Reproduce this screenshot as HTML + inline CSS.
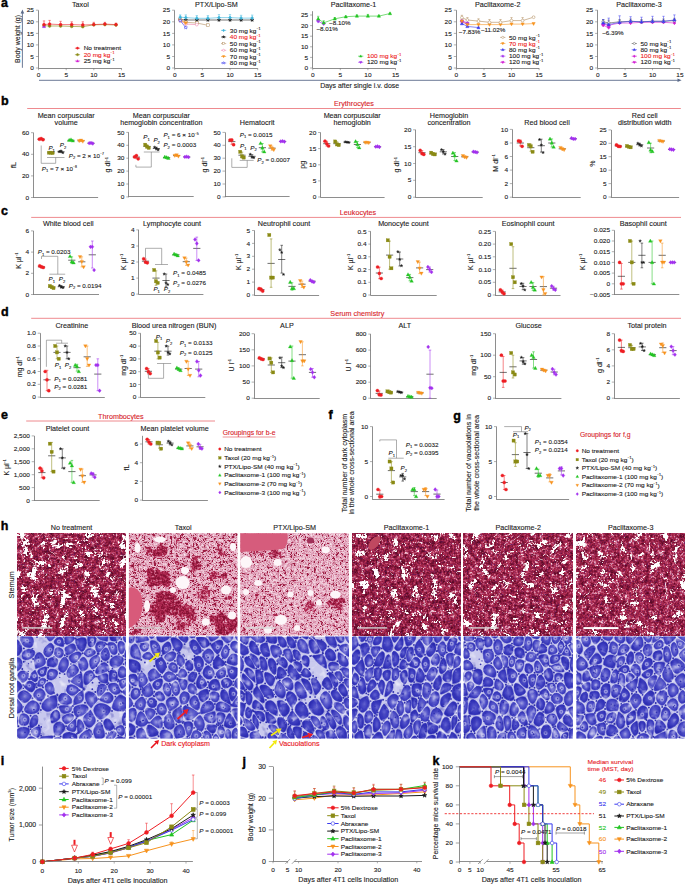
<!DOCTYPE html>
<html><head><meta charset="utf-8"><title>figure</title>
<style>
html,body{margin:0;padding:0;background:#fff;}
svg{display:block;}
text{font-family:"Liberation Sans",sans-serif;stroke:#222222;stroke-width:0.11px;}
</style></head><body>
<svg width="685" height="884" viewBox="0 0 685 884">
<rect width="685" height="884" fill="#fff"/>
<g fill="#222222">
<text x="1" y="7" font-size="12.50" fill="#000" style="stroke:#000;stroke-width:0.4px" font-weight="bold">a</text>
<path d="M20.6 13.6L22.4 9.6L24.2 13.6Z" fill="#5b6b8a"/>
<text x="20" y="39" font-size="6.90" text-anchor="middle" transform="rotate(-90 20 39)">Body weight (g)</text>
<path d="M677.5 78.5L681.6 80.3L677.5 82.1Z" fill="#5b6b8a"/>
<text x="359.7" y="88.4" font-size="6.50" text-anchor="middle" transform="translate(359.7 88.4) scale(1.07 1) translate(-359.7 -88.4)">Days after single i.v. dose</text>
<text x="33.9" y="70.2" font-size="6.07" text-anchor="end" transform="translate(33.9 70.2) scale(1.07 1) translate(-33.9 -70.2)">0</text>
<text x="33.9" y="58.7" font-size="6.07" text-anchor="end" transform="translate(33.9 58.7) scale(1.07 1) translate(-33.9 -58.7)">5</text>
<text x="33.9" y="47.1" font-size="6.07" text-anchor="end" transform="translate(33.9 47.1) scale(1.07 1) translate(-33.9 -47.1)">10</text>
<text x="33.9" y="35.6" font-size="6.07" text-anchor="end" transform="translate(33.9 35.6) scale(1.07 1) translate(-33.9 -35.6)">15</text>
<text x="33.9" y="24" font-size="6.07" text-anchor="end" transform="translate(33.9 24) scale(1.07 1) translate(-33.9 -24)">20</text>
<text x="33.9" y="12.4" font-size="6.07" text-anchor="end" transform="translate(33.9 12.4) scale(1.07 1) translate(-33.9 -12.4)">25</text>
<text x="38.5" y="77" font-size="6.07" text-anchor="middle" transform="translate(38.5 77) scale(1.07 1) translate(-38.5 -77)">0</text>
<text x="66.2" y="77" font-size="6.07" text-anchor="middle" transform="translate(66.2 77) scale(1.07 1) translate(-66.2 -77)">5</text>
<text x="93.8" y="77" font-size="6.07" text-anchor="middle" transform="translate(93.8 77) scale(1.07 1) translate(-93.8 -77)">10</text>
<text x="121.5" y="77" font-size="6.07" text-anchor="middle" transform="translate(121.5 77) scale(1.07 1) translate(-121.5 -77)">15</text>
<text x="80.4" y="7" font-size="6.86" text-anchor="middle" transform="translate(80.4 7) scale(1.05 1) translate(-80.4 -7)">Taxol</text>
<polyline points="44,25.7 49.6,26 60.6,26 71.7,26.4 82.8,26.7 93.8,24.8 104.9,24.6 116,25" fill="none" stroke="#8a8a14" stroke-width="0.6"/>
<polyline points="44,26.4" fill="none" stroke="#a230ee" stroke-width="0.6"/>
<polyline points="44,24.6 49.6,24.1 60.6,24.6 71.7,24.6 82.8,25 93.8,24.6 104.9,24.1 116,24.6" fill="none" stroke="#ee1d23" stroke-width="0.6"/>
<text x="83.7" y="50.4" font-size="6.07" transform="translate(83.7 50.4) scale(1.07 1) translate(-83.7 -50.4)">No treatment</text>
<text x="83.7" y="56.9" font-size="6.07" fill="#ee1d23" style="stroke:#ee1d23" transform="translate(83.7 56.9) scale(1.07 1) translate(-83.7 -56.9)">20 mg kg<tspan font-size="3.4" dy="-2.5">−1</tspan></text>
<text x="83.7" y="63.2" font-size="6.07" transform="translate(83.7 63.2) scale(1.07 1) translate(-83.7 -63.2)">25 mg kg<tspan font-size="3.4" dy="-2.5">−1</tspan></text>
<path d="M22.4 67.8L22.4 12.5M39 80.3L678.5 80.3" stroke="#5b6b8a" stroke-width="0.9" fill="none"/>
<path d="M38.5 10.3L38.5 68.3M38.5 68.5L121.5 68.5" stroke="#7a7a7a" stroke-width="0.85" fill="none"/>
<path d="M35.9 68L38.5 68M35.9 56.5L38.5 56.5M35.9 44.9L38.5 44.9M35.9 33.4L38.5 33.4M35.9 21.8L38.5 21.8M35.9 10.2L38.5 10.2M38.5 68L38.5 70.2M66.2 68L66.2 70.2M93.8 68L93.8 70.2M121.5 68L121.5 70.2" stroke="#7a7a7a" stroke-width="0.6" fill="none"/>
<path d="M44 24.6L44 20.9M42.8 20.9L45.2 20.9M49.6 24.1L49.6 20.4M48.4 20.4L50.8 20.4M60.6 24.6L60.6 21.3M59.4 21.3L61.8 21.3M71.7 24.6L71.7 21.8M70.5 21.8L72.9 21.8M82.8 25L82.8 21.8M81.6 21.8L84 21.8M93.8 24.6L93.8 22.3M92.6 22.3L95 22.3M104.9 24.1L104.9 22.3M103.7 22.3L106.1 22.3M116 24.6L116 23.2M114.8 23.2L117.2 23.2" stroke="#ee1d23" stroke-width="0.5" fill="none"/>
<path d="M74.9 48.2L80.1 48.2" stroke="#ee1d23" stroke-width="0.6" fill="none"/>
<path d="M74.9 54.7L80.1 54.7" stroke="#8a8a14" stroke-width="0.6" fill="none"/>
<path d="M74.9 61L80.1 61" stroke="#d21ed2" stroke-width="0.6" fill="none"/>
<circle cx="44" cy="25.7" r="1.4" fill="#8a8a14" stroke="#8a8a14" stroke-width="0.5"/>
<circle cx="49.6" cy="26" r="1.4" fill="#8a8a14" stroke="#8a8a14" stroke-width="0.5"/>
<circle cx="60.6" cy="26" r="1.4" fill="#8a8a14" stroke="#8a8a14" stroke-width="0.5"/>
<circle cx="71.7" cy="26.4" r="1.4" fill="#8a8a14" stroke="#8a8a14" stroke-width="0.5"/>
<circle cx="82.8" cy="26.7" r="1.4" fill="#8a8a14" stroke="#8a8a14" stroke-width="0.5"/>
<circle cx="93.8" cy="24.8" r="1.4" fill="#8a8a14" stroke="#8a8a14" stroke-width="0.5"/>
<circle cx="104.9" cy="24.6" r="1.4" fill="#8a8a14" stroke="#8a8a14" stroke-width="0.5"/>
<circle cx="116" cy="25" r="1.4" fill="#8a8a14" stroke="#8a8a14" stroke-width="0.5"/>
<path d="M44 24.7L45.6 27.6L42.4 27.6Z" fill="#a230ee" stroke="#a230ee" stroke-width="0.5"/>
<circle cx="44" cy="24.6" r="1.4" fill="#ee1d23" stroke="#ee1d23" stroke-width="0.5"/>
<circle cx="49.6" cy="24.1" r="1.4" fill="#ee1d23" stroke="#ee1d23" stroke-width="0.5"/>
<circle cx="60.6" cy="24.6" r="1.4" fill="#ee1d23" stroke="#ee1d23" stroke-width="0.5"/>
<circle cx="71.7" cy="24.6" r="1.4" fill="#ee1d23" stroke="#ee1d23" stroke-width="0.5"/>
<circle cx="82.8" cy="25" r="1.4" fill="#ee1d23" stroke="#ee1d23" stroke-width="0.5"/>
<circle cx="93.8" cy="24.6" r="1.4" fill="#ee1d23" stroke="#ee1d23" stroke-width="0.5"/>
<circle cx="104.9" cy="24.1" r="1.4" fill="#ee1d23" stroke="#ee1d23" stroke-width="0.5"/>
<circle cx="116" cy="24.6" r="1.4" fill="#ee1d23" stroke="#ee1d23" stroke-width="0.5"/>
<circle cx="77.5" cy="48.2" r="1.1" fill="#ee1d23" stroke="#ee1d23" stroke-width="0.45"/>
<circle cx="77.5" cy="54.7" r="1.1" fill="#8a8a14" stroke="#8a8a14" stroke-width="0.45"/>
<path d="M77.5 59.7L78.7 61.9L76.3 61.9Z" fill="#d21ed2" stroke="#d21ed2" stroke-width="0.45"/>
<text x="170.1" y="70.2" font-size="6.07" text-anchor="end" transform="translate(170.1 70.2) scale(1.07 1) translate(-170.1 -70.2)">0</text>
<text x="170.1" y="58.7" font-size="6.07" text-anchor="end" transform="translate(170.1 58.7) scale(1.07 1) translate(-170.1 -58.7)">5</text>
<text x="170.1" y="47.1" font-size="6.07" text-anchor="end" transform="translate(170.1 47.1) scale(1.07 1) translate(-170.1 -47.1)">10</text>
<text x="170.1" y="35.6" font-size="6.07" text-anchor="end" transform="translate(170.1 35.6) scale(1.07 1) translate(-170.1 -35.6)">15</text>
<text x="170.1" y="24" font-size="6.07" text-anchor="end" transform="translate(170.1 24) scale(1.07 1) translate(-170.1 -24)">20</text>
<text x="170.1" y="12.4" font-size="6.07" text-anchor="end" transform="translate(170.1 12.4) scale(1.07 1) translate(-170.1 -12.4)">25</text>
<text x="174.7" y="77" font-size="6.07" text-anchor="middle" transform="translate(174.7 77) scale(1.07 1) translate(-174.7 -77)">0</text>
<text x="202.4" y="77" font-size="6.07" text-anchor="middle" transform="translate(202.4 77) scale(1.07 1) translate(-202.4 -77)">5</text>
<text x="230" y="77" font-size="6.07" text-anchor="middle" transform="translate(230 77) scale(1.07 1) translate(-230 -77)">10</text>
<text x="257.7" y="77" font-size="6.07" text-anchor="middle" transform="translate(257.7 77) scale(1.07 1) translate(-257.7 -77)">15</text>
<text x="216.4" y="7" font-size="6.86" text-anchor="middle" transform="translate(216.4 7) scale(1.05 1) translate(-216.4 -7)">PTX/Lipo-SM</text>
<polyline points="180.2,19.5 185.8,20 196.8,20 207.9,20 219,20 230,20 241.1,20 252.2,20" fill="none" stroke="#1a1a1a" stroke-width="0.6"/>
<polyline points="180.2,19.5 185.8,22.3 196.8,23 207.9,25.3" fill="none" stroke="#b08a5a" stroke-width="0.6"/>
<polyline points="180.2,20.6 185.8,24.1 196.8,24.6" fill="none" stroke="#f07aa8" stroke-width="0.6"/>
<polyline points="180.2,20.6 185.8,23" fill="none" stroke="#f7931e" stroke-width="0.6"/>
<polyline points="180.2,20.6 185.8,27.6" fill="none" stroke="#3a3aee" stroke-width="0.6"/>
<polyline points="180.2,17.2 185.8,17.6 196.8,18.3 207.9,18.3 219,17.6 230,17.6 241.1,18.1 252.2,18.1" fill="none" stroke="#3fb6dc" stroke-width="0.6"/>
<text x="229.8" y="32.6" font-size="6.07" transform="translate(229.8 32.6) scale(1.07 1) translate(-229.8 -32.6)">30 mg kg<tspan font-size="3.4" dy="-2.5">−1</tspan></text>
<text x="229.8" y="39.2" font-size="6.07" fill="#ee1d23" style="stroke:#ee1d23" transform="translate(229.8 39.2) scale(1.07 1) translate(-229.8 -39.2)">40 mg kg<tspan font-size="3.4" dy="-2.5">−1</tspan></text>
<text x="229.8" y="45.8" font-size="6.07" transform="translate(229.8 45.8) scale(1.07 1) translate(-229.8 -45.8)">50 mg kg<tspan font-size="3.4" dy="-2.5">−1</tspan></text>
<text x="229.8" y="52.5" font-size="6.07" transform="translate(229.8 52.5) scale(1.07 1) translate(-229.8 -52.5)">60 mg kg<tspan font-size="3.4" dy="-2.5">−1</tspan></text>
<text x="229.8" y="58.7" font-size="6.07" transform="translate(229.8 58.7) scale(1.07 1) translate(-229.8 -58.7)">70 mg kg<tspan font-size="3.4" dy="-2.5">−1</tspan></text>
<text x="229.8" y="65.2" font-size="6.07" transform="translate(229.8 65.2) scale(1.07 1) translate(-229.8 -65.2)">80 mg kg<tspan font-size="3.4" dy="-2.5">−1</tspan></text>
<path d="M174.5 10.3L174.5 68.3M174.7 68.5L257.7 68.5" stroke="#7a7a7a" stroke-width="0.85" fill="none"/>
<path d="M172.1 68L174.7 68M172.1 56.5L174.7 56.5M172.1 44.9L174.7 44.9M172.1 33.4L174.7 33.4M172.1 21.8L174.7 21.8M172.1 10.2L174.7 10.2M174.7 68L174.7 70.2M202.4 68L202.4 70.2M230 68L230 70.2M257.7 68L257.7 70.2" stroke="#7a7a7a" stroke-width="0.6" fill="none"/>
<path d="M180.2 19.5L180.2 18.1M179 18.1L181.4 18.1M185.8 22.3L185.8 21.1M184.6 21.1L187 21.1M196.8 23L196.8 21.8M195.6 21.8L198 21.8M207.9 25.3L207.9 24.1M206.7 24.1L209.1 24.1" stroke="#b08a5a" stroke-width="0.5" fill="none"/>
<path d="M180.2 17.2L180.2 14.9M179 14.9L181.4 14.9M185.8 17.6L185.8 14.9M184.6 14.9L187 14.9M196.8 18.3L196.8 15.6M195.6 15.6L198 15.6M207.9 18.3L207.9 15.6M206.7 15.6L209.1 15.6M219 17.6L219 14.6M217.8 14.6L220.2 14.6M230 17.6L230 14.6M228.8 14.6L231.2 14.6M241.1 18.1L241.1 15.3M239.9 15.3L242.3 15.3M252.2 18.1L252.2 15.1M251 15.1L253.4 15.1" stroke="#3fb6dc" stroke-width="0.5" fill="none"/>
<path d="M221 30.4L226.2 30.4" stroke="#3fb6dc" stroke-width="0.6" fill="none"/>
<path d="M221 37L226.2 37" stroke="#1a1a1a" stroke-width="0.6" fill="none"/>
<path d="M221 43.6L226.2 43.6" stroke="#b08a5a" stroke-width="0.6" fill="none"/>
<path d="M221 50.3L226.2 50.3" stroke="#f07aa8" stroke-width="0.6" fill="none"/>
<path d="M221 56.5L226.2 56.5" stroke="#f7931e" stroke-width="0.6" fill="none"/>
<path d="M221 63L226.2 63" stroke="#3a3aee" stroke-width="0.6" fill="none"/>
<path d="M180.2 17.7L180.7 18.9L182 18.9L180.9 19.7L181.3 21L180.2 20.2L179.2 21L179.5 19.7L178.5 18.9L179.8 18.9Z" fill="#1a1a1a" stroke="#1a1a1a" stroke-width="0.5"/>
<path d="M185.8 18.1L186.2 19.4L187.5 19.4L186.5 20.2L186.8 21.4L185.8 20.7L184.7 21.4L185.1 20.2L184 19.4L185.3 19.4Z" fill="#1a1a1a" stroke="#1a1a1a" stroke-width="0.5"/>
<path d="M196.8 18.1L197.3 19.4L198.6 19.4L197.5 20.2L197.9 21.4L196.8 20.7L195.8 21.4L196.1 20.2L195.1 19.4L196.4 19.4Z" fill="#1a1a1a" stroke="#1a1a1a" stroke-width="0.5"/>
<path d="M207.9 18.1L208.3 19.4L209.6 19.4L208.6 20.2L209 21.4L207.9 20.7L206.8 21.4L207.2 20.2L206.2 19.4L207.5 19.4Z" fill="#1a1a1a" stroke="#1a1a1a" stroke-width="0.5"/>
<path d="M219 18.1L219.4 19.4L220.7 19.4L219.7 20.2L220 21.4L219 20.7L217.9 21.4L218.3 20.2L217.2 19.4L218.5 19.4Z" fill="#1a1a1a" stroke="#1a1a1a" stroke-width="0.5"/>
<path d="M230 18.1L230.5 19.4L231.8 19.4L230.7 20.2L231.1 21.4L230 20.7L229 21.4L229.3 20.2L228.3 19.4L229.6 19.4Z" fill="#1a1a1a" stroke="#1a1a1a" stroke-width="0.5"/>
<path d="M241.1 18.1L241.5 19.4L242.8 19.4L241.8 20.2L242.2 21.4L241.1 20.7L240 21.4L240.4 20.2L239.4 19.4L240.7 19.4Z" fill="#1a1a1a" stroke="#1a1a1a" stroke-width="0.5"/>
<path d="M252.2 18.1L252.6 19.4L253.9 19.4L252.9 20.2L253.2 21.4L252.2 20.7L251.1 21.4L251.5 20.2L250.4 19.4L251.7 19.4Z" fill="#1a1a1a" stroke="#1a1a1a" stroke-width="0.5"/>
<rect x="178.8" y="18" width="2.9" height="2.9" fill="#fff" stroke="#b08a5a" stroke-width="0.5"/>
<rect x="184.3" y="20.8" width="2.9" height="2.9" fill="#fff" stroke="#b08a5a" stroke-width="0.5"/>
<rect x="195.4" y="21.5" width="2.9" height="2.9" fill="#fff" stroke="#b08a5a" stroke-width="0.5"/>
<rect x="206.4" y="23.8" width="2.9" height="2.9" fill="#fff" stroke="#b08a5a" stroke-width="0.5"/>
<circle cx="180.2" cy="20.6" r="1.4" fill="#fff" stroke="#f07aa8" stroke-width="0.5"/>
<circle cx="185.8" cy="24.1" r="1.4" fill="#fff" stroke="#f07aa8" stroke-width="0.5"/>
<circle cx="196.8" cy="24.6" r="1.4" fill="#fff" stroke="#f07aa8" stroke-width="0.5"/>
<path d="M180.2 22.4L181.8 19.5L178.6 19.5Z" fill="#f7931e" stroke="#f7931e" stroke-width="0.5"/>
<path d="M185.8 24.7L187.4 21.8L184.2 21.8Z" fill="#f7931e" stroke="#f7931e" stroke-width="0.5"/>
<path d="M180.2 18.8L180.7 20.1L182 20.1L180.9 20.9L181.3 22.1L180.2 21.4L179.2 22.1L179.5 20.9L178.5 20.1L179.8 20.1Z" fill="#fff" stroke="#3a3aee" stroke-width="0.5"/>
<path d="M185.8 25.8L186.2 27L187.5 27L186.5 27.8L186.8 29L185.8 28.3L184.7 29L185.1 27.8L184 27L185.3 27Z" fill="#fff" stroke="#3a3aee" stroke-width="0.5"/>
<path d="M180.2 15.4L181.7 17.2L180.2 18.9L178.8 17.2Z" fill="#3fb6dc" stroke="#3fb6dc" stroke-width="0.5"/>
<path d="M185.8 15.9L187.2 17.6L185.8 19.4L184.3 17.6Z" fill="#3fb6dc" stroke="#3fb6dc" stroke-width="0.5"/>
<path d="M196.8 16.6L198.3 18.3L196.8 20.1L195.4 18.3Z" fill="#3fb6dc" stroke="#3fb6dc" stroke-width="0.5"/>
<path d="M207.9 16.6L209.3 18.3L207.9 20.1L206.4 18.3Z" fill="#3fb6dc" stroke="#3fb6dc" stroke-width="0.5"/>
<path d="M219 15.9L220.4 17.6L219 19.4L217.5 17.6Z" fill="#3fb6dc" stroke="#3fb6dc" stroke-width="0.5"/>
<path d="M230 15.9L231.5 17.6L230 19.4L228.6 17.6Z" fill="#3fb6dc" stroke="#3fb6dc" stroke-width="0.5"/>
<path d="M241.1 16.4L242.5 18.1L241.1 19.8L239.7 18.1Z" fill="#3fb6dc" stroke="#3fb6dc" stroke-width="0.5"/>
<path d="M252.2 16.4L253.6 18.1L252.2 19.8L250.7 18.1Z" fill="#3fb6dc" stroke="#3fb6dc" stroke-width="0.5"/>
<path d="M223.6 29.1L224.7 30.4L223.6 31.7L222.5 30.4Z" fill="#3fb6dc" stroke="#3fb6dc" stroke-width="0.45"/>
<path d="M223.6 35.6L223.9 36.6L224.9 36.6L224.1 37.2L224.4 38.1L223.6 37.5L222.8 38.1L223.1 37.2L222.3 36.6L223.3 36.6Z" fill="#1a1a1a" stroke="#1a1a1a" stroke-width="0.45"/>
<rect x="222.5" y="42.5" width="2.2" height="2.2" fill="#fff" stroke="#b08a5a" stroke-width="0.45"/>
<circle cx="223.6" cy="50.3" r="1.1" fill="#fff" stroke="#f07aa8" stroke-width="0.45"/>
<path d="M223.6 57.8L224.8 55.6L222.4 55.6Z" fill="#f7931e" stroke="#f7931e" stroke-width="0.45"/>
<path d="M223.6 61.6L223.9 62.6L224.9 62.6L224.1 63.2L224.4 64.1L223.6 63.5L222.8 64.1L223.1 63.2L222.3 62.6L223.3 62.6Z" fill="#fff" stroke="#3a3aee" stroke-width="0.45"/>
<text x="308.1" y="70.2" font-size="6.07" text-anchor="end" transform="translate(308.1 70.2) scale(1.07 1) translate(-308.1 -70.2)">0</text>
<text x="308.1" y="59.6" font-size="6.07" text-anchor="end" transform="translate(308.1 59.6) scale(1.07 1) translate(-308.1 -59.6)">5</text>
<text x="308.1" y="49" font-size="6.07" text-anchor="end" transform="translate(308.1 49) scale(1.07 1) translate(-308.1 -49)">10</text>
<text x="308.1" y="38.4" font-size="6.07" text-anchor="end" transform="translate(308.1 38.4) scale(1.07 1) translate(-308.1 -38.4)">15</text>
<text x="308.1" y="27.8" font-size="6.07" text-anchor="end" transform="translate(308.1 27.8) scale(1.07 1) translate(-308.1 -27.8)">20</text>
<text x="308.1" y="17.2" font-size="6.07" text-anchor="end" transform="translate(308.1 17.2) scale(1.07 1) translate(-308.1 -17.2)">25</text>
<text x="312.7" y="77" font-size="6.07" text-anchor="middle" transform="translate(312.7 77) scale(1.07 1) translate(-312.7 -77)">0</text>
<text x="340.3" y="77" font-size="6.07" text-anchor="middle" transform="translate(340.3 77) scale(1.07 1) translate(-340.3 -77)">5</text>
<text x="367.9" y="77" font-size="6.07" text-anchor="middle" transform="translate(367.9 77) scale(1.07 1) translate(-367.9 -77)">10</text>
<text x="395.5" y="77" font-size="6.07" text-anchor="middle" transform="translate(395.5 77) scale(1.07 1) translate(-395.5 -77)">15</text>
<text x="353.6" y="7" font-size="6.86" text-anchor="middle" transform="translate(353.6 7) scale(1.05 1) translate(-353.6 -7)">Paclitaxome-1</text>
<polyline points="318.2,21.4 323.7,23.9" fill="none" stroke="#a230ee" stroke-width="0.6"/>
<polyline points="318.2,18.8 323.7,22.8 334.8,18.8 345.8,16.7 356.9,16.1 367.9,16.1 378.9,16.1 390,13.5" fill="none" stroke="#22c422" stroke-width="0.6"/>
<text x="366.9" y="58.4" font-size="6.07" fill="#ee1d23" style="stroke:#ee1d23" transform="translate(366.9 58.4) scale(1.07 1) translate(-366.9 -58.4)">100 mg kg<tspan font-size="3.4" dy="-2.5">−1</tspan></text>
<text x="366.9" y="64.5" font-size="6.07" transform="translate(366.9 64.5) scale(1.07 1) translate(-366.9 -64.5)">120 mg kg<tspan font-size="3.4" dy="-2.5">−1</tspan></text>
<text x="329" y="25.1" font-size="5.89" transform="translate(329 25.1) scale(1.07 1) translate(-329 -25.1)">−8.10%</text>
<text x="316.4" y="31" font-size="5.89" transform="translate(316.4 31) scale(1.07 1) translate(-316.4 -31)">−8.01%</text>
<path d="M312.5 11.2L312.5 68.3M312.7 68.5L395.5 68.5" stroke="#7a7a7a" stroke-width="0.85" fill="none"/>
<path d="M310.1 68L312.7 68M310.1 57.4L312.7 57.4M310.1 46.8L312.7 46.8M310.1 36.2L312.7 36.2M310.1 25.6L312.7 25.6M310.1 15L312.7 15M312.7 68L312.7 70.2M340.3 68L340.3 70.2M367.9 68L367.9 70.2M395.5 68L395.5 70.2" stroke="#7a7a7a" stroke-width="0.6" fill="none"/>
<path d="M318.2 18.8L318.2 16.3M317 16.3L319.4 16.3M323.7 22.8L323.7 20.7M322.5 20.7L324.9 20.7M334.8 18.8L334.8 17.5M333.6 17.5L336 17.5M345.8 16.7L345.8 16.1M344.6 16.1L347 16.1M356.9 16.1L356.9 15M355.7 15L358.1 15M367.9 16.1L367.9 14.4M366.7 14.4L369.1 14.4M378.9 16.1L378.9 15.4M377.7 15.4L380.1 15.4M390 13.5L390 13.1M388.8 13.1L391.2 13.1" stroke="#22c422" stroke-width="0.5" fill="none"/>
<path d="M358.1 56.2L363.3 56.2" stroke="#22c422" stroke-width="0.6" fill="none"/>
<path d="M358.1 62.3L363.3 62.3" stroke="#a230ee" stroke-width="0.6" fill="none"/>
<path d="M318.2 23.1L319.8 21.1A0.8 0.8 0 0 0 318.2 20.6A0.8 0.8 0 0 0 316.6 21.1Z" fill="#a230ee" stroke="#a230ee" stroke-width="0.5"/>
<path d="M323.7 25.6L325.3 23.6A0.8 0.8 0 0 0 323.7 23.2A0.8 0.8 0 0 0 322.1 23.6Z" fill="#a230ee" stroke="#a230ee" stroke-width="0.5"/>
<path d="M318.2 17.1L319.8 20L316.6 20Z" fill="#22c422" stroke="#22c422" stroke-width="0.5"/>
<path d="M323.7 21.1L325.3 24L322.1 24Z" fill="#22c422" stroke="#22c422" stroke-width="0.5"/>
<path d="M334.8 17.1L336.4 20L333.2 20Z" fill="#22c422" stroke="#22c422" stroke-width="0.5"/>
<path d="M345.8 15L347.4 17.9L344.2 17.9Z" fill="#22c422" stroke="#22c422" stroke-width="0.5"/>
<path d="M356.9 14.3L358.5 17.2L355.3 17.2Z" fill="#22c422" stroke="#22c422" stroke-width="0.5"/>
<path d="M367.9 14.3L369.5 17.2L366.3 17.2Z" fill="#22c422" stroke="#22c422" stroke-width="0.5"/>
<path d="M378.9 14.3L380.5 17.2L377.3 17.2Z" fill="#22c422" stroke="#22c422" stroke-width="0.5"/>
<path d="M390 11.8L391.6 14.7L388.4 14.7Z" fill="#22c422" stroke="#22c422" stroke-width="0.5"/>
<path d="M360.7 54.9L361.9 57.1L359.5 57.1Z" fill="#22c422" stroke="#22c422" stroke-width="0.45"/>
<path d="M360.7 63.6L361.9 62.1A0.6 0.6 0 0 0 360.7 61.8A0.6 0.6 0 0 0 359.5 62.1Z" fill="#a230ee" stroke="#a230ee" stroke-width="0.45"/>
<text x="451.8" y="70.2" font-size="6.07" text-anchor="end" transform="translate(451.8 70.2) scale(1.07 1) translate(-451.8 -70.2)">0</text>
<text x="451.8" y="58.7" font-size="6.07" text-anchor="end" transform="translate(451.8 58.7) scale(1.07 1) translate(-451.8 -58.7)">5</text>
<text x="451.8" y="47.1" font-size="6.07" text-anchor="end" transform="translate(451.8 47.1) scale(1.07 1) translate(-451.8 -47.1)">10</text>
<text x="451.8" y="35.6" font-size="6.07" text-anchor="end" transform="translate(451.8 35.6) scale(1.07 1) translate(-451.8 -35.6)">15</text>
<text x="451.8" y="24" font-size="6.07" text-anchor="end" transform="translate(451.8 24) scale(1.07 1) translate(-451.8 -24)">20</text>
<text x="451.8" y="12.4" font-size="6.07" text-anchor="end" transform="translate(451.8 12.4) scale(1.07 1) translate(-451.8 -12.4)">25</text>
<text x="456.4" y="77" font-size="6.07" text-anchor="middle" transform="translate(456.4 77) scale(1.07 1) translate(-456.4 -77)">0</text>
<text x="484" y="77" font-size="6.07" text-anchor="middle" transform="translate(484 77) scale(1.07 1) translate(-484 -77)">5</text>
<text x="511.5" y="77" font-size="6.07" text-anchor="middle" transform="translate(511.5 77) scale(1.07 1) translate(-511.5 -77)">10</text>
<text x="539.1" y="77" font-size="6.07" text-anchor="middle" transform="translate(539.1 77) scale(1.07 1) translate(-539.1 -77)">15</text>
<text x="497.7" y="7" font-size="6.86" text-anchor="middle" transform="translate(497.7 7) scale(1.05 1) translate(-497.7 -7)">Paclitaxome-2</text>
<polyline points="461.9,21.8 467.4,24.1" fill="none" stroke="#d21ed2" stroke-width="0.6"/>
<polyline points="461.9,20.6 467.4,23" fill="none" stroke="#a230ee" stroke-width="0.6"/>
<polyline points="461.9,23.6 467.4,26.4 478.5,27.6" fill="none" stroke="#3a3aee" stroke-width="0.6"/>
<polyline points="461.9,21.1 467.4,24.6 478.5,24.6 489.5,24.6 500.5,24.6 511.5,24.1 522.6,24.1 533.6,23.6" fill="none" stroke="#f7931e" stroke-width="0.6"/>
<polyline points="461.9,17.6 467.4,20 478.5,21.1 489.5,22.3 500.5,22.3 511.5,20.6 522.6,20.6 533.6,17.2" fill="none" stroke="#b08a5a" stroke-width="0.6"/>
<text x="509" y="39.6" font-size="6.07" transform="translate(509 39.6) scale(1.07 1) translate(-509 -39.6)">50 mg kg<tspan font-size="3.4" dy="-2.5">−1</tspan></text>
<text x="509" y="45.7" font-size="6.07" fill="#ee1d23" style="stroke:#ee1d23" transform="translate(509 45.7) scale(1.07 1) translate(-509 -45.7)">70 mg kg<tspan font-size="3.4" dy="-2.5">−1</tspan></text>
<text x="509" y="51.9" font-size="6.07" transform="translate(509 51.9) scale(1.07 1) translate(-509 -51.9)">80 mg kg<tspan font-size="3.4" dy="-2.5">−1</tspan></text>
<text x="509" y="58.4" font-size="6.07" transform="translate(509 58.4) scale(1.07 1) translate(-509 -58.4)">100 mg kg<tspan font-size="3.4" dy="-2.5">−1</tspan></text>
<text x="509" y="64.5" font-size="6.07" transform="translate(509 64.5) scale(1.07 1) translate(-509 -64.5)">120 mg kg<tspan font-size="3.4" dy="-2.5">−1</tspan></text>
<text x="458.8" y="34.3" font-size="5.89" transform="translate(458.8 34.3) scale(1.07 1) translate(-458.8 -34.3)">−7.83%</text>
<text x="480.9" y="32" font-size="5.89" transform="translate(480.9 32) scale(1.07 1) translate(-480.9 -32)">−11.02%</text>
<path d="M456.5 10.2L456.5 68.3M456.4 68.5L539.1 68.5" stroke="#7a7a7a" stroke-width="0.85" fill="none"/>
<path d="M453.8 68L456.4 68M453.8 56.5L456.4 56.5M453.8 44.9L456.4 44.9M453.8 33.4L456.4 33.4M453.8 21.8L456.4 21.8M453.8 10.2L456.4 10.2M456.4 68L456.4 70.2M484 68L484 70.2M511.5 68L511.5 70.2M539.1 68L539.1 70.2" stroke="#7a7a7a" stroke-width="0.6" fill="none"/>
<path d="M461.9 17.6L461.9 15.3M460.7 15.3L463.1 15.3M467.4 20L467.4 17.6M466.2 17.6L468.6 17.6M478.5 21.1L478.5 18.8M477.3 18.8L479.7 18.8M489.5 22.3L489.5 19.5M488.3 19.5L490.7 19.5M500.5 22.3L500.5 19.5M499.3 19.5L501.7 19.5M511.5 20.6L511.5 17.6M510.3 17.6L512.7 17.6M522.6 20.6L522.6 17.6M521.4 17.6L523.8 17.6M533.6 17.2L533.6 16.5M532.4 16.5L534.8 16.5" stroke="#b08a5a" stroke-width="0.5" fill="none"/>
<path d="M500.2 37.4L505.4 37.4" stroke="#b08a5a" stroke-width="0.6" fill="none"/>
<path d="M500.2 43.5L505.4 43.5" stroke="#f7931e" stroke-width="0.6" fill="none"/>
<path d="M500.2 49.7L505.4 49.7" stroke="#3a3aee" stroke-width="0.6" fill="none"/>
<path d="M500.2 56.2L505.4 56.2" stroke="#a230ee" stroke-width="0.6" fill="none"/>
<path d="M500.2 62.3L505.4 62.3" stroke="#d21ed2" stroke-width="0.6" fill="none"/>
<path d="M461.9 23.5L463.5 21.5A0.8 0.8 0 0 0 461.9 21.1A0.8 0.8 0 0 0 460.3 21.5Z" fill="#d21ed2" stroke="#d21ed2" stroke-width="0.5"/>
<path d="M467.4 25.8L469 23.8A0.8 0.8 0 0 0 467.4 23.4A0.8 0.8 0 0 0 465.8 23.8Z" fill="#d21ed2" stroke="#d21ed2" stroke-width="0.5"/>
<path d="M461.9 18.8L462.3 20.1L463.6 20.1L462.6 20.9L463 22.1L461.9 21.4L460.8 22.1L461.2 20.9L460.2 20.1L461.5 20.1Z" fill="#a230ee" stroke="#a230ee" stroke-width="0.5"/>
<path d="M467.4 21.1L467.9 22.4L469.2 22.4L468.1 23.2L468.5 24.4L467.4 23.7L466.4 24.4L466.7 23.2L465.7 22.4L467 22.4Z" fill="#a230ee" stroke="#a230ee" stroke-width="0.5"/>
<path d="M461.9 21.9L463.5 24.8L460.3 24.8Z" fill="#3a3aee" stroke="#3a3aee" stroke-width="0.5"/>
<path d="M467.4 24.7L469 27.6L465.8 27.6Z" fill="#3a3aee" stroke="#3a3aee" stroke-width="0.5"/>
<path d="M478.5 25.8L480 28.7L476.9 28.7Z" fill="#3a3aee" stroke="#3a3aee" stroke-width="0.5"/>
<path d="M461.9 22.8L463.5 19.9L460.3 19.9Z" fill="#f7931e" stroke="#f7931e" stroke-width="0.5"/>
<path d="M467.4 26.3L469 23.4L465.8 23.4Z" fill="#f7931e" stroke="#f7931e" stroke-width="0.5"/>
<path d="M478.5 26.3L480 23.4L476.9 23.4Z" fill="#f7931e" stroke="#f7931e" stroke-width="0.5"/>
<path d="M489.5 26.3L491.1 23.4L487.9 23.4Z" fill="#f7931e" stroke="#f7931e" stroke-width="0.5"/>
<path d="M500.5 26.3L502.1 23.4L498.9 23.4Z" fill="#f7931e" stroke="#f7931e" stroke-width="0.5"/>
<path d="M511.5 25.8L513.1 22.9L509.9 22.9Z" fill="#f7931e" stroke="#f7931e" stroke-width="0.5"/>
<path d="M522.6 25.8L524.2 22.9L521 22.9Z" fill="#f7931e" stroke="#f7931e" stroke-width="0.5"/>
<path d="M533.6 25.4L535.2 22.5L532 22.5Z" fill="#f7931e" stroke="#f7931e" stroke-width="0.5"/>
<circle cx="461.9" cy="17.6" r="1.4" fill="#fff" stroke="#b08a5a" stroke-width="0.5"/>
<circle cx="467.4" cy="20" r="1.4" fill="#fff" stroke="#b08a5a" stroke-width="0.5"/>
<circle cx="478.5" cy="21.1" r="1.4" fill="#fff" stroke="#b08a5a" stroke-width="0.5"/>
<circle cx="489.5" cy="22.3" r="1.4" fill="#fff" stroke="#b08a5a" stroke-width="0.5"/>
<circle cx="500.5" cy="22.3" r="1.4" fill="#fff" stroke="#b08a5a" stroke-width="0.5"/>
<circle cx="511.5" cy="20.6" r="1.4" fill="#fff" stroke="#b08a5a" stroke-width="0.5"/>
<circle cx="522.6" cy="20.6" r="1.4" fill="#fff" stroke="#b08a5a" stroke-width="0.5"/>
<circle cx="533.6" cy="17.2" r="1.4" fill="#fff" stroke="#b08a5a" stroke-width="0.5"/>
<circle cx="502.8" cy="37.4" r="1.1" fill="#fff" stroke="#b08a5a" stroke-width="0.45"/>
<path d="M502.8 44.8L504 42.6L501.6 42.6Z" fill="#f7931e" stroke="#f7931e" stroke-width="0.45"/>
<path d="M502.8 48.4L504 50.6L501.6 50.6Z" fill="#3a3aee" stroke="#3a3aee" stroke-width="0.45"/>
<path d="M502.8 54.8L503.1 55.8L504.1 55.8L503.3 56.4L503.6 57.3L502.8 56.8L502 57.3L502.3 56.4L501.5 55.8L502.5 55.8Z" fill="#a230ee" stroke="#a230ee" stroke-width="0.45"/>
<path d="M502.8 63.6L504 62.1A0.6 0.6 0 0 0 502.8 61.8A0.6 0.6 0 0 0 501.6 62.1Z" fill="#d21ed2" stroke="#d21ed2" stroke-width="0.45"/>
<text x="593.1" y="70.2" font-size="6.07" text-anchor="end" transform="translate(593.1 70.2) scale(1.07 1) translate(-593.1 -70.2)">0</text>
<text x="593.1" y="58.7" font-size="6.07" text-anchor="end" transform="translate(593.1 58.7) scale(1.07 1) translate(-593.1 -58.7)">5</text>
<text x="593.1" y="47.1" font-size="6.07" text-anchor="end" transform="translate(593.1 47.1) scale(1.07 1) translate(-593.1 -47.1)">10</text>
<text x="593.1" y="35.6" font-size="6.07" text-anchor="end" transform="translate(593.1 35.6) scale(1.07 1) translate(-593.1 -35.6)">15</text>
<text x="593.1" y="24" font-size="6.07" text-anchor="end" transform="translate(593.1 24) scale(1.07 1) translate(-593.1 -24)">20</text>
<text x="593.1" y="12.4" font-size="6.07" text-anchor="end" transform="translate(593.1 12.4) scale(1.07 1) translate(-593.1 -12.4)">25</text>
<text x="597.7" y="77" font-size="6.07" text-anchor="middle" transform="translate(597.7 77) scale(1.07 1) translate(-597.7 -77)">0</text>
<text x="625.1" y="77" font-size="6.07" text-anchor="middle" transform="translate(625.1 77) scale(1.07 1) translate(-625.1 -77)">5</text>
<text x="652.5" y="77" font-size="6.07" text-anchor="middle" transform="translate(652.5 77) scale(1.07 1) translate(-652.5 -77)">10</text>
<text x="679.9" y="77" font-size="6.07" text-anchor="middle" transform="translate(679.9 77) scale(1.07 1) translate(-679.9 -77)">15</text>
<text x="639" y="7" font-size="6.86" text-anchor="middle" transform="translate(639 7) scale(1.05 1) translate(-639 -7)">Paclitaxome-3</text>
<polyline points="603.2,25.3 608.7,27.6" fill="none" stroke="#d21ed2" stroke-width="0.6"/>
<polyline points="603.2,24.1 608.7,25.3 619.6,23 630.6,23 641.5,22.3 652.5,22.3 663.5,22.3 674.4,23" fill="none" stroke="#d21ed2" stroke-width="0.6"/>
<polyline points="603.2,21.8 608.7,23 619.6,21.8 630.6,21.3 641.5,21.8 652.5,21.3 663.5,21.3 674.4,20.6" fill="none" stroke="#555555" stroke-width="0.6"/>
<polyline points="603.2,23 608.7,24.6 619.6,22.3 630.6,21.3 641.5,21.8 652.5,21.3 663.5,21.3 674.4,20" fill="none" stroke="#3a3aee" stroke-width="0.6"/>
<text x="640.5" y="45.7" font-size="6.07" transform="translate(640.5 45.7) scale(1.07 1) translate(-640.5 -45.7)">50 mg kg<tspan font-size="3.4" dy="-2.5">−1</tspan></text>
<text x="640.5" y="51.9" font-size="6.07" transform="translate(640.5 51.9) scale(1.07 1) translate(-640.5 -51.9)">80 mg kg<tspan font-size="3.4" dy="-2.5">−1</tspan></text>
<text x="640.5" y="58.4" font-size="6.07" fill="#ee1d23" style="stroke:#ee1d23" transform="translate(640.5 58.4) scale(1.07 1) translate(-640.5 -58.4)">100 mg kg<tspan font-size="3.4" dy="-2.5">−1</tspan></text>
<text x="640.5" y="64.5" font-size="6.07" transform="translate(640.5 64.5) scale(1.07 1) translate(-640.5 -64.5)">120 mg kg<tspan font-size="3.4" dy="-2.5">−1</tspan></text>
<text x="602.2" y="35.3" font-size="5.89" transform="translate(602.2 35.3) scale(1.07 1) translate(-602.2 -35.3)">−6.39%</text>
<path d="M597.5 10.2L597.5 68.3M597.7 68.5L679.9 68.5" stroke="#7a7a7a" stroke-width="0.85" fill="none"/>
<path d="M595.1 68L597.7 68M595.1 56.5L597.7 56.5M595.1 44.9L597.7 44.9M595.1 33.4L597.7 33.4M595.1 21.8L597.7 21.8M595.1 10.2L597.7 10.2M597.7 68L597.7 70.2M625.1 68L625.1 70.2M652.5 68L652.5 70.2M679.9 68L679.9 70.2" stroke="#7a7a7a" stroke-width="0.6" fill="none"/>
<path d="M603.2 21.8L603.2 19.5M602 19.5L604.4 19.5M608.7 23L608.7 20.2M607.5 20.2L609.9 20.2M619.6 21.8L619.6 19.5M618.4 19.5L620.8 19.5M630.6 21.3L630.6 19M629.4 19L631.8 19M641.5 21.8L641.5 19.5M640.3 19.5L642.7 19.5M652.5 21.3L652.5 19M651.3 19L653.7 19M663.5 21.3L663.5 19M662.3 19L664.7 19M674.4 20.6L674.4 18.3M673.2 18.3L675.6 18.3" stroke="#555555" stroke-width="0.5" fill="none"/>
<path d="M603.2 23L603.2 19.5M602 19.5L604.4 19.5M608.7 24.6L608.7 18.1M607.5 18.1L609.9 18.1M619.6 22.3L619.6 15.8M618.4 15.8L620.8 15.8M630.6 21.3L630.6 16.7M629.4 16.7L631.8 16.7M641.5 21.8L641.5 17.2M640.3 17.2L642.7 17.2M652.5 21.3L652.5 16.3M651.3 16.3L653.7 16.3M663.5 21.3L663.5 16.3M662.3 16.3L664.7 16.3M674.4 20L674.4 14.9M673.2 14.9L675.6 14.9" stroke="#3a3aee" stroke-width="0.5" fill="none"/>
<path d="M631.7 43.5L636.9 43.5" stroke="#555555" stroke-width="0.6" fill="none"/>
<path d="M631.7 49.7L636.9 49.7" stroke="#3a3aee" stroke-width="0.6" fill="none"/>
<path d="M631.7 56.2L636.9 56.2M631.7 62.3L636.9 62.3" stroke="#d21ed2" stroke-width="0.6" fill="none"/>
<path d="M603.2 27L604.8 25A0.8 0.8 0 0 0 603.2 24.5A0.8 0.8 0 0 0 601.6 25Z" fill="#d21ed2" stroke="#d21ed2" stroke-width="0.5"/>
<path d="M608.7 29.3L610.3 27.3A0.8 0.8 0 0 0 608.7 26.8A0.8 0.8 0 0 0 607.1 27.3Z" fill="#d21ed2" stroke="#d21ed2" stroke-width="0.5"/>
<path d="M603.2 22.4L604.6 24.1L603.2 25.8L601.7 24.1Z" fill="#d21ed2" stroke="#d21ed2" stroke-width="0.5"/>
<path d="M608.7 23.5L610.1 25.3L608.7 27L607.2 25.3Z" fill="#d21ed2" stroke="#d21ed2" stroke-width="0.5"/>
<path d="M619.6 21.2L621.1 23L619.6 24.7L618.2 23Z" fill="#d21ed2" stroke="#d21ed2" stroke-width="0.5"/>
<path d="M630.6 21.2L632 23L630.6 24.7L629.1 23Z" fill="#d21ed2" stroke="#d21ed2" stroke-width="0.5"/>
<path d="M641.5 20.5L643 22.3L641.5 24L640.1 22.3Z" fill="#d21ed2" stroke="#d21ed2" stroke-width="0.5"/>
<path d="M652.5 20.5L654 22.3L652.5 24L651 22.3Z" fill="#d21ed2" stroke="#d21ed2" stroke-width="0.5"/>
<path d="M663.5 20.5L664.9 22.3L663.5 24L662 22.3Z" fill="#d21ed2" stroke="#d21ed2" stroke-width="0.5"/>
<path d="M674.4 21.2L675.9 23L674.4 24.7L673 23Z" fill="#d21ed2" stroke="#d21ed2" stroke-width="0.5"/>
<circle cx="603.2" cy="21.8" r="1.4" fill="#fff" stroke="#555555" stroke-width="0.5"/>
<circle cx="608.7" cy="23" r="1.4" fill="#fff" stroke="#555555" stroke-width="0.5"/>
<circle cx="619.6" cy="21.8" r="1.4" fill="#fff" stroke="#555555" stroke-width="0.5"/>
<circle cx="630.6" cy="21.3" r="1.4" fill="#fff" stroke="#555555" stroke-width="0.5"/>
<circle cx="641.5" cy="21.8" r="1.4" fill="#fff" stroke="#555555" stroke-width="0.5"/>
<circle cx="652.5" cy="21.3" r="1.4" fill="#fff" stroke="#555555" stroke-width="0.5"/>
<circle cx="663.5" cy="21.3" r="1.4" fill="#fff" stroke="#555555" stroke-width="0.5"/>
<circle cx="674.4" cy="20.6" r="1.4" fill="#fff" stroke="#555555" stroke-width="0.5"/>
<path d="M603.2 21.2L604.8 24.1L601.6 24.1Z" fill="#3a3aee" stroke="#3a3aee" stroke-width="0.5"/>
<path d="M608.7 22.8L610.3 25.7L607.1 25.7Z" fill="#3a3aee" stroke="#3a3aee" stroke-width="0.5"/>
<path d="M619.6 20.5L621.2 23.4L618 23.4Z" fill="#3a3aee" stroke="#3a3aee" stroke-width="0.5"/>
<path d="M630.6 19.6L632.2 22.5L629 22.5Z" fill="#3a3aee" stroke="#3a3aee" stroke-width="0.5"/>
<path d="M641.5 20.1L643.1 23L639.9 23Z" fill="#3a3aee" stroke="#3a3aee" stroke-width="0.5"/>
<path d="M652.5 19.6L654.1 22.5L650.9 22.5Z" fill="#3a3aee" stroke="#3a3aee" stroke-width="0.5"/>
<path d="M663.5 19.6L665.1 22.5L661.9 22.5Z" fill="#3a3aee" stroke="#3a3aee" stroke-width="0.5"/>
<path d="M674.4 18.2L676 21.1L672.8 21.1Z" fill="#3a3aee" stroke="#3a3aee" stroke-width="0.5"/>
<circle cx="634.3" cy="43.5" r="1.1" fill="#fff" stroke="#555555" stroke-width="0.45"/>
<path d="M634.3 48.4L635.5 50.6L633.1 50.6Z" fill="#3a3aee" stroke="#3a3aee" stroke-width="0.45"/>
<path d="M634.3 54.9L635.4 56.2L634.3 57.5L633.2 56.2Z" fill="#d21ed2" stroke="#d21ed2" stroke-width="0.45"/>
<path d="M634.3 63.6L635.5 62.1A0.6 0.6 0 0 0 634.3 61.8A0.6 0.6 0 0 0 633.1 62.1Z" fill="#d21ed2" stroke="#d21ed2" stroke-width="0.45"/>
<text x="1" y="104.8" font-size="12.50" fill="#000" style="stroke:#000;stroke-width:0.4px" font-weight="bold">b</text>
<text x="354" y="105.7" font-size="6.73" text-anchor="middle" fill="#d8242b" style="stroke:#d8242b" transform="translate(354 105.7) scale(1.07 1) translate(-354 -105.7)">Erythrocytes</text>
<text x="66.2" y="117.6" font-size="6.86" text-anchor="middle" transform="translate(66.2 117.6) scale(1.05 1) translate(-66.2 -117.6)">Mean corpuscular</text>
<text x="66.2" y="125.5" font-size="6.86" text-anchor="middle" transform="translate(66.2 125.5) scale(1.05 1) translate(-66.2 -125.5)">volume</text>
<text x="161.3" y="117.6" font-size="6.86" text-anchor="middle" transform="translate(161.3 117.6) scale(1.05 1) translate(-161.3 -117.6)">Mean corpuscular</text>
<text x="161.3" y="125.5" font-size="6.86" text-anchor="middle" transform="translate(161.3 125.5) scale(1.05 1) translate(-161.3 -125.5)">hemoglobin concentration</text>
<text x="257.2" y="125.5" font-size="6.86" text-anchor="middle" transform="translate(257.2 125.5) scale(1.05 1) translate(-257.2 -125.5)">Hematocrit</text>
<text x="352.2" y="117.6" font-size="6.86" text-anchor="middle" transform="translate(352.2 117.6) scale(1.05 1) translate(-352.2 -117.6)">Mean corpuscular</text>
<text x="352.2" y="125.5" font-size="6.86" text-anchor="middle" transform="translate(352.2 125.5) scale(1.05 1) translate(-352.2 -125.5)">hemoglobin</text>
<text x="449" y="117.6" font-size="6.86" text-anchor="middle" transform="translate(449 117.6) scale(1.05 1) translate(-449 -117.6)">Hemoglobin</text>
<text x="449" y="125.5" font-size="6.86" text-anchor="middle" transform="translate(449 125.5) scale(1.05 1) translate(-449 -125.5)">concentration</text>
<text x="547" y="125.5" font-size="6.86" text-anchor="middle" transform="translate(547 125.5) scale(1.05 1) translate(-547 -125.5)">Red blood cell</text>
<text x="644.7" y="117.6" font-size="6.86" text-anchor="middle" transform="translate(644.7 117.6) scale(1.05 1) translate(-644.7 -117.6)">Red cell</text>
<text x="644.7" y="125.5" font-size="6.86" text-anchor="middle" transform="translate(644.7 125.5) scale(1.05 1) translate(-644.7 -125.5)">distribution width</text>
<text x="29.2" y="199.7" font-size="6.07" text-anchor="end" transform="translate(29.2 199.7) scale(1.07 1) translate(-29.2 -199.7)">0</text>
<text x="29.2" y="178.1" font-size="6.07" text-anchor="end" transform="translate(29.2 178.1) scale(1.07 1) translate(-29.2 -178.1)">20</text>
<text x="29.2" y="156.5" font-size="6.07" text-anchor="end" transform="translate(29.2 156.5) scale(1.07 1) translate(-29.2 -156.5)">40</text>
<text x="29.2" y="134.9" font-size="6.07" text-anchor="end" transform="translate(29.2 134.9) scale(1.07 1) translate(-29.2 -134.9)">60</text>
<path d="M27.2 108.5L680.8 108.5" stroke="#e8636a" stroke-width="0.75" fill="none"/>
<path d="M33.5 132.7L33.5 197.8M33.2 197.5L98.1 197.5" stroke="#7a7a7a" stroke-width="0.85" fill="none"/>
<path d="M31 197.5L33.6 197.5M31 175.9L33.6 175.9M31 154.3L33.6 154.3M31 132.7L33.6 132.7" stroke="#7a7a7a" stroke-width="0.6" fill="none"/>
<path d="M41.2 139.7L41.2 138.6M39.9 139.7L42.5 139.7M39.9 138.6L42.5 138.6" stroke="#ee1d23" stroke-width="0.55" fill="none"/>
<path d="M37.6 139.2L44.8 139.2M47.2 152.8L54.4 152.8M57.4 151.8L64.6 151.8M67.4 140.3L74.6 140.3M77.4 140.8L84.6 140.8M87.4 143.2L94.6 143.2" stroke="#222" stroke-width="0.65" fill="none"/>
<path d="M61 152.6L61 151M59.7 152.6L62.3 152.6M59.7 151L62.3 151" stroke="#1a1a1a" stroke-width="0.55" fill="none"/>
<path d="M71 140.8L71 139.7M69.7 140.8L72.3 140.8M69.7 139.7L72.3 139.7" stroke="#22c422" stroke-width="0.55" fill="none"/>
<path d="M81 141.3L81 140.3M79.7 141.3L82.3 141.3M79.7 140.3L82.3 140.3" stroke="#f7931e" stroke-width="0.55" fill="none"/>
<circle cx="39.4" cy="139.2" r="1.6" fill="#ee1d23" stroke="#ee1d23" stroke-width="0.3"/>
<circle cx="41.2" cy="138.6" r="1.6" fill="#ee1d23" stroke="#ee1d23" stroke-width="0.3"/>
<circle cx="43" cy="139.7" r="1.6" fill="#ee1d23" stroke="#ee1d23" stroke-width="0.3"/>
<rect x="47.4" y="151.1" width="3.2" height="3.2" fill="#8a8a14" stroke="#8a8a14" stroke-width="0.3"/>
<rect x="49.2" y="151.1" width="3.2" height="3.2" fill="#8a8a14" stroke="#8a8a14" stroke-width="0.3"/>
<rect x="51" y="151.4" width="3.2" height="3.2" fill="#8a8a14" stroke="#8a8a14" stroke-width="0.3"/>
<path d="M59.2 150.1L59.6 151.1L60.6 151.1L59.8 151.8L60.1 152.8L59.2 152.2L58.3 152.8L58.6 151.8L57.8 151.1L58.8 151.1Z" fill="#1a1a1a" stroke="#1a1a1a" stroke-width="0.3"/>
<path d="M61 149.6L61.4 150.6L62.4 150.6L61.6 151.2L61.9 152.3L61 151.7L60.1 152.3L60.4 151.2L59.6 150.6L60.6 150.6Z" fill="#1a1a1a" stroke="#1a1a1a" stroke-width="0.3"/>
<path d="M62.8 151.2L63.2 152.2L64.2 152.2L63.4 152.9L63.7 153.9L62.8 153.3L61.9 153.9L62.2 152.9L61.4 152.2L62.4 152.2Z" fill="#1a1a1a" stroke="#1a1a1a" stroke-width="0.3"/>
<path d="M69.2 138.3L71 141.5L67.4 141.5Z" fill="#22c422" stroke="#22c422" stroke-width="0.3"/>
<path d="M71 137.8L72.8 141L69.2 141Z" fill="#22c422" stroke="#22c422" stroke-width="0.3"/>
<path d="M72.8 138.9L74.6 142.1L71 142.1Z" fill="#22c422" stroke="#22c422" stroke-width="0.3"/>
<path d="M79.2 142.7L81 139.5L77.4 139.5Z" fill="#f7931e" stroke="#f7931e" stroke-width="0.3"/>
<path d="M81 142.2L82.8 139L79.2 139Z" fill="#f7931e" stroke="#f7931e" stroke-width="0.3"/>
<path d="M82.8 143.3L84.6 140.1L81 140.1Z" fill="#f7931e" stroke="#f7931e" stroke-width="0.3"/>
<path d="M89.2 141.3L90.8 143.2L89.2 145.1L87.6 143.2Z" fill="#a230ee" stroke="#a230ee" stroke-width="0.3"/>
<path d="M91 141L92.6 143L91 144.9L89.4 143Z" fill="#a230ee" stroke="#a230ee" stroke-width="0.3"/>
<path d="M92.8 141.6L94.4 143.5L92.8 145.4L91.2 143.5Z" fill="#a230ee" stroke="#a230ee" stroke-width="0.3"/>
<text x="16.1" y="165" font-size="7.00" text-anchor="middle" transform="rotate(-90 16.1 165)">fL</text>
<polyline points="41.2,145.5 41.2,163.3 55.7,163.3 55.7,157.5" fill="none" stroke="#777" stroke-width="0.6"/>
<text x="48.4" y="150.4" font-size="5.89" transform="translate(48.4 150.4) scale(1.07 1) translate(-48.4 -150.4)"><tspan font-style="italic">P</tspan><tspan font-size="3.91" dy="1.57">1</tspan></text>
<text x="59.8" y="147" font-size="5.89" transform="translate(59.8 147) scale(1.07 1) translate(-59.8 -147)"><tspan font-style="italic">P</tspan><tspan font-size="3.91" dy="1.57">2</tspan></text>
<text x="68.7" y="157.6" font-size="5.89" transform="translate(68.7 157.6) scale(1.07 1) translate(-68.7 -157.6)"><tspan font-style="italic">P</tspan><tspan font-size="3.91" dy="1.57">2</tspan><tspan dy="-1.57"> = 2 × 10<tspan font-size="3.3" dy="-2.3">−7</tspan></tspan></text>
<text x="41.7" y="170.6" font-size="5.89" transform="translate(41.7 170.6) scale(1.07 1) translate(-41.7 -170.6)"><tspan font-style="italic">P</tspan><tspan font-size="3.91" dy="1.57">1</tspan><tspan dy="-1.57"> = 7 × 10<tspan font-size="3.3" dy="-2.3">−8</tspan></tspan></text>
<text x="124.5" y="199.1" font-size="6.07" text-anchor="end" transform="translate(124.5 199.1) scale(1.07 1) translate(-124.5 -199.1)">0</text>
<text x="124.5" y="186.2" font-size="6.07" text-anchor="end" transform="translate(124.5 186.2) scale(1.07 1) translate(-124.5 -186.2)">10</text>
<text x="124.5" y="173.3" font-size="6.07" text-anchor="end" transform="translate(124.5 173.3) scale(1.07 1) translate(-124.5 -173.3)">20</text>
<text x="124.5" y="160.4" font-size="6.07" text-anchor="end" transform="translate(124.5 160.4) scale(1.07 1) translate(-124.5 -160.4)">30</text>
<text x="124.5" y="147.5" font-size="6.07" text-anchor="end" transform="translate(124.5 147.5) scale(1.07 1) translate(-124.5 -147.5)">40</text>
<text x="124.5" y="134.6" font-size="6.07" text-anchor="end" transform="translate(124.5 134.6) scale(1.07 1) translate(-124.5 -134.6)">50</text>
<path d="M47 157.5L64.5 157.5" stroke="#777" stroke-width="0.6" fill="none"/>
<path d="M128.5 132.4L128.5 197.2M128.6 196.5L193.7 196.5" stroke="#7a7a7a" stroke-width="0.85" fill="none"/>
<path d="M126.3 196.9L128.9 196.9M126.3 184L128.9 184M126.3 171.1L128.9 171.1M126.3 158.2L128.9 158.2M126.3 145.3L128.9 145.3M126.3 132.4L128.9 132.4" stroke="#7a7a7a" stroke-width="0.6" fill="none"/>
<path d="M136.4 158.7L136.4 155.5M135.1 158.7L137.7 158.7M135.1 155.5L137.7 155.5" stroke="#ee1d23" stroke-width="0.55" fill="none"/>
<path d="M132.8 157.1L140 157.1M143.4 146.4L150.6 146.4M152.8 148.5L160 148.5M163 157.6L170.2 157.6M173 155.6L180.2 155.6M183.1 156.9L190.3 156.9" stroke="#222" stroke-width="0.65" fill="none"/>
<path d="M147 148L147 144.8M145.7 148L148.3 148M145.7 144.8L148.3 144.8" stroke="#8a8a14" stroke-width="0.55" fill="none"/>
<path d="M156.4 149.8L156.4 147.2M155.1 149.8L157.7 149.8M155.1 147.2L157.7 147.2" stroke="#1a1a1a" stroke-width="0.55" fill="none"/>
<path d="M166.6 158.2L166.6 156.9M165.3 158.2L167.9 158.2M165.3 156.9L167.9 156.9" stroke="#22c422" stroke-width="0.55" fill="none"/>
<path d="M176.6 156.3L176.6 155M175.3 156.3L177.9 156.3M175.3 155L177.9 155" stroke="#f7931e" stroke-width="0.55" fill="none"/>
<circle cx="134.6" cy="156.9" r="1.6" fill="#ee1d23" stroke="#ee1d23" stroke-width="0.3"/>
<circle cx="136.4" cy="155.6" r="1.6" fill="#ee1d23" stroke="#ee1d23" stroke-width="0.3"/>
<circle cx="138.2" cy="158.8" r="1.6" fill="#ee1d23" stroke="#ee1d23" stroke-width="0.3"/>
<rect x="143.6" y="143.1" width="3.2" height="3.2" fill="#8a8a14" stroke="#8a8a14" stroke-width="0.3"/>
<rect x="145.4" y="145" width="3.2" height="3.2" fill="#8a8a14" stroke="#8a8a14" stroke-width="0.3"/>
<rect x="147.2" y="146.3" width="3.2" height="3.2" fill="#8a8a14" stroke="#8a8a14" stroke-width="0.3"/>
<path d="M154.6 145.7L155 146.7L156 146.8L155.2 147.4L155.5 148.4L154.6 147.8L153.7 148.4L154 147.4L153.2 146.8L154.2 146.7Z" fill="#1a1a1a" stroke="#1a1a1a" stroke-width="0.3"/>
<path d="M156.4 147L156.8 148L157.8 148.1L157 148.7L157.3 149.7L156.4 149.1L155.5 149.7L155.8 148.7L155 148.1L156 148Z" fill="#1a1a1a" stroke="#1a1a1a" stroke-width="0.3"/>
<path d="M158.2 148.3L158.6 149.3L159.6 149.4L158.8 150L159.1 151L158.2 150.4L157.3 151L157.6 150L156.8 149.4L157.8 149.3Z" fill="#1a1a1a" stroke="#1a1a1a" stroke-width="0.3"/>
<path d="M164.8 155L166.6 158.2L163 158.2Z" fill="#22c422" stroke="#22c422" stroke-width="0.3"/>
<path d="M166.6 155.6L168.4 158.8L164.8 158.8Z" fill="#22c422" stroke="#22c422" stroke-width="0.3"/>
<path d="M168.4 156.3L170.2 159.5L166.6 159.5Z" fill="#22c422" stroke="#22c422" stroke-width="0.3"/>
<path d="M174.8 157.5L176.6 154.3L173 154.3Z" fill="#f7931e" stroke="#f7931e" stroke-width="0.3"/>
<path d="M176.6 156.9L178.4 153.7L174.8 153.7Z" fill="#f7931e" stroke="#f7931e" stroke-width="0.3"/>
<path d="M178.4 158.2L180.2 155L176.6 155Z" fill="#f7931e" stroke="#f7931e" stroke-width="0.3"/>
<path d="M184.9 155L186.5 156.9L184.9 158.8L183.3 156.9Z" fill="#a230ee" stroke="#a230ee" stroke-width="0.3"/>
<path d="M186.7 154.7L188.3 156.7L186.7 158.6L185.1 156.7Z" fill="#a230ee" stroke="#a230ee" stroke-width="0.3"/>
<path d="M188.5 155.2L190.1 157.2L188.5 159.1L186.9 157.2Z" fill="#a230ee" stroke="#a230ee" stroke-width="0.3"/>
<text x="110.5" y="164.8" font-size="7.00" text-anchor="middle" transform="rotate(-90 110.5 164.8)">g dl<tspan font-size="3.50" dy="-2.94">−1</tspan></text>
<polyline points="135.9,164.8 135.9,167.1 151.3,167.1 151.3,152" fill="none" stroke="#777" stroke-width="0.6"/>
<text x="143.2" y="139" font-size="5.89" transform="translate(143.2 139) scale(1.07 1) translate(-143.2 -139)"><tspan font-style="italic">P</tspan><tspan font-size="3.91" dy="1.57">1</tspan></text>
<text x="153.4" y="142.2" font-size="5.89" transform="translate(153.4 142.2) scale(1.07 1) translate(-153.4 -142.2)"><tspan font-style="italic">P</tspan><tspan font-size="3.91" dy="1.57">2</tspan></text>
<text x="163.4" y="137" font-size="5.89" transform="translate(163.4 137) scale(1.07 1) translate(-163.4 -137)"><tspan font-style="italic">P</tspan><tspan font-size="3.91" dy="1.57">1</tspan><tspan dy="-1.57"> = 6 × 10<tspan font-size="3.3" dy="-2.3">−5</tspan></tspan></text>
<text x="163.4" y="147.2" font-size="5.89" transform="translate(163.4 147.2) scale(1.07 1) translate(-163.4 -147.2)"><tspan font-style="italic">P</tspan><tspan font-size="3.91" dy="1.57">2</tspan><tspan dy="-1.57"> = 0.0003</tspan></text>
<text x="220.7" y="199.1" font-size="6.07" text-anchor="end" transform="translate(220.7 199.1) scale(1.07 1) translate(-220.7 -199.1)">0</text>
<text x="220.7" y="186.2" font-size="6.07" text-anchor="end" transform="translate(220.7 186.2) scale(1.07 1) translate(-220.7 -186.2)">10</text>
<text x="220.7" y="173.3" font-size="6.07" text-anchor="end" transform="translate(220.7 173.3) scale(1.07 1) translate(-220.7 -173.3)">20</text>
<text x="220.7" y="160.4" font-size="6.07" text-anchor="end" transform="translate(220.7 160.4) scale(1.07 1) translate(-220.7 -160.4)">30</text>
<text x="220.7" y="147.5" font-size="6.07" text-anchor="end" transform="translate(220.7 147.5) scale(1.07 1) translate(-220.7 -147.5)">40</text>
<text x="220.7" y="134.6" font-size="6.07" text-anchor="end" transform="translate(220.7 134.6) scale(1.07 1) translate(-220.7 -134.6)">50</text>
<path d="M143.8 152L159.6 152" stroke="#777" stroke-width="0.6" fill="none"/>
<path d="M225.5 132.4L225.5 197.2M224.8 196.5L289.6 196.5" stroke="#7a7a7a" stroke-width="0.85" fill="none"/>
<path d="M222.5 196.9L225.1 196.9M222.5 184L225.1 184M222.5 171.1L225.1 171.1M222.5 158.2L225.1 158.2M222.5 145.3L225.1 145.3M222.5 132.4L225.1 132.4" stroke="#7a7a7a" stroke-width="0.6" fill="none"/>
<path d="M231.8 144.3L231.8 139M230.5 144.3L233.1 144.3M230.5 139L233.1 139" stroke="#ee1d23" stroke-width="0.55" fill="none"/>
<path d="M228.2 141.6L235.4 141.6M238.4 155.2L245.6 155.2M248.4 156.3L255.6 156.3M258.8 147.7L266 147.7M268.4 148.1L275.6 148.1M279 141.4L286.2 141.4" stroke="#222" stroke-width="0.65" fill="none"/>
<path d="M242 158.2L242 152.1M240.7 158.2L243.3 158.2M240.7 152.1L243.3 152.1" stroke="#8a8a14" stroke-width="0.55" fill="none"/>
<path d="M252 158L252 154.6M250.7 158L253.3 158M250.7 154.6L253.3 154.6" stroke="#1a1a1a" stroke-width="0.55" fill="none"/>
<path d="M262.4 151.9L262.4 143.5M261.1 151.9L263.7 151.9M261.1 143.5L263.7 143.5" stroke="#22c422" stroke-width="0.55" fill="none"/>
<path d="M272 150.1L272 146.1M270.7 150.1L273.3 150.1M270.7 146.1L273.3 146.1" stroke="#f7931e" stroke-width="0.55" fill="none"/>
<circle cx="230" cy="140.1" r="1.6" fill="#ee1d23" stroke="#ee1d23" stroke-width="0.3"/>
<circle cx="231.8" cy="140.1" r="1.6" fill="#ee1d23" stroke="#ee1d23" stroke-width="0.3"/>
<circle cx="233.6" cy="144.7" r="1.6" fill="#ee1d23" stroke="#ee1d23" stroke-width="0.3"/>
<rect x="238.6" y="150.2" width="3.2" height="3.2" fill="#8a8a14" stroke="#8a8a14" stroke-width="0.3"/>
<rect x="240.4" y="154.7" width="3.2" height="3.2" fill="#8a8a14" stroke="#8a8a14" stroke-width="0.3"/>
<rect x="242.2" y="156" width="3.2" height="3.2" fill="#8a8a14" stroke="#8a8a14" stroke-width="0.3"/>
<path d="M250.2 152.8L250.6 153.8L251.6 153.9L250.8 154.5L251.1 155.5L250.2 154.9L249.3 155.5L249.6 154.5L248.8 153.9L249.8 153.8Z" fill="#1a1a1a" stroke="#1a1a1a" stroke-width="0.3"/>
<path d="M252 155.4L252.4 156.4L253.4 156.4L252.6 157.1L252.9 158.1L252 157.5L251.1 158.1L251.4 157.1L250.6 156.4L251.6 156.4Z" fill="#1a1a1a" stroke="#1a1a1a" stroke-width="0.3"/>
<path d="M253.8 156.1L254.2 157.1L255.2 157.1L254.4 157.7L254.7 158.8L253.8 158.2L252.9 158.8L253.2 157.7L252.4 157.1L253.4 157.1Z" fill="#1a1a1a" stroke="#1a1a1a" stroke-width="0.3"/>
<path d="M260.6 141.4L262.4 144.6L258.8 144.6Z" fill="#22c422" stroke="#22c422" stroke-width="0.3"/>
<path d="M262.4 146L264.2 149.2L260.6 149.2Z" fill="#22c422" stroke="#22c422" stroke-width="0.3"/>
<path d="M264.2 149.8L266 153L262.4 153Z" fill="#22c422" stroke="#22c422" stroke-width="0.3"/>
<path d="M270.2 147.9L272 144.7L268.4 144.7Z" fill="#f7931e" stroke="#f7931e" stroke-width="0.3"/>
<path d="M272 150.4L273.8 147.2L270.2 147.2Z" fill="#f7931e" stroke="#f7931e" stroke-width="0.3"/>
<path d="M273.8 151.7L275.6 148.5L272 148.5Z" fill="#f7931e" stroke="#f7931e" stroke-width="0.3"/>
<path d="M280.8 139.5L282.4 141.4L280.8 143.3L279.2 141.4Z" fill="#a230ee" stroke="#a230ee" stroke-width="0.3"/>
<path d="M282.6 139.3L284.2 141.2L282.6 143.1L281 141.2Z" fill="#a230ee" stroke="#a230ee" stroke-width="0.3"/>
<path d="M284.4 139.8L286 141.7L284.4 143.6L282.8 141.7Z" fill="#a230ee" stroke="#a230ee" stroke-width="0.3"/>
<text x="207.3" y="164.8" font-size="7.00" text-anchor="middle" transform="rotate(-90 207.3 164.8)">g dl<tspan font-size="3.50" dy="-2.94">−1</tspan></text>
<polyline points="231.8,158.3 231.8,167.4 247.2,167.4 247.2,160.4" fill="none" stroke="#777" stroke-width="0.6"/>
<text x="239.7" y="136.7" font-size="5.89" transform="translate(239.7 136.7) scale(1.07 1) translate(-239.7 -136.7)"><tspan font-style="italic">P</tspan><tspan font-size="3.91" dy="1.57">1</tspan><tspan dy="-1.57"> = 0.0015</tspan></text>
<text x="240" y="148" font-size="5.89" transform="translate(240 148) scale(1.07 1) translate(-240 -148)"><tspan font-style="italic">P</tspan><tspan font-size="3.91" dy="1.57">1</tspan></text>
<text x="250.2" y="149.6" font-size="5.89" transform="translate(250.2 149.6) scale(1.07 1) translate(-250.2 -149.6)"><tspan font-style="italic">P</tspan><tspan font-size="3.91" dy="1.57">2</tspan></text>
<text x="257.2" y="162.4" font-size="5.89" transform="translate(257.2 162.4) scale(1.07 1) translate(-257.2 -162.4)"><tspan font-style="italic">P</tspan><tspan font-size="3.91" dy="1.57">2</tspan><tspan dy="-1.57"> = 0.0007</tspan></text>
<text x="316.3" y="199.2" font-size="6.07" text-anchor="end" transform="translate(316.3 199.2) scale(1.07 1) translate(-316.3 -199.2)">0</text>
<text x="316.3" y="183.1" font-size="6.07" text-anchor="end" transform="translate(316.3 183.1) scale(1.07 1) translate(-316.3 -183.1)">5</text>
<text x="316.3" y="166.9" font-size="6.07" text-anchor="end" transform="translate(316.3 166.9) scale(1.07 1) translate(-316.3 -166.9)">10</text>
<text x="316.3" y="150.8" font-size="6.07" text-anchor="end" transform="translate(316.3 150.8) scale(1.07 1) translate(-316.3 -150.8)">15</text>
<text x="316.3" y="134.7" font-size="6.07" text-anchor="end" transform="translate(316.3 134.7) scale(1.07 1) translate(-316.3 -134.7)">20</text>
<path d="M239.7 160.4L253.7 160.4" stroke="#777" stroke-width="0.6" fill="none"/>
<path d="M320.5 132.5L320.5 197.3M320.3 197.5L384.6 197.5" stroke="#7a7a7a" stroke-width="0.85" fill="none"/>
<path d="M318.1 197L320.7 197M318.1 180.9L320.7 180.9M318.1 164.8L320.7 164.8M318.1 148.6L320.7 148.6M318.1 132.5L320.7 132.5" stroke="#7a7a7a" stroke-width="0.6" fill="none"/>
<path d="M326.8 146.1L326.8 141.3M325.5 146.1L328.1 146.1M325.5 141.3L328.1 141.3" stroke="#ee1d23" stroke-width="0.55" fill="none"/>
<path d="M323.2 143.7L330.4 143.7M333.4 143.7L340.6 143.7M343.4 142.2L350.6 142.2M353.8 144.5L361 144.5M363.4 142.6L370.6 142.6M374 146.7L381.2 146.7" stroke="#222" stroke-width="0.65" fill="none"/>
<path d="M337 145.6L337 141.8M335.7 145.6L338.3 145.6M335.7 141.8L338.3 141.8" stroke="#8a8a14" stroke-width="0.55" fill="none"/>
<path d="M347 142.5L347 141.9M345.7 142.5L348.3 142.5M345.7 141.9L348.3 141.9" stroke="#1a1a1a" stroke-width="0.55" fill="none"/>
<path d="M357.4 147.6L357.4 141.5M356.1 147.6L358.7 147.6M356.1 141.5L358.7 141.5" stroke="#22c422" stroke-width="0.55" fill="none"/>
<path d="M377.6 147L377.6 146.4M376.3 147L378.9 147M376.3 146.4L378.9 146.4" stroke="#a230ee" stroke-width="0.55" fill="none"/>
<circle cx="325" cy="141.2" r="1.6" fill="#ee1d23" stroke="#ee1d23" stroke-width="0.3"/>
<circle cx="326.8" cy="143.8" r="1.6" fill="#ee1d23" stroke="#ee1d23" stroke-width="0.3"/>
<circle cx="328.6" cy="146" r="1.6" fill="#ee1d23" stroke="#ee1d23" stroke-width="0.3"/>
<rect x="333.6" y="139.9" width="3.2" height="3.2" fill="#8a8a14" stroke="#8a8a14" stroke-width="0.3"/>
<rect x="335.4" y="142.8" width="3.2" height="3.2" fill="#8a8a14" stroke="#8a8a14" stroke-width="0.3"/>
<rect x="337.2" y="143.5" width="3.2" height="3.2" fill="#8a8a14" stroke="#8a8a14" stroke-width="0.3"/>
<path d="M345.2 140.4L345.6 141.4L346.6 141.4L345.8 142L346.1 143.1L345.2 142.5L344.3 143.1L344.6 142L343.8 141.4L344.8 141.4Z" fill="#1a1a1a" stroke="#1a1a1a" stroke-width="0.3"/>
<path d="M347 140.7L347.4 141.7L348.4 141.7L347.6 142.4L347.9 143.4L347 142.8L346.1 143.4L346.4 142.4L345.6 141.7L346.6 141.7Z" fill="#1a1a1a" stroke="#1a1a1a" stroke-width="0.3"/>
<path d="M348.8 141L349.2 142L350.2 142L349.4 142.7L349.7 143.7L348.8 143.1L347.9 143.7L348.2 142.7L347.4 142L348.4 142Z" fill="#1a1a1a" stroke="#1a1a1a" stroke-width="0.3"/>
<path d="M355.6 139.6L357.4 142.8L353.8 142.8Z" fill="#22c422" stroke="#22c422" stroke-width="0.3"/>
<path d="M357.4 142.5L359.2 145.7L355.6 145.7Z" fill="#22c422" stroke="#22c422" stroke-width="0.3"/>
<path d="M359.2 145.7L361 148.9L357.4 148.9Z" fill="#22c422" stroke="#22c422" stroke-width="0.3"/>
<path d="M365.2 144.4L367 141.2L363.4 141.2Z" fill="#f7931e" stroke="#f7931e" stroke-width="0.3"/>
<path d="M367 144.4L368.8 141.2L365.2 141.2Z" fill="#f7931e" stroke="#f7931e" stroke-width="0.3"/>
<path d="M368.8 144.7L370.6 141.5L367 141.5Z" fill="#f7931e" stroke="#f7931e" stroke-width="0.3"/>
<path d="M375.8 144.8L377.4 146.7L375.8 148.6L374.2 146.7Z" fill="#a230ee" stroke="#a230ee" stroke-width="0.3"/>
<path d="M377.6 144.4L379.2 146.4L377.6 148.3L376 146.4Z" fill="#a230ee" stroke="#a230ee" stroke-width="0.3"/>
<path d="M379.4 145.1L381 147L379.4 148.9L377.8 147Z" fill="#a230ee" stroke="#a230ee" stroke-width="0.3"/>
<text x="304.9" y="164.8" font-size="7.00" text-anchor="middle" transform="rotate(-90 304.9 164.8)">pg</text>
<text x="411.3" y="199.4" font-size="6.07" text-anchor="end" transform="translate(411.3 199.4) scale(1.07 1) translate(-411.3 -199.4)">0</text>
<text x="411.3" y="182.5" font-size="6.07" text-anchor="end" transform="translate(411.3 182.5) scale(1.07 1) translate(-411.3 -182.5)">5</text>
<text x="411.3" y="165.7" font-size="6.07" text-anchor="end" transform="translate(411.3 165.7) scale(1.07 1) translate(-411.3 -165.7)">10</text>
<text x="411.3" y="148.8" font-size="6.07" text-anchor="end" transform="translate(411.3 148.8) scale(1.07 1) translate(-411.3 -148.8)">15</text>
<text x="411.3" y="132" font-size="6.07" text-anchor="end" transform="translate(411.3 132) scale(1.07 1) translate(-411.3 -132)">20</text>
<path d="M415.5 129.8L415.5 197.5M415.3 197.5L482.7 197.5" stroke="#7a7a7a" stroke-width="0.85" fill="none"/>
<path d="M413.1 197.2L415.7 197.2M413.1 180.3L415.7 180.3M413.1 163.5L415.7 163.5M413.1 146.7L415.7 146.7M413.1 129.8L415.7 129.8" stroke="#7a7a7a" stroke-width="0.6" fill="none"/>
<path d="M422 154.8L422 150.6M420.7 154.8L423.3 154.8M420.7 150.6L423.3 150.6" stroke="#ee1d23" stroke-width="0.55" fill="none"/>
<path d="M418.4 152.7L425.6 152.7M429.4 153.7L436.6 153.7M439.7 151.8L446.9 151.8M451.1 156.5L458.3 156.5M461.1 156.8L468.3 156.8M471.6 152L478.8 152" stroke="#222" stroke-width="0.65" fill="none"/>
<path d="M433 154.6L433 152.8M431.7 154.6L434.3 154.6M431.7 152.8L434.3 152.8" stroke="#8a8a14" stroke-width="0.55" fill="none"/>
<path d="M443.3 154L443.3 149.6M442 154L444.6 154M442 149.6L444.6 149.6" stroke="#1a1a1a" stroke-width="0.55" fill="none"/>
<path d="M454.7 160.5L454.7 152.6M453.4 160.5L456 160.5M453.4 152.6L456 152.6" stroke="#22c422" stroke-width="0.55" fill="none"/>
<path d="M464.7 157.7L464.7 155.9M463.4 157.7L466 157.7M463.4 155.9L466 155.9" stroke="#f7931e" stroke-width="0.55" fill="none"/>
<path d="M475.2 152.4L475.2 151.7M473.9 152.4L476.5 152.4M473.9 151.7L476.5 151.7" stroke="#a230ee" stroke-width="0.55" fill="none"/>
<circle cx="420.2" cy="150.4" r="1.6" fill="#ee1d23" stroke="#ee1d23" stroke-width="0.3"/>
<circle cx="422" cy="153.4" r="1.6" fill="#ee1d23" stroke="#ee1d23" stroke-width="0.3"/>
<circle cx="423.8" cy="154.4" r="1.6" fill="#ee1d23" stroke="#ee1d23" stroke-width="0.3"/>
<rect x="429.6" y="151.1" width="3.2" height="3.2" fill="#8a8a14" stroke="#8a8a14" stroke-width="0.3"/>
<rect x="431.4" y="152.5" width="3.2" height="3.2" fill="#8a8a14" stroke="#8a8a14" stroke-width="0.3"/>
<rect x="433.2" y="152.8" width="3.2" height="3.2" fill="#8a8a14" stroke="#8a8a14" stroke-width="0.3"/>
<path d="M441.5 148.2L441.9 149.2L442.9 149.2L442.1 149.9L442.4 150.9L441.5 150.3L440.6 150.9L440.9 149.9L440.1 149.2L441.1 149.2Z" fill="#1a1a1a" stroke="#1a1a1a" stroke-width="0.3"/>
<path d="M443.3 150.2L443.7 151.2L444.7 151.2L443.9 151.9L444.2 152.9L443.3 152.3L442.4 152.9L442.7 151.9L441.9 151.2L442.9 151.2Z" fill="#1a1a1a" stroke="#1a1a1a" stroke-width="0.3"/>
<path d="M445.1 152.6L445.5 153.6L446.5 153.6L445.7 154.2L446 155.3L445.1 154.7L444.2 155.3L444.5 154.2L443.7 153.6L444.7 153.6Z" fill="#1a1a1a" stroke="#1a1a1a" stroke-width="0.3"/>
<path d="M452.9 151.1L454.7 154.3L451.1 154.3Z" fill="#22c422" stroke="#22c422" stroke-width="0.3"/>
<path d="M454.7 153.8L456.5 157L452.9 157Z" fill="#22c422" stroke="#22c422" stroke-width="0.3"/>
<path d="M456.5 158.9L458.3 162.1L454.7 162.1Z" fill="#22c422" stroke="#22c422" stroke-width="0.3"/>
<path d="M462.9 157.7L464.7 154.5L461.1 154.5Z" fill="#f7931e" stroke="#f7931e" stroke-width="0.3"/>
<path d="M464.7 159L466.5 155.8L462.9 155.8Z" fill="#f7931e" stroke="#f7931e" stroke-width="0.3"/>
<path d="M466.5 159.4L468.3 156.2L464.7 156.2Z" fill="#f7931e" stroke="#f7931e" stroke-width="0.3"/>
<path d="M473.4 149.8L475 151.7L473.4 153.6L471.8 151.7Z" fill="#a230ee" stroke="#a230ee" stroke-width="0.3"/>
<path d="M475.2 150.1L476.8 152L475.2 154L473.6 152Z" fill="#a230ee" stroke="#a230ee" stroke-width="0.3"/>
<path d="M477 150.5L478.6 152.4L477 154.3L475.4 152.4Z" fill="#a230ee" stroke="#a230ee" stroke-width="0.3"/>
<text x="399.5" y="164.8" font-size="7.00" text-anchor="middle" transform="rotate(-90 399.5 164.8)">g dl<tspan font-size="3.50" dy="-2.94">−1</tspan></text>
<text x="508" y="199.4" font-size="6.07" text-anchor="end" transform="translate(508 199.4) scale(1.07 1) translate(-508 -199.4)">0</text>
<text x="508" y="185.8" font-size="6.07" text-anchor="end" transform="translate(508 185.8) scale(1.07 1) translate(-508 -185.8)">2</text>
<text x="508" y="172.3" font-size="6.07" text-anchor="end" transform="translate(508 172.3) scale(1.07 1) translate(-508 -172.3)">4</text>
<text x="508" y="158.7" font-size="6.07" text-anchor="end" transform="translate(508 158.7) scale(1.07 1) translate(-508 -158.7)">6</text>
<text x="508" y="145.2" font-size="6.07" text-anchor="end" transform="translate(508 145.2) scale(1.07 1) translate(-508 -145.2)">8</text>
<text x="508" y="131.6" font-size="6.07" text-anchor="end" transform="translate(508 131.6) scale(1.07 1) translate(-508 -131.6)">10</text>
<path d="M512.5 129.4L512.5 197.5M512 197.5L580.7 197.5" stroke="#7a7a7a" stroke-width="0.85" fill="none"/>
<path d="M509.8 197.2L512.4 197.2M509.8 183.6L512.4 183.6M509.8 170.1L512.4 170.1M509.8 156.5L512.4 156.5M509.8 143L512.4 143M509.8 129.4L512.4 129.4" stroke="#7a7a7a" stroke-width="0.6" fill="none"/>
<path d="M520.3 145.9L520.3 140M519 145.9L521.6 145.9M519 140L521.6 140" stroke="#ee1d23" stroke-width="0.55" fill="none"/>
<path d="M516.7 143L523.9 143M527.2 147.7L534.4 147.7M537.7 145.7L544.9 145.7M548.2 143L555.4 143M558.7 148.8L565.9 148.8M569.7 138.7L576.9 138.7" stroke="#222" stroke-width="0.65" fill="none"/>
<path d="M530.8 151.3L530.8 144.1M529.5 151.3L532.1 151.3M529.5 144.1L532.1 144.1" stroke="#8a8a14" stroke-width="0.55" fill="none"/>
<path d="M541.3 152.1L541.3 139.2M540 152.1L542.6 152.1M540 139.2L542.6 139.2" stroke="#1a1a1a" stroke-width="0.55" fill="none"/>
<path d="M551.8 147L551.8 138.9M550.5 147L553.1 147M550.5 138.9L553.1 138.9" stroke="#22c422" stroke-width="0.55" fill="none"/>
<path d="M562.3 149.9L562.3 147.8M561 149.9L563.6 149.9M561 147.8L563.6 147.8" stroke="#f7931e" stroke-width="0.55" fill="none"/>
<path d="M573.3 139.1L573.3 138.3M572 139.1L574.6 139.1M572 138.3L574.6 138.3" stroke="#a230ee" stroke-width="0.55" fill="none"/>
<circle cx="518.5" cy="140.9" r="1.6" fill="#ee1d23" stroke="#ee1d23" stroke-width="0.3"/>
<circle cx="520.3" cy="141.6" r="1.6" fill="#ee1d23" stroke="#ee1d23" stroke-width="0.3"/>
<circle cx="522.1" cy="146.3" r="1.6" fill="#ee1d23" stroke="#ee1d23" stroke-width="0.3"/>
<rect x="527.4" y="143.4" width="3.2" height="3.2" fill="#8a8a14" stroke="#8a8a14" stroke-width="0.3"/>
<rect x="529.2" y="144.8" width="3.2" height="3.2" fill="#8a8a14" stroke="#8a8a14" stroke-width="0.3"/>
<rect x="531" y="150.2" width="3.2" height="3.2" fill="#8a8a14" stroke="#8a8a14" stroke-width="0.3"/>
<path d="M539.5 138.1L539.9 139.1L540.9 139.1L540.1 139.8L540.4 140.8L539.5 140.2L538.6 140.8L538.9 139.8L538.1 139.1L539.1 139.1Z" fill="#1a1a1a" stroke="#1a1a1a" stroke-width="0.3"/>
<path d="M541.3 143.5L541.7 144.5L542.7 144.5L541.9 145.2L542.2 146.2L541.3 145.6L540.4 146.2L540.7 145.2L539.9 144.5L540.9 144.5Z" fill="#1a1a1a" stroke="#1a1a1a" stroke-width="0.3"/>
<path d="M543.1 151L543.5 152L544.5 152L543.7 152.6L544 153.7L543.1 153.1L542.2 153.7L542.5 152.6L541.7 152L542.7 152Z" fill="#1a1a1a" stroke="#1a1a1a" stroke-width="0.3"/>
<path d="M550 137L551.8 140.2L548.2 140.2Z" fill="#22c422" stroke="#22c422" stroke-width="0.3"/>
<path d="M551.8 141L553.6 144.2L550 144.2Z" fill="#22c422" stroke="#22c422" stroke-width="0.3"/>
<path d="M553.6 145.1L555.4 148.3L551.8 148.3Z" fill="#22c422" stroke="#22c422" stroke-width="0.3"/>
<path d="M560.5 149.6L562.3 146.4L558.7 146.4Z" fill="#f7931e" stroke="#f7931e" stroke-width="0.3"/>
<path d="M562.3 151L564.1 147.8L560.5 147.8Z" fill="#f7931e" stroke="#f7931e" stroke-width="0.3"/>
<path d="M564.1 151.7L565.9 148.5L562.3 148.5Z" fill="#f7931e" stroke="#f7931e" stroke-width="0.3"/>
<path d="M571.5 136.3L573.1 138.2L571.5 140.1L569.9 138.2Z" fill="#a230ee" stroke="#a230ee" stroke-width="0.3"/>
<path d="M573.3 137L574.9 138.9L573.3 140.8L571.7 138.9Z" fill="#a230ee" stroke="#a230ee" stroke-width="0.3"/>
<path d="M575.1 137L576.7 138.9L575.1 140.8L573.5 138.9Z" fill="#a230ee" stroke="#a230ee" stroke-width="0.3"/>
<text x="497.5" y="163" font-size="7.00" text-anchor="middle" transform="rotate(-90 497.5 163)">M dl<tspan font-size="3.50" dy="-2.94">−1</tspan></text>
<text x="606.7" y="199.2" font-size="6.07" text-anchor="end" transform="translate(606.7 199.2) scale(1.07 1) translate(-606.7 -199.2)">0</text>
<text x="606.7" y="185.8" font-size="6.07" text-anchor="end" transform="translate(606.7 185.8) scale(1.07 1) translate(-606.7 -185.8)">5</text>
<text x="606.7" y="172.4" font-size="6.07" text-anchor="end" transform="translate(606.7 172.4) scale(1.07 1) translate(-606.7 -172.4)">10</text>
<text x="606.7" y="158.9" font-size="6.07" text-anchor="end" transform="translate(606.7 158.9) scale(1.07 1) translate(-606.7 -158.9)">15</text>
<text x="606.7" y="145.5" font-size="6.07" text-anchor="end" transform="translate(606.7 145.5) scale(1.07 1) translate(-606.7 -145.5)">20</text>
<text x="606.7" y="132.1" font-size="6.07" text-anchor="end" transform="translate(606.7 132.1) scale(1.07 1) translate(-606.7 -132.1)">25</text>
<path d="M611.5 129.9L611.5 197.3M610.8 197.5L679.1 197.5" stroke="#7a7a7a" stroke-width="0.85" fill="none"/>
<path d="M608.5 197L611.1 197M608.5 183.6L611.1 183.6M608.5 170.2L611.1 170.2M608.5 156.7L611.1 156.7M608.5 143.3L611.1 143.3M608.5 129.9L611.1 129.9" stroke="#7a7a7a" stroke-width="0.6" fill="none"/>
<path d="M618.3 146.8L618.3 145.1M617 146.8L619.6 146.8M617 145.1L619.6 145.1" stroke="#ee1d23" stroke-width="0.55" fill="none"/>
<path d="M614.7 145.9L621.9 145.9M625.2 146.7L632.4 146.7M636.1 144.7L643.3 144.7M647 148L654.2 148M657.6 141.1L664.8 141.1M668 149.5L675.2 149.5" stroke="#222" stroke-width="0.65" fill="none"/>
<path d="M628.8 147.4L628.8 146M627.5 147.4L630.1 147.4M627.5 146L630.1 146" stroke="#8a8a14" stroke-width="0.55" fill="none"/>
<path d="M639.7 146L639.7 143.3M638.4 146L641 146M638.4 143.3L641 143.3" stroke="#1a1a1a" stroke-width="0.55" fill="none"/>
<path d="M650.6 152.7L650.6 143.2M649.3 152.7L651.9 152.7M649.3 143.2L651.9 143.2" stroke="#22c422" stroke-width="0.55" fill="none"/>
<path d="M661.2 141.5L661.2 140.7M659.9 141.5L662.5 141.5M659.9 140.7L662.5 140.7" stroke="#f7931e" stroke-width="0.55" fill="none"/>
<circle cx="616.5" cy="144.9" r="1.6" fill="#ee1d23" stroke="#ee1d23" stroke-width="0.3"/>
<circle cx="618.3" cy="146.3" r="1.6" fill="#ee1d23" stroke="#ee1d23" stroke-width="0.3"/>
<circle cx="620.1" cy="146.5" r="1.6" fill="#ee1d23" stroke="#ee1d23" stroke-width="0.3"/>
<rect x="625.4" y="144.4" width="3.2" height="3.2" fill="#8a8a14" stroke="#8a8a14" stroke-width="0.3"/>
<rect x="627.2" y="145.2" width="3.2" height="3.2" fill="#8a8a14" stroke="#8a8a14" stroke-width="0.3"/>
<rect x="629" y="145.7" width="3.2" height="3.2" fill="#8a8a14" stroke="#8a8a14" stroke-width="0.3"/>
<path d="M637.9 141.8L638.3 142.8L639.3 142.9L638.5 143.5L638.8 144.5L637.9 143.9L637 144.5L637.3 143.5L636.5 142.9L637.5 142.8Z" fill="#1a1a1a" stroke="#1a1a1a" stroke-width="0.3"/>
<path d="M639.7 143.2L640.1 144.2L641.1 144.2L640.3 144.8L640.6 145.9L639.7 145.3L638.8 145.9L639.1 144.8L638.3 144.2L639.3 144.2Z" fill="#1a1a1a" stroke="#1a1a1a" stroke-width="0.3"/>
<path d="M641.5 144.5L641.9 145.5L642.9 145.5L642.1 146.2L642.4 147.2L641.5 146.6L640.6 147.2L640.9 146.2L640.1 145.5L641.1 145.5Z" fill="#1a1a1a" stroke="#1a1a1a" stroke-width="0.3"/>
<path d="M648.8 140.6L650.6 143.8L647 143.8Z" fill="#22c422" stroke="#22c422" stroke-width="0.3"/>
<path d="M650.6 148.1L652.4 151.3L648.8 151.3Z" fill="#22c422" stroke="#22c422" stroke-width="0.3"/>
<path d="M652.4 149.5L654.2 152.7L650.6 152.7Z" fill="#22c422" stroke="#22c422" stroke-width="0.3"/>
<path d="M659.4 142.6L661.2 139.4L657.6 139.4Z" fill="#f7931e" stroke="#f7931e" stroke-width="0.3"/>
<path d="M661.2 143.1L663 139.9L659.4 139.9Z" fill="#f7931e" stroke="#f7931e" stroke-width="0.3"/>
<path d="M663 143.4L664.8 140.2L661.2 140.2Z" fill="#f7931e" stroke="#f7931e" stroke-width="0.3"/>
<path d="M669.8 147.3L671.4 149.2L669.8 151.1L668.2 149.2Z" fill="#a230ee" stroke="#a230ee" stroke-width="0.3"/>
<path d="M671.6 147.6L673.2 149.5L671.6 151.4L670 149.5Z" fill="#a230ee" stroke="#a230ee" stroke-width="0.3"/>
<path d="M673.4 147.8L675 149.8L673.4 151.7L671.8 149.8Z" fill="#a230ee" stroke="#a230ee" stroke-width="0.3"/>
<text x="594.5" y="163.5" font-size="7.00" text-anchor="middle" transform="rotate(-90 594.5 163.5)">%</text>
<text x="1" y="214.6" font-size="12.50" fill="#000" style="stroke:#000;stroke-width:0.4px" font-weight="bold">c</text>
<text x="358" y="215.3" font-size="6.73" text-anchor="middle" fill="#d8242b" style="stroke:#d8242b" transform="translate(358 215.3) scale(1.07 1) translate(-358 -215.3)">Leukocytes</text>
<text x="68.3" y="226.4" font-size="6.86" text-anchor="middle" transform="translate(68.3 226.4) scale(1.05 1) translate(-68.3 -226.4)">White blood cell</text>
<text x="172.1" y="226.4" font-size="6.86" text-anchor="middle" transform="translate(172.1 226.4) scale(1.05 1) translate(-172.1 -226.4)">Lymphocyte count</text>
<text x="284" y="226.4" font-size="6.86" text-anchor="middle" transform="translate(284 226.4) scale(1.05 1) translate(-284 -226.4)">Neutrophil count</text>
<text x="403.5" y="226.4" font-size="6.86" text-anchor="middle" transform="translate(403.5 226.4) scale(1.05 1) translate(-403.5 -226.4)">Monocyte count</text>
<text x="528.2" y="226.4" font-size="6.86" text-anchor="middle" transform="translate(528.2 226.4) scale(1.05 1) translate(-528.2 -226.4)">Eosinophil count</text>
<text x="643.3" y="226.4" font-size="6.86" text-anchor="middle" transform="translate(643.3 226.4) scale(1.05 1) translate(-643.3 -226.4)">Basophil count</text>
<text x="29.2" y="296.7" font-size="6.07" text-anchor="end" transform="translate(29.2 296.7) scale(1.07 1) translate(-29.2 -296.7)">0</text>
<text x="29.2" y="275.5" font-size="6.07" text-anchor="end" transform="translate(29.2 275.5) scale(1.07 1) translate(-29.2 -275.5)">2</text>
<text x="29.2" y="254.3" font-size="6.07" text-anchor="end" transform="translate(29.2 254.3) scale(1.07 1) translate(-29.2 -254.3)">4</text>
<text x="29.2" y="233.1" font-size="6.07" text-anchor="end" transform="translate(29.2 233.1) scale(1.07 1) translate(-29.2 -233.1)">6</text>
<path d="M31.2 217.4L681 217.4" stroke="#e8636a" stroke-width="0.75" fill="none"/>
<path d="M33.5 230.9L33.5 294.9M33.2 294.5L99 294.5" stroke="#7a7a7a" stroke-width="0.85" fill="none"/>
<path d="M31 294.5L33.6 294.5M31 273.3L33.6 273.3M31 252.1L33.6 252.1M31 230.9L33.6 230.9" stroke="#7a7a7a" stroke-width="0.6" fill="none"/>
<path d="M41.5 267.6L41.5 266M40.2 267.6L42.8 267.6M40.2 266L42.8 266" stroke="#ee1d23" stroke-width="0.55" fill="none"/>
<path d="M37.9 266.8L45.1 266.8M48.1 287.1L55.3 287.1M57.7 286.7L64.9 286.7M68.2 260.2L75.4 260.2M78.2 261.8L85.4 261.8M88.7 254.8L95.9 254.8" stroke="#222" stroke-width="0.65" fill="none"/>
<path d="M51.7 288.1L51.7 286M50.4 288.1L53 288.1M50.4 286L53 286" stroke="#8a8a14" stroke-width="0.55" fill="none"/>
<path d="M61.3 287.8L61.3 285.6M60 287.8L62.6 287.8M60 285.6L62.6 285.6" stroke="#1a1a1a" stroke-width="0.55" fill="none"/>
<path d="M71.8 263.6L71.8 256.8M70.5 263.6L73.1 263.6M70.5 256.8L73.1 256.8" stroke="#22c422" stroke-width="0.55" fill="none"/>
<path d="M81.8 266.9L81.8 256.8M80.5 266.9L83.1 266.9M80.5 256.8L83.1 256.8" stroke="#f7931e" stroke-width="0.55" fill="none"/>
<path d="M92.3 268L92.3 241M91 268L93.6 268M91 241L93.6 241" stroke="#a230ee" stroke-width="0.55" fill="none"/>
<circle cx="39.7" cy="265.9" r="1.6" fill="#ee1d23" stroke="#ee1d23" stroke-width="0.3"/>
<circle cx="41.5" cy="266.9" r="1.6" fill="#ee1d23" stroke="#ee1d23" stroke-width="0.3"/>
<circle cx="43.3" cy="267.5" r="1.6" fill="#ee1d23" stroke="#ee1d23" stroke-width="0.3"/>
<rect x="48.3" y="284.4" width="3.2" height="3.2" fill="#8a8a14" stroke="#8a8a14" stroke-width="0.3"/>
<rect x="50.1" y="285.5" width="3.2" height="3.2" fill="#8a8a14" stroke="#8a8a14" stroke-width="0.3"/>
<rect x="51.9" y="286.5" width="3.2" height="3.2" fill="#8a8a14" stroke="#8a8a14" stroke-width="0.3"/>
<path d="M59.5 284L59.9 285L60.9 285L60.1 285.7L60.4 286.7L59.5 286.1L58.6 286.7L58.9 285.7L58.1 285L59.1 285Z" fill="#1a1a1a" stroke="#1a1a1a" stroke-width="0.3"/>
<path d="M61.3 285.6L61.7 286.6L62.7 286.6L61.9 287.3L62.2 288.3L61.3 287.7L60.4 288.3L60.7 287.3L59.9 286.6L60.9 286.6Z" fill="#1a1a1a" stroke="#1a1a1a" stroke-width="0.3"/>
<path d="M63.1 286.1L63.5 287.1L64.5 287.1L63.7 287.8L64 288.8L63.1 288.2L62.2 288.8L62.5 287.8L61.7 287.1L62.7 287.1Z" fill="#1a1a1a" stroke="#1a1a1a" stroke-width="0.3"/>
<path d="M70 254.4L71.8 257.6L68.2 257.6Z" fill="#22c422" stroke="#22c422" stroke-width="0.3"/>
<path d="M71.8 259.7L73.6 262.9L70 262.9Z" fill="#22c422" stroke="#22c422" stroke-width="0.3"/>
<path d="M73.6 260.8L75.4 264L71.8 264Z" fill="#22c422" stroke="#22c422" stroke-width="0.3"/>
<path d="M80 258.8L81.8 255.6L78.2 255.6Z" fill="#f7931e" stroke="#f7931e" stroke-width="0.3"/>
<path d="M81.8 263.6L83.6 260.4L80 260.4Z" fill="#f7931e" stroke="#f7931e" stroke-width="0.3"/>
<path d="M83.6 268.9L85.4 265.7L81.8 265.7Z" fill="#f7931e" stroke="#f7931e" stroke-width="0.3"/>
<path d="M90.5 244.9L92.1 246.8L90.5 248.7L88.9 246.8Z" fill="#a230ee" stroke="#a230ee" stroke-width="0.3"/>
<path d="M92.3 244.9L93.9 246.8L92.3 248.7L90.7 246.8Z" fill="#a230ee" stroke="#a230ee" stroke-width="0.3"/>
<path d="M94.1 268.2L95.7 270.1L94.1 272L92.5 270.1Z" fill="#a230ee" stroke="#a230ee" stroke-width="0.3"/>
<text x="21" y="260.7" font-size="7.00" text-anchor="middle" transform="rotate(-90 21 260.7)">K µl<tspan font-size="3.50" dy="-2.94">−1</tspan></text>
<polyline points="41.5,259 41.5,256.3 57.8,256.3 57.8,274.2" fill="none" stroke="#777" stroke-width="0.6"/>
<text x="37.7" y="254" font-size="5.89" transform="translate(37.7 254) scale(1.07 1) translate(-37.7 -254)"><tspan font-style="italic">P</tspan><tspan font-size="3.91" dy="1.57">1</tspan><tspan dy="-1.57"> = 0.0203</tspan></text>
<text x="48.6" y="281" font-size="5.89" transform="translate(48.6 281) scale(1.07 1) translate(-48.6 -281)"><tspan font-style="italic">P</tspan><tspan font-size="3.91" dy="1.57">1</tspan></text>
<text x="58.8" y="281" font-size="5.89" transform="translate(58.8 281) scale(1.07 1) translate(-58.8 -281)"><tspan font-style="italic">P</tspan><tspan font-size="3.91" dy="1.57">2</tspan></text>
<text x="68.7" y="287.6" font-size="5.89" transform="translate(68.7 287.6) scale(1.07 1) translate(-68.7 -287.6)"><tspan font-style="italic">P</tspan><tspan font-size="3.91" dy="1.57">2</tspan><tspan dy="-1.57"> = 0.0194</tspan></text>
<text x="134.5" y="296.3" font-size="6.07" text-anchor="end" transform="translate(134.5 296.3) scale(1.07 1) translate(-134.5 -296.3)">0</text>
<text x="134.5" y="280.2" font-size="6.07" text-anchor="end" transform="translate(134.5 280.2) scale(1.07 1) translate(-134.5 -280.2)">1</text>
<text x="134.5" y="264.2" font-size="6.07" text-anchor="end" transform="translate(134.5 264.2) scale(1.07 1) translate(-134.5 -264.2)">2</text>
<text x="134.5" y="248.2" font-size="6.07" text-anchor="end" transform="translate(134.5 248.2) scale(1.07 1) translate(-134.5 -248.2)">3</text>
<text x="134.5" y="232.1" font-size="6.07" text-anchor="end" transform="translate(134.5 232.1) scale(1.07 1) translate(-134.5 -232.1)">4</text>
<path d="M49.4 274.2L65.2 274.2" stroke="#777" stroke-width="0.6" fill="none"/>
<path d="M138.5 229.9L138.5 294.5M138.6 294.5L203.4 294.5" stroke="#7a7a7a" stroke-width="0.85" fill="none"/>
<path d="M136.3 294.1L138.9 294.1M136.3 278.1L138.9 278.1M136.3 262L138.9 262M136.3 246L138.9 246M136.3 229.9L138.9 229.9" stroke="#7a7a7a" stroke-width="0.6" fill="none"/>
<path d="M145.5 263.3L145.5 259.1M144.2 263.3L146.8 263.3M144.2 259.1L146.8 259.1" stroke="#ee1d23" stroke-width="0.55" fill="none"/>
<path d="M141.9 261.2L149.1 261.2M152.4 278.1L159.6 278.1M162.4 280.5L169.6 280.5M172.3 254.8L179.5 254.8M182.7 261.7L189.9 261.7M193.2 248.4L200.4 248.4" stroke="#222" stroke-width="0.65" fill="none"/>
<path d="M156 285.3L156 270.8M154.7 285.3L157.3 285.3M154.7 270.8L157.3 270.8" stroke="#8a8a14" stroke-width="0.55" fill="none"/>
<path d="M166 286.9L166 274M164.7 286.9L167.3 286.9M164.7 274L167.3 274" stroke="#1a1a1a" stroke-width="0.55" fill="none"/>
<path d="M175.9 255.6L175.9 254M174.6 255.6L177.2 255.6M174.6 254L177.2 254" stroke="#22c422" stroke-width="0.55" fill="none"/>
<path d="M186.3 265.4L186.3 258.1M185 265.4L187.6 265.4M185 258.1L187.6 258.1" stroke="#f7931e" stroke-width="0.55" fill="none"/>
<path d="M196.8 260.4L196.8 237.1M195.5 260.4L198.1 260.4M195.5 237.1L198.1 237.1" stroke="#a230ee" stroke-width="0.55" fill="none"/>
<circle cx="143.7" cy="258.8" r="1.6" fill="#ee1d23" stroke="#ee1d23" stroke-width="0.3"/>
<circle cx="145.5" cy="262" r="1.6" fill="#ee1d23" stroke="#ee1d23" stroke-width="0.3"/>
<circle cx="147.3" cy="262.8" r="1.6" fill="#ee1d23" stroke="#ee1d23" stroke-width="0.3"/>
<rect x="152.6" y="268.4" width="3.2" height="3.2" fill="#8a8a14" stroke="#8a8a14" stroke-width="0.3"/>
<rect x="154.4" y="279.7" width="3.2" height="3.2" fill="#8a8a14" stroke="#8a8a14" stroke-width="0.3"/>
<rect x="156.2" y="281.3" width="3.2" height="3.2" fill="#8a8a14" stroke="#8a8a14" stroke-width="0.3"/>
<path d="M164.2 272.5L164.6 273.6L165.6 273.6L164.8 274.2L165.1 275.3L164.2 274.6L163.3 275.3L163.6 274.2L162.8 273.6L163.8 273.6Z" fill="#1a1a1a" stroke="#1a1a1a" stroke-width="0.3"/>
<path d="M166 281.4L166.4 282.4L167.4 282.4L166.6 283.1L166.9 284.1L166 283.5L165.1 284.1L165.4 283.1L164.6 282.4L165.6 282.4Z" fill="#1a1a1a" stroke="#1a1a1a" stroke-width="0.3"/>
<path d="M167.8 283L168.2 284L169.2 284L168.4 284.7L168.7 285.7L167.8 285.1L166.9 285.7L167.2 284.7L166.4 284L167.4 284Z" fill="#1a1a1a" stroke="#1a1a1a" stroke-width="0.3"/>
<path d="M174.1 252.1L175.9 255.3L172.3 255.3Z" fill="#22c422" stroke="#22c422" stroke-width="0.3"/>
<path d="M175.9 252.9L177.7 256.1L174.1 256.1Z" fill="#22c422" stroke="#22c422" stroke-width="0.3"/>
<path d="M177.7 253.7L179.5 256.9L175.9 256.9Z" fill="#22c422" stroke="#22c422" stroke-width="0.3"/>
<path d="M184.5 259.9L186.3 256.7L182.7 256.7Z" fill="#f7931e" stroke="#f7931e" stroke-width="0.3"/>
<path d="M186.3 263.9L188.1 260.7L184.5 260.7Z" fill="#f7931e" stroke="#f7931e" stroke-width="0.3"/>
<path d="M188.1 267.1L189.9 263.9L186.3 263.9Z" fill="#f7931e" stroke="#f7931e" stroke-width="0.3"/>
<path d="M195 237.6L196.6 239.5L195 241.4L193.4 239.5Z" fill="#a230ee" stroke="#a230ee" stroke-width="0.3"/>
<path d="M196.8 241.6L198.4 243.5L196.8 245.5L195.2 243.5Z" fill="#a230ee" stroke="#a230ee" stroke-width="0.3"/>
<path d="M198.6 258.5L200.2 260.4L198.6 262.3L197 260.4Z" fill="#a230ee" stroke="#a230ee" stroke-width="0.3"/>
<text x="125.9" y="262" font-size="7.00" text-anchor="middle" transform="rotate(-90 125.9 262)">K µl<tspan font-size="3.50" dy="-2.94">−1</tspan></text>
<polyline points="145.5,258.4 145.5,248.3 161.7,248.3 161.7,264.5" fill="none" stroke="#777" stroke-width="0.6"/>
<text x="153.4" y="291.3" font-size="5.89" transform="translate(153.4 291.3) scale(1.07 1) translate(-153.4 -291.3)"><tspan font-style="italic">P</tspan><tspan font-size="3.91" dy="1.57">1</tspan></text>
<text x="163.8" y="291.3" font-size="5.89" transform="translate(163.8 291.3) scale(1.07 1) translate(-163.8 -291.3)"><tspan font-style="italic">P</tspan><tspan font-size="3.91" dy="1.57">2</tspan></text>
<text x="173" y="275.2" font-size="5.89" transform="translate(173 275.2) scale(1.07 1) translate(-173 -275.2)"><tspan font-style="italic">P</tspan><tspan font-size="3.91" dy="1.57">1</tspan><tspan dy="-1.57"> = 0.0485</tspan></text>
<text x="173" y="285" font-size="5.89" transform="translate(173 285) scale(1.07 1) translate(-173 -285)"><tspan font-style="italic">P</tspan><tspan font-size="3.91" dy="1.57">2</tspan><tspan dy="-1.57"> = 0.0276</tspan></text>
<text x="250.2" y="297.2" font-size="6.07" text-anchor="end" transform="translate(250.2 297.2) scale(1.07 1) translate(-250.2 -297.2)">0</text>
<text x="250.2" y="284.3" font-size="6.07" text-anchor="end" transform="translate(250.2 284.3) scale(1.07 1) translate(-250.2 -284.3)">1</text>
<text x="250.2" y="271.4" font-size="6.07" text-anchor="end" transform="translate(250.2 271.4) scale(1.07 1) translate(-250.2 -271.4)">2</text>
<text x="250.2" y="258.5" font-size="6.07" text-anchor="end" transform="translate(250.2 258.5) scale(1.07 1) translate(-250.2 -258.5)">3</text>
<text x="250.2" y="245.6" font-size="6.07" text-anchor="end" transform="translate(250.2 245.6) scale(1.07 1) translate(-250.2 -245.6)">4</text>
<text x="250.2" y="232.7" font-size="6.07" text-anchor="end" transform="translate(250.2 232.7) scale(1.07 1) translate(-250.2 -232.7)">5</text>
<path d="M155 264.5L168 264.5" stroke="#777" stroke-width="0.6" fill="none"/>
<path d="M254.5 230.5L254.5 295.4M254.2 295.5L319.1 295.5" stroke="#7a7a7a" stroke-width="0.85" fill="none"/>
<path d="M252 295L254.6 295M252 282.1L254.6 282.1M252 269.2L254.6 269.2M252 256.3L254.6 256.3M252 243.4L254.6 243.4M252 230.5L254.6 230.5" stroke="#7a7a7a" stroke-width="0.6" fill="none"/>
<path d="M260.9 291L260.9 288.3M259.6 291L262.2 291M259.6 288.3L262.2 288.3" stroke="#ee1d23" stroke-width="0.55" fill="none"/>
<path d="M257.3 289.6L264.5 289.6M267.5 263.4L274.7 263.4M278.1 259.5L285.3 259.5M288.4 286.4L295.6 286.4M298.4 284.2L305.6 284.2M308.5 281.2L315.7 281.2" stroke="#222" stroke-width="0.65" fill="none"/>
<path d="M271.1 287.3L271.1 238.9M269.8 287.3L272.4 287.3M269.8 238.9L272.4 238.9" stroke="#8a8a14" stroke-width="0.55" fill="none"/>
<path d="M281.7 273.1L281.7 245.3M280.4 273.1L283 273.1M280.4 245.3L283 245.3" stroke="#1a1a1a" stroke-width="0.55" fill="none"/>
<path d="M292 290.1L292 282.7M290.7 290.1L293.3 290.1M290.7 282.7L293.3 282.7" stroke="#22c422" stroke-width="0.55" fill="none"/>
<path d="M302 287.5L302 281M300.7 287.5L303.3 287.5M300.7 281L303.3 281" stroke="#f7931e" stroke-width="0.55" fill="none"/>
<path d="M312.1 282.2L312.1 280.3M310.8 282.2L313.4 282.2M310.8 280.3L313.4 280.3" stroke="#a230ee" stroke-width="0.55" fill="none"/>
<circle cx="259.1" cy="288.6" r="1.6" fill="#ee1d23" stroke="#ee1d23" stroke-width="0.3"/>
<circle cx="260.9" cy="289.2" r="1.6" fill="#ee1d23" stroke="#ee1d23" stroke-width="0.3"/>
<circle cx="262.7" cy="291.1" r="1.6" fill="#ee1d23" stroke="#ee1d23" stroke-width="0.3"/>
<rect x="267.7" y="233.4" width="3.2" height="3.2" fill="#8a8a14" stroke="#8a8a14" stroke-width="0.3"/>
<rect x="269.5" y="276" width="3.2" height="3.2" fill="#8a8a14" stroke="#8a8a14" stroke-width="0.3"/>
<rect x="271.3" y="276" width="3.2" height="3.2" fill="#8a8a14" stroke="#8a8a14" stroke-width="0.3"/>
<path d="M279.9 248.3L280.3 249.4L281.3 249.4L280.5 250L280.8 251.1L279.9 250.4L279 251.1L279.3 250L278.5 249.4L279.5 249.4Z" fill="#1a1a1a" stroke="#1a1a1a" stroke-width="0.3"/>
<path d="M281.7 250.9L282.1 251.9L283.1 252L282.3 252.6L282.6 253.6L281.7 253L280.8 253.6L281.1 252.6L280.3 252L281.3 251.9Z" fill="#1a1a1a" stroke="#1a1a1a" stroke-width="0.3"/>
<path d="M283.5 272.9L283.9 273.9L284.9 273.9L284.1 274.5L284.4 275.6L283.5 275L282.6 275.6L282.9 274.5L282.1 273.9L283.1 273.9Z" fill="#1a1a1a" stroke="#1a1a1a" stroke-width="0.3"/>
<path d="M290.2 280.2L292 283.4L288.4 283.4Z" fill="#22c422" stroke="#22c422" stroke-width="0.3"/>
<path d="M292 286.6L293.8 289.8L290.2 289.8Z" fill="#22c422" stroke="#22c422" stroke-width="0.3"/>
<path d="M293.8 286.6L295.6 289.8L292 289.8Z" fill="#22c422" stroke="#22c422" stroke-width="0.3"/>
<path d="M300.2 282.7L302 279.5L298.4 279.5Z" fill="#f7931e" stroke="#f7931e" stroke-width="0.3"/>
<path d="M302 286.6L303.8 283.4L300.2 283.4Z" fill="#f7931e" stroke="#f7931e" stroke-width="0.3"/>
<path d="M303.8 289.2L305.6 286L302 286Z" fill="#f7931e" stroke="#f7931e" stroke-width="0.3"/>
<path d="M310.3 278.2L311.9 280.2L310.3 282.1L308.7 280.2Z" fill="#a230ee" stroke="#a230ee" stroke-width="0.3"/>
<path d="M312.1 279.5L313.7 281.5L312.1 283.4L310.5 281.5Z" fill="#a230ee" stroke="#a230ee" stroke-width="0.3"/>
<path d="M313.9 280.2L315.5 282.1L313.9 284L312.3 282.1Z" fill="#a230ee" stroke="#a230ee" stroke-width="0.3"/>
<text x="241" y="262" font-size="7.00" text-anchor="middle" transform="rotate(-90 241 262)">K µl<tspan font-size="3.50" dy="-2.94">−1</tspan></text>
<text x="366.5" y="297.2" font-size="6.07" text-anchor="end" transform="translate(366.5 297.2) scale(1.07 1) translate(-366.5 -297.2)">0</text>
<text x="366.5" y="284.5" font-size="6.07" text-anchor="end" transform="translate(366.5 284.5) scale(1.07 1) translate(-366.5 -284.5)">0.1</text>
<text x="366.5" y="271.8" font-size="6.07" text-anchor="end" transform="translate(366.5 271.8) scale(1.07 1) translate(-366.5 -271.8)">0.2</text>
<text x="366.5" y="259" font-size="6.07" text-anchor="end" transform="translate(366.5 259) scale(1.07 1) translate(-366.5 -259)">0.3</text>
<text x="366.5" y="246.3" font-size="6.07" text-anchor="end" transform="translate(366.5 246.3) scale(1.07 1) translate(-366.5 -246.3)">0.4</text>
<text x="366.5" y="233.6" font-size="6.07" text-anchor="end" transform="translate(366.5 233.6) scale(1.07 1) translate(-366.5 -233.6)">0.5</text>
<path d="M370.5 231.4L370.5 295.4M370.5 295.5L436.7 295.5" stroke="#7a7a7a" stroke-width="0.85" fill="none"/>
<path d="M368.3 295L370.9 295M368.3 282.3L370.9 282.3M368.3 269.6L370.9 269.6M368.3 256.8L370.9 256.8M368.3 244.1L370.9 244.1M368.3 231.4L370.9 231.4" stroke="#7a7a7a" stroke-width="0.6" fill="none"/>
<path d="M379.4 278.7L379.4 267.2M378.1 278.7L380.7 278.7M378.1 267.2L380.7 267.2" stroke="#ee1d23" stroke-width="0.55" fill="none"/>
<path d="M375.8 273L383 273M386 255.1L393.2 255.1M396.1 259L403.3 259M406.2 277.6L413.4 277.6M416 267.9L423.2 267.9M426.1 269.6L433.3 269.6" stroke="#222" stroke-width="0.65" fill="none"/>
<path d="M389.6 269.2L389.6 241.1M388.3 269.2L390.9 269.2M388.3 241.1L390.9 241.1" stroke="#8a8a14" stroke-width="0.55" fill="none"/>
<path d="M399.7 266L399.7 252M398.4 266L401 266M398.4 252L401 252" stroke="#1a1a1a" stroke-width="0.55" fill="none"/>
<path d="M409.8 280.8L409.8 274.4M408.5 280.8L411.1 280.8M408.5 274.4L411.1 274.4" stroke="#22c422" stroke-width="0.55" fill="none"/>
<path d="M419.6 273.6L419.6 262.1M418.3 273.6L420.9 273.6M418.3 262.1L420.9 262.1" stroke="#f7931e" stroke-width="0.55" fill="none"/>
<path d="M429.7 272.1L429.7 267M428.4 272.1L431 272.1M428.4 267L431 267" stroke="#a230ee" stroke-width="0.55" fill="none"/>
<circle cx="377.6" cy="267" r="1.6" fill="#ee1d23" stroke="#ee1d23" stroke-width="0.3"/>
<circle cx="379.4" cy="273.4" r="1.6" fill="#ee1d23" stroke="#ee1d23" stroke-width="0.3"/>
<circle cx="381.2" cy="278.5" r="1.6" fill="#ee1d23" stroke="#ee1d23" stroke-width="0.3"/>
<rect x="386.2" y="238.7" width="3.2" height="3.2" fill="#8a8a14" stroke="#8a8a14" stroke-width="0.3"/>
<rect x="388" y="255.2" width="3.2" height="3.2" fill="#8a8a14" stroke="#8a8a14" stroke-width="0.3"/>
<rect x="389.8" y="266.7" width="3.2" height="3.2" fill="#8a8a14" stroke="#8a8a14" stroke-width="0.3"/>
<path d="M397.9 250.3L398.3 251.3L399.3 251.3L398.5 251.9L398.8 253L397.9 252.4L397 253L397.3 251.9L396.5 251.3L397.5 251.3Z" fill="#1a1a1a" stroke="#1a1a1a" stroke-width="0.3"/>
<path d="M399.7 257.9L400.1 258.9L401.1 258.9L400.3 259.6L400.6 260.6L399.7 260L398.8 260.6L399.1 259.6L398.3 258.9L399.3 258.9Z" fill="#1a1a1a" stroke="#1a1a1a" stroke-width="0.3"/>
<path d="M401.5 264.2L401.9 265.3L402.9 265.3L402.1 265.9L402.4 267L401.5 266.3L400.6 267L400.9 265.9L400.1 265.3L401.1 265.3Z" fill="#1a1a1a" stroke="#1a1a1a" stroke-width="0.3"/>
<path d="M408 272.7L409.8 275.9L406.2 275.9Z" fill="#22c422" stroke="#22c422" stroke-width="0.3"/>
<path d="M409.8 275.3L411.6 278.5L408 278.5Z" fill="#22c422" stroke="#22c422" stroke-width="0.3"/>
<path d="M411.6 279.1L413.4 282.3L409.8 282.3Z" fill="#22c422" stroke="#22c422" stroke-width="0.3"/>
<path d="M417.8 263.8L419.6 260.6L416 260.6Z" fill="#f7931e" stroke="#f7931e" stroke-width="0.3"/>
<path d="M419.6 270.2L421.4 267L417.8 267Z" fill="#f7931e" stroke="#f7931e" stroke-width="0.3"/>
<path d="M421.4 275.3L423.2 272.1L419.6 272.1Z" fill="#f7931e" stroke="#f7931e" stroke-width="0.3"/>
<path d="M427.9 265.1L429.5 267L427.9 268.9L426.3 267Z" fill="#a230ee" stroke="#a230ee" stroke-width="0.3"/>
<path d="M429.7 267.6L431.3 269.6L429.7 271.5L428.1 269.6Z" fill="#a230ee" stroke="#a230ee" stroke-width="0.3"/>
<path d="M431.5 270.2L433.1 272.1L431.5 274L429.9 272.1Z" fill="#a230ee" stroke="#a230ee" stroke-width="0.3"/>
<text x="352.9" y="262" font-size="7.00" text-anchor="middle" transform="rotate(-90 352.9 262)">K µl<tspan font-size="3.50" dy="-2.94">−1</tspan></text>
<text x="491" y="297.2" font-size="6.07" text-anchor="end" transform="translate(491 297.2) scale(1.07 1) translate(-491 -297.2)">0</text>
<text x="491" y="284.5" font-size="6.07" text-anchor="end" transform="translate(491 284.5) scale(1.07 1) translate(-491 -284.5)">0.05</text>
<text x="491" y="271.8" font-size="6.07" text-anchor="end" transform="translate(491 271.8) scale(1.07 1) translate(-491 -271.8)">0.10</text>
<text x="491" y="259" font-size="6.07" text-anchor="end" transform="translate(491 259) scale(1.07 1) translate(-491 -259)">0.15</text>
<text x="491" y="246.3" font-size="6.07" text-anchor="end" transform="translate(491 246.3) scale(1.07 1) translate(-491 -246.3)">0.20</text>
<text x="491" y="233.6" font-size="6.07" text-anchor="end" transform="translate(491 233.6) scale(1.07 1) translate(-491 -233.6)">0.25</text>
<path d="M495.5 231.4L495.5 295.4M495 295.5L560.5 295.5" stroke="#7a7a7a" stroke-width="0.85" fill="none"/>
<path d="M492.8 295L495.4 295M492.8 282.3L495.4 282.3M492.8 269.6L495.4 269.6M492.8 256.8L495.4 256.8M492.8 244.1L495.4 244.1M492.8 231.4L495.4 231.4" stroke="#7a7a7a" stroke-width="0.6" fill="none"/>
<path d="M502.2 293.8L502.2 290M500.9 293.8L503.5 293.8M500.9 290L503.5 290" stroke="#ee1d23" stroke-width="0.55" fill="none"/>
<path d="M498.6 291.9L505.8 291.9M509.4 268.3L516.6 268.3M519.4 286.5L526.6 286.5M529.4 286.5L536.6 286.5M539.8 286.6L547 286.6M549.9 288.2L557.1 288.2" stroke="#222" stroke-width="0.65" fill="none"/>
<path d="M513 288.6L513 246.7M511.7 288.6L514.3 288.6M511.7 246.7L514.3 246.7" stroke="#8a8a14" stroke-width="0.55" fill="none"/>
<path d="M523 289.7L523 283.3M521.7 289.7L524.3 289.7M521.7 283.3L524.3 283.3" stroke="#1a1a1a" stroke-width="0.55" fill="none"/>
<path d="M533 290.4L533 282.6M531.7 290.4L534.3 290.4M531.7 282.6L534.3 282.6" stroke="#22c422" stroke-width="0.55" fill="none"/>
<path d="M543.4 295L543.4 276.7M542.1 295L544.7 295M542.1 276.7L544.7 276.7" stroke="#f7931e" stroke-width="0.55" fill="none"/>
<path d="M553.5 290.2L553.5 286.3M552.2 290.2L554.8 290.2M552.2 286.3L554.8 286.3" stroke="#a230ee" stroke-width="0.55" fill="none"/>
<circle cx="500.4" cy="289.9" r="1.6" fill="#ee1d23" stroke="#ee1d23" stroke-width="0.3"/>
<circle cx="502.2" cy="291.9" r="1.6" fill="#ee1d23" stroke="#ee1d23" stroke-width="0.3"/>
<circle cx="504" cy="293.7" r="1.6" fill="#ee1d23" stroke="#ee1d23" stroke-width="0.3"/>
<rect x="509.6" y="242.5" width="3.2" height="3.2" fill="#8a8a14" stroke="#8a8a14" stroke-width="0.3"/>
<rect x="511.4" y="275.6" width="3.2" height="3.2" fill="#8a8a14" stroke="#8a8a14" stroke-width="0.3"/>
<rect x="513.2" y="280.7" width="3.2" height="3.2" fill="#8a8a14" stroke="#8a8a14" stroke-width="0.3"/>
<path d="M521.2 282.1L521.6 283.1L522.6 283.1L521.8 283.7L522.1 284.8L521.2 284.2L520.3 284.8L520.6 283.7L519.8 283.1L520.8 283.1Z" fill="#1a1a1a" stroke="#1a1a1a" stroke-width="0.3"/>
<path d="M523 284.6L523.4 285.6L524.4 285.6L523.6 286.3L523.9 287.3L523 286.7L522.1 287.3L522.4 286.3L521.6 285.6L522.6 285.6Z" fill="#1a1a1a" stroke="#1a1a1a" stroke-width="0.3"/>
<path d="M524.8 288.4L525.2 289.4L526.2 289.4L525.4 290.1L525.7 291.1L524.8 290.5L523.9 291.1L524.2 290.1L523.4 289.4L524.4 289.4Z" fill="#1a1a1a" stroke="#1a1a1a" stroke-width="0.3"/>
<path d="M531.2 280.4L533 283.6L529.4 283.6Z" fill="#22c422" stroke="#22c422" stroke-width="0.3"/>
<path d="M533 285.4L534.8 288.6L531.2 288.6Z" fill="#22c422" stroke="#22c422" stroke-width="0.3"/>
<path d="M534.8 288L536.6 291.2L533 291.2Z" fill="#22c422" stroke="#22c422" stroke-width="0.3"/>
<path d="M541.6 279.1L543.4 275.9L539.8 275.9Z" fill="#f7931e" stroke="#f7931e" stroke-width="0.3"/>
<path d="M543.4 291.8L545.2 288.6L541.6 288.6Z" fill="#f7931e" stroke="#f7931e" stroke-width="0.3"/>
<path d="M545.2 295.6L547 292.4L543.4 292.4Z" fill="#f7931e" stroke="#f7931e" stroke-width="0.3"/>
<path d="M551.7 284.2L553.3 286.1L551.7 288L550.1 286.1Z" fill="#a230ee" stroke="#a230ee" stroke-width="0.3"/>
<path d="M553.5 286.7L555.1 288.6L553.5 290.6L551.9 288.6Z" fill="#a230ee" stroke="#a230ee" stroke-width="0.3"/>
<path d="M555.3 288L556.9 289.9L555.3 291.8L553.7 289.9Z" fill="#a230ee" stroke="#a230ee" stroke-width="0.3"/>
<text x="472.9" y="262" font-size="7.00" text-anchor="middle" transform="rotate(-90 472.9 262)">K µl<tspan font-size="3.50" dy="-2.94">−1</tspan></text>
<text x="610" y="296.7" font-size="6.07" text-anchor="end" transform="translate(610 296.7) scale(1.07 1) translate(-610 -296.7)">−0.005</text>
<text x="610" y="286" font-size="6.07" text-anchor="end" transform="translate(610 286) scale(1.07 1) translate(-610 -286)">0</text>
<text x="610" y="275.3" font-size="6.07" text-anchor="end" transform="translate(610 275.3) scale(1.07 1) translate(-610 -275.3)">0.005</text>
<text x="610" y="264.6" font-size="6.07" text-anchor="end" transform="translate(610 264.6) scale(1.07 1) translate(-610 -264.6)">0.010</text>
<text x="610" y="253.9" font-size="6.07" text-anchor="end" transform="translate(610 253.9) scale(1.07 1) translate(-610 -253.9)">0.015</text>
<text x="610" y="243.2" font-size="6.07" text-anchor="end" transform="translate(610 243.2) scale(1.07 1) translate(-610 -243.2)">0.020</text>
<text x="610" y="232.5" font-size="6.07" text-anchor="end" transform="translate(610 232.5) scale(1.07 1) translate(-610 -232.5)">0.025</text>
<path d="M614.5 230.3L614.5 294.9M614 294.5L679.3 294.5" stroke="#7a7a7a" stroke-width="0.85" fill="none"/>
<path d="M611.8 294.5L614.4 294.5M611.8 283.8L614.4 283.8M611.8 273.1L614.4 273.1M611.8 262.4L614.4 262.4M611.8 251.7L614.4 251.7M611.8 241L614.4 241M611.8 230.3L614.4 230.3" stroke="#7a7a7a" stroke-width="0.6" fill="none"/>
<path d="M621.4 289.1L621.4 263.5M620.1 289.1L622.7 289.1M620.1 263.5L622.7 263.5" stroke="#ee1d23" stroke-width="0.55" fill="none"/>
<path d="M617.8 276.3L625 276.3M628.2 262.4L635.4 262.4M638.3 255.3L645.5 255.3M648.5 262.4L655.7 262.4M658.6 255.3L665.8 255.3M668.9 262.4L676.1 262.4" stroke="#222" stroke-width="0.65" fill="none"/>
<path d="M631.8 283.8L631.8 241M630.5 283.8L633.1 283.8M630.5 241L633.1 241" stroke="#8a8a14" stroke-width="0.55" fill="none"/>
<path d="M641.9 267.8L641.9 243.1M640.6 267.8L643.2 267.8M640.6 243.1L643.2 243.1" stroke="#1a1a1a" stroke-width="0.55" fill="none"/>
<path d="M652.1 283.8L652.1 241M650.8 283.8L653.4 283.8M650.8 241L653.4 241" stroke="#22c422" stroke-width="0.55" fill="none"/>
<path d="M662.2 267.8L662.2 243.1M660.9 267.8L663.5 267.8M660.9 243.1L663.5 243.1" stroke="#f7931e" stroke-width="0.55" fill="none"/>
<circle cx="619.6" cy="262.4" r="1.6" fill="#ee1d23" stroke="#ee1d23" stroke-width="0.3"/>
<circle cx="621.4" cy="283.8" r="1.6" fill="#ee1d23" stroke="#ee1d23" stroke-width="0.3"/>
<circle cx="623.2" cy="283.8" r="1.6" fill="#ee1d23" stroke="#ee1d23" stroke-width="0.3"/>
<rect x="628.4" y="239.4" width="3.2" height="3.2" fill="#8a8a14" stroke="#8a8a14" stroke-width="0.3"/>
<rect x="630.2" y="260.8" width="3.2" height="3.2" fill="#8a8a14" stroke="#8a8a14" stroke-width="0.3"/>
<rect x="632" y="282.2" width="3.2" height="3.2" fill="#8a8a14" stroke="#8a8a14" stroke-width="0.3"/>
<path d="M640.1 239.5L640.5 240.5L641.5 240.5L640.7 241.2L641 242.2L640.1 241.6L639.2 242.2L639.5 241.2L638.7 240.5L639.7 240.5Z" fill="#1a1a1a" stroke="#1a1a1a" stroke-width="0.3"/>
<path d="M641.9 260.9L642.3 261.9L643.3 261.9L642.5 262.6L642.8 263.6L641.9 263L641 263.6L641.3 262.6L640.5 261.9L641.5 261.9Z" fill="#1a1a1a" stroke="#1a1a1a" stroke-width="0.3"/>
<path d="M643.7 260.9L644.1 261.9L645.1 261.9L644.3 262.6L644.6 263.6L643.7 263L642.8 263.6L643.1 262.6L642.3 261.9L643.3 261.9Z" fill="#1a1a1a" stroke="#1a1a1a" stroke-width="0.3"/>
<path d="M650.3 239.1L652.1 242.3L648.5 242.3Z" fill="#22c422" stroke="#22c422" stroke-width="0.3"/>
<path d="M652.1 260.5L653.9 263.7L650.3 263.7Z" fill="#22c422" stroke="#22c422" stroke-width="0.3"/>
<path d="M653.9 281.9L655.7 285.1L652.1 285.1Z" fill="#22c422" stroke="#22c422" stroke-width="0.3"/>
<path d="M660.4 242.9L662.2 239.7L658.6 239.7Z" fill="#f7931e" stroke="#f7931e" stroke-width="0.3"/>
<path d="M662.2 264.3L664 261.1L660.4 261.1Z" fill="#f7931e" stroke="#f7931e" stroke-width="0.3"/>
<path d="M664 264.3L665.8 261.1L662.2 261.1Z" fill="#f7931e" stroke="#f7931e" stroke-width="0.3"/>
<path d="M670.7 260.5L672.3 262.4L670.7 264.3L669.1 262.4Z" fill="#a230ee" stroke="#a230ee" stroke-width="0.3"/>
<path d="M672.5 260.5L674.1 262.4L672.5 264.3L670.9 262.4Z" fill="#a230ee" stroke="#a230ee" stroke-width="0.3"/>
<path d="M674.3 260.5L675.9 262.4L674.3 264.3L672.7 262.4Z" fill="#a230ee" stroke="#a230ee" stroke-width="0.3"/>
<text x="585.1" y="262" font-size="7.00" text-anchor="middle" transform="rotate(-90 585.1 262)">K µl<tspan font-size="3.50" dy="-2.94">−1</tspan></text>
<text x="1" y="315.6" font-size="12.50" fill="#000" style="stroke:#000;stroke-width:0.4px" font-weight="bold">d</text>
<text x="357.3" y="315.9" font-size="6.73" text-anchor="middle" fill="#d8242b" style="stroke:#d8242b" transform="translate(357.3 315.9) scale(1.07 1) translate(-357.3 -315.9)">Serum chemistry</text>
<text x="71.8" y="328" font-size="6.86" text-anchor="middle" transform="translate(71.8 328) scale(1.05 1) translate(-71.8 -328)">Creatinine</text>
<text x="174" y="328" font-size="6.86" text-anchor="middle" transform="translate(174 328) scale(1.05 1) translate(-174 -328)">Blood urea nitrogen (BUN)</text>
<text x="286.9" y="328" font-size="6.86" text-anchor="middle" transform="translate(286.9 328) scale(1.05 1) translate(-286.9 -328)">ALP</text>
<text x="404.8" y="328" font-size="6.86" text-anchor="middle" transform="translate(404.8 328) scale(1.05 1) translate(-404.8 -328)">ALT</text>
<text x="528.6" y="328" font-size="6.86" text-anchor="middle" transform="translate(528.6 328) scale(1.05 1) translate(-528.6 -328)">Glucose</text>
<text x="647" y="328" font-size="6.86" text-anchor="middle" transform="translate(647 328) scale(1.05 1) translate(-647 -328)">Total protein</text>
<text x="35.9" y="399.3" font-size="6.07" text-anchor="end" transform="translate(35.9 399.3) scale(1.07 1) translate(-35.9 -399.3)">0</text>
<text x="35.9" y="386.5" font-size="6.07" text-anchor="end" transform="translate(35.9 386.5) scale(1.07 1) translate(-35.9 -386.5)">0.2</text>
<text x="35.9" y="373.7" font-size="6.07" text-anchor="end" transform="translate(35.9 373.7) scale(1.07 1) translate(-35.9 -373.7)">0.4</text>
<text x="35.9" y="361" font-size="6.07" text-anchor="end" transform="translate(35.9 361) scale(1.07 1) translate(-35.9 -361)">0.6</text>
<text x="35.9" y="348.2" font-size="6.07" text-anchor="end" transform="translate(35.9 348.2) scale(1.07 1) translate(-35.9 -348.2)">0.8</text>
<text x="35.9" y="335.4" font-size="6.07" text-anchor="end" transform="translate(35.9 335.4) scale(1.07 1) translate(-35.9 -335.4)">1.0</text>
<path d="M31.2 318.3L681 318.3" stroke="#e8636a" stroke-width="0.75" fill="none"/>
<path d="M40.5 333.2L40.5 397.5M39.9 397.5L104.8 397.5" stroke="#7a7a7a" stroke-width="0.85" fill="none"/>
<path d="M37.7 397.1L40.3 397.1M37.7 384.3L40.3 384.3M37.7 371.5L40.3 371.5M37.7 358.8L40.3 358.8M37.7 346L40.3 346M37.7 333.2L40.3 333.2" stroke="#7a7a7a" stroke-width="0.6" fill="none"/>
<path d="M47 390.7L47 370.3M45.7 390.7L48.3 390.7M45.7 370.3L48.3 370.3" stroke="#ee1d23" stroke-width="0.55" fill="none"/>
<path d="M43.4 379.8L50.6 379.8M53.4 352.4L60.6 352.4M63.4 352.4L70.6 352.4M73.4 367.7L80.6 367.7M83.6 356.8L90.8 356.8M94.2 374.1L101.4 374.1" stroke="#222" stroke-width="0.65" fill="none"/>
<path d="M57 358.8L57 346M55.7 358.8L58.3 358.8M55.7 346L58.3 346" stroke="#8a8a14" stroke-width="0.55" fill="none"/>
<path d="M67 358.8L67 346M65.7 358.8L68.3 358.8M65.7 346L68.3 346" stroke="#1a1a1a" stroke-width="0.55" fill="none"/>
<path d="M77 371.1L77 364.3M75.7 371.1L78.3 371.1M75.7 364.3L78.3 364.3" stroke="#22c422" stroke-width="0.55" fill="none"/>
<path d="M87.2 366.4L87.2 346M85.9 366.4L88.5 366.4M85.9 346L88.5 346" stroke="#f7931e" stroke-width="0.55" fill="none"/>
<path d="M97.8 390.7L97.8 358.8M96.5 390.7L99.1 390.7M96.5 358.8L99.1 358.8" stroke="#a230ee" stroke-width="0.55" fill="none"/>
<circle cx="45.2" cy="371.5" r="1.6" fill="#ee1d23" stroke="#ee1d23" stroke-width="0.3"/>
<circle cx="47" cy="379.8" r="1.6" fill="#ee1d23" stroke="#ee1d23" stroke-width="0.3"/>
<circle cx="48.8" cy="390.7" r="1.6" fill="#ee1d23" stroke="#ee1d23" stroke-width="0.3"/>
<rect x="53.6" y="344.4" width="3.2" height="3.2" fill="#8a8a14" stroke="#8a8a14" stroke-width="0.3"/>
<rect x="55.4" y="350.8" width="3.2" height="3.2" fill="#8a8a14" stroke="#8a8a14" stroke-width="0.3"/>
<rect x="57.2" y="357.2" width="3.2" height="3.2" fill="#8a8a14" stroke="#8a8a14" stroke-width="0.3"/>
<path d="M65.2 344.5L65.6 345.5L66.6 345.5L65.8 346.2L66.1 347.2L65.2 346.6L64.3 347.2L64.6 346.2L63.8 345.5L64.8 345.5Z" fill="#1a1a1a" stroke="#1a1a1a" stroke-width="0.3"/>
<path d="M67 350.9L67.4 351.9L68.4 351.9L67.6 352.6L67.9 353.6L67 353L66.1 353.6L66.4 352.6L65.6 351.9L66.6 351.9Z" fill="#1a1a1a" stroke="#1a1a1a" stroke-width="0.3"/>
<path d="M68.8 357.3L69.2 358.3L70.2 358.3L69.4 358.9L69.7 360L68.8 359.4L67.9 360L68.2 358.9L67.4 358.3L68.4 358.3Z" fill="#1a1a1a" stroke="#1a1a1a" stroke-width="0.3"/>
<path d="M75.2 363.2L77 366.4L73.4 366.4Z" fill="#22c422" stroke="#22c422" stroke-width="0.3"/>
<path d="M77 364.5L78.8 367.7L75.2 367.7Z" fill="#22c422" stroke="#22c422" stroke-width="0.3"/>
<path d="M78.8 369.6L80.6 372.8L77 372.8Z" fill="#22c422" stroke="#22c422" stroke-width="0.3"/>
<path d="M85.4 347.9L87.2 344.7L83.6 344.7Z" fill="#f7931e" stroke="#f7931e" stroke-width="0.3"/>
<path d="M87.2 360.7L89 357.5L85.4 357.5Z" fill="#f7931e" stroke="#f7931e" stroke-width="0.3"/>
<path d="M89 367.1L90.8 363.9L87.2 363.9Z" fill="#f7931e" stroke="#f7931e" stroke-width="0.3"/>
<path d="M96 363.2L97.6 365.1L96 367.1L94.4 365.1Z" fill="#a230ee" stroke="#a230ee" stroke-width="0.3"/>
<path d="M97.8 363.2L99.4 365.1L97.8 367.1L96.2 365.1Z" fill="#a230ee" stroke="#a230ee" stroke-width="0.3"/>
<path d="M99.6 388.8L101.2 390.7L99.6 392.6L98 390.7Z" fill="#a230ee" stroke="#a230ee" stroke-width="0.3"/>
<text x="22.4" y="366.8" font-size="7.00" text-anchor="middle" transform="rotate(-90 22.4 366.8)">mg dl<tspan font-size="3.50" dy="-2.94">−1</tspan></text>
<polyline points="46.4,366.8 46.4,340.2 61.7,340.2 61.7,343.2" fill="none" stroke="#777" stroke-width="0.6"/>
<text x="54.8" y="367" font-size="5.89" transform="translate(54.8 367) scale(1.07 1) translate(-54.8 -367)"><tspan font-style="italic">P</tspan><tspan font-size="3.91" dy="1.57">1</tspan></text>
<text x="64.8" y="367" font-size="5.89" transform="translate(64.8 367) scale(1.07 1) translate(-64.8 -367)"><tspan font-style="italic">P</tspan><tspan font-size="3.91" dy="1.57">2</tspan></text>
<text x="54.3" y="380.7" font-size="5.89" transform="translate(54.3 380.7) scale(1.07 1) translate(-54.3 -380.7)"><tspan font-style="italic">P</tspan><tspan font-size="3.91" dy="1.57">1</tspan><tspan dy="-1.57"> = 0.0281</tspan></text>
<text x="54.3" y="388.6" font-size="5.89" transform="translate(54.3 388.6) scale(1.07 1) translate(-54.3 -388.6)"><tspan font-style="italic">P</tspan><tspan font-size="3.91" dy="1.57">2</tspan><tspan dy="-1.57"> = 0.0281</tspan></text>
<text x="136.4" y="399.5" font-size="6.07" text-anchor="end" transform="translate(136.4 399.5) scale(1.07 1) translate(-136.4 -399.5)">0</text>
<text x="136.4" y="386.7" font-size="6.07" text-anchor="end" transform="translate(136.4 386.7) scale(1.07 1) translate(-136.4 -386.7)">10</text>
<text x="136.4" y="373.9" font-size="6.07" text-anchor="end" transform="translate(136.4 373.9) scale(1.07 1) translate(-136.4 -373.9)">20</text>
<text x="136.4" y="361.1" font-size="6.07" text-anchor="end" transform="translate(136.4 361.1) scale(1.07 1) translate(-136.4 -361.1)">30</text>
<text x="136.4" y="348.3" font-size="6.07" text-anchor="end" transform="translate(136.4 348.3) scale(1.07 1) translate(-136.4 -348.3)">40</text>
<text x="136.4" y="335.5" font-size="6.07" text-anchor="end" transform="translate(136.4 335.5) scale(1.07 1) translate(-136.4 -335.5)">50</text>
<path d="M56 343.2L68 343.2" stroke="#777" stroke-width="0.6" fill="none"/>
<path d="M140.5 333.3L140.5 397.7M140.5 397.5L205.3 397.5" stroke="#7a7a7a" stroke-width="0.85" fill="none"/>
<path d="M138.2 397.3L140.8 397.3M138.2 384.5L140.8 384.5M138.2 371.7L140.8 371.7M138.2 358.9L140.8 358.9M138.2 346.1L140.8 346.1M138.2 333.3L140.8 333.3" stroke="#7a7a7a" stroke-width="0.6" fill="none"/>
<path d="M148.4 373.9L148.4 368.7M147.1 373.9L149.7 373.9M147.1 368.7L149.7 368.7" stroke="#ee1d23" stroke-width="0.55" fill="none"/>
<path d="M144.8 371.3L152 371.3M154.3 351.2L161.5 351.2M164.4 351.2L171.6 351.2M175.1 369.1L182.3 369.1M184.6 368.5L191.8 368.5M195.1 369.1L202.3 369.1" stroke="#222" stroke-width="0.65" fill="none"/>
<path d="M157.9 358.9L157.9 342.3M156.6 358.9L159.2 358.9M156.6 342.3L159.2 342.3" stroke="#8a8a14" stroke-width="0.55" fill="none"/>
<path d="M168 355.1L168 346.1M166.7 355.1L169.3 355.1M166.7 346.1L169.3 346.1" stroke="#1a1a1a" stroke-width="0.55" fill="none"/>
<path d="M178.7 370.4L178.7 367.9M177.4 370.4L180 370.4M177.4 367.9L180 367.9" stroke="#22c422" stroke-width="0.55" fill="none"/>
<path d="M188.2 375.5L188.2 361.5M186.9 375.5L189.5 375.5M186.9 361.5L189.5 361.5" stroke="#f7931e" stroke-width="0.55" fill="none"/>
<path d="M198.7 376.8L198.7 361.5M197.4 376.8L200 376.8M197.4 361.5L200 361.5" stroke="#a230ee" stroke-width="0.55" fill="none"/>
<circle cx="146.6" cy="368.5" r="1.6" fill="#ee1d23" stroke="#ee1d23" stroke-width="0.3"/>
<circle cx="148.4" cy="371.7" r="1.6" fill="#ee1d23" stroke="#ee1d23" stroke-width="0.3"/>
<circle cx="150.2" cy="373.6" r="1.6" fill="#ee1d23" stroke="#ee1d23" stroke-width="0.3"/>
<rect x="154.5" y="339.4" width="3.2" height="3.2" fill="#8a8a14" stroke="#8a8a14" stroke-width="0.3"/>
<rect x="156.3" y="350.9" width="3.2" height="3.2" fill="#8a8a14" stroke="#8a8a14" stroke-width="0.3"/>
<rect x="158.1" y="356" width="3.2" height="3.2" fill="#8a8a14" stroke="#8a8a14" stroke-width="0.3"/>
<path d="M166.2 344.6L166.6 345.6L167.6 345.6L166.8 346.3L167.1 347.3L166.2 346.7L165.3 347.3L165.6 346.3L164.8 345.6L165.8 345.6Z" fill="#1a1a1a" stroke="#1a1a1a" stroke-width="0.3"/>
<path d="M168 351L168.4 352L169.4 352L168.6 352.7L168.9 353.7L168 353.1L167.1 353.7L167.4 352.7L166.6 352L167.6 352Z" fill="#1a1a1a" stroke="#1a1a1a" stroke-width="0.3"/>
<path d="M169.8 352.3L170.2 353.3L171.2 353.3L170.4 354L170.7 355L169.8 354.4L168.9 355L169.2 354L168.4 353.3L169.4 353.3Z" fill="#1a1a1a" stroke="#1a1a1a" stroke-width="0.3"/>
<path d="M176.9 365.9L178.7 369.1L175.1 369.1Z" fill="#22c422" stroke="#22c422" stroke-width="0.3"/>
<path d="M178.7 367.2L180.5 370.4L176.9 370.4Z" fill="#22c422" stroke="#22c422" stroke-width="0.3"/>
<path d="M180.5 368.5L182.3 371.7L178.7 371.7Z" fill="#22c422" stroke="#22c422" stroke-width="0.3"/>
<path d="M186.4 363.4L188.2 360.2L184.6 360.2Z" fill="#f7931e" stroke="#f7931e" stroke-width="0.3"/>
<path d="M188.2 371.1L190 367.9L186.4 367.9Z" fill="#f7931e" stroke="#f7931e" stroke-width="0.3"/>
<path d="M190 377.5L191.8 374.3L188.2 374.3Z" fill="#f7931e" stroke="#f7931e" stroke-width="0.3"/>
<path d="M196.9 359.5L198.5 361.5L196.9 363.4L195.3 361.5Z" fill="#a230ee" stroke="#a230ee" stroke-width="0.3"/>
<path d="M198.7 368.5L200.3 370.4L198.7 372.3L197.1 370.4Z" fill="#a230ee" stroke="#a230ee" stroke-width="0.3"/>
<path d="M200.5 373.6L202.1 375.5L200.5 377.5L198.9 375.5Z" fill="#a230ee" stroke="#a230ee" stroke-width="0.3"/>
<text x="125.9" y="365.3" font-size="7.00" text-anchor="middle" transform="rotate(-90 125.9 365.3)">mg dl<tspan font-size="3.50" dy="-2.94">−1</tspan></text>
<polyline points="148.4,372.6 148.4,378.3 163.6,378.3 163.6,363.5" fill="none" stroke="#777" stroke-width="0.6"/>
<text x="155.7" y="338.6" font-size="5.89" transform="translate(155.7 338.6) scale(1.07 1) translate(-155.7 -338.6)"><tspan font-style="italic">P</tspan><tspan font-size="3.91" dy="1.57">1</tspan></text>
<text x="165.8" y="343.3" font-size="5.89" transform="translate(165.8 343.3) scale(1.07 1) translate(-165.8 -343.3)"><tspan font-style="italic">P</tspan><tspan font-size="3.91" dy="1.57">2</tspan></text>
<text x="179.7" y="345.2" font-size="5.89" transform="translate(179.7 345.2) scale(1.07 1) translate(-179.7 -345.2)"><tspan font-style="italic">P</tspan><tspan font-size="3.91" dy="1.57">1</tspan><tspan dy="-1.57"> = 0.0133</tspan></text>
<text x="179.7" y="354.7" font-size="5.89" transform="translate(179.7 354.7) scale(1.07 1) translate(-179.7 -354.7)"><tspan font-style="italic">P</tspan><tspan font-size="3.91" dy="1.57">2</tspan><tspan dy="-1.57"> = 0.0125</tspan></text>
<text x="249.8" y="400.4" font-size="6.07" text-anchor="end" transform="translate(249.8 400.4) scale(1.07 1) translate(-249.8 -400.4)">0</text>
<text x="249.8" y="384.3" font-size="6.07" text-anchor="end" transform="translate(249.8 384.3) scale(1.07 1) translate(-249.8 -384.3)">50</text>
<text x="249.8" y="368.1" font-size="6.07" text-anchor="end" transform="translate(249.8 368.1) scale(1.07 1) translate(-249.8 -368.1)">100</text>
<text x="249.8" y="352" font-size="6.07" text-anchor="end" transform="translate(249.8 352) scale(1.07 1) translate(-249.8 -352)">150</text>
<text x="249.8" y="335.9" font-size="6.07" text-anchor="end" transform="translate(249.8 335.9) scale(1.07 1) translate(-249.8 -335.9)">200</text>
<path d="M157 363.5L171.2 363.5" stroke="#777" stroke-width="0.6" fill="none"/>
<path d="M254.5 333.7L254.5 398.6M253.8 398.5L319.7 398.5" stroke="#7a7a7a" stroke-width="0.85" fill="none"/>
<path d="M251.6 398.2L254.2 398.2M251.6 382.1L254.2 382.1M251.6 365.9L254.2 365.9M251.6 349.8L254.2 349.8M251.6 333.7L254.2 333.7" stroke="#7a7a7a" stroke-width="0.6" fill="none"/>
<path d="M261.2 359.6L261.2 357.9M259.9 359.6L262.5 359.6M259.9 357.9L262.5 357.9" stroke="#ee1d23" stroke-width="0.55" fill="none"/>
<path d="M257.6 358.7L264.8 358.7M267.7 365L274.9 365M278.1 362.7L285.3 362.7M288.4 361.1L295.6 361.1M298.8 354.7L306 354.7M308.9 372.4L316.1 372.4" stroke="#222" stroke-width="0.65" fill="none"/>
<path d="M271.3 372.4L271.3 357.9M270 372.4L272.6 372.4M270 357.9L272.6 357.9" stroke="#8a8a14" stroke-width="0.55" fill="none"/>
<path d="M281.7 367.6L281.7 357.2M280.4 367.6L283 367.6M280.4 357.2L283 357.2" stroke="#1a1a1a" stroke-width="0.55" fill="none"/>
<path d="M292 378.2L292 346M290.7 378.2L293.3 378.2M290.7 346L293.3 346" stroke="#22c422" stroke-width="0.55" fill="none"/>
<path d="M302.4 365.9L302.4 341.8M301.1 365.9L303.7 365.9M301.1 341.8L303.7 341.8" stroke="#f7931e" stroke-width="0.55" fill="none"/>
<path d="M312.5 377.2L312.5 368.5M311.2 377.2L313.8 377.2M311.2 368.5L313.8 368.5" stroke="#a230ee" stroke-width="0.55" fill="none"/>
<circle cx="259.4" cy="357.9" r="1.6" fill="#ee1d23" stroke="#ee1d23" stroke-width="0.3"/>
<circle cx="261.2" cy="358.9" r="1.6" fill="#ee1d23" stroke="#ee1d23" stroke-width="0.3"/>
<circle cx="263" cy="359.5" r="1.6" fill="#ee1d23" stroke="#ee1d23" stroke-width="0.3"/>
<rect x="267.9" y="356.9" width="3.2" height="3.2" fill="#8a8a14" stroke="#8a8a14" stroke-width="0.3"/>
<rect x="269.7" y="361.1" width="3.2" height="3.2" fill="#8a8a14" stroke="#8a8a14" stroke-width="0.3"/>
<rect x="271.5" y="370.8" width="3.2" height="3.2" fill="#8a8a14" stroke="#8a8a14" stroke-width="0.3"/>
<path d="M279.9 356.4L280.3 357.4L281.3 357.4L280.5 358.1L280.8 359.1L279.9 358.5L279 359.1L279.3 358.1L278.5 357.4L279.5 357.4Z" fill="#1a1a1a" stroke="#1a1a1a" stroke-width="0.3"/>
<path d="M281.7 364.4L282.1 365.5L283.1 365.5L282.3 366.1L282.6 367.2L281.7 366.6L280.8 367.2L281.1 366.1L280.3 365.5L281.3 365.5Z" fill="#1a1a1a" stroke="#1a1a1a" stroke-width="0.3"/>
<path d="M283.5 366.1L283.9 367.1L284.9 367.1L284.1 367.7L284.4 368.8L283.5 368.2L282.6 368.8L282.9 367.7L282.1 367.1L283.1 367.1Z" fill="#1a1a1a" stroke="#1a1a1a" stroke-width="0.3"/>
<path d="M290.2 344.7L292 347.9L288.4 347.9Z" fill="#22c422" stroke="#22c422" stroke-width="0.3"/>
<path d="M292 358.5L293.8 361.7L290.2 361.7Z" fill="#22c422" stroke="#22c422" stroke-width="0.3"/>
<path d="M293.8 376.3L295.6 379.5L292 379.5Z" fill="#22c422" stroke="#22c422" stroke-width="0.3"/>
<path d="M300.6 343.7L302.4 340.5L298.8 340.5Z" fill="#f7931e" stroke="#f7931e" stroke-width="0.3"/>
<path d="M302.4 363L304.2 359.8L300.6 359.8Z" fill="#f7931e" stroke="#f7931e" stroke-width="0.3"/>
<path d="M304.2 363L306 359.8L302.4 359.8Z" fill="#f7931e" stroke="#f7931e" stroke-width="0.3"/>
<path d="M310.7 367.3L312.3 369.2L310.7 371.1L309.1 369.2Z" fill="#a230ee" stroke="#a230ee" stroke-width="0.3"/>
<path d="M312.5 370.5L314.1 372.4L312.5 374.3L310.9 372.4Z" fill="#a230ee" stroke="#a230ee" stroke-width="0.3"/>
<path d="M314.3 375.3L315.9 377.2L314.3 379.2L312.7 377.2Z" fill="#a230ee" stroke="#a230ee" stroke-width="0.3"/>
<text x="234" y="365.3" font-size="7.00" text-anchor="middle" transform="rotate(-90 234 365.3)">U l<tspan font-size="3.50" dy="-2.94">−1</tspan></text>
<text x="366.5" y="400.4" font-size="6.07" text-anchor="end" transform="translate(366.5 400.4) scale(1.07 1) translate(-366.5 -400.4)">0</text>
<text x="366.5" y="384.4" font-size="6.07" text-anchor="end" transform="translate(366.5 384.4) scale(1.07 1) translate(-366.5 -384.4)">200</text>
<text x="366.5" y="368.3" font-size="6.07" text-anchor="end" transform="translate(366.5 368.3) scale(1.07 1) translate(-366.5 -368.3)">400</text>
<text x="366.5" y="352.3" font-size="6.07" text-anchor="end" transform="translate(366.5 352.3) scale(1.07 1) translate(-366.5 -352.3)">600</text>
<text x="366.5" y="336.3" font-size="6.07" text-anchor="end" transform="translate(366.5 336.3) scale(1.07 1) translate(-366.5 -336.3)">800</text>
<path d="M370.5 334.1L370.5 398.6M370.5 398.5L436.7 398.5" stroke="#7a7a7a" stroke-width="0.85" fill="none"/>
<path d="M368.3 398.2L370.9 398.2M368.3 382.2L370.9 382.2M368.3 366.1L370.9 366.1M368.3 350.1L370.9 350.1M368.3 334.1L370.9 334.1" stroke="#7a7a7a" stroke-width="0.6" fill="none"/>
<path d="M379.2 395.8L379.2 391M377.9 395.8L380.5 395.8M377.9 391L380.5 391" stroke="#ee1d23" stroke-width="0.55" fill="none"/>
<path d="M375.6 393.4L382.8 393.4M385.7 392.1L392.9 392.1M396.1 392.1L403.3 392.1M406.2 396.6L413.4 396.6M416.4 393L423.6 393M426.4 374.2L433.6 374.2" stroke="#222" stroke-width="0.65" fill="none"/>
<path d="M389.3 392.7L389.3 391.4M388 392.7L390.6 392.7M388 391.4L390.6 391.4" stroke="#8a8a14" stroke-width="0.55" fill="none"/>
<path d="M399.7 392.7L399.7 391.4M398.4 392.7L401 392.7M398.4 391.4L401 391.4" stroke="#1a1a1a" stroke-width="0.55" fill="none"/>
<path d="M409.8 397L409.8 396.2M408.5 397L411.1 397M408.5 396.2L411.1 396.2" stroke="#22c422" stroke-width="0.55" fill="none"/>
<path d="M420 393.4L420 392.6M418.7 393.4L421.3 393.4M418.7 392.6L421.3 392.6" stroke="#f7931e" stroke-width="0.55" fill="none"/>
<path d="M430 398.2L430 350.1M428.7 398.2L431.3 398.2M428.7 350.1L431.3 350.1" stroke="#a230ee" stroke-width="0.55" fill="none"/>
<circle cx="377.4" cy="390.6" r="1.6" fill="#ee1d23" stroke="#ee1d23" stroke-width="0.3"/>
<circle cx="379.2" cy="394.6" r="1.6" fill="#ee1d23" stroke="#ee1d23" stroke-width="0.3"/>
<circle cx="381" cy="395" r="1.6" fill="#ee1d23" stroke="#ee1d23" stroke-width="0.3"/>
<rect x="385.9" y="389.8" width="3.2" height="3.2" fill="#8a8a14" stroke="#8a8a14" stroke-width="0.3"/>
<rect x="387.7" y="390.6" width="3.2" height="3.2" fill="#8a8a14" stroke="#8a8a14" stroke-width="0.3"/>
<rect x="389.5" y="391" width="3.2" height="3.2" fill="#8a8a14" stroke="#8a8a14" stroke-width="0.3"/>
<path d="M397.9 389.9L398.3 390.9L399.3 390.9L398.5 391.6L398.8 392.6L397.9 392L397 392.6L397.3 391.6L396.5 390.9L397.5 390.9Z" fill="#1a1a1a" stroke="#1a1a1a" stroke-width="0.3"/>
<path d="M399.7 390.7L400.1 391.7L401.1 391.7L400.3 392.4L400.6 393.4L399.7 392.8L398.8 393.4L399.1 392.4L398.3 391.7L399.3 391.7Z" fill="#1a1a1a" stroke="#1a1a1a" stroke-width="0.3"/>
<path d="M401.5 391.1L401.9 392.1L402.9 392.1L402.1 392.8L402.4 393.8L401.5 393.2L400.6 393.8L400.9 392.8L400.1 392.1L401.1 392.1Z" fill="#1a1a1a" stroke="#1a1a1a" stroke-width="0.3"/>
<path d="M408 394.3L409.8 397.5L406.2 397.5Z" fill="#22c422" stroke="#22c422" stroke-width="0.3"/>
<path d="M409.8 394.7L411.6 397.9L408 397.9Z" fill="#22c422" stroke="#22c422" stroke-width="0.3"/>
<path d="M411.6 395.1L413.4 398.3L409.8 398.3Z" fill="#22c422" stroke="#22c422" stroke-width="0.3"/>
<path d="M418.2 394.5L420 391.3L416.4 391.3Z" fill="#f7931e" stroke="#f7931e" stroke-width="0.3"/>
<path d="M420 394.9L421.8 391.7L418.2 391.7Z" fill="#f7931e" stroke="#f7931e" stroke-width="0.3"/>
<path d="M421.8 395.3L423.6 392.1L420 392.1Z" fill="#f7931e" stroke="#f7931e" stroke-width="0.3"/>
<path d="M428.2 345L429.8 346.9L428.2 348.8L426.6 346.9Z" fill="#a230ee" stroke="#a230ee" stroke-width="0.3"/>
<path d="M430 385.9L431.6 387.8L430 389.7L428.4 387.8Z" fill="#a230ee" stroke="#a230ee" stroke-width="0.3"/>
<path d="M431.8 386.3L433.4 388.2L431.8 390.1L430.2 388.2Z" fill="#a230ee" stroke="#a230ee" stroke-width="0.3"/>
<text x="351" y="365.3" font-size="7.00" text-anchor="middle" transform="rotate(-90 351 365.3)">U l<tspan font-size="3.50" dy="-2.94">−1</tspan></text>
<text x="491.2" y="400.4" font-size="6.07" text-anchor="end" transform="translate(491.2 400.4) scale(1.07 1) translate(-491.2 -400.4)">0</text>
<text x="491.2" y="378.9" font-size="6.07" text-anchor="end" transform="translate(491.2 378.9) scale(1.07 1) translate(-491.2 -378.9)">50</text>
<text x="491.2" y="357.4" font-size="6.07" text-anchor="end" transform="translate(491.2 357.4) scale(1.07 1) translate(-491.2 -357.4)">100</text>
<text x="491.2" y="335.9" font-size="6.07" text-anchor="end" transform="translate(491.2 335.9) scale(1.07 1) translate(-491.2 -335.9)">150</text>
<path d="M495.5 333.7L495.5 398.6M495.2 398.5L561.4 398.5" stroke="#7a7a7a" stroke-width="0.85" fill="none"/>
<path d="M493 398.2L495.6 398.2M493 376.7L495.6 376.7M493 355.2L495.6 355.2M493 333.7L495.6 333.7" stroke="#7a7a7a" stroke-width="0.6" fill="none"/>
<path d="M503.2 387.4L503.2 356.5M501.9 387.4L504.5 387.4M501.9 356.5L504.5 356.5" stroke="#ee1d23" stroke-width="0.55" fill="none"/>
<path d="M499.6 372.4L506.8 372.4M509.4 366.8L516.6 366.8M519.5 360.9L526.7 360.9M529.9 359.5L537.1 359.5M540.2 370.2L547.4 370.2M550.6 372L557.8 372" stroke="#222" stroke-width="0.65" fill="none"/>
<path d="M513 378L513 355.2M511.7 378L514.3 378M511.7 355.2L514.3 355.2" stroke="#8a8a14" stroke-width="0.55" fill="none"/>
<path d="M523.1 364.2L523.1 357.6M521.8 364.2L524.4 364.2M521.8 357.6L524.4 357.6" stroke="#1a1a1a" stroke-width="0.55" fill="none"/>
<path d="M533.5 368.1L533.5 351.8M532.2 368.1L534.8 368.1M532.2 351.8L534.8 351.8" stroke="#22c422" stroke-width="0.55" fill="none"/>
<path d="M543.8 371.1L543.8 369.4M542.5 371.1L545.1 371.1M542.5 369.4L545.1 369.4" stroke="#f7931e" stroke-width="0.55" fill="none"/>
<path d="M554.2 374.8L554.2 369.2M552.9 374.8L555.5 374.8M552.9 369.2L555.5 369.2" stroke="#a230ee" stroke-width="0.55" fill="none"/>
<circle cx="501.4" cy="355.2" r="1.6" fill="#ee1d23" stroke="#ee1d23" stroke-width="0.3"/>
<circle cx="503.2" cy="381" r="1.6" fill="#ee1d23" stroke="#ee1d23" stroke-width="0.3"/>
<circle cx="505" cy="381" r="1.6" fill="#ee1d23" stroke="#ee1d23" stroke-width="0.3"/>
<rect x="509.6" y="351.4" width="3.2" height="3.2" fill="#8a8a14" stroke="#8a8a14" stroke-width="0.3"/>
<rect x="511.4" y="370.8" width="3.2" height="3.2" fill="#8a8a14" stroke="#8a8a14" stroke-width="0.3"/>
<rect x="513.2" y="372.9" width="3.2" height="3.2" fill="#8a8a14" stroke="#8a8a14" stroke-width="0.3"/>
<path d="M521.3 355.8L521.7 356.9L522.7 356.9L521.9 357.5L522.2 358.6L521.3 357.9L520.4 358.6L520.7 357.5L519.9 356.9L520.9 356.9Z" fill="#1a1a1a" stroke="#1a1a1a" stroke-width="0.3"/>
<path d="M523.1 360.1L523.5 361.2L524.5 361.2L523.7 361.8L524 362.9L523.1 362.2L522.2 362.9L522.5 361.8L521.7 361.2L522.7 361.2Z" fill="#1a1a1a" stroke="#1a1a1a" stroke-width="0.3"/>
<path d="M524.9 362.3L525.3 363.3L526.3 363.3L525.5 364L525.8 365L524.9 364.4L524 365L524.3 364L523.5 363.3L524.5 363.3Z" fill="#1a1a1a" stroke="#1a1a1a" stroke-width="0.3"/>
<path d="M531.7 353.3L533.5 356.5L529.9 356.5Z" fill="#22c422" stroke="#22c422" stroke-width="0.3"/>
<path d="M533.5 355.4L535.3 358.6L531.7 358.6Z" fill="#22c422" stroke="#22c422" stroke-width="0.3"/>
<path d="M535.3 366.2L537.1 369.4L533.5 369.4Z" fill="#22c422" stroke="#22c422" stroke-width="0.3"/>
<path d="M542 371.3L543.8 368.1L540.2 368.1Z" fill="#f7931e" stroke="#f7931e" stroke-width="0.3"/>
<path d="M543.8 372.2L545.6 369L542 369Z" fill="#f7931e" stroke="#f7931e" stroke-width="0.3"/>
<path d="M545.6 373L547.4 369.8L543.8 369.8Z" fill="#f7931e" stroke="#f7931e" stroke-width="0.3"/>
<path d="M552.4 367L554 369L552.4 370.9L550.8 369Z" fill="#a230ee" stroke="#a230ee" stroke-width="0.3"/>
<path d="M554.2 370.5L555.8 372.4L554.2 374.3L552.6 372.4Z" fill="#a230ee" stroke="#a230ee" stroke-width="0.3"/>
<path d="M556 372.6L557.6 374.6L556 376.5L554.4 374.6Z" fill="#a230ee" stroke="#a230ee" stroke-width="0.3"/>
<text x="475.8" y="365.3" font-size="7.00" text-anchor="middle" transform="rotate(-90 475.8 365.3)">mg dl<tspan font-size="3.50" dy="-2.94">−1</tspan></text>
<text x="610" y="400.4" font-size="6.07" text-anchor="end" transform="translate(610 400.4) scale(1.07 1) translate(-610 -400.4)">0</text>
<text x="610" y="384.3" font-size="6.07" text-anchor="end" transform="translate(610 384.3) scale(1.07 1) translate(-610 -384.3)">2</text>
<text x="610" y="368.1" font-size="6.07" text-anchor="end" transform="translate(610 368.1) scale(1.07 1) translate(-610 -368.1)">4</text>
<text x="610" y="352" font-size="6.07" text-anchor="end" transform="translate(610 352) scale(1.07 1) translate(-610 -352)">6</text>
<text x="610" y="335.9" font-size="6.07" text-anchor="end" transform="translate(610 335.9) scale(1.07 1) translate(-610 -335.9)">8</text>
<path d="M614.5 333.7L614.5 398.6M614 398.5L679.9 398.5" stroke="#7a7a7a" stroke-width="0.85" fill="none"/>
<path d="M611.8 398.2L614.4 398.2M611.8 382.1L614.4 382.1M611.8 365.9L614.4 365.9M611.8 349.8L614.4 349.8M611.8 333.7L614.4 333.7" stroke="#7a7a7a" stroke-width="0.6" fill="none"/>
<path d="M621.4 352.2L621.4 340.1M620.1 352.2L622.7 352.2M620.1 340.1L622.7 340.1" stroke="#ee1d23" stroke-width="0.55" fill="none"/>
<path d="M617.8 347.4L625 347.4M628.2 347.7L635.4 347.7M638.7 346.9L645.9 346.9M648.8 354.7L656 354.7M659.2 347.7L666.4 347.7M669.5 350.6L676.7 350.6" stroke="#222" stroke-width="0.65" fill="none"/>
<path d="M631.8 350L631.8 345.3M630.5 350L633.1 350M630.5 345.3L633.1 345.3" stroke="#8a8a14" stroke-width="0.55" fill="none"/>
<path d="M642.3 350.5L642.3 343.2M641 350.5L643.6 350.5M641 343.2L643.6 343.2" stroke="#1a1a1a" stroke-width="0.55" fill="none"/>
<path d="M652.4 355.5L652.4 353.9M651.1 355.5L653.7 355.5M651.1 353.9L653.7 353.9" stroke="#22c422" stroke-width="0.55" fill="none"/>
<path d="M662.8 352.4L662.8 343M661.5 352.4L664.1 352.4M661.5 343L664.1 343" stroke="#f7931e" stroke-width="0.55" fill="none"/>
<path d="M673.1 354.7L673.1 346.6M671.8 354.7L674.4 354.7M671.8 346.6L674.4 346.6" stroke="#a230ee" stroke-width="0.55" fill="none"/>
<circle cx="619.6" cy="340.1" r="1.6" fill="#ee1d23" stroke="#ee1d23" stroke-width="0.3"/>
<circle cx="621.4" cy="350.6" r="1.6" fill="#ee1d23" stroke="#ee1d23" stroke-width="0.3"/>
<circle cx="623.2" cy="351.4" r="1.6" fill="#ee1d23" stroke="#ee1d23" stroke-width="0.3"/>
<rect x="628.4" y="343.4" width="3.2" height="3.2" fill="#8a8a14" stroke="#8a8a14" stroke-width="0.3"/>
<rect x="630.2" y="347.4" width="3.2" height="3.2" fill="#8a8a14" stroke="#8a8a14" stroke-width="0.3"/>
<rect x="632" y="347.4" width="3.2" height="3.2" fill="#8a8a14" stroke="#8a8a14" stroke-width="0.3"/>
<path d="M640.5 341.9L640.9 342.9L641.9 342.9L641.1 343.6L641.4 344.6L640.5 344L639.6 344.6L639.9 343.6L639.1 342.9L640.1 342.9Z" fill="#1a1a1a" stroke="#1a1a1a" stroke-width="0.3"/>
<path d="M642.3 345.1L642.7 346.1L643.7 346.1L642.9 346.8L643.2 347.8L642.3 347.2L641.4 347.8L641.7 346.8L640.9 346.1L641.9 346.1Z" fill="#1a1a1a" stroke="#1a1a1a" stroke-width="0.3"/>
<path d="M644.1 349.1L644.5 350.1L645.5 350.2L644.7 350.8L645 351.8L644.1 351.2L643.2 351.8L643.5 350.8L642.7 350.2L643.7 350.1Z" fill="#1a1a1a" stroke="#1a1a1a" stroke-width="0.3"/>
<path d="M650.6 351.9L652.4 355.1L648.8 355.1Z" fill="#22c422" stroke="#22c422" stroke-width="0.3"/>
<path d="M652.4 352.7L654.2 355.9L650.6 355.9Z" fill="#22c422" stroke="#22c422" stroke-width="0.3"/>
<path d="M654.2 353.5L656 356.7L652.4 356.7Z" fill="#22c422" stroke="#22c422" stroke-width="0.3"/>
<path d="M661 346.1L662.8 342.9L659.2 342.9Z" fill="#f7931e" stroke="#f7931e" stroke-width="0.3"/>
<path d="M662.8 347.7L664.6 344.5L661 344.5Z" fill="#f7931e" stroke="#f7931e" stroke-width="0.3"/>
<path d="M664.6 355L666.4 351.8L662.8 351.8Z" fill="#f7931e" stroke="#f7931e" stroke-width="0.3"/>
<path d="M671.3 344.7L672.9 346.6L671.3 348.5L669.7 346.6Z" fill="#a230ee" stroke="#a230ee" stroke-width="0.3"/>
<path d="M673.1 348.7L674.7 350.6L673.1 352.6L671.5 350.6Z" fill="#a230ee" stroke="#a230ee" stroke-width="0.3"/>
<path d="M674.9 352.7L676.5 354.7L674.9 356.6L673.3 354.7Z" fill="#a230ee" stroke="#a230ee" stroke-width="0.3"/>
<text x="601.8" y="365.3" font-size="7.00" text-anchor="middle" transform="rotate(-90 601.8 365.3)">g dl<tspan font-size="3.50" dy="-2.94">−1</tspan></text>
<text x="1" y="418.8" font-size="12.50" fill="#000" style="stroke:#000;stroke-width:0.4px" font-weight="bold">e</text>
<text x="120.9" y="419" font-size="6.73" text-anchor="middle" fill="#d8242b" style="stroke:#d8242b" transform="translate(120.9 419) scale(1.07 1) translate(-120.9 -419)">Thrombocytes</text>
<text x="67.4" y="430.8" font-size="6.86" text-anchor="middle" transform="translate(67.4 430.8) scale(1.05 1) translate(-67.4 -430.8)">Platelet count</text>
<text x="174.6" y="430.8" font-size="6.86" text-anchor="middle" transform="translate(174.6 430.8) scale(1.05 1) translate(-174.6 -430.8)">Mean platelet volume</text>
<text x="29.9" y="502.7" font-size="6.07" text-anchor="end" transform="translate(29.9 502.7) scale(1.07 1) translate(-29.9 -502.7)">0</text>
<text x="29.9" y="489.8" font-size="6.07" text-anchor="end" transform="translate(29.9 489.8) scale(1.07 1) translate(-29.9 -489.8)">500</text>
<text x="29.9" y="476.9" font-size="6.07" text-anchor="end" transform="translate(29.9 476.9) scale(1.07 1) translate(-29.9 -476.9)">1,000</text>
<text x="29.9" y="463.9" font-size="6.07" text-anchor="end" transform="translate(29.9 463.9) scale(1.07 1) translate(-29.9 -463.9)">1,500</text>
<text x="29.9" y="451" font-size="6.07" text-anchor="end" transform="translate(29.9 451) scale(1.07 1) translate(-29.9 -451)">2,000</text>
<text x="29.9" y="438.1" font-size="6.07" text-anchor="end" transform="translate(29.9 438.1) scale(1.07 1) translate(-29.9 -438.1)">2,500</text>
<path d="M26.2 421L215 421" stroke="#e8636a" stroke-width="0.75" fill="none"/>
<path d="M34.5 435.9L34.5 500.9M33.9 500.5L99.7 500.5" stroke="#7a7a7a" stroke-width="0.85" fill="none"/>
<path d="M31.7 500.5L34.3 500.5M31.7 487.6L34.3 487.6M31.7 474.7L34.3 474.7M31.7 461.7L34.3 461.7M31.7 448.8L34.3 448.8M31.7 435.9L34.3 435.9" stroke="#7a7a7a" stroke-width="0.6" fill="none"/>
<path d="M41.9 477.8L41.9 468.2M40.6 477.8L43.2 477.8M40.6 468.2L43.2 468.2" stroke="#ee1d23" stroke-width="0.55" fill="none"/>
<path d="M38.3 472.6L45.5 472.6M48.1 455.8L55.3 455.8M58.7 457.9L65.9 457.9M68.3 471.6L75.5 471.6M78.8 475.7L86 475.7M89.4 474.9L96.6 474.9" stroke="#222" stroke-width="0.65" fill="none"/>
<path d="M51.7 471.6L51.7 442.4M50.4 471.6L53 471.6M50.4 442.4L53 442.4" stroke="#8a8a14" stroke-width="0.55" fill="none"/>
<path d="M62.3 468.2L62.3 448.8M61 468.2L63.6 468.2M61 448.8L63.6 448.8" stroke="#1a1a1a" stroke-width="0.55" fill="none"/>
<path d="M71.9 482.4L71.9 460.4M70.6 482.4L73.2 482.4M70.6 460.4L73.2 460.4" stroke="#22c422" stroke-width="0.55" fill="none"/>
<path d="M82.4 482.4L82.4 469M81.1 482.4L83.7 482.4M81.1 469L83.7 469" stroke="#f7931e" stroke-width="0.55" fill="none"/>
<path d="M93 477L93 472.9M91.7 477L94.3 477M91.7 472.9L94.3 472.9" stroke="#a230ee" stroke-width="0.55" fill="none"/>
<circle cx="40.1" cy="468.2" r="1.6" fill="#ee1d23" stroke="#ee1d23" stroke-width="0.3"/>
<circle cx="41.9" cy="470.8" r="1.6" fill="#ee1d23" stroke="#ee1d23" stroke-width="0.3"/>
<circle cx="43.7" cy="477.8" r="1.6" fill="#ee1d23" stroke="#ee1d23" stroke-width="0.3"/>
<rect x="48.3" y="442.1" width="3.2" height="3.2" fill="#8a8a14" stroke="#8a8a14" stroke-width="0.3"/>
<rect x="50.1" y="450.3" width="3.2" height="3.2" fill="#8a8a14" stroke="#8a8a14" stroke-width="0.3"/>
<rect x="51.9" y="470" width="3.2" height="3.2" fill="#8a8a14" stroke="#8a8a14" stroke-width="0.3"/>
<path d="M60.5 447.3L60.9 448.3L61.9 448.4L61.1 449L61.4 450L60.5 449.4L59.6 450L59.9 449L59.1 448.4L60.1 448.3Z" fill="#1a1a1a" stroke="#1a1a1a" stroke-width="0.3"/>
<path d="M62.3 456.4L62.7 457.4L63.7 457.4L62.9 458L63.2 459.1L62.3 458.5L61.4 459.1L61.7 458L60.9 457.4L61.9 457.4Z" fill="#1a1a1a" stroke="#1a1a1a" stroke-width="0.3"/>
<path d="M64.1 466.7L64.5 467.7L65.5 467.7L64.7 468.4L65 469.4L64.1 468.8L63.2 469.4L63.5 468.4L62.7 467.7L63.7 467.7Z" fill="#1a1a1a" stroke="#1a1a1a" stroke-width="0.3"/>
<path d="M70.1 461.1L71.9 464.3L68.3 464.3Z" fill="#22c422" stroke="#22c422" stroke-width="0.3"/>
<path d="M71.9 463.7L73.7 466.9L70.1 466.9Z" fill="#22c422" stroke="#22c422" stroke-width="0.3"/>
<path d="M73.7 480.5L75.5 483.7L71.9 483.7Z" fill="#22c422" stroke="#22c422" stroke-width="0.3"/>
<path d="M80.6 471.4L82.4 468.2L78.8 468.2Z" fill="#f7931e" stroke="#f7931e" stroke-width="0.3"/>
<path d="M82.4 477.9L84.2 474.7L80.6 474.7Z" fill="#f7931e" stroke="#f7931e" stroke-width="0.3"/>
<path d="M84.2 484.3L86 481.1L82.4 481.1Z" fill="#f7931e" stroke="#f7931e" stroke-width="0.3"/>
<path d="M91.2 471.4L92.8 473.4L91.2 475.3L89.6 473.4Z" fill="#a230ee" stroke="#a230ee" stroke-width="0.3"/>
<path d="M93 472.2L94.6 474.1L93 476.1L91.4 474.1Z" fill="#a230ee" stroke="#a230ee" stroke-width="0.3"/>
<path d="M94.8 475.3L96.4 477.2L94.8 479.2L93.2 477.2Z" fill="#a230ee" stroke="#a230ee" stroke-width="0.3"/>
<text x="8.8" y="467.5" font-size="7.00" text-anchor="middle" transform="rotate(-90 8.8 467.5)">K µl<tspan font-size="3.50" dy="-2.94">−1</tspan></text>
<text x="138.1" y="502.3" font-size="6.07" text-anchor="end" transform="translate(138.1 502.3) scale(1.07 1) translate(-138.1 -502.3)">0</text>
<text x="138.1" y="483.6" font-size="6.07" text-anchor="end" transform="translate(138.1 483.6) scale(1.07 1) translate(-138.1 -483.6)">2</text>
<text x="138.1" y="464.9" font-size="6.07" text-anchor="end" transform="translate(138.1 464.9) scale(1.07 1) translate(-138.1 -464.9)">4</text>
<text x="138.1" y="446.2" font-size="6.07" text-anchor="end" transform="translate(138.1 446.2) scale(1.07 1) translate(-138.1 -446.2)">6</text>
<path d="M142.5 435.8L142.5 500.5M142.2 500.5L207.9 500.5" stroke="#7a7a7a" stroke-width="0.85" fill="none"/>
<path d="M139.9 500.1L142.5 500.1M139.9 481.4L142.5 481.4M139.9 462.7L142.5 462.7M139.9 444L142.5 444" stroke="#7a7a7a" stroke-width="0.6" fill="none"/>
<path d="M149 444.2L149 439.5M147.7 444.2L150.3 444.2M147.7 439.5L150.3 439.5" stroke="#ee1d23" stroke-width="0.55" fill="none"/>
<path d="M145.4 441.8L152.6 441.8M155.7 444.8L162.9 444.8M166.5 443.1L173.7 443.1M176.5 448.2L183.7 448.2M186.3 445.9L193.5 445.9M196.5 446.8L203.7 446.8" stroke="#222" stroke-width="0.65" fill="none"/>
<path d="M159.3 448.2L159.3 441.4M158 448.2L160.6 448.2M158 441.4L160.6 441.4" stroke="#8a8a14" stroke-width="0.55" fill="none"/>
<path d="M170.1 444.9L170.1 441.2M168.8 444.9L171.4 444.9M168.8 441.2L171.4 441.2" stroke="#1a1a1a" stroke-width="0.55" fill="none"/>
<path d="M180.1 448.7L180.1 447.7M178.8 448.7L181.4 448.7M178.8 447.7L181.4 447.7" stroke="#22c422" stroke-width="0.55" fill="none"/>
<path d="M189.9 448.7L189.9 443.1M188.6 448.7L191.2 448.7M188.6 443.1L191.2 443.1" stroke="#f7931e" stroke-width="0.55" fill="none"/>
<path d="M200.1 449.3L200.1 444.3M198.8 449.3L201.4 449.3M198.8 444.3L201.4 444.3" stroke="#a230ee" stroke-width="0.55" fill="none"/>
<circle cx="147.2" cy="439.3" r="1.6" fill="#ee1d23" stroke="#ee1d23" stroke-width="0.3"/>
<circle cx="149" cy="442.1" r="1.6" fill="#ee1d23" stroke="#ee1d23" stroke-width="0.3"/>
<circle cx="150.8" cy="444" r="1.6" fill="#ee1d23" stroke="#ee1d23" stroke-width="0.3"/>
<rect x="155.9" y="441" width="3.2" height="3.2" fill="#8a8a14" stroke="#8a8a14" stroke-width="0.3"/>
<rect x="157.7" y="441.5" width="3.2" height="3.2" fill="#8a8a14" stroke="#8a8a14" stroke-width="0.3"/>
<rect x="159.5" y="447.1" width="3.2" height="3.2" fill="#8a8a14" stroke="#8a8a14" stroke-width="0.3"/>
<path d="M168.3 439.7L168.7 440.7L169.7 440.7L168.9 441.4L169.2 442.4L168.3 441.8L167.4 442.4L167.7 441.4L166.9 440.7L167.9 440.7Z" fill="#1a1a1a" stroke="#1a1a1a" stroke-width="0.3"/>
<path d="M170.1 441.6L170.5 442.6L171.5 442.6L170.7 443.3L171 444.3L170.1 443.7L169.2 444.3L169.5 443.3L168.7 442.6L169.7 442.6Z" fill="#1a1a1a" stroke="#1a1a1a" stroke-width="0.3"/>
<path d="M171.9 443.4L172.3 444.4L173.3 444.5L172.5 445.1L172.8 446.1L171.9 445.5L171 446.1L171.3 445.1L170.5 444.5L171.5 444.4Z" fill="#1a1a1a" stroke="#1a1a1a" stroke-width="0.3"/>
<path d="M178.3 445.8L180.1 449L176.5 449Z" fill="#22c422" stroke="#22c422" stroke-width="0.3"/>
<path d="M180.1 446.3L181.9 449.5L178.3 449.5Z" fill="#22c422" stroke="#22c422" stroke-width="0.3"/>
<path d="M181.9 446.8L183.7 450L180.1 450Z" fill="#22c422" stroke="#22c422" stroke-width="0.3"/>
<path d="M188.1 445L189.9 441.8L186.3 441.8Z" fill="#f7931e" stroke="#f7931e" stroke-width="0.3"/>
<path d="M189.9 447.8L191.7 444.6L188.1 444.6Z" fill="#f7931e" stroke="#f7931e" stroke-width="0.3"/>
<path d="M191.7 450.6L193.5 447.4L189.9 447.4Z" fill="#f7931e" stroke="#f7931e" stroke-width="0.3"/>
<path d="M198.3 442.1L199.9 444L198.3 445.9L196.7 444Z" fill="#a230ee" stroke="#a230ee" stroke-width="0.3"/>
<path d="M200.1 445.8L201.7 447.7L200.1 449.7L198.5 447.7Z" fill="#a230ee" stroke="#a230ee" stroke-width="0.3"/>
<path d="M201.9 446.8L203.5 448.7L201.9 450.6L200.3 448.7Z" fill="#a230ee" stroke="#a230ee" stroke-width="0.3"/>
<text x="128.5" y="467.5" font-size="7.00" text-anchor="middle" transform="rotate(-90 128.5 467.5)">fL</text>
<text x="222.7" y="435.1" font-size="6.36" fill="#d8242b" style="stroke:#d8242b" transform="translate(222.7 435.1) scale(1.07 1) translate(-222.7 -435.1)">Groupings for b-e</text>
<text x="224.2" y="451.2" font-size="6.07" transform="translate(224.2 451.2) scale(1.07 1) translate(-224.2 -451.2)">No treatment</text>
<text x="224.2" y="460" font-size="6.07" transform="translate(224.2 460) scale(1.07 1) translate(-224.2 -460)">Taxol (20 mg kg<tspan font-size="3.4" dy="-2.4">−1</tspan><tspan dy="2.5">)</tspan></text>
<text x="224.2" y="468.6" font-size="6.07" transform="translate(224.2 468.6) scale(1.07 1) translate(-224.2 -468.6)">PTX/Lipo-SM (40 mg kg<tspan font-size="3.4" dy="-2.4">−1</tspan><tspan dy="2.5">)</tspan></text>
<text x="224.2" y="477.4" font-size="6.07" transform="translate(224.2 477.4) scale(1.07 1) translate(-224.2 -477.4)">Paclitaxome-1 (100 mg kg<tspan font-size="3.4" dy="-2.4">−1</tspan><tspan dy="2.5">)</tspan></text>
<text x="224.2" y="486" font-size="6.07" transform="translate(224.2 486) scale(1.07 1) translate(-224.2 -486)">Paclitaxome-2 (70 mg kg<tspan font-size="3.4" dy="-2.4">−1</tspan><tspan dy="2.5">)</tspan></text>
<text x="224.2" y="494.6" font-size="6.07" transform="translate(224.2 494.6) scale(1.07 1) translate(-224.2 -494.6)">Paclitaxome-3 (100 mg kg<tspan font-size="3.4" dy="-2.4">−1</tspan><tspan dy="2.5">)</tspan></text>
<text x="579.9" y="436.6" font-size="6.36" fill="#d8242b" style="stroke:#d8242b" transform="translate(579.9 436.6) scale(1.07 1) translate(-579.9 -436.6)">Groupings for f,g</text>
<text x="581.7" y="453" font-size="6.07" transform="translate(581.7 453) scale(1.07 1) translate(-581.7 -453)">No treatment</text>
<text x="581.7" y="461.8" font-size="6.07" transform="translate(581.7 461.8) scale(1.07 1) translate(-581.7 -461.8)">Taxol (20 mg kg<tspan font-size="3.4" dy="-2.4">−1</tspan><tspan dy="2.5">)</tspan></text>
<text x="581.7" y="470.2" font-size="6.07" transform="translate(581.7 470.2) scale(1.07 1) translate(-581.7 -470.2)">PTX/Lipo-SM (40 mg kg<tspan font-size="3.4" dy="-2.4">−1</tspan><tspan dy="2.5">)</tspan></text>
<text x="581.7" y="478.8" font-size="6.07" transform="translate(581.7 478.8) scale(1.07 1) translate(-581.7 -478.8)">Paclitaxome-1 (100 mg kg<tspan font-size="3.4" dy="-2.4">−1</tspan><tspan dy="2.5">)</tspan></text>
<text x="581.7" y="487.5" font-size="6.07" transform="translate(581.7 487.5) scale(1.07 1) translate(-581.7 -487.5)">Paclitaxome-2 (70 mg kg<tspan font-size="3.4" dy="-2.4">−1</tspan><tspan dy="2.5">)</tspan></text>
<text x="581.7" y="496.3" font-size="6.07" transform="translate(581.7 496.3) scale(1.07 1) translate(-581.7 -496.3)">Paclitaxome-3 (100 mg kg<tspan font-size="3.4" dy="-2.4">−1</tspan><tspan dy="2.5">)</tspan></text>
<text x="328.6" y="419" font-size="12.50" fill="#000" style="stroke:#000;stroke-width:0.4px" font-weight="bold">f</text>
<text x="453.2" y="420.3" font-size="12.50" fill="#000" style="stroke:#000;stroke-width:0.4px" font-weight="bold">g</text>
<text x="368.2" y="498.7" font-size="6.07" text-anchor="end" transform="translate(368.2 498.7) scale(1.07 1) translate(-368.2 -498.7)">0</text>
<text x="368.2" y="463.8" font-size="6.07" text-anchor="end" transform="translate(368.2 463.8) scale(1.07 1) translate(-368.2 -463.8)">5</text>
<text x="368.2" y="428.8" font-size="6.07" text-anchor="end" transform="translate(368.2 428.8) scale(1.07 1) translate(-368.2 -428.8)">10</text>
<path d="M222.7 437L275.6 437" stroke="#d8242b" stroke-width="0.5" fill="none"/>
<path d="M372.5 426.6L372.5 499.5M372.2 499.5L444.6 499.5" stroke="#7a7a7a" stroke-width="0.85" fill="none"/>
<path d="M370 496.5L372.6 496.5M370 461.6L372.6 461.6M370 426.6L372.6 426.6" stroke="#7a7a7a" stroke-width="0.6" fill="none"/>
<path d="M379.8 498.2L379.8 490.2M378.5 498.2L381.1 498.2M378.5 490.2L381.1 490.2" stroke="#ee1d23" stroke-width="0.55" fill="none"/>
<path d="M376.2 494.2L383.4 494.2M387.8 470.6L395 470.6M399.1 476.9L406.3 476.9M410.7 491.6L417.9 491.6M422 491.6L429.2 491.6M433.4 494.1L440.6 494.1" stroke="#222" stroke-width="0.65" fill="none"/>
<path d="M391.4 482.5L391.4 461.6M390.1 482.5L392.7 482.5M390.1 461.6L392.7 461.6" stroke="#8a8a14" stroke-width="0.55" fill="none"/>
<path d="M402.7 481.1L402.7 473.4M401.4 481.1L404 481.1M401.4 473.4L404 473.4" stroke="#1a1a1a" stroke-width="0.55" fill="none"/>
<path d="M414.3 495.6L414.3 487.6M413 495.6L415.6 495.6M413 487.6L415.6 487.6" stroke="#22c422" stroke-width="0.55" fill="none"/>
<path d="M425.6 495.6L425.6 487.6M424.3 495.6L426.9 495.6M424.3 487.6L426.9 487.6" stroke="#f7931e" stroke-width="0.55" fill="none"/>
<path d="M437 498.1L437 490M435.7 498.1L438.3 498.1M435.7 490L438.3 490" stroke="#a230ee" stroke-width="0.55" fill="none"/>
<circle cx="219.8" cy="449" r="1.2" fill="#ee1d23" stroke="#ee1d23" stroke-width="0.3"/>
<rect x="218.6" y="456.6" width="2.5" height="2.5" fill="#8a8a14" stroke="#8a8a14" stroke-width="0.3"/>
<path d="M219.8 464.8L220.2 465.9L221.3 465.9L220.4 466.6L220.7 467.7L219.8 467L218.9 467.7L219.2 466.6L218.3 465.9L219.4 465.9Z" fill="#1a1a1a" stroke="#1a1a1a" stroke-width="0.3"/>
<path d="M219.8 473.7L221.2 476.2L218.4 476.2Z" fill="#22c422" stroke="#22c422" stroke-width="0.3"/>
<path d="M219.8 485.3L221.2 482.8L218.4 482.8Z" fill="#f7931e" stroke="#f7931e" stroke-width="0.3"/>
<path d="M219.8 490.9L221.1 492.4L219.8 493.9L218.6 492.4Z" fill="#a230ee" stroke="#a230ee" stroke-width="0.3"/>
<circle cx="577.3" cy="450.8" r="1.2" fill="#ee1d23" stroke="#ee1d23" stroke-width="0.3"/>
<rect x="576" y="458.4" width="2.5" height="2.5" fill="#8a8a14" stroke="#8a8a14" stroke-width="0.3"/>
<path d="M577.3 466.4L577.7 467.5L578.8 467.5L577.9 468.2L578.2 469.3L577.3 468.6L576.4 469.3L576.7 468.2L575.8 467.5L576.9 467.5Z" fill="#1a1a1a" stroke="#1a1a1a" stroke-width="0.3"/>
<path d="M577.3 475.1L578.7 477.6L575.9 477.6Z" fill="#22c422" stroke="#22c422" stroke-width="0.3"/>
<path d="M577.3 486.8L578.7 484.3L575.9 484.3Z" fill="#f7931e" stroke="#f7931e" stroke-width="0.3"/>
<path d="M577.3 492.6L578.5 494.1L577.3 495.6L576 494.1Z" fill="#a230ee" stroke="#a230ee" stroke-width="0.3"/>
<circle cx="378" cy="489.5" r="1.6" fill="#ee1d23" stroke="#ee1d23" stroke-width="0.3"/>
<circle cx="379.8" cy="496.5" r="1.6" fill="#ee1d23" stroke="#ee1d23" stroke-width="0.3"/>
<circle cx="381.6" cy="496.5" r="1.6" fill="#ee1d23" stroke="#ee1d23" stroke-width="0.3"/>
<rect x="388" y="459.9" width="3.2" height="3.2" fill="#8a8a14" stroke="#8a8a14" stroke-width="0.3"/>
<rect x="389.8" y="466.9" width="3.2" height="3.2" fill="#8a8a14" stroke="#8a8a14" stroke-width="0.3"/>
<rect x="391.6" y="480.9" width="3.2" height="3.2" fill="#8a8a14" stroke="#8a8a14" stroke-width="0.3"/>
<path d="M400.9 474L401.3 475L402.3 475.1L401.5 475.7L401.8 476.7L400.9 476.1L400 476.7L400.3 475.7L399.5 475.1L400.5 475Z" fill="#1a1a1a" stroke="#1a1a1a" stroke-width="0.3"/>
<path d="M402.7 474L403.1 475L404.1 475.1L403.3 475.7L403.6 476.7L402.7 476.1L401.8 476.7L402.1 475.7L401.3 475.1L402.3 475Z" fill="#1a1a1a" stroke="#1a1a1a" stroke-width="0.3"/>
<path d="M404.5 477.5L404.9 478.5L405.9 478.6L405.1 479.2L405.4 480.2L404.5 479.6L403.6 480.2L403.9 479.2L403.1 478.6L404.1 478.5Z" fill="#1a1a1a" stroke="#1a1a1a" stroke-width="0.3"/>
<path d="M412.5 487.6L414.3 490.8L410.7 490.8Z" fill="#22c422" stroke="#22c422" stroke-width="0.3"/>
<path d="M414.3 487.6L416.1 490.8L412.5 490.8Z" fill="#22c422" stroke="#22c422" stroke-width="0.3"/>
<path d="M416.1 494.6L417.9 497.8L414.3 497.8Z" fill="#22c422" stroke="#22c422" stroke-width="0.3"/>
<path d="M423.8 491.4L425.6 488.2L422 488.2Z" fill="#f7931e" stroke="#f7931e" stroke-width="0.3"/>
<path d="M425.6 491.4L427.4 488.2L423.8 488.2Z" fill="#f7931e" stroke="#f7931e" stroke-width="0.3"/>
<path d="M427.4 498.4L429.2 495.2L425.6 495.2Z" fill="#f7931e" stroke="#f7931e" stroke-width="0.3"/>
<path d="M435.2 487.6L436.8 489.5L435.2 491.4L433.6 489.5Z" fill="#a230ee" stroke="#a230ee" stroke-width="0.3"/>
<path d="M437 494.6L438.6 496.5L437 498.4L435.4 496.5Z" fill="#a230ee" stroke="#a230ee" stroke-width="0.3"/>
<path d="M438.8 494.6L440.4 496.5L438.8 498.4L437.2 496.5Z" fill="#a230ee" stroke="#a230ee" stroke-width="0.3"/>
<text x="346.8" y="463" font-size="6.89" text-anchor="middle" transform="rotate(-90 346.8 463) translate(346.8 463) scale(1.03 1) translate(-346.8 -463)">Total number of dark cytoplasm</text>
<text x="354.2" y="463" font-size="6.89" text-anchor="middle" transform="rotate(-90 354.2 463) translate(354.2 463) scale(1.03 1) translate(-354.2 -463)">in the whole cross-sectional area</text>
<polyline points="379.8,441.4 379.8,439.9 396.5,439.9 396.5,458.2" fill="none" stroke="#777" stroke-width="0.6"/>
<text x="388.6" y="455.5" font-size="5.89" transform="translate(388.6 455.5) scale(1.07 1) translate(-388.6 -455.5)"><tspan font-style="italic">P</tspan><tspan font-size="3.91" dy="1.57">1</tspan></text>
<text x="400.5" y="470.5" font-size="5.89" transform="translate(400.5 470.5) scale(1.07 1) translate(-400.5 -470.5)"><tspan font-style="italic">P</tspan><tspan font-size="3.91" dy="1.57">2</tspan></text>
<text x="405.7" y="446.6" font-size="5.89" transform="translate(405.7 446.6) scale(1.07 1) translate(-405.7 -446.6)"><tspan font-style="italic">P</tspan><tspan font-size="3.91" dy="1.57">1</tspan><tspan dy="-1.57"> = 0.0032</tspan></text>
<text x="405.7" y="454.7" font-size="5.89" transform="translate(405.7 454.7) scale(1.07 1) translate(-405.7 -454.7)"><tspan font-style="italic">P</tspan><tspan font-size="3.91" dy="1.57">2</tspan><tspan dy="-1.57"> = 0.0395</tspan></text>
<text x="492.2" y="498.7" font-size="6.07" text-anchor="end" transform="translate(492.2 498.7) scale(1.07 1) translate(-492.2 -498.7)">0</text>
<text x="492.2" y="463.8" font-size="6.07" text-anchor="end" transform="translate(492.2 463.8) scale(1.07 1) translate(-492.2 -463.8)">5</text>
<text x="492.2" y="428.8" font-size="6.07" text-anchor="end" transform="translate(492.2 428.8) scale(1.07 1) translate(-492.2 -428.8)">10</text>
<path d="M388.4 458.2L403.7 458.2" stroke="#777" stroke-width="0.6" fill="none"/>
<path d="M496.5 426.6L496.5 499.5M496.2 499.5L569.1 499.5" stroke="#7a7a7a" stroke-width="0.85" fill="none"/>
<path d="M494 496.5L496.6 496.5M494 461.6L496.6 461.6M494 426.6L496.6 426.6" stroke="#7a7a7a" stroke-width="0.6" fill="none"/>
<path d="M504.2 489.5L504.2 475.5M502.9 489.5L505.5 489.5M502.9 475.5L505.5 475.5" stroke="#ee1d23" stroke-width="0.55" fill="none"/>
<path d="M500.6 482.5L507.8 482.5M511.8 454.6L519 454.6M523.4 452.5L530.6 452.5M534.7 473.2L541.9 473.2M546.1 477.9L553.3 477.9M557.8 470.9L565 470.9" stroke="#222" stroke-width="0.65" fill="none"/>
<path d="M515.4 466.4L515.4 442.7M514.1 466.4L516.7 466.4M514.1 442.7L516.7 442.7" stroke="#8a8a14" stroke-width="0.55" fill="none"/>
<path d="M527 468.5L527 433.6M525.7 468.5L528.3 468.5M525.7 433.6L528.3 433.6" stroke="#1a1a1a" stroke-width="0.55" fill="none"/>
<path d="M538.3 477.2L538.3 469.2M537 477.2L539.6 477.2M537 469.2L539.6 469.2" stroke="#22c422" stroke-width="0.55" fill="none"/>
<path d="M549.7 481.9L549.7 473.8M548.4 481.9L551 481.9M548.4 473.8L551 473.8" stroke="#f7931e" stroke-width="0.55" fill="none"/>
<path d="M561.4 474.9L561.4 466.8M560.1 474.9L562.7 474.9M560.1 466.8L562.7 466.8" stroke="#a230ee" stroke-width="0.55" fill="none"/>
<circle cx="502.4" cy="475.5" r="1.6" fill="#ee1d23" stroke="#ee1d23" stroke-width="0.3"/>
<circle cx="504.2" cy="482.5" r="1.6" fill="#ee1d23" stroke="#ee1d23" stroke-width="0.3"/>
<circle cx="506" cy="489.5" r="1.6" fill="#ee1d23" stroke="#ee1d23" stroke-width="0.3"/>
<rect x="512" y="439" width="3.2" height="3.2" fill="#8a8a14" stroke="#8a8a14" stroke-width="0.3"/>
<rect x="513.8" y="459.9" width="3.2" height="3.2" fill="#8a8a14" stroke="#8a8a14" stroke-width="0.3"/>
<rect x="515.6" y="459.9" width="3.2" height="3.2" fill="#8a8a14" stroke="#8a8a14" stroke-width="0.3"/>
<path d="M525.2 432.1L525.6 433.1L526.6 433.1L525.8 433.8L526.1 434.8L525.2 434.2L524.3 434.8L524.6 433.8L523.8 433.1L524.8 433.1Z" fill="#1a1a1a" stroke="#1a1a1a" stroke-width="0.3"/>
<path d="M527 453.1L527.4 454.1L528.4 454.1L527.6 454.7L527.9 455.8L527 455.2L526.1 455.8L526.4 454.7L525.6 454.1L526.6 454.1Z" fill="#1a1a1a" stroke="#1a1a1a" stroke-width="0.3"/>
<path d="M528.8 467L529.2 468.1L530.2 468.1L529.4 468.7L529.7 469.8L528.8 469.1L527.9 469.8L528.2 468.7L527.4 468.1L528.4 468.1Z" fill="#1a1a1a" stroke="#1a1a1a" stroke-width="0.3"/>
<path d="M536.5 466.6L538.3 469.8L534.7 469.8Z" fill="#22c422" stroke="#22c422" stroke-width="0.3"/>
<path d="M538.3 473.6L540.1 476.8L536.5 476.8Z" fill="#22c422" stroke="#22c422" stroke-width="0.3"/>
<path d="M540.1 473.6L541.9 476.8L538.3 476.8Z" fill="#22c422" stroke="#22c422" stroke-width="0.3"/>
<path d="M547.9 477.5L549.7 474.3L546.1 474.3Z" fill="#f7931e" stroke="#f7931e" stroke-width="0.3"/>
<path d="M549.7 477.5L551.5 474.3L547.9 474.3Z" fill="#f7931e" stroke="#f7931e" stroke-width="0.3"/>
<path d="M551.5 484.4L553.3 481.2L549.7 481.2Z" fill="#f7931e" stroke="#f7931e" stroke-width="0.3"/>
<path d="M559.6 466.6L561.2 468.5L559.6 470.5L558 468.5Z" fill="#a230ee" stroke="#a230ee" stroke-width="0.3"/>
<path d="M561.4 466.6L563 468.5L561.4 470.5L559.8 468.5Z" fill="#a230ee" stroke="#a230ee" stroke-width="0.3"/>
<path d="M563.2 473.6L564.8 475.5L563.2 477.5L561.6 475.5Z" fill="#a230ee" stroke="#a230ee" stroke-width="0.3"/>
<text x="471.4" y="463" font-size="6.89" text-anchor="middle" transform="rotate(-90 471.4 463) translate(471.4 463) scale(1.03 1) translate(-471.4 -463)">Total number of vacuolations in</text>
<text x="479.2" y="463" font-size="6.89" text-anchor="middle" transform="rotate(-90 479.2 463) translate(479.2 463) scale(1.03 1) translate(-479.2 -463)">the whole cross-sectional area</text>
<polyline points="504.2,426.6 521.5,426.6 521.5,431.7" fill="none" stroke="#777" stroke-width="0.6"/>
<text x="512.8" y="436.7" font-size="5.89" transform="translate(512.8 436.7) scale(1.07 1) translate(-512.8 -436.7)"><tspan font-style="italic">P</tspan><tspan font-size="3.91" dy="1.57">1</tspan></text>
<text x="524.4" y="429.6" font-size="5.89" transform="translate(524.4 429.6) scale(1.07 1) translate(-524.4 -429.6)"><tspan font-style="italic">P</tspan><tspan font-size="3.91" dy="1.57">2</tspan></text>
<text x="534.8" y="443.9" font-size="5.89" transform="translate(534.8 443.9) scale(1.07 1) translate(-534.8 -443.9)"><tspan font-style="italic">P</tspan><tspan font-size="3.91" dy="1.57">1</tspan><tspan dy="-1.57"> = 0.0354</tspan></text>
<text x="534.8" y="452" font-size="5.89" transform="translate(534.8 452) scale(1.07 1) translate(-534.8 -452)"><tspan font-style="italic">P</tspan><tspan font-size="3.91" dy="1.57">2</tspan><tspan dy="-1.57"> = 0.0214</tspan></text>
<path d="M513 431.7L528 431.7" stroke="#777" stroke-width="0.6" fill="none"/>
<text x="0.8" y="530" font-size="12.50" fill="#000" style="stroke:#000;stroke-width:0.4px" font-weight="bold">h</text>
<text x="71.5" y="530.5" font-size="6.86" text-anchor="middle" transform="translate(71.5 530.5) scale(1.05 1) translate(-71.5 -530.5)">No treatment</text>
<text x="183.2" y="530.5" font-size="6.86" text-anchor="middle" transform="translate(183.2 530.5) scale(1.05 1) translate(-183.2 -530.5)">Taxol</text>
<text x="294.6" y="530.5" font-size="6.86" text-anchor="middle" transform="translate(294.6 530.5) scale(1.05 1) translate(-294.6 -530.5)">PTX/Lipo-SM</text>
<text x="406.5" y="530.5" font-size="6.86" text-anchor="middle" transform="translate(406.5 530.5) scale(1.05 1) translate(-406.5 -530.5)">Paclitaxome-1</text>
<text x="518.2" y="530.5" font-size="6.86" text-anchor="middle" transform="translate(518.2 530.5) scale(1.05 1) translate(-518.2 -530.5)">Paclitaxome-2</text>
<text x="630.7" y="530.5" font-size="6.86" text-anchor="middle" transform="translate(630.7 530.5) scale(1.05 1) translate(-630.7 -530.5)">Paclitaxome-3</text>
<text x="14.3" y="584.8" font-size="7.20" text-anchor="middle" transform="rotate(-90 14.3 584.8)">Sternum</text>
<text x="14.3" y="688" font-size="7.20" text-anchor="middle" transform="rotate(-90 14.3 688)">Dorsal root ganglia</text>
<defs><filter id="st0" x="0" y="0" width="1" height="1" color-interpolation-filters="sRGB"><feTurbulence type="fractalNoise" baseFrequency="0.55" numOctaves="2" seed="11" result="a_t"/><feColorMatrix in="a_t" type="matrix" values="1 0 0 0 0 1 0 0 0 0 1 0 0 0 0 0 0 0 0 1" result="a"/><feTurbulence type="fractalNoise" baseFrequency="0.2" numOctaves="2" seed="12" result="b_t"/><feColorMatrix in="b_t" type="matrix" values="1 0 0 0 0 1 0 0 0 0 1 0 0 0 0 0 0 0 0 1" result="b"/><feComposite in="a" in2="b" operator="arithmetic" k1="0" k2="0.5" k3="0.5" k4="0.0" result="m"/><feComponentTransfer in="m" result="col"><feFuncR type="table" tableValues="0.353 0.353 0.353 0.353 0.353 0.353 0.353 0.416 0.478 0.557 0.627 0.695 0.768 0.840 0.902 0.949 0.949 0.949 0.949 0.949 0.949"/><feFuncG type="table" tableValues="0.039 0.039 0.039 0.039 0.039 0.039 0.039 0.059 0.078 0.106 0.137 0.193 0.303 0.482 0.667 0.816 0.816 0.816 0.816 0.816 0.816"/><feFuncB type="table" tableValues="0.149 0.149 0.149 0.149 0.149 0.149 0.149 0.176 0.204 0.243 0.282 0.340 0.440 0.603 0.749 0.863 0.863 0.863 0.863 0.863 0.863"/><feFuncA type="linear" slope="0" intercept="1"/></feComponentTransfer><feTurbulence type="fractalNoise" baseFrequency="0.7" numOctaves="1" seed="20" result="pn_t"/><feColorMatrix in="pn_t" type="matrix" values="1 0 0 0 0 1 0 0 0 0 1 0 0 0 0 0 0 0 0 1" result="pn"/><feColorMatrix in="pn" type="matrix" values="0 0 0 0 0.416 0 0 0 0 0.102 0 0 0 0 0.392 3.5 0 0 0 -1.925" result="pur"/><feTurbulence type="turbulence" baseFrequency="0.09" numOctaves="2" seed="13" result="l_t"/><feColorMatrix in="l_t" type="matrix" values="1 0 0 0 0 1 0 0 0 0 1 0 0 0 0 0 0 0 0 1" result="l"/><feColorMatrix in="l" type="matrix" values="0 0 0 0 1.000 0 0 0 0 1.000 0 0 0 0 1.000 -14 0 0 0 0.833" result="wl"/><feTurbulence type="fractalNoise" baseFrequency="0.1" numOctaves="3" seed="14" result="h_t"/><feColorMatrix in="h_t" type="matrix" values="1 0 0 0 0 1 0 0 0 0 1 0 0 0 0 0 0 0 0 1" result="h"/><feComposite in="a" in2="h" operator="arithmetic" k1="0" k2="0.3" k3="0.7" k4="0" result="hm"/><feColorMatrix in="hm" type="matrix" values="0 0 0 0 1.000 0 0 0 0 1.000 0 0 0 0 1.000 18 0 0 0 -10.620" result="wh"/><feMerge><feMergeNode in="col"/><feMergeNode in="pur"/><feMergeNode in="wl"/><feMergeNode in="wh"/></feMerge></filter><filter id="st1" x="0" y="0" width="1" height="1" color-interpolation-filters="sRGB"><feTurbulence type="fractalNoise" baseFrequency="0.55" numOctaves="2" seed="23" result="a_t"/><feColorMatrix in="a_t" type="matrix" values="1 0 0 0 0 1 0 0 0 0 1 0 0 0 0 0 0 0 0 1" result="a"/><feComponentTransfer in="a" result="col"><feFuncR type="table" tableValues="0.816 0.816 0.816 0.816 0.816 0.816 0.816 0.845 0.875 0.897 0.915 0.933 0.945 0.957 0.969 0.978 0.988 0.988 0.988 0.988 0.988"/><feFuncG type="table" tableValues="0.471 0.471 0.471 0.471 0.471 0.471 0.471 0.542 0.614 0.672 0.720 0.769 0.805 0.841 0.877 0.913 0.949 0.949 0.949 0.949 0.949"/><feFuncB type="table" tableValues="0.596 0.596 0.596 0.596 0.596 0.596 0.596 0.655 0.714 0.759 0.795 0.831 0.859 0.886 0.912 0.939 0.965 0.965 0.965 0.965 0.965"/><feFuncA type="linear" slope="0" intercept="1"/></feComponentTransfer><feGaussianBlur in="SourceAlpha" stdDeviation="1.6" result="bl"/><feColorMatrix in="bl" type="matrix" values="0 0 0 1 0 0 0 0 1 0 0 0 0 1 0 0 0 0 0 1" result="mg"/><feTurbulence type="fractalNoise" baseFrequency="0.3" numOctaves="2" seed="27" result="c_t"/><feColorMatrix in="c_t" type="matrix" values="1 0 0 0 0 1 0 0 0 0 1 0 0 0 0 0 0 0 0 1" result="c"/><feComposite in="a" in2="c" operator="arithmetic" k1="0" k2="0.6" k3="0.4" k4="0" result="ac"/><feComposite in="mg" in2="ac" operator="arithmetic" k1="0" k2="0.4" k3="0.6" k4="0" result="m"/><feColorMatrix in="m" type="matrix" values="0 0 0 0 0.690 0 0 0 0 0.165 0 0 0 0 0.322 14 0 0 0 -8.120" result="red1"/><feColorMatrix in="m" type="matrix" values="0 0 0 0 0.525 0 0 0 0 0.071 0 0 0 0 0.204 14 0 0 0 -9.520" result="red2"/><feColorMatrix in="ac" type="matrix" values="0 0 0 0 0.612 0 0 0 0 0.110 0 0 0 0 0.259 16 0 0 0 -8.720" result="spk"/><feTurbulence type="turbulence" baseFrequency="0.1" numOctaves="2" seed="25" result="l_t"/><feColorMatrix in="l_t" type="matrix" values="1 0 0 0 0 1 0 0 0 0 1 0 0 0 0 0 0 0 0 1" result="l"/><feColorMatrix in="l" type="matrix" values="0 0 0 0 1.000 0 0 0 0 1.000 0 0 0 0 1.000 -14 0 0 0 0.490" result="wl"/><feMerge><feMergeNode in="col"/><feMergeNode in="wl"/><feMergeNode in="spk"/><feMergeNode in="red1"/><feMergeNode in="red2"/></feMerge></filter><filter id="st2" x="0" y="0" width="1" height="1" color-interpolation-filters="sRGB"><feTurbulence type="fractalNoise" baseFrequency="0.55" numOctaves="2" seed="31" result="a_t"/><feColorMatrix in="a_t" type="matrix" values="1 0 0 0 0 1 0 0 0 0 1 0 0 0 0 0 0 0 0 1" result="a"/><feComponentTransfer in="a" result="col"><feFuncR type="table" tableValues="0.816 0.816 0.816 0.816 0.816 0.816 0.816 0.845 0.875 0.897 0.915 0.933 0.945 0.957 0.969 0.978 0.988 0.988 0.988 0.988 0.988"/><feFuncG type="table" tableValues="0.471 0.471 0.471 0.471 0.471 0.471 0.471 0.542 0.614 0.672 0.720 0.769 0.805 0.841 0.877 0.913 0.949 0.949 0.949 0.949 0.949"/><feFuncB type="table" tableValues="0.596 0.596 0.596 0.596 0.596 0.596 0.596 0.655 0.714 0.759 0.795 0.831 0.859 0.886 0.912 0.939 0.965 0.965 0.965 0.965 0.965"/><feFuncA type="linear" slope="0" intercept="1"/></feComponentTransfer><feGaussianBlur in="SourceAlpha" stdDeviation="1.6" result="bl"/><feColorMatrix in="bl" type="matrix" values="0 0 0 1 0 0 0 0 1 0 0 0 0 1 0 0 0 0 0 1" result="mg"/><feTurbulence type="fractalNoise" baseFrequency="0.3" numOctaves="2" seed="35" result="c_t"/><feColorMatrix in="c_t" type="matrix" values="1 0 0 0 0 1 0 0 0 0 1 0 0 0 0 0 0 0 0 1" result="c"/><feComposite in="a" in2="c" operator="arithmetic" k1="0" k2="0.6" k3="0.4" k4="0" result="ac"/><feComposite in="mg" in2="ac" operator="arithmetic" k1="0" k2="0.4" k3="0.6" k4="0" result="m"/><feColorMatrix in="m" type="matrix" values="0 0 0 0 0.690 0 0 0 0 0.165 0 0 0 0 0.322 14 0 0 0 -8.400" result="red1"/><feColorMatrix in="m" type="matrix" values="0 0 0 0 0.525 0 0 0 0 0.071 0 0 0 0 0.204 14 0 0 0 -9.800" result="red2"/><feColorMatrix in="ac" type="matrix" values="0 0 0 0 0.612 0 0 0 0 0.110 0 0 0 0 0.259 16 0 0 0 -9.040" result="spk"/><feTurbulence type="turbulence" baseFrequency="0.1" numOctaves="2" seed="33" result="l_t"/><feColorMatrix in="l_t" type="matrix" values="1 0 0 0 0 1 0 0 0 0 1 0 0 0 0 0 0 0 0 1" result="l"/><feColorMatrix in="l" type="matrix" values="0 0 0 0 1.000 0 0 0 0 1.000 0 0 0 0 1.000 -14 0 0 0 0.490" result="wl"/><feMerge><feMergeNode in="col"/><feMergeNode in="wl"/><feMergeNode in="spk"/><feMergeNode in="red1"/><feMergeNode in="red2"/></feMerge></filter><filter id="st3" x="0" y="0" width="1" height="1" color-interpolation-filters="sRGB"><feTurbulence type="fractalNoise" baseFrequency="0.55" numOctaves="2" seed="41" result="a_t"/><feColorMatrix in="a_t" type="matrix" values="1 0 0 0 0 1 0 0 0 0 1 0 0 0 0 0 0 0 0 1" result="a"/><feTurbulence type="fractalNoise" baseFrequency="0.2" numOctaves="2" seed="42" result="b_t"/><feColorMatrix in="b_t" type="matrix" values="1 0 0 0 0 1 0 0 0 0 1 0 0 0 0 0 0 0 0 1" result="b"/><feComposite in="a" in2="b" operator="arithmetic" k1="0" k2="0.5" k3="0.5" k4="-0.015" result="m"/><feComponentTransfer in="m" result="col"><feFuncR type="table" tableValues="0.353 0.353 0.353 0.353 0.353 0.353 0.353 0.416 0.478 0.557 0.627 0.695 0.768 0.840 0.902 0.949 0.949 0.949 0.949 0.949 0.949"/><feFuncG type="table" tableValues="0.039 0.039 0.039 0.039 0.039 0.039 0.039 0.059 0.078 0.106 0.137 0.193 0.303 0.482 0.667 0.816 0.816 0.816 0.816 0.816 0.816"/><feFuncB type="table" tableValues="0.149 0.149 0.149 0.149 0.149 0.149 0.149 0.176 0.204 0.243 0.282 0.340 0.440 0.603 0.749 0.863 0.863 0.863 0.863 0.863 0.863"/><feFuncA type="linear" slope="0" intercept="1"/></feComponentTransfer><feTurbulence type="fractalNoise" baseFrequency="0.7" numOctaves="1" seed="50" result="pn_t"/><feColorMatrix in="pn_t" type="matrix" values="1 0 0 0 0 1 0 0 0 0 1 0 0 0 0 0 0 0 0 1" result="pn"/><feColorMatrix in="pn" type="matrix" values="0 0 0 0 0.416 0 0 0 0 0.102 0 0 0 0 0.392 3.5 0 0 0 -1.925" result="pur"/><feTurbulence type="turbulence" baseFrequency="0.09" numOctaves="2" seed="43" result="l_t"/><feColorMatrix in="l_t" type="matrix" values="1 0 0 0 0 1 0 0 0 0 1 0 0 0 0 0 0 0 0 1" result="l"/><feColorMatrix in="l" type="matrix" values="0 0 0 0 1.000 0 0 0 0 1.000 0 0 0 0 1.000 -14 0 0 0 0.784" result="wl"/><feTurbulence type="fractalNoise" baseFrequency="0.1" numOctaves="3" seed="44" result="h_t"/><feColorMatrix in="h_t" type="matrix" values="1 0 0 0 0 1 0 0 0 0 1 0 0 0 0 0 0 0 0 1" result="h"/><feComposite in="a" in2="h" operator="arithmetic" k1="0" k2="0.3" k3="0.7" k4="0" result="hm"/><feColorMatrix in="hm" type="matrix" values="0 0 0 0 1.000 0 0 0 0 1.000 0 0 0 0 1.000 18 0 0 0 -10.890" result="wh"/><feMerge><feMergeNode in="col"/><feMergeNode in="pur"/><feMergeNode in="wl"/><feMergeNode in="wh"/></feMerge></filter><filter id="st4" x="0" y="0" width="1" height="1" color-interpolation-filters="sRGB"><feTurbulence type="fractalNoise" baseFrequency="0.55" numOctaves="2" seed="53" result="a_t"/><feColorMatrix in="a_t" type="matrix" values="1 0 0 0 0 1 0 0 0 0 1 0 0 0 0 0 0 0 0 1" result="a"/><feTurbulence type="fractalNoise" baseFrequency="0.2" numOctaves="2" seed="54" result="b_t"/><feColorMatrix in="b_t" type="matrix" values="1 0 0 0 0 1 0 0 0 0 1 0 0 0 0 0 0 0 0 1" result="b"/><feComposite in="a" in2="b" operator="arithmetic" k1="0" k2="0.5" k3="0.5" k4="0.0" result="m"/><feComponentTransfer in="m" result="col"><feFuncR type="table" tableValues="0.353 0.353 0.353 0.353 0.353 0.353 0.353 0.416 0.478 0.557 0.627 0.695 0.768 0.840 0.902 0.949 0.949 0.949 0.949 0.949 0.949"/><feFuncG type="table" tableValues="0.039 0.039 0.039 0.039 0.039 0.039 0.039 0.059 0.078 0.106 0.137 0.193 0.303 0.482 0.667 0.816 0.816 0.816 0.816 0.816 0.816"/><feFuncB type="table" tableValues="0.149 0.149 0.149 0.149 0.149 0.149 0.149 0.176 0.204 0.243 0.282 0.340 0.440 0.603 0.749 0.863 0.863 0.863 0.863 0.863 0.863"/><feFuncA type="linear" slope="0" intercept="1"/></feComponentTransfer><feTurbulence type="fractalNoise" baseFrequency="0.7" numOctaves="1" seed="62" result="pn_t"/><feColorMatrix in="pn_t" type="matrix" values="1 0 0 0 0 1 0 0 0 0 1 0 0 0 0 0 0 0 0 1" result="pn"/><feColorMatrix in="pn" type="matrix" values="0 0 0 0 0.416 0 0 0 0 0.102 0 0 0 0 0.392 3.5 0 0 0 -1.925" result="pur"/><feTurbulence type="turbulence" baseFrequency="0.09" numOctaves="2" seed="55" result="l_t"/><feColorMatrix in="l_t" type="matrix" values="1 0 0 0 0 1 0 0 0 0 1 0 0 0 0 0 0 0 0 1" result="l"/><feColorMatrix in="l" type="matrix" values="0 0 0 0 1.000 0 0 0 0 1.000 0 0 0 0 1.000 -14 0 0 0 0.833" result="wl"/><feTurbulence type="fractalNoise" baseFrequency="0.1" numOctaves="3" seed="56" result="h_t"/><feColorMatrix in="h_t" type="matrix" values="1 0 0 0 0 1 0 0 0 0 1 0 0 0 0 0 0 0 0 1" result="h"/><feComposite in="a" in2="h" operator="arithmetic" k1="0" k2="0.3" k3="0.7" k4="0" result="hm"/><feColorMatrix in="hm" type="matrix" values="0 0 0 0 1.000 0 0 0 0 1.000 0 0 0 0 1.000 18 0 0 0 -10.710" result="wh"/><feMerge><feMergeNode in="col"/><feMergeNode in="pur"/><feMergeNode in="wl"/><feMergeNode in="wh"/></feMerge></filter><filter id="st5" x="0" y="0" width="1" height="1" color-interpolation-filters="sRGB"><feTurbulence type="fractalNoise" baseFrequency="0.55" numOctaves="2" seed="67" result="a_t"/><feColorMatrix in="a_t" type="matrix" values="1 0 0 0 0 1 0 0 0 0 1 0 0 0 0 0 0 0 0 1" result="a"/><feTurbulence type="fractalNoise" baseFrequency="0.2" numOctaves="2" seed="68" result="b_t"/><feColorMatrix in="b_t" type="matrix" values="1 0 0 0 0 1 0 0 0 0 1 0 0 0 0 0 0 0 0 1" result="b"/><feComposite in="a" in2="b" operator="arithmetic" k1="0" k2="0.5" k3="0.5" k4="0.01" result="m"/><feComponentTransfer in="m" result="col"><feFuncR type="table" tableValues="0.353 0.353 0.353 0.353 0.353 0.353 0.353 0.416 0.478 0.557 0.627 0.695 0.768 0.840 0.902 0.949 0.949 0.949 0.949 0.949 0.949"/><feFuncG type="table" tableValues="0.039 0.039 0.039 0.039 0.039 0.039 0.039 0.059 0.078 0.106 0.137 0.193 0.303 0.482 0.667 0.816 0.816 0.816 0.816 0.816 0.816"/><feFuncB type="table" tableValues="0.149 0.149 0.149 0.149 0.149 0.149 0.149 0.176 0.204 0.243 0.282 0.340 0.440 0.603 0.749 0.863 0.863 0.863 0.863 0.863 0.863"/><feFuncA type="linear" slope="0" intercept="1"/></feComponentTransfer><feTurbulence type="fractalNoise" baseFrequency="0.7" numOctaves="1" seed="76" result="pn_t"/><feColorMatrix in="pn_t" type="matrix" values="1 0 0 0 0 1 0 0 0 0 1 0 0 0 0 0 0 0 0 1" result="pn"/><feColorMatrix in="pn" type="matrix" values="0 0 0 0 0.416 0 0 0 0 0.102 0 0 0 0 0.392 3.5 0 0 0 -1.925" result="pur"/><feTurbulence type="turbulence" baseFrequency="0.09" numOctaves="2" seed="69" result="l_t"/><feColorMatrix in="l_t" type="matrix" values="1 0 0 0 0 1 0 0 0 0 1 0 0 0 0 0 0 0 0 1" result="l"/><feColorMatrix in="l" type="matrix" values="0 0 0 0 1.000 0 0 0 0 1.000 0 0 0 0 1.000 -14 0 0 0 0.882" result="wl"/><feTurbulence type="fractalNoise" baseFrequency="0.1" numOctaves="3" seed="70" result="h_t"/><feColorMatrix in="h_t" type="matrix" values="1 0 0 0 0 1 0 0 0 0 1 0 0 0 0 0 0 0 0 1" result="h"/><feComposite in="a" in2="h" operator="arithmetic" k1="0" k2="0.3" k3="0.7" k4="0" result="hm"/><feColorMatrix in="hm" type="matrix" values="0 0 0 0 1.000 0 0 0 0 1.000 0 0 0 0 1.000 18 0 0 0 -10.800" result="wh"/><feMerge><feMergeNode in="col"/><feMergeNode in="pur"/><feMergeNode in="wl"/><feMergeNode in="wh"/></feMerge></filter><radialGradient id="nrg" cx="0.5" cy="0.5" r="0.5"><stop offset="0" stop-color="#9c9ce0"/><stop offset="0.45" stop-color="#5c5cce"/><stop offset="1" stop-color="#3434ba"/></radialGradient><radialGradient id="nrg2" cx="0.5" cy="0.5" r="0.5"><stop offset="0" stop-color="#6464d0"/><stop offset="0.5" stop-color="#4242c2"/><stop offset="1" stop-color="#2c2cb4"/></radialGradient><filter id="drgn" x="0" y="0" width="1" height="1" color-interpolation-filters="sRGB"><feTurbulence type="fractalNoise" baseFrequency="0.14" numOctaves="2" seed="77" result="a_t"/><feColorMatrix in="a_t" type="matrix" values="1 0 0 0 0 1 0 0 0 0 1 0 0 0 0 0 0 0 0 1" result="a"/><feColorMatrix in="a" type="matrix" values="0 0 0 0 1.000 0 0 0 0 1.000 0 0 0 0 1.000 2.0 0 0 0 -1.120" result="w"/><feColorMatrix in="a" type="matrix" values="0 0 0 0 0.110 0 0 0 0 0.110 0 0 0 0 0.627 -1.6 0 0 0 0.672" result="k"/><feMerge><feMergeNode in="w"/><feMergeNode in="k"/></feMerge></filter></defs>
<rect x="17.1" y="533.2" width="108.90" height="102.40" fill="#000" filter="url(#st0)"/>
<svg x="128.9" y="533.2" width="108.60" height="102.40" overflow="hidden"><g transform="translate(-128.9 -533.2)"><g filter="url(#st1)"><rect x="128.9" y="533.2" width="108.60" height="102.40" fill="#000" fill-opacity="0"/><circle cx="151.7" cy="576.3" r="6.5" fill-opacity="1"/><circle cx="165.4" cy="575.6" r="5.8" fill-opacity="1"/><circle cx="158.4" cy="581.6" r="4.8" fill-opacity="1"/><circle cx="154.7" cy="574.6" r="6.6" fill-opacity="1"/><circle cx="162.5" cy="579.5" r="4.3" fill-opacity="1"/><circle cx="158" cy="573.3" r="5.3" fill-opacity="1"/><circle cx="151.9" cy="583.5" r="5.1" fill-opacity="1"/><circle cx="159.4" cy="582.9" r="4.9" fill-opacity="1"/><circle cx="166.6" cy="582.5" r="5.8" fill-opacity="1"/><circle cx="150.4" cy="571.7" r="5.1" fill-opacity="1"/><circle cx="150.5" cy="581.5" r="5.1" fill-opacity="1"/><circle cx="156.5" cy="577.5" r="5.3" fill-opacity="1"/><circle cx="157.1" cy="605.4" r="4.8" fill-opacity="1"/><circle cx="164.6" cy="605.9" r="6.4" fill-opacity="1"/><circle cx="166.5" cy="608.9" r="5.3" fill-opacity="1"/><circle cx="169.9" cy="608.9" r="6.8" fill-opacity="1"/><circle cx="163.9" cy="599.8" r="6.7" fill-opacity="1"/><circle cx="155.3" cy="608.3" r="7.4" fill-opacity="1"/><circle cx="160.1" cy="617.5" r="6.8" fill-opacity="1"/><circle cx="164.6" cy="606.1" r="5" fill-opacity="1"/><circle cx="173" cy="608.4" r="7.6" fill-opacity="1"/><circle cx="174" cy="599.2" r="5.1" fill-opacity="1"/><circle cx="161.7" cy="596.7" r="7.2" fill-opacity="1"/><circle cx="166.4" cy="602.6" r="5.3" fill-opacity="1"/><circle cx="168.1" cy="597" r="7.4" fill-opacity="1"/><circle cx="152.7" cy="610.8" r="5.2" fill-opacity="1"/><circle cx="177.6" cy="604" r="5.8" fill-opacity="1"/><circle cx="174.4" cy="610.7" r="6.8" fill-opacity="1"/><circle cx="163" cy="609.3" r="5.6" fill-opacity="1"/><circle cx="166.9" cy="603.7" r="7.6" fill-opacity="1"/><circle cx="156" cy="553.9" r="4" fill-opacity="0.75"/><circle cx="165.8" cy="549" r="4.5" fill-opacity="0.75"/><circle cx="162.9" cy="554" r="5.7" fill-opacity="0.75"/><circle cx="164.2" cy="550.5" r="5.6" fill-opacity="0.75"/><circle cx="148.4" cy="551.7" r="5.5" fill-opacity="0.75"/><circle cx="156.4" cy="554.5" r="5.2" fill-opacity="0.75"/><circle cx="148.8" cy="548" r="4.5" fill-opacity="0.75"/><circle cx="161.1" cy="548.2" r="5.2" fill-opacity="0.75"/><circle cx="161.2" cy="546.6" r="3.9" fill-opacity="0.75"/><circle cx="156.5" cy="552.2" r="4.1" fill-opacity="0.75"/><circle cx="199.9" cy="565.8" r="4.1" fill-opacity="0.8"/><circle cx="191.7" cy="564.5" r="4.7" fill-opacity="0.8"/><circle cx="195.4" cy="556.7" r="4.6" fill-opacity="0.8"/><circle cx="194.6" cy="561" r="4.4" fill-opacity="0.8"/><circle cx="194.6" cy="569.1" r="4.8" fill-opacity="0.8"/><circle cx="197.3" cy="568.3" r="4.2" fill-opacity="0.8"/><circle cx="196.6" cy="563.8" r="3.5" fill-opacity="0.8"/><circle cx="224.2" cy="576.7" r="4.2" fill-opacity="0.75"/><circle cx="213.5" cy="573.9" r="4.7" fill-opacity="0.75"/><circle cx="224" cy="575.1" r="4.3" fill-opacity="0.75"/><circle cx="225.1" cy="576.3" r="3.5" fill-opacity="0.75"/><circle cx="210.6" cy="579.5" r="3.9" fill-opacity="0.75"/><circle cx="213.3" cy="575.2" r="4.8" fill-opacity="0.75"/><circle cx="217.5" cy="575.7" r="4.7" fill-opacity="0.75"/><circle cx="220.3" cy="553.8" r="4.3" fill-opacity="0.8"/><circle cx="228.7" cy="548.2" r="3.7" fill-opacity="0.8"/><circle cx="220.6" cy="546.7" r="4.3" fill-opacity="0.8"/><circle cx="217.1" cy="550.6" r="3.5" fill-opacity="0.8"/><circle cx="222.6" cy="554.3" r="3.3" fill-opacity="0.8"/><circle cx="223.6" cy="628.2" r="4.7" fill-opacity="1"/><circle cx="221.8" cy="616.8" r="6" fill-opacity="1"/><circle cx="230" cy="620.3" r="4.3" fill-opacity="1"/><circle cx="226.5" cy="630.4" r="6.1" fill-opacity="1"/><circle cx="231.1" cy="620.7" r="4.8" fill-opacity="1"/><circle cx="212.5" cy="618.9" r="5.1" fill-opacity="1"/><circle cx="234.2" cy="620.2" r="5.7" fill-opacity="1"/><circle cx="218.4" cy="624.4" r="4.5" fill-opacity="1"/><circle cx="232.8" cy="625.9" r="6.1" fill-opacity="1"/><circle cx="233.1" cy="623.7" r="6.8" fill-opacity="1"/><circle cx="219.1" cy="626" r="4.4" fill-opacity="1"/><circle cx="220.7" cy="630.7" r="6.8" fill-opacity="1"/><circle cx="221.2" cy="628.4" r="6.1" fill-opacity="1"/><circle cx="181.1" cy="625.3" r="4.5" fill-opacity="0.75"/><circle cx="191" cy="609.1" r="6" fill-opacity="0.75"/><circle cx="190.6" cy="616.1" r="4.2" fill-opacity="0.75"/><circle cx="183.2" cy="630.6" r="5.3" fill-opacity="0.75"/><circle cx="187" cy="623.8" r="4.5" fill-opacity="0.75"/><circle cx="178.3" cy="623.7" r="6.3" fill-opacity="0.75"/><circle cx="186.4" cy="607.7" r="4.6" fill-opacity="0.75"/><circle cx="186.7" cy="612.9" r="5.4" fill-opacity="0.75"/><circle cx="194" cy="621.6" r="4.4" fill-opacity="0.75"/><circle cx="180.1" cy="613.2" r="5.7" fill-opacity="0.75"/><circle cx="183.8" cy="611.8" r="6.1" fill-opacity="0.75"/><circle cx="192.3" cy="615.2" r="6.6" fill-opacity="0.75"/><circle cx="132.6" cy="566" r="3.1" fill-opacity="0.9"/><circle cx="135" cy="569.3" r="2.8" fill-opacity="0.9"/><circle cx="132.6" cy="566.1" r="3.4" fill-opacity="0.9"/><circle cx="203.8" cy="593.6" r="3.4" fill-opacity="0.7"/><circle cx="207.5" cy="599.1" r="5" fill-opacity="0.7"/><circle cx="204.9" cy="591.1" r="4.7" fill-opacity="0.7"/><circle cx="203.9" cy="585.9" r="3.9" fill-opacity="0.7"/><circle cx="208.5" cy="591.7" r="4.7" fill-opacity="0.7"/><circle cx="200.9" cy="598.3" r="4.8" fill-opacity="0.7"/><circle cx="196.6" cy="592.4" r="5.1" fill-opacity="0.7"/><circle cx="133" cy="633.9" r="2.9" fill-opacity="0.9"/><circle cx="132.8" cy="631.3" r="2.9" fill-opacity="0.9"/><circle cx="138.5" cy="629.8" r="3.8" fill-opacity="0.9"/><circle cx="137.7" cy="630.9" r="4.3" fill-opacity="0.9"/><circle cx="175.1" cy="541.6" r="3.2" fill-opacity="0.6"/><circle cx="177" cy="540.5" r="3.6" fill-opacity="0.6"/><circle cx="179.2" cy="541.8" r="3.8" fill-opacity="0.6"/><circle cx="130.5" cy="541.3" r="3.5" fill-opacity="0.7"/><circle cx="135.7" cy="541.2" r="3.4" fill-opacity="0.7"/><circle cx="138.2" cy="536.4" r="3.4" fill-opacity="0.7"/><circle cx="193.2" cy="539.7" r="3.8" fill-opacity="0.6"/><circle cx="200.5" cy="535.1" r="2.8" fill-opacity="0.6"/><circle cx="199.7" cy="536" r="2.8" fill-opacity="0.6"/><circle cx="199.8" cy="544.4" r="3.5" fill-opacity="0.6"/><circle cx="227.4" cy="598.6" r="3.5" fill-opacity="0.7"/><circle cx="233.7" cy="595.3" r="3.5" fill-opacity="0.7"/><circle cx="229.8" cy="598" r="2.9" fill-opacity="0.7"/><circle cx="225.6" cy="597.7" r="2.9" fill-opacity="0.7"/><circle cx="177.9" cy="564.9" r="3.2" fill-opacity="0.6"/><circle cx="176.8" cy="563.6" r="3.3" fill-opacity="0.6"/><circle cx="175.8" cy="559.9" r="3.9" fill-opacity="0.6"/><circle cx="178.1" cy="563.2" r="3.7" fill-opacity="0.6"/><circle cx="152.9" cy="593.1" r="2.4" fill-opacity="0.7"/><circle cx="150.6" cy="596.2" r="2.4" fill-opacity="0.7"/><circle cx="149.1" cy="589.8" r="2.5" fill-opacity="0.7"/><circle cx="206.9" cy="628.5" r="3" fill-opacity="0.7"/><circle cx="202.3" cy="629" r="3.1" fill-opacity="0.7"/><circle cx="204" cy="628.2" r="2.8" fill-opacity="0.7"/></g></g></svg>
<svg x="128.9" y="533.2" width="108.60" height="102.40" overflow="hidden"><g transform="translate(-128.9 -533.2)"><ellipse cx="185" cy="570.5" rx="4" ry="3.5" fill="#fdf6f9"/><ellipse cx="182.6" cy="582.6" rx="7" ry="6.5" fill="#fdf6f9"/><ellipse cx="226" cy="590" rx="5" ry="4.5" fill="#fdf6f9"/><ellipse cx="205.9" cy="622" rx="4" ry="3.5" fill="#fdf6f9"/><ellipse cx="160" cy="539.5" rx="6" ry="3" fill="#fdf6f9"/><ellipse cx="137.6" cy="548" rx="3" ry="5" fill="#fdf6f9"/><ellipse cx="147" cy="606" rx="3" ry="6" fill="#fdf6f9"/><ellipse cx="232" cy="615.5" rx="4" ry="4" fill="#fdf6f9"/><ellipse cx="173" cy="590" rx="3" ry="3" fill="#fdf6f9"/><ellipse cx="233" cy="547" rx="3" ry="4" fill="#fdf6f9"/></g></svg>
<svg x="240.3" y="533.2" width="108.70" height="102.40" overflow="hidden"><g transform="translate(-240.3 -533.2)"><g filter="url(#st2)"><rect x="240.3" y="533.2" width="108.70" height="102.40" fill="#000" fill-opacity="0"/><circle cx="341.5" cy="608.4" r="3.7" fill-opacity="1"/><circle cx="335.3" cy="598.7" r="4.1" fill-opacity="1"/><circle cx="331.7" cy="600.5" r="3.5" fill-opacity="1"/><circle cx="329.6" cy="603" r="4.4" fill-opacity="1"/><circle cx="342.9" cy="599.9" r="4.1" fill-opacity="1"/><circle cx="337.5" cy="606.5" r="4.9" fill-opacity="1"/><circle cx="334.3" cy="599" r="4.2" fill-opacity="1"/><circle cx="305.9" cy="607" r="4.2" fill-opacity="0.8"/><circle cx="314.2" cy="611.3" r="4.4" fill-opacity="0.8"/><circle cx="307.9" cy="604" r="3.4" fill-opacity="0.8"/><circle cx="306.4" cy="612" r="4.2" fill-opacity="0.8"/><circle cx="309.9" cy="602.5" r="4" fill-opacity="0.8"/><circle cx="313" cy="605.4" r="3.6" fill-opacity="0.8"/><circle cx="256.7" cy="596.2" r="3.4" fill-opacity="0.8"/><circle cx="257.2" cy="597" r="3.7" fill-opacity="0.8"/><circle cx="267.4" cy="595.5" r="3.6" fill-opacity="0.8"/><circle cx="327.9" cy="556.5" r="2.4" fill-opacity="0.8"/><circle cx="329.2" cy="554.3" r="2.5" fill-opacity="0.8"/><circle cx="329.1" cy="557.4" r="2.5" fill-opacity="0.8"/><circle cx="318.9" cy="560" r="2.4" fill-opacity="0.8"/><circle cx="319.1" cy="560.7" r="2.3" fill-opacity="0.8"/><circle cx="319.9" cy="560" r="2.1" fill-opacity="0.8"/><circle cx="305.9" cy="554.1" r="2.5" fill-opacity="0.8"/><circle cx="301.7" cy="553.9" r="2.4" fill-opacity="0.8"/><circle cx="304.5" cy="552.6" r="2.2" fill-opacity="0.8"/><circle cx="290.9" cy="597.6" r="2.5" fill-opacity="0.8"/><circle cx="293.9" cy="600.9" r="2.3" fill-opacity="0.8"/><circle cx="294.4" cy="600" r="2.3" fill-opacity="0.8"/><circle cx="277.5" cy="613.9" r="2.7" fill-opacity="0.8"/><circle cx="274.2" cy="615.7" r="2.7" fill-opacity="0.8"/><circle cx="276.1" cy="614.5" r="2.5" fill-opacity="0.8"/><circle cx="293.9" cy="627.1" r="2.9" fill-opacity="0.85"/><circle cx="295.7" cy="625.3" r="2.9" fill-opacity="0.85"/><circle cx="296.3" cy="626.1" r="2.6" fill-opacity="0.85"/><circle cx="244.5" cy="630.2" r="3.2" fill-opacity="0.85"/><circle cx="240" cy="632" r="3.4" fill-opacity="0.85"/><circle cx="245.6" cy="627.3" r="2.4" fill-opacity="0.85"/><circle cx="264.5" cy="569" r="3.3" fill-opacity="0.65"/><circle cx="263.3" cy="563" r="3.3" fill-opacity="0.65"/><circle cx="269.7" cy="566.1" r="3.1" fill-opacity="0.65"/><circle cx="244.2" cy="576.7" r="3.2" fill-opacity="0.65"/><circle cx="242.4" cy="574.2" r="2.4" fill-opacity="0.65"/><circle cx="244.6" cy="583.7" r="2.5" fill-opacity="0.65"/><circle cx="335.9" cy="535.8" r="3.1" fill-opacity="0.8"/><circle cx="345.9" cy="532.7" r="2.9" fill-opacity="0.8"/><circle cx="345.4" cy="537.5" r="3" fill-opacity="0.8"/><circle cx="262.1" cy="553.8" r="4.1" fill-opacity="0.9"/><circle cx="253.2" cy="552.4" r="5.4" fill-opacity="0.9"/><circle cx="273.8" cy="552.3" r="6.4" fill-opacity="0.9"/><circle cx="277.1" cy="553.8" r="5.9" fill-opacity="0.9"/><circle cx="331.5" cy="624.8" r="3.8" fill-opacity="0.6"/><circle cx="323.7" cy="623.6" r="3.8" fill-opacity="0.6"/><circle cx="328.8" cy="629.9" r="4.4" fill-opacity="0.6"/><circle cx="327.4" cy="620.1" r="3.9" fill-opacity="0.6"/><circle cx="336.3" cy="627.1" r="3.2" fill-opacity="0.6"/><circle cx="300" cy="571.5" r="2.6" fill-opacity="0.55"/><circle cx="300.8" cy="575.9" r="2.6" fill-opacity="0.55"/><circle cx="302.5" cy="574.7" r="3.3" fill-opacity="0.55"/><circle cx="327" cy="581.5" r="2.7" fill-opacity="0.55"/><circle cx="321.8" cy="582.6" r="2.5" fill-opacity="0.55"/><circle cx="322.7" cy="580.2" r="2.4" fill-opacity="0.55"/><circle cx="284.1" cy="543.1" r="2.6" fill-opacity="0.6"/><circle cx="284.5" cy="544" r="2.2" fill-opacity="0.6"/><circle cx="283.3" cy="541.8" r="2.1" fill-opacity="0.6"/><circle cx="250" cy="616.3" r="3.3" fill-opacity="0.6"/><circle cx="258.8" cy="614.8" r="3.4" fill-opacity="0.6"/><circle cx="258.4" cy="616" r="3.3" fill-opacity="0.6"/><circle cx="307.8" cy="631.5" r="2.5" fill-opacity="0.6"/><circle cx="307.2" cy="632.1" r="3" fill-opacity="0.6"/><circle cx="310.3" cy="632" r="2.8" fill-opacity="0.6"/></g></g></svg>
<svg x="240.3" y="533.2" width="108.70" height="102.40" overflow="hidden"><g transform="translate(-240.3 -533.2)"><ellipse cx="246" cy="562" rx="6" ry="6" fill="#fdf6f9"/><ellipse cx="277.5" cy="562.5" rx="4" ry="3.5" fill="#fdf6f9"/><ellipse cx="325.7" cy="549.7" rx="4" ry="3.5" fill="#fdf6f9"/><ellipse cx="310.5" cy="593" rx="3" ry="3" fill="#fdf6f9"/><ellipse cx="335.4" cy="594.6" rx="5" ry="4" fill="#fdf6f9"/><ellipse cx="290.4" cy="594.6" rx="3" ry="3" fill="#fdf6f9"/><ellipse cx="281" cy="620" rx="6" ry="5" fill="#fdf6f9"/><ellipse cx="297" cy="628" rx="3" ry="3" fill="#fdf6f9"/><ellipse cx="246" cy="592" rx="3" ry="3" fill="#fdf6f9"/><ellipse cx="268" cy="630" rx="4" ry="3.5" fill="#fdf6f9"/><ellipse cx="319" cy="602.7" rx="3" ry="3" fill="#fdf6f9"/><ellipse cx="258" cy="583" rx="4" ry="3" fill="#fdf6f9"/></g></svg>
<rect x="352.1" y="533.2" width="108.70" height="102.40" fill="#000" filter="url(#st3)"/>
<rect x="463.6" y="533.2" width="109.30" height="102.40" fill="#000" filter="url(#st4)"/>
<rect x="576.4" y="533.2" width="108.60" height="102.40" fill="#000" filter="url(#st5)"/>
<path d="M128.9 588 C136 586 142 592 142.5 602 C143 614 139 624 128.9 628 Z" fill="#d85a7a"/>
<path d="M240.3 533.2 L287.5 533.2 C288.5 540 287 547 283 549 C270 550.5 252 551 240.3 552 Z" fill="#d65c7c"/>
<ellipse cx="374.5" cy="543" rx="4.3" ry="8" transform="rotate(40 374.5 543)" fill="#c04860"/>
<ellipse cx="310.5" cy="540.5" rx="3.5" ry="3" fill="#a03058"/>
<svg x="17.1" y="636.6" width="108.90" height="102.00" overflow="hidden">
<rect width="108.90" height="102.00" fill="#c8c8ee"/>
<g transform="scale(0.5)" stroke="#3c3cbe" stroke-width="1"><path d="M-7 121Q-11 121 -14 124Q-17 126 -14 138Q-11 151 -4 153Q3 154 6 152Q10 149 11 143Q12 138 4 129Q-4 121 -7 121Z" fill="url(#nrg)"/><path d="M-21 73Q-28 79 -32 77Q-35 75 -37 68Q-39 60 -39 58Q-38 56 -37 55Q-35 54 -25 58Q-15 61 -15 63Q-14 66 -21 73Z" fill="url(#nrg)"/><path d="M52 38Q48 31 44 32Q39 32 36 39Q33 45 35 55Q37 64 37 64Q37 64 47 61Q57 57 57 51Q57 45 52 38Z" fill="url(#nrg)"/><path d="M226 153Q220 148 223 138Q226 127 232 125Q238 123 243 130Q247 137 244 145Q241 154 237 156Q232 158 226 153Z" fill="url(#nrg2)"/><path d="M139 70Q132 73 133 88Q134 103 145 92Q157 80 157 80Q157 80 154 75Q152 69 148 68Q145 67 139 70Z" fill="url(#nrg)"/><path d="M106 16Q114 11 117 19Q120 27 110 33Q101 38 99 37Q97 36 96 30Q95 24 96 22Q97 21 106 16Z" fill="url(#nrg)"/><path d="M175 135Q164 131 157 138Q150 145 156 156Q162 166 166 166Q169 166 175 162Q181 158 184 153Q188 148 187 143Q186 139 175 135Z" fill="url(#nrg)"/><path d="M57 -31Q55 -42 45 -37Q36 -32 39 -22Q43 -11 47 -11Q51 -11 55 -15Q58 -20 57 -31Z" fill="url(#nrg2)"/><path d="M7 14Q2 5 -2 6Q-7 7 -10 19Q-13 32 -10 36Q-7 40 -1 39Q5 38 8 31Q12 24 7 14Z" fill="url(#nrg2)"/><path d="M217 28Q214 37 215 41Q217 44 226 42Q235 40 240 27Q245 14 241 13Q238 12 230 15Q221 18 217 28Z" fill="url(#nrg)"/><path d="M140 139Q146 145 137 153Q127 160 123 161Q119 162 119 161Q118 161 115 156Q113 150 113 145Q113 139 124 137Q135 134 140 139Z" fill="url(#nrg)"/><path d="M222 76Q221 78 212 82Q204 85 202 76Q200 67 206 61Q213 56 218 66Q223 75 222 76Z" fill="url(#nrg)"/><path d="M123 134Q134 131 133 120Q133 108 132 108Q132 107 131 107Q130 108 121 115Q113 123 113 130Q113 137 113 137Q113 137 123 134Z" fill="url(#nrg)"/><path d="M70 -19Q79 -21 78 -12Q78 -3 74 3Q70 9 66 9Q63 10 58 0Q53 -9 57 -13Q61 -17 70 -19Z" fill="url(#nrg)"/><path d="M78 170Q70 174 69 173Q68 173 67 164Q65 155 73 149Q80 144 84 151Q87 158 86 162Q86 165 78 170Z" fill="url(#nrg2)"/><path d="M82 -23Q83 -24 89 -21Q96 -18 97 -12Q99 -7 96 -4Q93 -1 87 -2Q81 -3 81 -12Q81 -21 82 -23Z" fill="url(#nrg)"/><path d="M7 0Q4 3 9 13Q14 22 23 22Q32 23 33 11Q34 -1 22 -3Q10 -4 7 0Z" fill="url(#nrg)"/><path d="M-5 68Q-11 65 -11 62Q-12 59 -9 51Q-6 44 -1 42Q5 41 8 46Q11 51 10 57Q9 63 4 67Q0 70 -5 68Z" fill="url(#nrg)"/><path d="M250 168Q250 175 245 178Q240 182 236 178Q232 174 233 167Q233 161 238 159Q242 157 246 160Q250 162 250 168Z" fill="url(#nrg2)"/><path d="M10 207Q14 206 19 201Q24 195 25 190Q25 186 24 184Q22 182 13 181Q4 181 -1 187Q-5 193 -5 193Q-5 193 1 200Q6 207 10 207Z" fill="url(#nrg)"/><path d="M175 199Q174 204 167 205Q160 206 157 204Q155 201 153 193Q152 185 157 178Q162 171 165 171Q169 171 172 182Q176 193 175 199Z" fill="url(#nrg)"/><path d="M81 201Q75 201 70 211Q66 220 66 225Q66 229 68 232Q71 236 77 236Q83 237 89 227Q95 217 91 209Q87 201 81 201Z" fill="url(#nrg)"/><path d="M71 146Q79 141 80 139Q81 136 80 127Q79 119 78 118Q76 117 69 119Q62 121 55 128Q49 134 49 140Q49 146 57 149Q64 152 71 146Z" fill="url(#nrg)"/><path d="M-18 -11Q-18 -19 -12 -27Q-6 -35 -3 -35Q1 -35 5 -30Q9 -24 8 -15Q7 -6 5 -3Q2 1 -3 2Q-8 3 -13 0Q-17 -2 -18 -11Z" fill="url(#nrg)"/><path d="M135 26Q131 32 127 29Q122 26 119 18Q116 10 117 7Q118 5 128 2Q139 0 139 10Q138 21 135 26Z" fill="url(#nrg2)"/><path d="M-37 201Q-36 207 -31 209Q-26 211 -18 202Q-9 194 -9 193Q-9 193 -19 185Q-29 177 -33 185Q-37 194 -37 201Z" fill="url(#nrg)"/><path d="M81 70Q78 65 70 65Q63 64 61 72Q59 81 60 84Q61 86 67 87Q72 88 78 81Q83 74 81 70Z" fill="url(#nrg)"/><path d="M-1 221Q4 209 -2 202Q-7 195 -16 204Q-24 213 -23 219Q-21 226 -14 230Q-7 234 -6 233Q-6 233 -1 221Z" fill="url(#nrg)"/><path d="M1 78Q2 83 7 89Q12 95 17 89Q22 84 23 79Q24 73 18 70Q11 67 6 70Q1 73 1 78Z" fill="url(#nrg)"/><path d="M158 118Q161 124 161 126Q161 128 154 135Q148 143 148 143Q148 143 143 137Q137 131 136 120Q135 108 145 110Q155 112 158 118Z" fill="url(#nrg)"/><path d="M97 136Q84 135 83 127Q82 118 88 114Q95 111 102 117Q110 123 110 130Q110 137 97 136Z" fill="url(#nrg)"/><path d="M34 154Q41 152 43 149Q45 146 45 141Q45 135 38 130Q31 125 23 132Q16 139 15 144Q13 150 20 153Q27 156 34 154Z" fill="url(#nrg)"/><path d="M200 76Q198 67 193 66Q188 66 186 68Q184 71 184 81Q183 92 192 90Q200 89 201 87Q201 85 200 76Z" fill="url(#nrg2)"/><path d="M122 63Q118 56 113 56Q108 56 102 65Q97 74 101 80Q105 86 115 78Q126 71 122 63Z" fill="url(#nrg)"/><path d="M107 -7Q113 -5 116 -16Q119 -26 116 -28Q113 -29 106 -24Q98 -19 100 -13Q102 -8 107 -7Z" fill="url(#nrg2)"/><path d="M124 206Q124 197 132 192Q139 186 144 186Q149 185 150 194Q151 202 140 208Q128 214 126 214Q123 214 124 206Z" fill="url(#nrg)"/><path d="M182 101Q182 97 183 96Q184 94 192 93Q200 91 203 100Q207 109 207 110Q207 112 201 115Q196 118 189 112Q182 105 182 101Z" fill="url(#nrg)"/><path d="M73 28Q75 20 72 17Q70 13 66 13Q63 14 56 22Q50 30 55 37Q59 43 65 40Q71 37 73 28Z" fill="url(#nrg)"/><path d="M147 21Q141 21 141 10Q140 0 143 -3Q145 -7 149 -7Q152 -7 156 0Q160 7 156 14Q153 21 147 21Z" fill="url(#nrg2)"/><path d="M167 209Q174 208 177 211Q180 214 179 219Q178 223 172 231Q166 240 160 235Q154 230 157 220Q160 210 167 209Z" fill="url(#nrg2)"/><path d="M214 149Q210 150 201 149Q191 147 190 142Q190 137 194 129Q198 122 203 118Q208 115 216 121Q223 127 220 137Q217 147 214 149Z" fill="url(#nrg)"/><path d="M212 179Q216 183 215 191Q214 199 208 198Q203 196 200 191Q197 185 198 183Q198 181 203 179Q208 176 212 179Z" fill="url(#nrg)"/><path d="M21 217Q16 209 21 203Q27 197 34 202Q41 206 41 208Q41 210 37 217Q33 224 30 224Q26 225 21 217Z" fill="url(#nrg)"/><path d="M178 -22Q172 -25 163 -17Q154 -8 158 -1Q162 5 171 8Q180 10 181 9Q181 9 183 -5Q184 -18 178 -22Z" fill="url(#nrg)"/><path d="M63 225Q63 229 53 233Q42 236 39 231Q35 226 39 219Q43 211 53 216Q63 221 63 225Z" fill="url(#nrg)"/><path d="M185 27Q189 38 196 36Q202 34 200 23Q198 13 191 12Q184 11 183 12Q182 13 181 15Q181 17 185 27Z" fill="url(#nrg)"/><path d="M-23 126Q-19 126 -17 139Q-15 152 -21 158Q-28 165 -36 153Q-44 142 -43 141Q-43 140 -35 133Q-26 126 -23 126Z" fill="url(#nrg2)"/><path d="M-26 85Q-25 87 -19 90Q-13 93 -8 88Q-2 84 -2 79Q-2 74 -7 71Q-12 68 -19 75Q-26 82 -26 85Z" fill="url(#nrg2)"/><path d="M227 204Q237 204 238 205Q239 206 236 217Q233 228 222 227Q212 226 212 226Q211 226 211 224Q211 222 214 213Q217 205 227 204Z" fill="url(#nrg)"/><path d="M14 100Q14 102 22 108Q30 114 34 107Q38 101 37 98Q37 94 30 90Q24 86 19 92Q14 97 14 100Z" fill="url(#nrg2)"/><path d="M91 43Q95 40 97 41Q99 42 102 48Q105 55 100 64Q95 73 91 72Q86 71 84 67Q81 63 84 55Q87 47 91 43Z" fill="url(#nrg)"/><path d="M173 116Q180 108 188 114Q195 120 191 128Q187 136 176 132Q164 128 165 126Q165 124 173 116Z" fill="url(#nrg)"/><path d="M55 111Q59 118 53 125Q47 131 40 127Q33 122 33 118Q32 115 36 109Q41 103 46 104Q51 104 55 111Z" fill="url(#nrg)"/><path d="M37 -21Q41 -10 37 -7Q34 -4 22 -5Q11 -6 12 -15Q13 -24 22 -28Q31 -32 32 -31Q33 -31 37 -21Z" fill="url(#nrg)"/><path d="M220 64Q225 73 230 71Q235 70 237 59Q239 49 237 46Q235 44 226 46Q218 47 216 51Q215 56 220 64Z" fill="url(#nrg2)"/><path d="M57 86Q59 88 55 94Q51 100 46 100Q40 100 40 97Q40 94 43 89Q45 84 51 83Q56 83 57 86Z" fill="url(#nrg)"/><path d="M175 52Q180 53 183 59Q185 64 184 67Q182 69 171 73Q160 78 157 73Q155 68 162 60Q169 51 175 52Z" fill="url(#nrg)"/><path d="M152 40Q143 45 145 54Q146 64 150 65Q153 66 160 58Q167 49 165 43Q162 36 161 36Q160 36 152 40Z" fill="url(#nrg)"/><path d="M135 42Q131 38 126 46Q121 55 124 62Q128 69 129 69Q131 70 137 67Q143 64 142 55Q140 46 135 42Z" fill="url(#nrg)"/><path d="M93 195Q89 200 93 208Q97 216 108 216Q118 217 119 216Q121 214 120 206Q120 197 119 196Q118 195 108 192Q98 190 93 195Z" fill="url(#nrg2)"/><path d="M99 183Q98 187 109 190Q119 193 118 179Q118 165 117 165Q116 164 108 172Q100 180 99 183Z" fill="url(#nrg)"/><path d="M184 44Q187 39 183 28Q179 18 172 26Q165 35 168 41Q170 48 175 48Q181 49 184 44Z" fill="url(#nrg)"/><path d="M215 10Q220 14 229 12Q237 9 231 -2Q225 -14 220 -14Q216 -14 213 -5Q210 5 215 10Z" fill="url(#nrg)"/><path d="M208 200Q213 202 214 203Q214 203 211 213Q208 222 197 217Q187 212 194 206Q202 199 208 200Z" fill="url(#nrg2)"/><path d="M-19 161Q-13 154 -5 156Q2 158 2 168Q1 178 -3 185Q-7 191 -17 183Q-28 175 -28 174Q-28 174 -27 170Q-26 167 -19 161Z" fill="url(#nrg2)"/><path d="M187 46Q190 41 196 39Q203 37 206 39Q210 40 212 43Q214 46 212 50Q211 54 205 59Q199 63 194 63Q189 62 186 56Q184 51 187 46Z" fill="url(#nrg)"/><path d="M-6 91Q-11 96 -11 107Q-11 118 -8 117Q-4 116 3 109Q10 102 10 100Q10 97 5 91Q-1 86 -6 91Z" fill="url(#nrg2)"/><path d="M5 112Q12 105 20 110Q28 116 29 119Q29 123 22 129Q14 136 6 127Q-2 119 5 112Z" fill="url(#nrg)"/><path d="M237 119Q237 119 231 122Q225 124 218 118Q210 112 210 111Q210 110 218 102Q225 95 231 97Q238 98 238 108Q238 118 237 119Z" fill="url(#nrg)"/><path d="M117 99Q105 92 100 101Q96 109 103 115Q111 121 120 113Q129 106 117 99Z" fill="url(#nrg)"/><path d="M147 -42Q154 -45 162 -40Q169 -34 170 -31Q171 -27 162 -19Q152 -10 149 -10Q146 -10 140 -21Q135 -31 137 -36Q139 -40 147 -42Z" fill="url(#nrg2)"/><path d="M24 169Q22 179 13 178Q4 178 4 168Q5 158 8 155Q12 152 19 156Q26 160 24 169Z" fill="url(#nrg)"/><path d="M215 152Q212 154 210 164Q209 173 214 177Q218 180 223 177Q229 174 230 167Q231 160 224 155Q218 150 215 152Z" fill="url(#nrg)"/><path d="M129 35Q129 34 125 31Q121 29 111 34Q101 40 105 46Q108 53 113 53Q118 53 124 44Q129 36 129 35Z" fill="url(#nrg)"/><path d="M200 232Q193 237 187 230Q182 223 182 219Q183 215 184 214Q186 214 197 219Q207 223 207 225Q208 226 200 232Z" fill="url(#nrg)"/><path d="M196 -22Q186 -18 185 -5Q184 9 191 9Q198 10 203 7Q207 4 210 -6Q214 -16 210 -20Q206 -25 196 -22Z" fill="url(#nrg2)"/><path d="M179 101Q179 97 172 95Q165 93 161 102Q158 110 161 117Q163 123 171 115Q179 106 179 101Z" fill="url(#nrg)"/><path d="M247 73Q255 72 260 77Q266 83 265 84Q265 84 254 88Q243 92 241 83Q239 73 247 73Z" fill="url(#nrg)"/><path d="M78 43Q83 46 81 54Q79 62 71 61Q63 60 61 59Q60 57 60 51Q60 45 66 43Q72 40 78 43Z" fill="url(#nrg2)"/><path d="M129 73Q127 73 116 80Q106 88 106 89Q106 90 118 97Q130 104 131 104Q132 104 132 104Q132 104 131 89Q130 73 129 73Z" fill="url(#nrg)"/><path d="M116 -1Q118 2 128 0Q138 -2 141 -5Q143 -8 138 -19Q133 -30 127 -28Q121 -26 118 -15Q115 -4 116 -1Z" fill="url(#nrg)"/><path d="M72 199Q73 200 68 209Q63 219 54 214Q44 210 44 207Q44 205 47 202Q49 199 60 199Q72 198 72 199Z" fill="url(#nrg)"/><path d="M93 10Q94 19 93 20Q93 21 85 19Q78 17 75 14Q72 11 76 6Q81 0 86 1Q92 2 93 10Z" fill="url(#nrg2)"/><path d="M138 155Q147 147 147 147Q147 147 153 158Q160 168 154 175Q149 182 144 182Q139 182 134 172Q129 163 138 155Z" fill="url(#nrg)"/><path d="M122 218Q120 220 120 232Q119 244 125 249Q132 253 140 242Q148 232 138 225Q128 217 125 217Q123 217 122 218Z" fill="url(#nrg)"/><path d="M66 91Q71 92 74 103Q76 114 69 116Q62 117 58 109Q54 101 57 96Q61 90 66 91Z" fill="url(#nrg)"/><path d="M10 210Q14 210 19 218Q24 226 20 231Q16 236 6 235Q-4 234 1 222Q6 210 10 210Z" fill="url(#nrg)"/><path d="M94 172Q98 178 107 170Q115 163 113 158Q110 152 100 155Q91 159 90 162Q89 166 94 172Z" fill="url(#nrg)"/><path d="M173 93Q179 94 181 93Q182 92 182 81Q183 71 171 75Q160 79 160 80Q160 80 163 86Q166 91 173 93Z" fill="url(#nrg)"/><path d="M26 182Q28 184 35 180Q42 177 42 166Q42 155 35 157Q28 160 26 170Q24 179 26 182Z" fill="url(#nrg2)"/><path d="M158 27Q155 22 158 15Q161 8 170 10Q179 12 179 14Q178 16 171 25Q163 33 162 33Q161 32 158 27Z" fill="url(#nrg)"/><path d="M133 34Q133 33 137 28Q141 23 147 24Q152 24 156 29Q159 34 151 38Q142 43 138 39Q133 35 133 34Z" fill="url(#nrg)"/><path d="M75 196Q76 197 81 198Q87 198 91 192Q95 187 96 183Q96 179 92 174Q87 168 79 172Q71 177 73 186Q74 195 75 196Z" fill="url(#nrg)"/><path d="M225 180Q230 177 234 181Q237 185 237 193Q237 201 227 201Q217 201 216 200Q216 199 218 191Q220 183 225 180Z" fill="url(#nrg)"/><path d="M23 25Q15 26 11 32Q8 39 11 44Q14 48 22 46Q30 44 34 38Q37 31 34 28Q31 25 23 25Z" fill="url(#nrg)"/><path d="M47 189Q47 182 45 180Q43 179 36 182Q28 186 28 190Q28 195 35 199Q42 204 44 200Q47 197 47 189Z" fill="url(#nrg)"/><path d="M-20 93Q-27 89 -31 97Q-35 105 -30 114Q-26 123 -22 123Q-19 123 -16 121Q-13 118 -13 107Q-14 96 -20 93Z" fill="url(#nrg)"/><path d="M89 41Q94 37 93 31Q92 24 84 22Q77 20 75 29Q73 37 79 41Q85 44 89 41Z" fill="url(#nrg)"/><path d="M124 165Q120 165 120 179Q121 192 122 194Q123 195 130 189Q137 183 132 174Q127 164 124 165Z" fill="url(#nrg)"/><path d="M208 35Q212 36 215 27Q218 17 213 12Q208 7 204 10Q200 13 202 23Q204 33 208 35Z" fill="url(#nrg)"/><path d="M58 72Q61 63 59 61Q57 59 48 63Q38 67 42 74Q46 81 51 80Q56 80 58 72Z" fill="url(#nrg2)"/><path d="M114 6Q113 9 105 14Q96 19 95 10Q95 1 98 -2Q101 -5 107 -4Q112 -3 114 1Q115 4 114 6Z" fill="url(#nrg)"/><path d="M248 51Q241 49 239 60Q238 70 238 70Q239 71 247 70Q254 69 254 60Q254 52 248 51Z" fill="url(#nrg2)"/><path d="M36 67Q36 67 40 75Q43 82 41 87Q38 93 32 89Q25 85 26 79Q27 73 32 70Q36 67 36 67Z" fill="url(#nrg2)"/><path d="M155 206Q158 209 155 219Q152 230 151 230Q149 231 139 223Q128 216 140 210Q152 204 155 206Z" fill="url(#nrg)"/><path d="M-23 4Q-19 2 -14 4Q-9 7 -13 19Q-16 31 -21 32Q-26 33 -30 27Q-35 21 -31 14Q-27 6 -23 4Z" fill="url(#nrg)"/><path d="M198 192Q195 187 188 190Q181 194 179 200Q177 205 180 208Q182 211 184 211Q186 211 193 204Q200 197 198 192Z" fill="url(#nrg)"/><path d="M195 182Q195 180 189 171Q183 161 177 165Q170 170 175 181Q179 192 187 188Q194 184 195 182Z" fill="url(#nrg2)"/><path d="M109 145Q109 151 100 153Q90 156 87 149Q83 142 84 140Q84 137 97 138Q110 139 110 139Q110 139 109 145Z" fill="url(#nrg)"/><path d="M213 84Q221 81 222 87Q222 93 216 100Q209 108 206 99Q203 90 204 88Q205 87 213 84Z" fill="url(#nrg)"/><path d="M224 78Q224 80 225 86Q226 92 232 94Q239 96 240 95Q241 93 239 83Q237 74 236 73Q236 73 231 74Q225 76 224 78Z" fill="url(#nrg)"/><path d="M-21 36Q-16 34 -13 39Q-9 43 -12 51Q-14 58 -25 55Q-35 52 -30 44Q-25 37 -21 36Z" fill="url(#nrg2)"/></g>
<path d="M5.2 32.4h0M19.6 50.7h0M19.1 47h0M11.9 42.4h0M22.4 41.1h0M40.3 58.5h0M15.4 61.6h0M23.3 66.9h0M23.8 73.4h0M5.5 75.2h0M1.3 89.7h0M21.3 102.6h0M13.1 97.9h0M25.9 50.8h0M30.8 59.5h0M16 22.4h0M6.6 25.1h0M13.5 79.2h0M21.1 76.7h0M21.8 88.9h0M11.6 90.2h0M13.5 92.5h0M66.9 53.3h0M30.1 44h0M31 31h0M42.7 36.6h0M6.2 48.3h0M6.8 11.8h0M47.5 37.5h0M53.8 27.4h0M76.6 34h0M29.2 22.3h0M49.9 19.8h0M39.8 -0.9h0M94.9 74.3h0M107.7 101.5h0M41.5 67.9h0M24 99.1h0M24.1 90.3h0M69.6 91.8h0M84.5 84.3h0M80.8 84.2h0M89.2 96.9h0M98.3 60h0M100.6 44.9h0M104.3 55.1h0M91.3 46.5h0M91.8 34.9h0M79.1 40h0M52.1 45.2h0M52 43.8h0M66.4 52.6h0M66.5 52.5h0M63.6 35.6h0M47.7 18.6h0M108.2 22.9h0M101.1 98.8h0M97.8 92.3h0M59.9 97.1h0M40.5 70.9h0M59.3 81.7h0M55.8 69.3h0M55.4 75.6h0M67.9 66.2h0M78.2 55.4h0M81.5 62.3h0M82.3 46h0M90.3 53.1h0M90 47.8h0M101.3 43h0M106.5 27.5h0M69.7 -0.6h0M46.6 0.2h0M58.5 1.8h0M104.1 2.6h0M99.3 5.7h0M101.7 17.5h0M106.1 19.3h0M108.9 91h0M108.9 74.4h0M49 89.7h0M43.6 99.9h0M37.3 99.6h0M81.7 17.4h0M89.8 7.8h0M84.5 24.6h0M90.6 25.5h0M94.5 19.7h0M80.6 17.1h0M65.4 16.6h0" stroke="#2e2eac" stroke-width="1.9" stroke-linecap="round"/>
<path d="M-1.3 68.4h0M-15.3 32.8h0M21.3 24.2h0M116.2 71.1h0M74 38.8h0M86.7 74.9h0M61.6 75.9h0M62.9 61.3h0M34.2 -2.4h0M10 4h0M81.5 95.4h0M-11.4 97.4h0M34 37.4h0M-5.9 108.2h0M6.4 39.2h0M48.2 62.1h0M97.2 38.2h0M67.4 100.4h0M97.4 52.7h0M33.2 13.1h0M75.1 3.7h0M103.6 67.3h0M102 93.2h0M24.3 111.8h0M95.5 10.6h0M-13.7 70h0M112 108.1h0M12.2 49h0M88.8 62h0M21.5 58.7h0M13.4 -8.9h0M114.2 28.8h0M25 45.9h0M78.6 24.7h0M54.6 102.3h0M54.7 89.2h0M-6.5 86h0M112.5 55.7h0M54.3 52.6h0M76.2 -15h0M7.8 83.1h0M109.3 82.9h0M59.1 20.5h0M97 110.9h0M100.1 -2.4h0M61.9 44.8h0M65 -6.5h0M41.9 5h0M72.7 82.5h0M82.5 9.9h0M72.2 15.5h0M11.5 18.4h0M19.2 95.4h0M41.8 16.7h0M24.8 35.4h0M122.3 32h0M17.3 39.5h0M73.7 108.6h0M93.2 101.3h0M49.8 72.5h0M106.4 45.2h0M-10.7 23h0" stroke="#a8a8e4" stroke-width="4.2" stroke-linecap="round" opacity="0.8"/>
<path d="M-1.3 68.4h0M-15.3 32.8h0M21.3 24.2h0M116.2 71.1h0M74 38.8h0M86.7 74.9h0M61.6 75.9h0M62.9 61.3h0M34.2 -2.4h0M10 4h0M81.5 95.4h0M-11.4 97.4h0M34 37.4h0M-5.9 108.2h0M6.4 39.2h0M48.2 62.1h0M97.2 38.2h0M67.4 100.4h0M97.4 52.7h0M33.2 13.1h0M75.1 3.7h0M103.6 67.3h0M102 93.2h0M24.3 111.8h0M95.5 10.6h0M-13.7 70h0M112 108.1h0M12.2 49h0M88.8 62h0M21.5 58.7h0M13.4 -8.9h0M114.2 28.8h0M25 45.9h0M78.6 24.7h0M54.6 102.3h0M54.7 89.2h0M-6.5 86h0M112.5 55.7h0M54.3 52.6h0M76.2 -15h0M7.8 83.1h0M109.3 82.9h0M59.1 20.5h0M97 110.9h0M100.1 -2.4h0M61.9 44.8h0M65 -6.5h0M41.9 5h0M72.7 82.5h0M82.5 9.9h0M72.2 15.5h0M11.5 18.4h0M19.2 95.4h0M41.8 16.7h0M24.8 35.4h0M122.3 32h0M17.3 39.5h0M73.7 108.6h0M93.2 101.3h0M49.8 72.5h0M106.4 45.2h0M-10.7 23h0" stroke="#3a3ab4" stroke-width="1.2" stroke-linecap="round"/>
<rect width="108.90" height="102.00" fill="#000" filter="url(#drgn)"/>
<path d="M7.9 54.7h0M6.3 51.8h0M47.2 7.1h0M46.2 84.3h0M5.1 87.6h0M15.7 12h0M6.8 6.1h0M74.1 43.6h0M63.8 46.2h0M86.5 71.3h0M16.6 49.9h0M64.7 59.1h0M91.5 96.4h0M2.5 47.1h0M14.1 25.3h0M94.9 8.2h0M94.1 28.4h0M16.4 18h0M28.6 0.4h0M42.7 40.7h0M69.1 6.3h0M22.7 16.6h0M5.7 0h0M11 37.1h0M95.2 62.6h0M27.5 35.4h0M50.7 49.4h0M11.1 34.9h0M90.3 16.5h0M103.6 53.9h0M28.4 37.4h0M89.1 75.5h0M56.4 36.3h0M3 28.5h0M75.4 97.6h0M39.7 22.5h0M98 85.7h0M71.1 81.6h0M81.7 48.8h0M105.8 40.4h0M103.1 73.9h0M106.8 67h0M59.7 13.4h0M90 21.5h0M28.2 42.7h0M99.1 36.1h0M63.5 92.2h0M57 1.9h0M60.5 80h0M61 25.3h0M82.8 93.1h0M95.5 96.1h0M14.9 12.4h0M7.9 24.5h0M23.9 97.2h0M36.9 20h0M48 1.8h0M67.9 52.3h0M11.4 27.1h0M84.8 27.6h0M62.1 71.4h0M6.3 70.2h0M7.3 88h0" stroke="#3434b2" stroke-width="1.3" stroke-linecap="round"/>
<path d="M35.3 15.4h0M24.3 64h0M62.8 40.5h0M88.9 18.4h0M69.6 38h0M62.6 53.6h0M79.4 29.4h0M12.9 42.6h0M72.8 78h0M95.3 32h0M72.3 6.2h0M70.5 101.3h0M31 39.4h0M12.8 6h0M59.8 90.1h0M39.1 90.2h0M25.4 49.5h0M40.2 57.8h0M75.2 52.6h0M73.6 5.5h0M84.9 89.2h0M13.4 86.6h0M59.2 2.8h0M106.6 88.1h0M84.1 54.3h0M35.9 22.8h0M107.3 87h0M102 100.8h0M21.4 20.8h0M71.9 92.8h0M85.9 33.9h0M13.8 15.4h0M87.8 14.9h0M105.7 66.3h0M101.7 44.2h0M31.9 24.5h0M99.9 51.2h0M19.9 0.4h0M18.8 48.3h0M60.6 33.3h0M84.1 51.8h0M66.7 51.6h0M75.4 46.1h0M52.1 96h0M60.9 96.2h0M72.9 80h0M16.8 73h0M15.6 90h0M53.1 101h0M17.6 44h0M78.6 2h0M107.3 80.4h0M46 93h0M28.2 15.2h0M7.9 95.7h0M87.3 8.5h0M36.9 56.4h0" stroke="#3434b2" stroke-width="1.8" stroke-linecap="round"/>
</svg>
<svg x="128.9" y="636.6" width="108.60" height="102.00" overflow="hidden">
<rect width="108.60" height="102.00" fill="#c6c6ec"/>
<g transform="scale(0.5)" stroke="#3c3cbe" stroke-width="1"><path d="M167 -30Q167 -24 175 -18Q183 -11 188 -16Q194 -21 194 -26Q193 -30 185 -38Q177 -46 175 -45Q173 -44 169 -40Q166 -35 167 -30Z" fill="url(#nrg2)"/><path d="M133 160Q127 167 119 167Q111 168 108 153Q106 139 111 139Q117 138 128 145Q139 153 140 153Q140 154 133 160Z" fill="url(#nrg)"/><path d="M171 215Q166 213 161 214Q157 216 156 222Q156 229 156 230Q157 231 165 237Q174 242 178 238Q182 234 182 234Q182 234 179 226Q176 218 171 215Z" fill="url(#nrg)"/><path d="M158 106Q160 109 160 117Q160 124 152 129Q145 134 141 125Q138 116 139 113Q140 110 148 107Q156 103 158 106Z" fill="url(#nrg2)"/><path d="M228 34Q233 29 238 30Q243 32 245 46Q247 60 246 61Q245 62 233 62Q222 61 222 61Q222 60 223 49Q224 38 228 34Z" fill="url(#nrg)"/><path d="M151 179Q151 184 148 187Q146 191 139 187Q133 182 131 176Q129 170 135 163Q141 156 143 158Q145 159 149 167Q152 175 151 179Z" fill="url(#nrg)"/><path d="M66 41Q65 41 60 43Q54 46 53 48Q53 50 53 54Q53 59 59 68Q66 77 70 71Q75 64 75 59Q76 54 71 48Q66 41 66 41Z" fill="url(#nrg2)"/><path d="M185 108Q183 111 183 118Q183 126 193 131Q203 137 204 136Q204 135 200 121Q196 107 191 106Q187 105 185 108Z" fill="url(#nrg2)"/><path d="M79 60Q79 65 87 70Q95 75 97 69Q99 63 96 57Q92 51 86 52Q79 54 79 60Z" fill="url(#nrg)"/><path d="M19 88Q19 76 22 73Q25 71 29 73Q33 75 36 83Q40 91 32 97Q24 104 22 102Q19 100 19 88Z" fill="url(#nrg)"/><path d="M113 54Q111 61 115 65Q119 70 125 68Q130 66 128 56Q126 46 121 47Q115 48 113 54Z" fill="url(#nrg2)"/><path d="M-30 152Q-25 146 -21 145Q-17 143 -13 147Q-9 150 -6 159Q-4 169 -11 176Q-18 184 -27 175Q-36 166 -36 162Q-36 159 -30 152Z" fill="url(#nrg)"/><path d="M72 9Q80 5 81 2Q82 0 78 -9Q74 -18 69 -19Q63 -19 62 -19Q62 -18 57 -7Q53 5 59 9Q64 14 72 9Z" fill="url(#nrg2)"/><path d="M-11 198Q-17 194 -18 196Q-19 198 -18 210Q-18 221 -10 227Q-3 233 -1 231Q0 229 -3 216Q-5 202 -11 198Z" fill="url(#nrg)"/><path d="M165 173Q175 174 174 162Q173 151 172 150Q172 149 159 153Q147 157 151 165Q156 173 165 173Z" fill="url(#nrg)"/><path d="M-15 130Q-16 141 -12 144Q-7 147 1 142Q9 138 8 134Q8 131 4 125Q-1 119 -7 119Q-13 119 -13 119Q-13 119 -15 130Z" fill="url(#nrg)"/><path d="M187 9Q191 15 185 25Q179 36 177 35Q175 35 169 27Q164 20 164 17Q165 15 173 10Q182 4 187 9Z" fill="url(#nrg2)"/><path d="M209 -2Q209 4 204 9Q199 14 196 13Q193 12 189 7Q184 2 184 -3Q184 -8 190 -13Q196 -18 203 -13Q210 -8 209 -2Z" fill="url(#nrg)"/><path d="M33 145Q31 150 36 160Q40 171 47 162Q54 154 53 150Q52 146 44 144Q36 141 33 145Z" fill="url(#nrg)"/><path d="M-6 13Q1 17 0 29Q-2 41 -4 43Q-6 46 -12 45Q-17 44 -21 35Q-25 26 -22 17Q-18 9 -16 8Q-13 8 -6 13Z" fill="url(#nrg)"/><path d="M195 58Q195 58 197 68Q198 78 203 83Q209 88 213 83Q218 78 218 70Q218 63 218 63Q218 63 207 60Q195 57 195 58Z" fill="url(#nrg2)"/><path d="M55 87Q45 93 48 100Q52 108 58 106Q64 104 66 97Q69 90 67 86Q65 82 55 87Z" fill="url(#nrg2)"/><path d="M-32 131Q-38 120 -36 117Q-35 114 -25 116Q-16 119 -17 129Q-19 140 -22 141Q-26 142 -32 131Z" fill="url(#nrg2)"/><path d="M36 192Q39 202 48 200Q58 198 59 193Q60 188 50 181Q41 174 37 178Q34 183 36 192Z" fill="url(#nrg2)"/><path d="M160 -20Q156 -15 147 -18Q138 -21 137 -22Q137 -24 143 -31Q149 -39 156 -37Q162 -35 163 -29Q163 -24 160 -20Z" fill="url(#nrg)"/><path d="M87 16Q83 6 84 4Q85 2 89 2Q94 2 102 8Q110 15 106 23Q101 31 99 32Q97 32 94 29Q90 25 87 16Z" fill="url(#nrg2)"/><path d="M73 217Q67 218 65 209Q62 200 62 194Q63 189 66 187Q69 185 77 188Q85 191 87 198Q89 205 83 210Q78 216 73 217Z" fill="url(#nrg)"/><path d="M56 149Q55 145 57 139Q60 133 65 133Q70 132 74 141Q78 150 73 155Q68 159 62 156Q57 153 56 149Z" fill="url(#nrg)"/><path d="M131 225Q129 224 129 217Q129 211 137 208Q146 205 150 210Q154 215 153 221Q152 228 143 227Q133 227 131 225Z" fill="url(#nrg)"/><path d="M156 96Q156 91 149 83Q143 76 142 76Q141 76 137 85Q133 94 136 100Q139 107 147 104Q155 101 156 96Z" fill="url(#nrg2)"/><path d="M0 94Q-5 86 -10 87Q-15 89 -14 102Q-13 116 -7 116Q-1 115 2 108Q5 101 0 94Z" fill="url(#nrg)"/><path d="M63 27Q64 37 59 40Q53 42 48 34Q44 26 43 18Q42 9 43 9Q43 8 47 8Q51 7 57 12Q63 17 63 27Z" fill="url(#nrg)"/><path d="M242 -23Q245 -14 240 -12Q235 -9 228 -12Q221 -16 222 -27Q223 -39 223 -40Q224 -40 232 -36Q239 -32 242 -23Z" fill="url(#nrg2)"/><path d="M162 -17Q159 -12 159 -7Q158 -1 161 6Q164 12 172 7Q181 2 181 -3Q181 -8 173 -15Q165 -22 162 -17Z" fill="url(#nrg)"/><path d="M101 70Q103 65 106 64Q109 63 113 68Q117 72 116 77Q114 83 107 82Q99 82 99 79Q98 76 101 70Z" fill="url(#nrg)"/><path d="M15 143Q19 147 24 147Q29 148 31 144Q34 139 34 132Q33 125 30 122Q26 118 19 125Q12 131 12 135Q12 138 15 143Z" fill="url(#nrg)"/><path d="M40 18Q40 10 29 13Q19 16 23 24Q27 32 34 29Q40 26 40 18Z" fill="url(#nrg)"/><path d="M207 230Q214 235 216 228Q219 222 217 216Q215 211 211 210Q206 209 204 211Q202 212 201 219Q200 225 207 230Z" fill="url(#nrg)"/><path d="M103 6Q95 0 103 -10Q110 -20 115 -7Q120 5 118 8Q116 12 114 12Q111 13 103 6Z" fill="url(#nrg2)"/><path d="M-16 189Q-16 186 -9 179Q-2 172 4 174Q10 176 12 179Q14 182 12 189Q10 197 3 198Q-4 198 -10 195Q-15 192 -16 189Z" fill="url(#nrg2)"/><path d="M44 235Q39 243 36 243Q32 243 27 233Q23 223 23 221Q23 219 30 216Q36 212 43 219Q49 227 44 235Z" fill="url(#nrg)"/><path d="M100 35Q102 35 108 41Q113 47 111 53Q108 59 105 60Q102 61 98 55Q94 49 96 42Q98 35 100 35Z" fill="url(#nrg)"/><path d="M166 131Q171 135 171 141Q171 147 159 151Q146 156 144 154Q142 153 142 152Q142 152 144 144Q146 136 153 131Q161 126 166 131Z" fill="url(#nrg)"/><path d="M40 7Q40 6 36 -2Q32 -11 24 -11Q15 -12 14 -1Q13 11 15 12Q18 13 29 10Q40 7 40 7Z" fill="url(#nrg)"/><path d="M14 -18Q16 -15 24 -14Q32 -14 34 -19Q36 -24 34 -30Q32 -37 30 -38Q27 -39 20 -30Q12 -21 14 -18Z" fill="url(#nrg2)"/><path d="M191 103Q187 102 185 95Q183 88 189 85Q196 81 202 85Q208 90 207 93Q207 96 202 100Q196 104 191 103Z" fill="url(#nrg2)"/><path d="M102 176Q107 175 111 187Q115 199 105 202Q96 205 94 204Q93 203 91 196Q89 189 92 183Q96 177 102 176Z" fill="url(#nrg)"/><path d="M15 191Q14 199 18 208Q22 216 28 212Q34 208 35 205Q36 203 33 193Q31 184 24 183Q17 183 15 191Z" fill="url(#nrg)"/><path d="M250 222Q243 215 240 220Q237 224 237 235Q238 245 246 245Q255 245 256 237Q257 228 250 222Z" fill="url(#nrg)"/><path d="M121 11Q119 14 125 26Q131 37 137 36Q143 34 145 31Q147 27 140 16Q133 5 128 6Q123 8 121 11Z" fill="url(#nrg2)"/><path d="M42 93Q41 93 33 99Q25 106 26 111Q27 116 31 119Q35 123 42 120Q48 117 49 114Q49 110 46 102Q42 93 42 93Z" fill="url(#nrg)"/><path d="M-3 77Q-6 83 -11 84Q-16 86 -19 84Q-22 83 -25 72Q-29 61 -23 54Q-17 48 -12 49Q-6 49 -3 61Q0 72 -3 77Z" fill="url(#nrg)"/><path d="M90 181Q93 175 88 164Q82 153 81 153Q80 153 75 157Q69 162 70 172Q70 182 78 185Q86 188 90 181Z" fill="url(#nrg)"/><path d="M215 177Q215 175 209 163Q203 152 200 154Q198 155 193 166Q189 177 191 179Q194 182 199 183Q205 184 210 181Q214 178 215 177Z" fill="url(#nrg2)"/><path d="M189 182Q187 179 183 179Q179 179 178 185Q176 192 180 198Q184 204 187 203Q190 202 191 193Q192 185 189 182Z" fill="url(#nrg)"/><path d="M249 113Q257 111 257 105Q257 99 251 95Q245 91 241 93Q238 95 237 100Q236 104 239 110Q242 116 249 113Z" fill="url(#nrg)"/><path d="M111 226Q118 229 121 226Q125 224 125 217Q125 211 123 207Q121 204 118 203Q116 202 106 205Q96 208 100 215Q104 223 111 226Z" fill="url(#nrg)"/><path d="M218 178Q218 177 227 175Q235 173 237 177Q240 180 240 192Q240 203 232 201Q224 199 221 189Q217 180 218 178Z" fill="url(#nrg)"/><path d="M101 173Q107 171 108 170Q109 168 107 154Q104 139 104 139Q103 139 93 146Q84 152 89 163Q95 174 101 173Z" fill="url(#nrg)"/><path d="M185 45Q179 39 177 39Q175 38 170 47Q166 56 169 62Q173 68 183 62Q192 56 192 56Q193 55 192 53Q192 51 185 45Z" fill="url(#nrg2)"/><path d="M92 143Q102 137 99 130Q96 123 92 121Q87 120 82 122Q77 124 75 128Q73 131 77 140Q81 149 82 149Q82 150 92 143Z" fill="url(#nrg)"/><path d="M160 191Q154 186 151 190Q149 194 148 198Q148 202 152 208Q156 213 160 211Q165 210 165 203Q166 197 160 191Z" fill="url(#nrg)"/><path d="M134 -21Q134 -19 134 -11Q134 -2 133 0Q132 1 127 3Q122 4 117 -8Q112 -20 112 -22Q112 -23 112 -24Q113 -26 117 -28Q121 -30 127 -26Q133 -22 134 -21Z" fill="url(#nrg2)"/><path d="M136 111Q137 108 134 102Q131 95 125 94Q120 93 118 100Q116 106 120 111Q125 115 130 115Q135 114 136 111Z" fill="url(#nrg)"/><path d="M86 72Q78 67 73 73Q68 80 68 80Q68 80 70 84Q72 88 77 90Q82 92 88 88Q95 85 95 84Q96 83 95 80Q94 77 86 72Z" fill="url(#nrg)"/><path d="M247 -11Q248 -10 249 4Q251 19 249 23Q246 27 245 28Q243 29 238 27Q234 25 232 22Q231 18 234 6Q236 -6 241 -9Q247 -11 247 -11Z" fill="url(#nrg2)"/><path d="M220 215Q218 210 221 206Q224 202 232 204Q240 206 240 206Q240 206 240 210Q240 213 237 218Q234 222 228 221Q222 220 220 215Z" fill="url(#nrg)"/><path d="M182 106Q180 109 171 108Q162 107 161 104Q159 102 159 97Q160 91 166 87Q173 83 176 86Q180 89 182 96Q184 103 182 106Z" fill="url(#nrg2)"/><path d="M240 89Q236 91 229 85Q221 78 221 71Q221 63 233 64Q245 65 244 77Q244 88 240 89Z" fill="url(#nrg)"/><path d="M141 72Q142 72 147 64Q152 55 148 46Q144 38 138 39Q132 40 130 43Q129 46 131 56Q133 66 136 69Q140 72 141 72Z" fill="url(#nrg2)"/><path d="M10 72Q2 71 -1 60Q-4 49 -2 46Q1 44 11 47Q22 50 23 59Q24 69 21 71Q18 73 10 72Z" fill="url(#nrg2)"/><path d="M201 121Q198 107 203 103Q208 99 213 105Q217 110 217 113Q217 115 211 125Q205 135 201 121Z" fill="url(#nrg2)"/><path d="M212 162Q218 174 226 172Q234 170 235 166Q236 161 231 153Q227 144 217 144Q207 143 206 147Q205 150 212 162Z" fill="url(#nrg2)"/><path d="M200 41Q195 50 196 52Q196 54 207 57Q219 60 220 49Q221 38 213 35Q205 32 200 41Z" fill="url(#nrg)"/><path d="M89 -1Q94 -2 101 -11Q108 -21 109 -22Q109 -23 95 -25Q82 -27 79 -23Q77 -19 81 -10Q84 -1 89 -1Z" fill="url(#nrg)"/><path d="M93 118Q97 120 100 114Q104 108 100 98Q96 87 90 91Q83 95 85 105Q88 116 93 118Z" fill="url(#nrg)"/><path d="M193 133Q203 138 203 140Q204 142 203 145Q202 149 199 151Q196 152 185 150Q175 148 174 147Q174 147 174 141Q173 135 178 132Q182 128 193 133Z" fill="url(#nrg)"/><path d="M150 45Q155 53 159 54Q164 55 168 46Q173 37 167 29Q162 22 156 25Q149 29 148 33Q146 36 150 45Z" fill="url(#nrg)"/><path d="M-12 -10Q-14 4 -17 5Q-19 5 -28 -2Q-37 -10 -32 -18Q-28 -26 -25 -27Q-22 -28 -16 -27Q-10 -25 -10 -24Q-9 -24 -12 -10Z" fill="url(#nrg)"/><path d="M78 33Q68 39 73 45Q78 52 85 49Q91 47 93 41Q96 34 92 31Q88 28 78 33Z" fill="url(#nrg)"/><path d="M67 37Q67 37 66 27Q66 17 74 12Q81 7 84 17Q87 26 77 32Q68 37 67 37Z" fill="url(#nrg2)"/><path d="M7 13Q11 11 12 -1Q13 -13 11 -16Q10 -19 7 -20Q5 -22 -1 -22Q-7 -23 -10 -9Q-12 4 -5 9Q3 14 7 13Z" fill="url(#nrg)"/><path d="M220 113Q220 115 227 122Q234 129 236 128Q237 127 238 123Q239 118 236 112Q233 106 227 108Q220 111 220 113Z" fill="url(#nrg)"/><path d="M43 90Q42 90 39 82Q35 74 43 67Q51 60 57 70Q64 79 64 79Q64 80 54 85Q43 90 43 90Z" fill="url(#nrg)"/><path d="M178 83Q174 80 174 75Q175 70 184 64Q193 58 194 68Q195 79 188 82Q182 86 178 83Z" fill="url(#nrg)"/><path d="M-21 210Q-21 198 -32 203Q-43 208 -39 218Q-34 229 -27 225Q-20 221 -21 210Z" fill="url(#nrg)"/><path d="M116 99Q114 106 109 107Q105 108 102 97Q98 86 98 85Q99 84 107 85Q115 86 116 89Q118 92 116 99Z" fill="url(#nrg)"/><path d="M92 239Q93 239 97 232Q100 224 97 217Q94 209 93 208Q91 207 86 213Q80 219 86 229Q92 239 92 239Z" fill="url(#nrg)"/><path d="M204 -16Q211 -11 215 -14Q218 -16 219 -28Q220 -39 215 -42Q210 -44 204 -37Q197 -30 198 -26Q198 -21 204 -16Z" fill="url(#nrg)"/><path d="M215 102Q219 108 226 105Q232 103 233 98Q235 93 227 87Q220 80 215 85Q211 90 211 94Q210 97 215 102Z" fill="url(#nrg)"/><path d="M52 115Q52 118 56 124Q59 129 65 129Q70 129 72 125Q73 122 69 115Q65 108 59 110Q53 111 52 115Z" fill="url(#nrg)"/><path d="M146 1Q136 0 135 2Q134 4 141 15Q148 26 154 22Q161 19 161 16Q162 14 158 7Q155 1 146 1Z" fill="url(#nrg2)"/><path d="M217 239Q216 236 219 230Q222 223 228 224Q234 225 235 235Q236 245 235 246Q235 246 226 244Q217 242 217 239Z" fill="url(#nrg2)"/><path d="M176 178Q177 179 175 185Q173 191 170 193Q167 195 161 190Q155 185 155 180Q155 175 165 176Q175 177 176 178Z" fill="url(#nrg2)"/><path d="M15 176Q12 173 16 161Q19 150 24 150Q29 151 34 161Q39 171 39 172Q39 172 35 176Q32 180 24 180Q17 179 15 176Z" fill="url(#nrg)"/><path d="M195 17Q198 18 200 24Q202 30 198 39Q193 48 187 42Q182 36 187 26Q192 16 195 17Z" fill="url(#nrg)"/><path d="M113 186Q109 174 110 172Q111 171 119 170Q127 170 128 177Q129 183 125 192Q122 201 119 200Q117 198 113 186Z" fill="url(#nrg)"/><path d="M-25 113Q-16 116 -15 116Q-15 116 -16 102Q-17 89 -20 88Q-23 86 -29 91Q-35 96 -35 103Q-34 111 -25 113Z" fill="url(#nrg)"/><path d="M63 222Q62 224 57 224Q51 225 45 217Q38 210 39 207Q40 205 49 203Q58 201 61 210Q65 219 63 222Z" fill="url(#nrg2)"/><path d="M44 142Q37 139 36 132Q36 125 42 123Q49 120 53 126Q57 132 55 138Q52 144 44 142Z" fill="url(#nrg2)"/><path d="M139 126Q135 117 131 118Q126 119 122 127Q119 136 129 143Q140 151 141 143Q143 135 139 126Z" fill="url(#nrg)"/><path d="M146 -16Q156 -13 155 -7Q155 -1 146 -2Q137 -2 137 -10Q137 -19 146 -16Z" fill="url(#nrg)"/><path d="M212 -2Q212 4 221 11Q229 18 232 5Q234 -7 227 -10Q220 -13 216 -11Q212 -8 212 -2Z" fill="url(#nrg)"/><path d="M191 165Q196 154 185 152Q174 150 175 162Q177 174 178 175Q179 176 183 176Q187 176 191 165Z" fill="url(#nrg)"/><path d="M172 196Q175 194 178 199Q182 205 179 210Q177 214 172 212Q167 209 168 204Q169 198 172 196Z" fill="url(#nrg)"/><path d="M8 16Q12 14 14 15Q17 17 20 25Q24 34 24 39Q24 45 23 46Q22 47 12 44Q2 41 3 30Q4 18 8 16Z" fill="url(#nrg)"/><path d="M165 84Q171 80 171 75Q171 70 167 64Q163 59 159 58Q155 57 150 65Q145 74 151 81Q158 88 165 84Z" fill="url(#nrg2)"/><path d="M206 11Q211 6 220 13Q228 19 229 23Q231 26 226 31Q222 35 214 32Q206 28 204 22Q201 17 206 11Z" fill="url(#nrg)"/><path d="M3 201Q-4 202 -1 216Q1 229 10 225Q19 221 20 220Q20 218 15 209Q11 200 3 201Z" fill="url(#nrg2)"/><path d="M199 186Q204 187 204 197Q204 206 202 207Q201 209 197 205Q192 202 193 194Q193 185 199 186Z" fill="url(#nrg)"/><path d="M182 212Q185 207 188 206Q191 206 195 209Q199 212 198 218Q197 224 191 229Q184 233 182 225Q180 216 182 212Z" fill="url(#nrg)"/><path d="M211 184Q216 180 219 190Q222 200 219 204Q216 208 211 207Q206 207 206 197Q206 187 211 184Z" fill="url(#nrg)"/><path d="M71 113Q75 121 81 119Q86 116 84 106Q81 96 76 93Q71 91 69 98Q67 106 71 113Z" fill="url(#nrg)"/><path d="M46 36Q51 43 50 45Q49 47 38 46Q27 45 27 40Q28 35 35 32Q41 29 46 36Z" fill="url(#nrg)"/><path d="M46 4Q42 5 39 -4Q35 -12 37 -17Q39 -22 49 -21Q59 -19 55 -8Q51 3 46 4Z" fill="url(#nrg)"/><path d="M-1 79Q-3 85 2 92Q7 99 13 99Q18 100 18 88Q18 76 10 75Q2 74 -1 79Z" fill="url(#nrg2)"/><path d="M134 83Q138 75 135 72Q131 69 126 71Q121 74 119 79Q118 84 119 87Q121 90 126 91Q130 92 134 83Z" fill="url(#nrg2)"/><path d="M13 103Q18 103 20 105Q22 107 23 112Q24 117 17 123Q10 129 6 123Q2 117 5 110Q8 103 13 103Z" fill="url(#nrg)"/><path d="M49 164Q42 172 42 172Q42 172 52 179Q61 185 64 183Q68 181 67 172Q67 162 61 159Q56 156 49 164Z" fill="url(#nrg)"/><path d="M206 137Q206 136 212 126Q219 116 226 124Q233 131 230 136Q227 141 217 141Q207 141 206 139Q206 137 206 137Z" fill="url(#nrg)"/><path d="M136 205Q145 201 145 197Q146 193 138 189Q131 184 127 193Q123 202 125 205Q127 209 136 205Z" fill="url(#nrg)"/><path d="M181 118Q180 111 171 110Q162 109 162 117Q163 124 167 129Q172 133 177 130Q181 126 181 118Z" fill="url(#nrg)"/><path d="M105 136Q106 136 111 135Q117 135 120 126Q123 118 119 113Q114 109 110 110Q106 111 103 116Q100 121 102 128Q105 136 105 136Z" fill="url(#nrg)"/><path d="M4 170Q-2 168 -4 159Q-6 149 2 145Q10 141 13 145Q17 149 14 161Q11 172 4 170Z" fill="url(#nrg)"/></g>
<path d="M104.6 44.8h0M98.3 39.7h0M96.9 28.3h0M39.9 75.6h0M81.9 28.4h0M74 13.7h0M81.5 7.2h0M77.1 27.6h0M65.8 33.6h0M63.6 22.5h0M65.6 19.4h0M12.7 34.8h0M29.7 99.7h0M34.4 91.4h0M58.6 68.4h0M48.3 42.7h0M40.8 47h0M43.8 58.7h0M48.8 41.6h0M59.7 35.8h0M20.1 86.1h0M65.7 46.9h0M70.2 37h0M78.1 -0.1h0M57.4 23h0M54.5 30.5h0M-0.1 58.6h0M25.4 55.2h0M24.7 59.2h0M17.3 62.1h0M13.1 58.4h0M11.8 52.6h0M27.8 77.1h0M26.6 72.7h0M14.6 74.6h0M70.5 76.3h0M12.4 23.3h0M25.4 29.4h0M32.8 40.1h0M18.8 101.8h0M5 69.4h0M96.6 25.3h0M89.7 18.6h0M99.7 8h0M48.1 38.4h0M50.7 31.4h0M46 24.3h0M38.9 26.6h0M55.8 7.5h0M48.6 16.9h0M50.8 16.3h0M41.8 0.1h0M46.8 0h0M3.5 50.5h0M9.2 37.2h0M41 75.9h0M52.3 68.9h0M60.8 101.5h0M65.3 91.3h0M63.9 84.2h0M73.7 96.6h0M68.1 57.6h0M26.5 22h0M8.1 90.3h0M5.6 99.6h0M58.4 100.1h0M45.6 102.5h0M47.4 87.7h0M53.8 86.3h0M73.1 101.3h0M91.9 102.6h0M80.8 62.5h0M86 67.4h0M44.5 13.2h0M32.7 19.2h0M83.6 98.2h0M76.5 92.2h0M87.8 87.6h0M89.2 88.8h0M104.3 48.5h0M78.5 51h0M80.5 54.2h0M79 45.2h0M86.4 40.4h0M93.5 88.8h0M101.7 74.9h0M108.6 87.8h0M102.2 69.1h0M102.3 68.2h0M93.1 51.8h0" stroke="#2e2eac" stroke-width="1.9" stroke-linecap="round"/>
<path d="M89.5 -15.3h0M84.3 114.5h0M31.9 26.4h0M45.1 30.4h0M12.6 43.2h0M-5 105.6h0M82.5 79.8h0M88.8 10.7h0M97.7 -1.1h0M-5.2 14.2h0M102.7 34.9h0M28.8 47.5h0M-13.3 63.9h0M76.4 -14.1h0M32.3 72.1h0M72.9 46h0M25.2 9.7h0M83.7 -2.2h0M11.6 68.4h0M15.7 10.2h0M104.2 109.2h0M-0.8 92.5h0M98 47.4h0M66.1 11.2h0M39.6 83.6h0M101.7 86.7h0M93.1 95.6h0M114.6 91.7h0M43.5 67.7h0M78.4 100.5h0M61.5 -6.7h0M40.3 40.2h0M120.9 4.8h0M84.6 49.7h0M69.9 28.4h0M104.6 57.3h0M109.9 78.9h0M46.8 53.6h0M94.4 70.7h0M78 19.2h0M-10.9 -6.9h0M37.1 12.3h0M2 -3.3h0M92.8 36.7h0M46.5 111.9h0M103.9 -13.8h0M112.7 117.6h0M13.6 84.1h0M96.8 14.7h0M60 91.5h0M22.2 65h0M66.4 66.2h0M110.1 -1.4h0M90.6 83.6h0M86.9 101.7h0M81.1 35.8h0M95.6 108h0M107.5 97.2h0M38.9 52.9h0M21.7 -4.9h0M3.8 43.9h0M7.2 55.3h0M108.4 66.1h0M67.4 99.3h0M55 62.3h0" stroke="#a8a8e4" stroke-width="4.2" stroke-linecap="round" opacity="0.8"/>
<path d="M89.5 -15.3h0M84.3 114.5h0M31.9 26.4h0M45.1 30.4h0M12.6 43.2h0M-5 105.6h0M82.5 79.8h0M88.8 10.7h0M97.7 -1.1h0M-5.2 14.2h0M102.7 34.9h0M28.8 47.5h0M-13.3 63.9h0M76.4 -14.1h0M32.3 72.1h0M72.9 46h0M25.2 9.7h0M83.7 -2.2h0M11.6 68.4h0M15.7 10.2h0M104.2 109.2h0M-0.8 92.5h0M98 47.4h0M66.1 11.2h0M39.6 83.6h0M101.7 86.7h0M93.1 95.6h0M114.6 91.7h0M43.5 67.7h0M78.4 100.5h0M61.5 -6.7h0M40.3 40.2h0M120.9 4.8h0M84.6 49.7h0M69.9 28.4h0M104.6 57.3h0M109.9 78.9h0M46.8 53.6h0M94.4 70.7h0M78 19.2h0M-10.9 -6.9h0M37.1 12.3h0M2 -3.3h0M92.8 36.7h0M46.5 111.9h0M103.9 -13.8h0M112.7 117.6h0M13.6 84.1h0M96.8 14.7h0M60 91.5h0M22.2 65h0M66.4 66.2h0M110.1 -1.4h0M90.6 83.6h0M86.9 101.7h0M81.1 35.8h0M95.6 108h0M107.5 97.2h0M38.9 52.9h0M21.7 -4.9h0M3.8 43.9h0M7.2 55.3h0M108.4 66.1h0M67.4 99.3h0M55 62.3h0" stroke="#3a3ab4" stroke-width="1.2" stroke-linecap="round"/>
<rect width="108.60" height="102.00" fill="#000" filter="url(#drgn)"/>
<path d="M25.9 11.2h0M5.5 20.6h0M33.1 77.5h0M54.3 18.1h0M2 25.5h0M79.6 56.2h0M51.6 95.3h0M88.9 44.1h0M74.7 100.2h0M44 35.5h0M27.8 16.7h0M30.6 24.7h0M49.9 16.1h0M33.6 36.4h0M21.8 51.5h0M28.7 9.2h0M4.5 2.3h0M95.5 39.7h0M74.2 70.7h0M3.4 13.6h0M27.4 7.6h0M106 50.4h0M67 65.6h0M33.1 57.9h0M75.2 68.9h0M56.1 47.4h0M12.9 91.2h0M106.2 95.5h0M48.8 27.4h0M96.3 71.7h0M97.5 49.6h0M0.4 50.2h0M32.8 14.4h0M34.3 85.7h0M81.5 85.6h0M31.5 38h0M108.5 60.1h0M46.5 28.1h0M11 85.1h0M101.6 25.4h0M55.5 19.4h0M59.6 73.4h0M70 29.2h0M100.6 13h0M32.7 56.8h0M18.2 16.5h0M98.4 50.7h0M98.4 101.6h0M15.2 19.6h0M37.1 9.3h0M81.4 42.1h0M56.9 38.4h0M93.7 22h0M27 40.8h0M27 11.1h0M49.7 56.3h0M70.1 31h0M63.3 39.6h0M65.3 1.1h0M96 48.5h0M33.4 2.2h0M73.2 42.8h0M72.5 94.4h0M3.7 34.5h0M80.3 51.5h0M32 97.1h0M20.3 22.8h0" stroke="#3434b2" stroke-width="1.3" stroke-linecap="round"/>
<path d="M29.1 13.2h0M90.6 40.1h0M90.4 72.1h0M14.1 7.2h0M91.4 88.8h0M28.6 98.1h0M59.4 24.9h0M41.4 48.4h0M25.3 59.7h0M81.5 67.1h0M106.9 15.2h0M69.9 4.5h0M96.9 64h0M88.2 14.2h0M54.8 85.2h0M89.7 59.6h0M11.4 85.3h0M68.2 63.9h0M53.1 0.3h0M81.3 51.3h0M71.6 6.7h0M79.2 20.9h0M52 69.7h0M16 25.9h0M6.6 27.4h0M49.8 83.6h0M102.7 21.5h0M15.4 53.5h0M14.4 83.7h0M100.6 72.7h0M103.8 90.2h0M68.5 93.2h0M79.5 46h0M37.3 30.4h0M106 26.5h0M28.1 58.1h0M6.7 28.3h0M13.7 51.3h0M103.6 86.6h0M2.4 3.3h0M97.3 48.3h0M0 39.9h0M89.7 87.3h0M56.7 69.6h0M78.4 66h0M85 23.7h0M27.3 64.9h0M12.2 7.2h0M50 97.8h0M26.8 98h0M74.1 20.2h0M105.3 31.8h0M25.1 22.6h0" stroke="#3434b2" stroke-width="1.8" stroke-linecap="round"/>
</svg>
<svg x="240.3" y="636.6" width="108.70" height="102.00" overflow="hidden">
<rect width="108.70" height="102.00" fill="#cacaee"/>
<g transform="scale(0.5)" stroke="#3c3cbe" stroke-width="1"><path d="M-15 109Q-7 113 -3 120Q1 128 -5 129Q-11 130 -18 119Q-26 109 -24 108Q-22 106 -15 109Z" fill="url(#nrg2)"/><path d="M85 159Q89 162 96 154Q102 145 95 137Q88 128 82 128Q76 127 74 129Q73 130 76 143Q80 156 85 159Z" fill="url(#nrg2)"/><path d="M-6 98Q-3 104 2 106Q8 107 9 106Q10 105 6 96Q1 87 -4 89Q-9 91 -6 98Z" fill="url(#nrg2)"/><path d="M164 -18Q162 -21 160 -29Q158 -36 164 -41Q170 -46 176 -40Q181 -34 184 -28Q186 -21 185 -18Q183 -14 175 -15Q167 -15 164 -18Z" fill="url(#nrg)"/><path d="M144 220Q145 218 143 208Q141 198 133 192Q126 187 125 198Q123 210 129 217Q134 224 138 223Q142 222 144 220Z" fill="url(#nrg2)"/><path d="M67 17Q58 16 61 28Q64 39 67 41Q70 44 77 40Q84 36 83 31Q82 26 79 22Q75 18 67 17Z" fill="url(#nrg)"/><path d="M45 14Q52 11 54 14Q55 16 58 27Q61 39 57 40Q53 42 47 39Q42 35 40 26Q37 17 45 14Z" fill="url(#nrg2)"/><path d="M27 213Q32 217 38 211Q44 205 43 203Q43 201 39 196Q35 190 35 189Q34 189 26 190Q18 192 19 198Q20 205 21 208Q22 210 27 213Z" fill="url(#nrg)"/><path d="M172 110Q177 112 181 120Q184 128 184 135Q184 141 181 143Q177 146 173 145Q170 143 164 134Q157 124 162 116Q167 108 172 110Z" fill="url(#nrg)"/><path d="M-17 -7Q-8 -3 -6 3Q-4 9 -7 15Q-10 22 -15 18Q-19 15 -23 2Q-27 -11 -26 -12Q-26 -12 -17 -7Z" fill="url(#nrg)"/><path d="M58 209Q51 203 49 203Q47 204 47 205Q46 206 53 222Q60 237 66 235Q72 233 69 224Q65 214 58 209Z" fill="url(#nrg)"/><path d="M153 125Q155 126 161 135Q168 145 167 150Q166 155 161 157Q157 159 149 156Q141 152 138 144Q135 135 139 131Q143 127 146 126Q150 125 153 125Z" fill="url(#nrg2)"/><path d="M14 163Q8 160 10 150Q13 139 16 141Q20 144 22 146Q24 149 24 150Q24 150 22 158Q20 165 14 163Z" fill="url(#nrg2)"/><path d="M29 64Q27 65 20 61Q12 58 9 50Q7 42 12 40Q17 38 24 50Q30 62 29 64Z" fill="url(#nrg2)"/><path d="M-19 180Q-19 180 -18 179Q-18 179 -20 166Q-22 152 -24 150Q-27 148 -35 150Q-43 153 -42 156Q-41 160 -31 171Q-22 181 -21 180Q-20 180 -19 180Z" fill="url(#nrg)"/><path d="M56 57Q59 68 65 74Q71 79 72 68Q72 56 71 52Q69 48 66 45Q63 42 59 44Q54 46 56 57Z" fill="url(#nrg2)"/><path d="M198 22Q197 26 207 33Q216 41 218 40Q220 39 220 30Q219 20 216 17Q212 13 205 16Q198 18 198 22Z" fill="url(#nrg)"/><path d="M175 207Q175 208 185 208Q196 208 196 208Q196 207 192 199Q188 190 184 188Q181 186 175 189Q169 191 172 199Q174 207 175 207Z" fill="url(#nrg2)"/><path d="M4 169Q2 163 -4 157Q-10 151 -15 152Q-19 153 -16 168Q-13 182 -4 179Q5 176 4 169Z" fill="url(#nrg2)"/><path d="M101 85Q106 90 106 99Q106 108 100 107Q94 106 87 97Q80 88 88 84Q96 79 101 85Z" fill="url(#nrg)"/><path d="M200 221Q201 232 205 238Q210 244 212 245Q215 246 219 242Q224 239 222 233Q221 227 216 221Q212 215 205 212Q199 210 199 210Q198 210 200 221Z" fill="url(#nrg2)"/><path d="M47 147Q47 147 37 146Q27 146 25 143Q23 141 25 132Q28 123 36 130Q45 138 46 142Q48 146 47 147Z" fill="url(#nrg2)"/><path d="M52 4Q54 9 56 11Q57 13 66 14Q75 15 73 4Q71 -8 69 -11Q68 -14 67 -14Q66 -15 58 -8Q50 -1 52 4Z" fill="url(#nrg2)"/><path d="M67 121Q66 123 58 124Q51 125 43 111Q35 98 42 97Q50 95 57 101Q64 107 66 113Q68 119 67 121Z" fill="url(#nrg2)"/><path d="M181 89Q175 76 168 84Q162 92 164 97Q167 102 172 105Q178 109 182 105Q187 102 181 89Z" fill="url(#nrg2)"/><path d="M109 229Q103 223 103 216Q102 210 107 209Q113 207 117 210Q121 212 126 220Q132 228 131 229Q131 229 123 233Q115 236 109 229Z" fill="url(#nrg2)"/><path d="M137 34Q136 34 130 33Q123 32 119 28Q115 23 114 17Q113 11 117 7Q121 3 127 7Q133 11 135 22Q138 33 138 33Q137 33 137 34Z" fill="url(#nrg)"/><path d="M167 226Q171 233 175 234Q179 236 180 232Q181 229 177 220Q174 211 173 210Q172 210 168 210Q163 211 163 215Q162 219 167 226Z" fill="url(#nrg)"/><path d="M246 114Q238 113 235 109Q232 106 230 97Q229 89 229 87Q230 86 238 91Q247 96 251 106Q255 116 246 114Z" fill="url(#nrg)"/><path d="M-13 66Q-18 66 -18 75Q-18 84 -14 86Q-11 89 -5 87Q0 85 0 79Q0 72 -4 69Q-9 65 -13 66Z" fill="url(#nrg2)"/><path d="M147 2Q146 2 143 1Q140 1 137 -7Q135 -14 136 -20Q138 -26 143 -22Q149 -18 148 -8Q147 2 147 2Z" fill="url(#nrg2)"/><path d="M-15 63Q-19 63 -23 59Q-27 56 -29 46Q-30 36 -23 42Q-16 48 -13 55Q-10 62 -15 63Z" fill="url(#nrg2)"/><path d="M217 83Q208 80 205 73Q201 66 201 64Q201 61 209 62Q217 64 221 69Q226 75 227 79Q228 84 227 86Q227 87 217 83Z" fill="url(#nrg)"/><path d="M257 189Q262 184 260 180Q259 177 249 168Q239 158 237 168Q234 178 234 178Q234 178 243 186Q251 194 257 189Z" fill="url(#nrg)"/><path d="M18 219Q19 212 18 209Q17 207 7 204Q-2 201 1 209Q4 218 10 222Q16 227 18 219Z" fill="url(#nrg2)"/><path d="M49 160Q51 170 45 170Q40 170 33 160Q27 150 27 149Q26 148 37 149Q48 150 49 160Z" fill="url(#nrg2)"/><path d="M156 201Q150 195 151 190Q151 185 158 187Q165 189 165 190Q166 191 169 199Q171 207 167 207Q162 208 156 201Z" fill="url(#nrg)"/><path d="M204 -40Q198 -45 192 -40Q186 -34 188 -28Q190 -22 197 -17Q203 -13 208 -16Q212 -19 212 -26Q211 -34 204 -40Z" fill="url(#nrg2)"/><path d="M-10 55Q-8 61 -4 65Q1 69 3 69Q5 68 6 63Q8 58 6 50Q3 42 -1 38Q-6 33 -9 40Q-12 48 -10 55Z" fill="url(#nrg)"/><path d="M167 187Q166 186 162 174Q158 162 163 160Q167 157 174 170Q180 184 174 186Q168 188 167 187Z" fill="url(#nrg2)"/><path d="M124 131Q130 135 134 144Q137 153 137 156Q136 160 129 163Q122 167 114 156Q106 146 112 137Q118 128 124 131Z" fill="url(#nrg2)"/><path d="M187 136Q187 142 195 149Q204 155 207 154Q209 153 209 149Q209 145 207 140Q204 134 196 132Q187 130 187 136Z" fill="url(#nrg)"/><path d="M172 28Q177 21 183 26Q190 30 191 39Q193 48 184 49Q175 49 171 41Q167 34 172 28Z" fill="url(#nrg2)"/><path d="M85 194Q80 192 79 197Q77 201 77 203Q77 204 84 214Q91 223 96 223Q100 222 100 215Q100 209 95 202Q90 196 85 194Z" fill="url(#nrg)"/><path d="M174 12Q171 7 170 -2Q168 -11 176 -10Q184 -10 189 3Q194 16 193 18Q192 21 190 22Q189 23 183 20Q177 18 174 12Z" fill="url(#nrg2)"/><path d="M149 5Q148 6 156 18Q164 31 165 31Q165 31 170 25Q175 19 171 14Q168 8 158 7Q149 5 149 5Z" fill="url(#nrg2)"/><path d="M75 158Q77 156 73 142Q68 128 60 128Q52 128 51 133Q49 138 50 142Q51 146 62 153Q72 159 75 158Z" fill="url(#nrg2)"/><path d="M59 206Q52 201 56 195Q59 189 67 195Q74 200 74 202Q74 203 70 207Q66 212 59 206Z" fill="url(#nrg2)"/><path d="M142 100Q146 114 142 115Q139 116 130 102Q121 88 122 85Q122 82 130 85Q138 87 142 100Z" fill="url(#nrg2)"/><path d="M3 108Q-3 107 -3 109Q-4 111 -1 119Q2 127 6 130Q9 132 9 121Q8 110 3 108Z" fill="url(#nrg2)"/><path d="M135 4Q138 1 134 -6Q131 -14 124 -19Q118 -23 114 -23Q110 -22 115 -11Q121 0 127 3Q133 7 135 4Z" fill="url(#nrg2)"/><path d="M151 48Q144 39 144 39Q144 38 154 37Q164 35 165 35Q165 35 169 42Q172 50 173 57Q173 64 172 64Q172 64 165 60Q158 56 151 48Z" fill="url(#nrg2)"/><path d="M206 168Q206 177 211 183Q215 188 219 189Q223 190 226 184Q230 178 230 178Q230 178 221 167Q211 156 208 157Q206 159 206 168Z" fill="url(#nrg)"/><path d="M-16 203Q-15 216 -23 214Q-31 212 -33 205Q-36 197 -28 193Q-21 188 -19 189Q-17 189 -16 203Z" fill="url(#nrg)"/><path d="M72 -12Q70 -15 73 -22Q76 -29 80 -29Q84 -30 87 -26Q91 -23 92 -15Q94 -7 91 -4Q89 0 81 -5Q74 -10 72 -12Z" fill="url(#nrg)"/><path d="M113 -11Q108 -22 107 -22Q107 -23 100 -22Q94 -21 96 -14Q98 -6 104 1Q111 8 115 4Q118 1 113 -11Z" fill="url(#nrg2)"/><path d="M183 147Q179 149 187 162Q195 175 199 176Q203 177 203 167Q202 158 194 151Q186 145 183 147Z" fill="url(#nrg)"/><path d="M18 85Q7 73 5 74Q3 75 3 81Q2 86 7 95Q12 104 17 107Q22 109 25 102Q29 96 18 85Z" fill="url(#nrg2)"/><path d="M205 209Q198 207 194 198Q190 189 193 184Q196 179 200 179Q204 180 209 185Q214 191 213 201Q212 211 205 209Z" fill="url(#nrg2)"/><path d="M31 67Q30 68 31 81Q33 94 33 95Q34 95 41 94Q48 92 46 82Q44 71 42 69Q40 67 36 66Q32 66 31 67Z" fill="url(#nrg2)"/><path d="M175 152Q178 151 186 163Q194 176 191 182Q188 187 185 185Q181 183 175 170Q169 157 171 155Q173 152 175 152Z" fill="url(#nrg2)"/><path d="M86 98Q92 107 90 116Q88 125 80 122Q72 119 70 113Q67 107 71 98Q74 88 77 89Q79 89 86 98Z" fill="url(#nrg)"/><path d="M73 50Q76 54 84 60Q91 66 94 59Q96 53 91 46Q86 39 78 42Q71 46 73 50Z" fill="url(#nrg2)"/><path d="M109 101Q108 91 114 90Q120 89 128 104Q136 118 132 122Q128 125 123 124Q118 124 114 117Q109 110 109 101Z" fill="url(#nrg)"/><path d="M218 219Q223 225 231 222Q238 218 231 206Q224 193 220 193Q216 192 215 202Q214 212 218 219Z" fill="url(#nrg2)"/><path d="M237 126Q238 138 236 139Q234 140 226 130Q218 121 218 115Q218 109 224 109Q231 108 233 112Q235 115 237 126Z" fill="url(#nrg)"/><path d="M32 99Q33 99 34 99Q34 99 42 112Q50 126 48 131Q46 136 38 128Q29 121 27 116Q24 111 28 105Q32 100 32 99Z" fill="url(#nrg2)"/><path d="M210 101Q206 94 203 94Q200 94 197 99Q194 105 200 113Q206 121 210 120Q215 119 215 113Q215 108 210 101Z" fill="url(#nrg2)"/><path d="M75 184Q79 190 77 195Q75 199 67 193Q60 187 57 181Q55 175 64 176Q72 177 75 184Z" fill="url(#nrg)"/><path d="M144 194Q147 193 148 188Q148 183 143 173Q138 163 131 166Q123 170 124 175Q125 180 125 181Q126 183 134 189Q141 195 144 194Z" fill="url(#nrg2)"/><path d="M17 137Q20 139 23 130Q25 121 23 117Q21 112 17 110Q12 108 11 109Q10 110 11 121Q11 132 12 133Q13 134 17 137Z" fill="url(#nrg2)"/><path d="M122 67Q119 75 112 65Q105 55 107 52Q108 48 114 50Q120 52 123 55Q125 59 122 67Z" fill="url(#nrg2)"/><path d="M-22 40Q-30 34 -31 32Q-33 30 -34 26Q-35 21 -35 21Q-35 21 -27 19Q-20 17 -16 21Q-11 25 -9 28Q-8 31 -11 38Q-15 45 -22 40Z" fill="url(#nrg)"/><path d="M19 -19Q21 -14 31 -12Q42 -10 39 -18Q36 -26 30 -33Q23 -41 21 -41Q20 -40 18 -32Q17 -24 19 -19Z" fill="url(#nrg)"/><path d="M230 9Q230 16 226 16Q221 17 217 13Q213 10 209 0Q205 -10 210 -13Q214 -16 222 -7Q230 2 230 9Z" fill="url(#nrg)"/><path d="M239 89Q247 93 248 90Q249 87 245 78Q241 68 235 72Q229 76 230 80Q231 84 239 89Z" fill="url(#nrg)"/><path d="M158 184Q165 186 161 175Q157 163 150 160Q143 158 141 160Q139 162 145 172Q151 182 158 184Z" fill="url(#nrg)"/><path d="M28 11Q21 5 19 13Q17 20 19 25Q20 30 28 34Q36 38 38 37Q40 36 37 27Q35 17 28 11Z" fill="url(#nrg2)"/><path d="M102 83Q107 88 112 87Q118 85 119 83Q120 80 119 78Q118 76 111 66Q104 57 101 56Q98 55 96 61Q93 68 95 72Q97 77 102 83Z" fill="url(#nrg2)"/><path d="M17 0Q18 1 16 10Q15 19 7 14Q-2 8 -4 3Q-6 -3 -4 -6Q-2 -9 7 -5Q17 -1 17 0Z" fill="url(#nrg2)"/><path d="M92 171Q89 165 84 163Q80 160 77 161Q74 163 74 170Q75 177 78 183Q80 189 85 191Q89 193 92 184Q95 176 92 171Z" fill="url(#nrg2)"/><path d="M38 228Q34 219 39 213Q45 207 52 222Q58 237 58 238Q57 238 50 237Q43 236 38 228Z" fill="url(#nrg2)"/><path d="M240 217Q240 217 232 205Q225 193 229 187Q233 182 242 190Q250 197 251 199Q251 201 246 209Q241 218 240 217Z" fill="url(#nrg2)"/><path d="M205 85Q204 90 202 90Q199 90 192 81Q186 72 193 70Q200 68 202 74Q205 80 205 85Z" fill="url(#nrg)"/><path d="M245 29Q250 31 254 27Q258 22 258 20Q257 18 250 8Q242 -2 238 1Q233 3 233 11Q233 18 237 23Q241 27 245 29Z" fill="url(#nrg)"/><path d="M161 98Q163 103 158 110Q153 116 151 117Q149 117 145 102Q140 87 143 84Q146 81 149 83Q151 84 155 88Q158 93 161 98Z" fill="url(#nrg2)"/><path d="M-24 146Q-21 149 -16 148Q-12 147 -12 139Q-13 132 -20 122Q-27 112 -29 112Q-31 113 -33 119Q-35 124 -30 134Q-26 144 -24 146Z" fill="url(#nrg2)"/><path d="M-9 222Q-6 227 -2 223Q2 218 -1 210Q-4 201 -8 198Q-12 194 -13 194Q-13 194 -13 206Q-13 217 -9 222Z" fill="url(#nrg2)"/><path d="M198 54Q201 59 209 60Q217 61 216 53Q216 44 207 38Q198 31 196 32Q195 33 195 41Q196 49 198 54Z" fill="url(#nrg)"/><path d="M27 217Q31 220 36 229Q41 237 39 240Q38 243 30 240Q22 237 20 233Q19 229 20 221Q22 213 27 217Z" fill="url(#nrg)"/><path d="M-11 224Q-8 228 -7 232Q-6 235 -13 237Q-20 239 -26 228Q-31 217 -31 216Q-31 215 -23 217Q-15 220 -11 224Z" fill="url(#nrg2)"/><path d="M95 169Q92 164 98 156Q104 147 104 147Q104 148 112 158Q120 168 120 173Q121 179 111 178Q101 177 99 175Q98 174 95 169Z" fill="url(#nrg2)"/><path d="M225 133Q234 143 234 145Q234 146 223 145Q212 145 210 139Q207 133 207 129Q207 124 212 123Q216 123 225 133Z" fill="url(#nrg)"/><path d="M52 71Q46 71 49 82Q51 92 57 97Q64 102 67 93Q70 84 70 84Q70 83 64 77Q57 72 52 71Z" fill="url(#nrg2)"/><path d="M223 -41Q225 -46 235 -41Q245 -36 245 -25Q245 -15 244 -14Q242 -12 232 -25Q222 -37 223 -41Z" fill="url(#nrg2)"/><path d="M181 68Q177 66 176 59Q176 51 184 51Q193 51 196 55Q198 60 198 62Q199 65 191 67Q184 69 181 68Z" fill="url(#nrg2)"/><path d="M138 52Q139 40 131 38Q124 36 123 43Q123 51 125 54Q127 57 132 60Q137 63 138 52Z" fill="url(#nrg2)"/><path d="M179 219Q183 228 191 230Q198 231 197 221Q196 210 186 210Q176 210 179 219Z" fill="url(#nrg2)"/><path d="M218 -34Q221 -36 231 -23Q241 -11 241 -7Q241 -4 236 -2Q232 1 224 -8Q216 -18 215 -25Q215 -32 218 -34Z" fill="url(#nrg2)"/><path d="M117 30Q121 35 121 42Q120 49 114 47Q109 46 106 36Q103 27 108 26Q113 26 117 30Z" fill="url(#nrg2)"/><path d="M107 23Q112 22 111 16Q110 9 103 2Q96 -5 94 -1Q92 3 94 11Q97 19 99 21Q102 23 107 23Z" fill="url(#nrg2)"/><path d="M40 40Q42 39 47 42Q52 45 54 57Q56 68 51 68Q45 68 43 66Q41 64 39 52Q38 41 40 40Z" fill="url(#nrg2)"/><path d="M94 186Q97 177 99 179Q100 180 106 192Q111 204 106 206Q101 207 96 201Q92 194 94 186Z" fill="url(#nrg2)"/><path d="M233 69Q240 65 240 62Q240 60 239 58Q238 56 230 49Q222 43 220 44Q218 44 219 53Q219 62 223 67Q227 73 233 69Z" fill="url(#nrg)"/><path d="M10 37Q16 35 17 33Q18 30 16 25Q14 21 6 16Q-2 11 -5 17Q-8 24 -6 27Q-5 30 0 34Q5 39 10 37Z" fill="url(#nrg2)"/><path d="M155 19Q147 6 144 5Q140 5 138 8Q136 11 139 23Q143 36 153 34Q164 32 155 19Z" fill="url(#nrg2)"/><path d="M100 110Q94 108 92 117Q90 126 97 134Q103 143 104 143Q104 143 110 134Q116 126 111 119Q107 111 100 110Z" fill="url(#nrg2)"/><path d="M154 217Q147 217 145 208Q143 198 146 197Q149 196 155 203Q161 209 160 213Q160 217 154 217Z" fill="url(#nrg)"/><path d="M5 160Q6 160 8 149Q11 137 10 136Q9 135 6 133Q2 131 -4 132Q-10 133 -9 140Q-9 148 -3 154Q4 161 5 160Z" fill="url(#nrg2)"/><path d="M104 36Q101 27 99 25Q96 23 91 25Q85 26 86 32Q88 37 93 44Q98 51 101 52Q103 53 105 49Q106 46 104 36Z" fill="url(#nrg)"/><path d="M-6 -8Q-4 -11 -7 -17Q-9 -23 -16 -25Q-23 -27 -25 -21Q-26 -14 -17 -9Q-7 -5 -6 -8Z" fill="url(#nrg2)"/><path d="M140 72Q136 66 132 64Q127 61 124 68Q122 76 122 77Q122 79 130 81Q137 83 140 80Q144 78 140 72Z" fill="url(#nrg2)"/><path d="M32 -9Q21 -10 21 -6Q20 -1 20 0Q20 1 28 8Q36 15 44 12Q51 9 49 4Q47 -1 45 -4Q42 -7 32 -9Z" fill="url(#nrg)"/><path d="M147 223Q148 220 154 220Q161 220 165 227Q170 234 166 238Q162 241 154 234Q146 226 147 223Z" fill="url(#nrg2)"/><path d="M191 2Q196 15 203 12Q210 10 207 0Q203 -9 197 -13Q191 -16 188 -13Q186 -11 191 2Z" fill="url(#nrg2)"/><path d="M25 50Q32 62 35 63Q39 64 38 52Q36 41 28 37Q20 32 19 35Q18 37 25 50Z" fill="url(#nrg2)"/><path d="M87 82Q94 77 92 73Q91 68 83 62Q75 56 74 69Q73 82 73 82Q73 83 76 84Q79 86 87 82Z" fill="url(#nrg2)"/><path d="M239 42Q239 30 236 24Q232 19 227 20Q222 20 222 30Q223 41 231 47Q239 54 239 42Z" fill="url(#nrg)"/><path d="M6 163Q7 163 14 166Q21 169 27 177Q33 186 25 188Q17 189 13 183Q8 177 7 170Q5 163 6 163Z" fill="url(#nrg)"/><path d="M15 -19Q17 -13 16 -9Q15 -5 7 -9Q-2 -12 -4 -18Q-6 -24 -6 -30Q-6 -37 3 -30Q13 -24 15 -19Z" fill="url(#nrg2)"/><path d="M17 233Q19 237 18 242Q17 246 9 243Q1 241 -1 238Q-3 236 -4 232Q-4 229 -1 225Q3 221 9 225Q15 229 17 233Z" fill="url(#nrg2)"/><path d="M19 64Q27 68 29 80Q30 92 30 92Q29 92 18 82Q8 71 9 66Q11 60 19 64Z" fill="url(#nrg2)"/><path d="M11 184Q7 178 -3 182Q-13 185 -13 186Q-13 187 -8 193Q-2 198 7 201Q17 204 16 197Q15 191 11 184Z" fill="url(#nrg2)"/><path d="M72 169Q71 162 61 156Q51 149 50 150Q50 150 51 160Q53 171 54 172Q55 173 63 174Q72 175 72 169Z" fill="url(#nrg2)"/><path d="M207 87Q207 92 212 99Q217 106 224 106Q230 106 228 97Q227 88 217 85Q208 82 207 87Z" fill="url(#nrg)"/><path d="M184 108Q188 105 190 105Q192 106 198 114Q205 122 204 127Q204 132 196 130Q187 128 183 119Q179 111 184 108Z" fill="url(#nrg2)"/><path d="M-20 86Q-21 86 -22 95Q-23 104 -15 107Q-6 110 -6 107Q-5 105 -8 98Q-11 91 -15 89Q-19 86 -20 86Z" fill="url(#nrg2)"/><path d="M72 210Q68 214 71 223Q74 232 80 235Q85 238 87 231Q89 224 82 215Q76 206 72 210Z" fill="url(#nrg)"/><path d="M75 4Q73 -8 81 -2Q89 3 92 11Q95 20 89 21Q84 23 80 19Q77 15 75 4Z" fill="url(#nrg2)"/><path d="M125 -21Q119 -26 120 -32Q121 -37 127 -35Q132 -33 134 -31Q135 -28 133 -22Q132 -16 125 -21Z" fill="url(#nrg2)"/><path d="M182 89Q176 76 176 73Q177 71 177 71Q177 71 181 72Q184 73 191 82Q198 92 195 97Q192 103 190 103Q188 102 182 89Z" fill="url(#nrg2)"/><path d="M223 148Q212 147 212 151Q212 154 222 164Q231 175 234 165Q236 156 235 152Q234 148 223 148Z" fill="url(#nrg2)"/><path d="M28 176Q23 167 25 159Q26 151 32 161Q38 171 37 178Q35 186 34 186Q34 185 28 176Z" fill="url(#nrg2)"/><path d="M122 183Q123 184 122 196Q121 209 117 206Q113 204 107 192Q102 180 112 180Q121 181 122 183Z" fill="url(#nrg2)"/><path d="M42 -18Q44 -10 46 -6Q49 -3 57 -10Q64 -16 57 -25Q49 -34 45 -30Q40 -25 42 -18Z" fill="url(#nrg)"/></g>
<path d="M69.5 76.7h0M94.2 94.5h0M60.8 84.3h0M68.9 80.5h0M0.6 35.9h0M32.9 53.5h0M107.7 95.2h0M102.3 89.2h0M4.9 67h0M50.2 89.2h0M61.4 89.8h0M75.1 91.9h0M82.9 93.9h0M98 8.6h0M95.4 14.2h0M97.4 13.1h0M47.9 10.4h0M11.3 55.2h0M25.6 63.3h0M24.8 46.9h0M16.6 48.3h0M35.5 60.2h0M36.3 41.9h0M42.8 18.4h0M45.9 33.7h0M37.1 27.4h0M52 72.8h0M51.9 72.7h0M103 61.2h0M105.4 73h0M102.7 66.4h0M5.9 52.8h0M4.6 54.1h0M26.5 21.9h0M20 32.6h0M22.4 34.9h0M37.8 8.2h0M16.3 48.1h0M58.9 62.9h0M65.6 66.5h0M69.8 60.4h0M97.2 24.6h0M100.1 30h0M100.1 32.8h0M107.8 60.5h0M9 102.8h0M12.6 73.7h0M12.9 74.6h0M20 85.9h0M22.5 100.6h0M18 94.1h0M24.3 74.3h0M25.9 85.6h0M17.8 8.1h0M9.1 -0.8h0M9.5 0.2h0M24.4 -0.7h0M26.4 4.9h0M2.5 20.4h0M15.9 31.9h0M53.8 23.6h0M60.5 25.2h0M60.4 40.3h0M59.8 38.4h0M88.4 73.8h0M99.7 46h0M96.1 52.4h0M92 35.6h0M87.1 34h0M39.5 43.8h0M46.7 53.5h0M47.9 39h0M22.6 102.6h0M70.8 98.6h0M8.5 95.2h0M10.5 83.5h0M3.4 88.4h0M3 80.7h0M38 101.8h0M25.2 100.7h0M44.9 97.2h0M39.5 78.5h0M48.1 87.7h0M60.1 0.8h0M69.6 1.5h0M69.1 42.5h0M74.8 60.5h0M108.5 53.9h0M103.6 40.5h0M102.8 46.1h0M82.8 16.6h0M82.4 16.4h0M88.1 9.9h0M73.8 1.9h0M75.9 41.1h0M72.8 39.4h0M69.1 32.4h0M71 19h0M70 19.4h0M82.7 51.8h0M88.9 55.2h0M94 51.6h0M87.3 37.3h0" stroke="#2e2eac" stroke-width="1.9" stroke-linecap="round"/>
<path d="M-5.8 59h0M86.5 -13.6h0M105.3 12.5h0M99.5 -13.6h0M83.8 87.7h0M1.2 59.5h0M63.3 -4.5h0M109.6 86.8h0M109.5 1.8h0M97.8 -1.6h0" stroke="#a8a8e4" stroke-width="4.2" stroke-linecap="round" opacity="0.8"/>
<path d="M-5.8 59h0M86.5 -13.6h0M105.3 12.5h0M99.5 -13.6h0M83.8 87.7h0M1.2 59.5h0M63.3 -4.5h0M109.6 86.8h0M109.5 1.8h0M97.8 -1.6h0" stroke="#3a3ab4" stroke-width="1.2" stroke-linecap="round"/>
<rect width="108.70" height="102.00" fill="#000" filter="url(#drgn)"/>
<path d="M72.3 96.8h0M15.4 5.3h0M41.2 38.1h0M18.4 0.3h0M38.2 97.5h0M104.8 21.2h0M89.3 83.8h0M5.4 48.3h0M100 19.7h0M97.5 3.1h0M88.2 78.2h0M34.4 28.1h0M102.5 2.5h0M42 25.6h0M53.6 94.7h0M84 61.9h0M26.9 6.6h0M96 100.8h0M9.1 9.8h0M77.2 45.6h0M13.2 85.8h0M21.7 25.2h0M71 101.1h0M99.4 4.1h0M63.4 94.9h0M94.1 45.8h0M84.5 96.5h0M64.8 63.2h0M40.1 14.4h0M22.1 1.2h0M73.7 18.9h0M6.9 10.3h0M59.8 65.2h0M17.8 70.9h0M34 57.8h0M46.1 83.7h0M96 47h0M40.3 51.5h0M105.1 20.1h0M102.5 99.5h0M5.8 94.5h0M17.4 80.2h0M19.9 22.2h0M56.3 39.1h0M4.1 85.5h0M46.3 67.2h0M84.8 46.7h0M51.4 10.9h0M46.8 9.4h0M41.1 97h0M17.3 91.4h0M100 21.2h0M55 32.5h0M73.9 91.3h0M42.9 81.4h0M107.7 58.9h0M83.1 45.1h0M63.7 67.7h0M0.2 3.4h0M97.3 13.5h0M71 2.3h0M38.6 10.8h0M22.2 63.6h0M14.6 95.5h0M94.7 79.8h0M27 92.2h0M57.8 41.4h0M6.3 79.4h0M59.9 96h0M69.7 83h0M33.6 30.6h0M50.6 75.7h0M24.6 10.7h0" stroke="#3434b2" stroke-width="1.3" stroke-linecap="round"/>
<path d="M42.8 21.7h0M42.8 91.6h0M79.6 101.7h0M35.8 18.9h0M81.1 3.3h0M3.8 6.4h0M27.9 76.2h0M36.9 27.8h0M67.1 26.7h0M82.1 93.5h0M51.7 97.6h0M87.2 75.3h0M34.7 36.9h0M8.6 20.1h0M60.1 33.2h0M45.3 63.3h0M81.3 86.4h0M61.6 38h0M16.7 90.2h0M35.5 40.4h0M55.1 23.6h0M51.6 83.5h0M13 19.3h0M27.7 61.1h0M22.1 81.1h0M30.8 31.4h0M45.3 88.2h0M39.5 20.1h0M22.1 0.6h0M1.6 56.3h0M98.9 9.1h0M30.8 53.2h0M11.8 50h0M98.3 63.3h0M44 86.3h0M26.9 73.9h0M4.5 57.4h0M65.2 56.1h0M33.3 42.8h0M47.6 2.4h0M53.2 24h0M55.5 4.2h0M8.9 74.8h0M55.6 5.5h0M93.2 101.6h0M88.6 19.8h0M53.5 97.6h0M17.9 80.4h0M7.1 35.8h0M88.7 14.6h0M19.8 16.4h0M85.3 11.7h0M69.2 36.7h0M60.3 59.2h0M11.4 101.3h0M80.8 4.9h0M27.6 65.2h0M67 44.1h0M24.4 59.5h0M16.2 9.8h0M28.7 1.2h0M61.1 35.7h0M48.2 95.6h0M21.7 62h0M96.7 79.9h0M0.7 86.1h0M4.2 34.2h0" stroke="#3434b2" stroke-width="1.8" stroke-linecap="round"/>
</svg>
<svg x="352.1" y="636.6" width="108.70" height="102.00" overflow="hidden">
<rect width="108.70" height="102.00" fill="#cacaee"/>
<g transform="scale(0.5)" stroke="#3c3cbe" stroke-width="1"><path d="M107 -17Q101 -10 100 -10Q100 -10 95 -16Q89 -21 90 -26Q90 -31 95 -37Q101 -43 105 -39Q110 -35 111 -29Q112 -24 107 -17Z" fill="url(#nrg2)"/><path d="M29 0Q31 -7 29 -14Q27 -20 25 -21Q23 -22 17 -13Q11 -4 14 4Q17 13 22 10Q27 7 29 0Z" fill="url(#nrg2)"/><path d="M-31 72Q-33 73 -34 85Q-35 97 -30 101Q-26 104 -24 104Q-23 103 -20 96Q-18 89 -19 84Q-19 79 -25 75Q-30 72 -31 72Z" fill="url(#nrg2)"/><path d="M152 131Q152 131 157 119Q162 108 168 110Q174 112 174 116Q175 119 174 128Q173 137 166 140Q159 142 155 137Q152 132 152 131Z" fill="url(#nrg)"/><path d="M128 79Q125 90 133 91Q141 93 143 89Q146 86 146 82Q146 78 141 69Q136 60 133 64Q130 67 128 79Z" fill="url(#nrg2)"/><path d="M172 230Q172 236 178 238Q184 240 187 229Q191 218 190 216Q189 214 180 219Q171 224 172 230Z" fill="url(#nrg2)"/><path d="M-10 163Q-11 174 -10 175Q-10 176 -8 177Q-6 177 0 169Q6 162 9 156Q11 150 10 146Q9 143 1 145Q-7 148 -7 149Q-8 151 -10 163Z" fill="url(#nrg2)"/><path d="M141 107Q139 117 145 123Q151 129 155 118Q159 107 159 101Q158 96 153 93Q147 90 145 93Q143 96 141 107Z" fill="url(#nrg)"/><path d="M-7 52Q-7 51 -13 50Q-18 49 -23 59Q-29 69 -23 72Q-18 75 -13 64Q-7 53 -7 52Z" fill="url(#nrg2)"/><path d="M109 231Q106 236 101 228Q96 220 100 213Q103 206 107 208Q112 210 112 218Q113 226 109 231Z" fill="url(#nrg2)"/><path d="M-3 93Q-2 98 -5 107Q-8 116 -9 117Q-10 118 -12 118Q-13 118 -17 111Q-21 104 -18 97Q-16 90 -10 89Q-4 88 -3 93Z" fill="url(#nrg2)"/><path d="M202 51Q200 63 197 62Q194 62 190 51Q187 40 189 37Q190 34 196 33Q202 32 203 35Q204 38 202 51Z" fill="url(#nrg)"/><path d="M228 36Q234 35 238 30Q241 26 241 24Q241 23 239 16Q236 9 229 12Q223 16 222 27Q221 37 228 36Z" fill="url(#nrg2)"/><path d="M235 47Q234 55 236 58Q237 62 243 59Q250 57 250 51Q250 45 246 37Q242 30 239 34Q236 38 235 47Z" fill="url(#nrg)"/><path d="M-12 9Q-11 7 -15 1Q-19 -4 -26 6Q-33 15 -32 24Q-31 32 -28 32Q-25 31 -18 21Q-12 11 -12 9Z" fill="url(#nrg)"/><path d="M28 104Q28 113 22 115Q16 117 13 108Q11 99 14 91Q18 83 20 81Q22 80 25 88Q28 95 28 104Z" fill="url(#nrg2)"/><path d="M136 122Q138 120 143 126Q149 132 149 133Q149 133 142 144Q135 155 132 149Q130 143 132 134Q134 124 136 122Z" fill="url(#nrg)"/><path d="M-13 216Q-13 216 -15 206Q-16 196 -13 188Q-11 180 -9 180Q-7 180 -2 189Q2 198 2 200Q2 202 -5 209Q-12 217 -13 216Z" fill="url(#nrg2)"/><path d="M74 156Q76 150 70 142Q65 135 64 135Q62 135 57 146Q51 156 56 164Q60 172 66 167Q72 162 74 156Z" fill="url(#nrg2)"/><path d="M217 189Q221 182 222 177Q223 173 218 171Q213 169 208 179Q203 188 208 192Q213 195 217 189Z" fill="url(#nrg2)"/><path d="M107 98Q110 97 113 98Q117 99 117 109Q117 119 117 120Q117 121 111 126Q105 131 101 127Q96 124 96 121Q96 118 100 109Q104 99 107 98Z" fill="url(#nrg)"/><path d="M175 35Q179 41 182 39Q185 37 187 34Q188 31 188 23Q187 15 184 11Q181 8 176 13Q171 17 171 23Q170 28 175 35Z" fill="url(#nrg)"/><path d="M86 203Q88 187 90 186Q93 185 97 188Q100 191 100 197Q101 204 98 211Q94 218 91 221Q87 223 85 221Q84 219 86 203Z" fill="url(#nrg)"/><path d="M211 207Q211 199 206 195Q201 191 200 191Q199 191 197 195Q194 199 193 205Q192 211 193 213Q193 215 200 220Q206 224 209 220Q211 216 211 207Z" fill="url(#nrg2)"/><path d="M52 60Q44 59 44 58Q44 58 45 52Q46 46 52 37Q59 27 63 31Q67 35 63 48Q60 61 52 60Z" fill="url(#nrg2)"/><path d="M13 221Q13 221 9 212Q5 202 5 200Q5 198 9 193Q13 188 17 188Q21 187 22 198Q24 209 19 215Q13 221 13 221Z" fill="url(#nrg2)"/><path d="M16 32Q14 21 6 29Q-1 36 -3 42Q-5 49 -5 50Q-4 51 0 55Q5 59 12 51Q18 43 16 32Z" fill="url(#nrg2)"/><path d="M146 233Q148 227 146 218Q144 209 139 209Q134 208 130 218Q127 229 127 233Q128 236 134 239Q141 242 143 241Q145 239 146 233Z" fill="url(#nrg2)"/><path d="M32 15Q36 20 35 25Q34 30 28 36Q22 42 21 42Q20 41 18 30Q16 18 16 18Q16 17 22 14Q28 10 32 15Z" fill="url(#nrg2)"/><path d="M25 197Q23 186 25 182Q27 178 32 176Q38 174 39 184Q40 195 37 201Q35 208 31 207Q27 207 25 197Z" fill="url(#nrg2)"/><path d="M188 115Q178 119 177 128Q175 137 179 140Q184 144 191 134Q198 124 198 117Q197 110 188 115Z" fill="url(#nrg2)"/><path d="M109 18Q107 16 105 5Q103 -5 108 -9Q114 -13 116 -13Q119 -12 124 -7Q130 -2 126 7Q122 15 117 17Q111 20 109 18Z" fill="url(#nrg2)"/><path d="M47 86Q51 91 54 86Q58 81 59 74Q60 68 59 66Q59 64 52 62Q44 61 44 71Q43 81 47 86Z" fill="url(#nrg2)"/><path d="M12 73Q17 80 20 79Q22 78 24 71Q27 64 24 55Q21 45 21 45Q20 44 12 53Q5 62 5 64Q6 66 12 73Z" fill="url(#nrg2)"/><path d="M227 94Q230 92 232 93Q234 94 239 105Q244 117 241 121Q239 126 233 128Q227 129 225 128Q222 127 224 111Q225 95 227 94Z" fill="url(#nrg2)"/><path d="M-28 221Q-32 218 -30 210Q-29 201 -23 199Q-18 197 -16 207Q-15 216 -20 220Q-25 223 -28 221Z" fill="url(#nrg2)"/><path d="M117 201Q122 196 121 186Q119 176 118 175Q117 175 110 182Q103 189 103 196Q103 203 108 205Q113 207 117 201Z" fill="url(#nrg)"/><path d="M73 90Q77 87 80 90Q82 93 82 102Q81 110 75 115Q68 121 67 120Q65 120 65 120Q65 120 67 107Q70 93 73 90Z" fill="url(#nrg2)"/><path d="M217 62Q218 63 219 76Q220 89 211 92Q203 95 201 94Q200 93 201 80Q202 67 209 64Q217 61 217 62Z" fill="url(#nrg2)"/><path d="M155 52Q155 46 151 42Q146 38 143 43Q140 47 139 53Q139 58 143 67Q147 76 152 67Q156 58 155 52Z" fill="url(#nrg2)"/><path d="M234 77Q230 89 233 90Q235 91 241 85Q247 80 249 70Q251 61 251 60Q250 59 244 62Q237 65 234 77Z" fill="url(#nrg2)"/><path d="M169 219Q168 217 169 206Q170 195 173 191Q176 187 183 193Q191 199 190 205Q189 212 180 216Q170 221 169 219Z" fill="url(#nrg2)"/><path d="M104 65Q97 67 95 63Q94 60 96 54Q98 48 101 46Q105 45 108 50Q112 55 112 58Q111 60 111 61Q110 62 104 65Z" fill="url(#nrg2)"/><path d="M-28 149Q-28 149 -28 159Q-28 170 -20 172Q-12 175 -11 163Q-10 151 -19 150Q-27 149 -28 149Z" fill="url(#nrg2)"/><path d="M213 4Q213 6 218 10Q223 13 229 9Q236 4 238 -3Q239 -10 235 -15Q232 -21 225 -18Q217 -15 215 -6Q212 2 213 4Z" fill="url(#nrg)"/><path d="M175 -21Q175 -21 170 -10Q164 0 164 4Q164 7 167 11Q170 15 175 10Q180 5 181 -3Q181 -10 178 -16Q175 -21 175 -21Z" fill="url(#nrg)"/><path d="M164 172Q155 168 157 157Q159 146 166 144Q173 141 177 147Q181 153 181 155Q181 157 177 167Q174 177 164 172Z" fill="url(#nrg)"/><path d="M176 53Q179 45 182 43Q185 41 188 52Q191 63 186 70Q180 76 177 74Q174 72 174 67Q174 61 176 53Z" fill="url(#nrg2)"/><path d="M43 8Q46 -1 53 -2Q61 -4 59 7Q57 17 48 17Q39 18 43 8Z" fill="url(#nrg2)"/><path d="M84 186Q87 187 84 203Q82 219 74 216Q65 213 66 210Q66 206 73 196Q81 186 84 186Z" fill="url(#nrg2)"/><path d="M138 -5Q140 -6 146 -8Q152 -9 157 -4Q161 1 161 4Q161 8 155 15Q148 22 142 10Q137 -3 138 -5Z" fill="url(#nrg)"/><path d="M43 52Q43 47 39 39Q35 32 29 38Q23 44 26 54Q29 63 35 60Q42 58 43 52Z" fill="url(#nrg2)"/><path d="M57 180Q58 174 54 167Q49 160 48 160Q46 161 43 167Q41 173 42 184Q42 194 49 190Q56 185 57 180Z" fill="url(#nrg2)"/><path d="M30 119Q32 119 34 125Q35 130 35 137Q34 143 28 148Q23 153 18 151Q14 148 13 144Q13 140 14 134Q15 127 15 127Q16 126 22 122Q28 119 30 119Z" fill="url(#nrg2)"/><path d="M92 153Q87 145 91 136Q95 126 100 130Q104 134 104 143Q104 151 100 156Q97 161 92 153Z" fill="url(#nrg)"/><path d="M177 -27Q177 -25 180 -19Q183 -13 189 -16Q195 -19 197 -26Q200 -33 197 -36Q194 -40 186 -34Q178 -28 177 -27Z" fill="url(#nrg2)"/><path d="M42 109Q34 116 36 122Q38 128 48 126Q59 124 54 113Q49 102 42 109Z" fill="url(#nrg2)"/><path d="M128 196Q131 198 135 185Q139 173 136 168Q134 163 127 169Q121 175 123 185Q124 194 128 196Z" fill="url(#nrg)"/><path d="M96 172Q98 164 102 159Q105 154 109 155Q113 157 115 165Q116 173 109 180Q102 187 98 184Q95 180 96 172Z" fill="url(#nrg2)"/><path d="M184 154Q184 151 192 139Q200 127 206 131Q212 135 209 144Q207 152 202 157Q197 161 190 159Q184 156 184 154Z" fill="url(#nrg2)"/><path d="M2 123Q12 127 11 133Q9 139 1 142Q-7 144 -8 133Q-9 121 -8 120Q-7 119 2 123Z" fill="url(#nrg2)"/><path d="M70 64Q78 63 79 63Q79 62 78 49Q77 36 73 36Q68 36 65 49Q61 61 62 63Q62 65 70 64Z" fill="url(#nrg2)"/><path d="M64 27Q60 23 60 20Q60 18 62 7Q63 -4 63 -4Q63 -4 69 -4Q75 -3 79 8Q83 19 82 22Q82 24 80 28Q78 31 73 31Q68 32 64 27Z" fill="url(#nrg2)"/><path d="M11 174Q10 164 11 158Q13 152 17 155Q22 157 23 166Q24 175 22 180Q21 184 17 184Q13 184 11 174Z" fill="url(#nrg2)"/><path d="M221 94Q223 95 222 112Q220 128 216 129Q213 130 207 127Q201 123 200 116Q200 109 201 104Q202 99 210 96Q219 93 221 94Z" fill="url(#nrg2)"/><path d="M113 77Q112 90 115 91Q118 92 121 91Q124 90 126 78Q129 67 121 64Q114 62 114 63Q113 65 113 77Z" fill="url(#nrg2)"/><path d="M44 -7Q42 -11 45 -21Q48 -32 55 -29Q62 -25 62 -16Q61 -6 61 -6Q61 -6 54 -5Q46 -4 44 -7Z" fill="url(#nrg2)"/><path d="M158 220Q151 224 149 216Q146 207 148 203Q151 199 159 197Q168 195 167 206Q166 217 158 220Z" fill="url(#nrg2)"/><path d="M129 12Q125 17 125 26Q126 35 132 40Q138 44 141 40Q145 35 145 29Q146 24 141 15Q135 6 134 6Q133 7 129 12Z" fill="url(#nrg2)"/><path d="M213 -7Q211 1 205 0Q199 -2 198 -9Q197 -16 200 -24Q202 -32 204 -32Q207 -33 211 -24Q215 -16 213 -7Z" fill="url(#nrg)"/><path d="M233 133Q227 134 227 150Q227 167 234 163Q241 159 242 157Q243 154 241 143Q239 131 233 133Z" fill="url(#nrg)"/><path d="M63 210Q63 213 62 214Q61 215 52 218Q43 221 40 216Q37 211 40 204Q43 197 50 192Q57 188 60 197Q63 206 63 210Z" fill="url(#nrg2)"/><path d="M39 21Q39 21 38 26Q37 30 41 38Q45 45 51 34Q58 24 57 22Q57 19 48 20Q39 20 39 21Z" fill="url(#nrg)"/><path d="M93 52Q91 58 86 60Q81 62 80 48Q79 34 81 31Q83 27 88 31Q92 34 94 40Q95 46 93 52Z" fill="url(#nrg2)"/><path d="M174 52Q177 43 173 37Q169 31 163 38Q158 45 158 51Q159 57 165 58Q171 60 174 52Z" fill="url(#nrg)"/><path d="M86 -25Q86 -20 81 -13Q76 -7 70 -7Q65 -8 65 -17Q65 -26 66 -28Q67 -29 75 -32Q83 -36 85 -33Q86 -30 86 -25Z" fill="url(#nrg2)"/><path d="M18 238Q21 251 30 240Q38 229 38 228Q39 226 36 221Q34 215 30 214Q25 213 20 219Q15 225 18 238Z" fill="url(#nrg2)"/><path d="M102 8Q104 17 99 24Q94 31 89 28Q84 25 85 22Q86 19 93 9Q100 -2 100 -2Q101 -2 102 8Z" fill="url(#nrg2)"/><path d="M-8 24Q-4 35 -5 41Q-7 48 -12 47Q-17 45 -20 39Q-23 33 -17 23Q-11 13 -8 24Z" fill="url(#nrg)"/><path d="M223 238Q221 246 214 246Q208 246 208 244Q207 243 208 235Q208 227 211 223Q213 219 218 219Q223 218 225 224Q226 229 223 238Z" fill="url(#nrg2)"/><path d="M16 -17Q22 -25 21 -31Q21 -37 20 -38Q20 -40 14 -40Q9 -39 6 -36Q2 -33 4 -21Q6 -9 8 -9Q10 -9 16 -17Z" fill="url(#nrg2)"/><path d="M176 78Q178 80 179 86Q179 91 177 100Q174 109 168 107Q163 105 162 99Q162 94 167 85Q173 76 176 78Z" fill="url(#nrg2)"/><path d="M199 97Q198 95 190 93Q182 92 179 101Q176 110 176 114Q177 117 187 112Q197 108 198 103Q199 99 199 97Z" fill="url(#nrg2)"/><path d="M-5 -34Q1 -32 2 -20Q3 -8 -3 -3Q-9 2 -13 -3Q-17 -8 -18 -15Q-19 -22 -14 -29Q-10 -35 -5 -34Z" fill="url(#nrg)"/><path d="M230 189Q225 182 225 177Q226 172 226 171Q227 169 234 165Q242 162 242 172Q242 183 239 189Q236 195 235 196Q234 196 230 189Z" fill="url(#nrg2)"/><path d="M72 193Q79 184 76 174Q73 165 67 170Q61 175 60 180Q59 186 62 194Q65 203 72 193Z" fill="url(#nrg)"/><path d="M60 127Q60 127 59 126Q59 126 49 128Q38 130 38 137Q37 143 41 150Q45 157 47 156Q49 155 55 141Q60 127 60 127Z" fill="url(#nrg2)"/><path d="M126 123Q132 124 130 133Q128 142 124 144Q120 145 119 134Q119 123 119 122Q119 122 126 123Z" fill="url(#nrg2)"/><path d="M219 38Q220 37 221 26Q222 16 217 12Q212 9 208 19Q204 29 205 32Q206 35 213 37Q219 38 219 38Z" fill="url(#nrg2)"/><path d="M120 227Q115 226 114 218Q114 209 119 203Q123 197 127 199Q130 201 131 204Q132 207 128 217Q124 228 120 227Z" fill="url(#nrg2)"/><path d="M217 50Q216 58 209 61Q202 64 202 64Q202 64 204 51Q206 38 212 39Q218 41 217 50Z" fill="url(#nrg)"/><path d="M75 242Q83 233 84 230Q84 227 83 224Q82 222 73 219Q64 215 64 217Q63 218 64 234Q65 250 66 250Q68 251 75 242Z" fill="url(#nrg)"/><path d="M94 77Q94 70 93 66Q91 62 86 64Q81 66 81 66Q81 66 80 75Q79 84 81 87Q83 90 88 87Q93 83 94 77Z" fill="url(#nrg)"/><path d="M0 76Q3 67 3 65Q3 63 -1 59Q-6 56 -11 66Q-17 77 -16 82Q-16 88 -10 87Q-4 85 0 76Z" fill="url(#nrg2)"/><path d="M177 180Q177 181 184 189Q192 196 195 192Q198 187 197 176Q196 164 190 162Q184 159 180 169Q177 179 177 180Z" fill="url(#nrg2)"/><path d="M210 6Q211 8 207 18Q203 29 196 30Q190 31 190 22Q190 14 194 7Q199 1 204 2Q210 4 210 6Z" fill="url(#nrg2)"/><path d="M-28 144Q-28 144 -32 143Q-35 141 -35 140Q-36 139 -31 123Q-26 108 -24 107Q-23 106 -19 113Q-14 120 -21 132Q-28 144 -28 144Z" fill="url(#nrg2)"/><path d="M93 -12Q98 -6 91 6Q84 17 81 7Q77 -4 82 -11Q88 -18 93 -12Z" fill="url(#nrg2)"/><path d="M13 90Q9 98 5 97Q0 97 -1 92Q-1 87 2 78Q4 69 10 75Q16 82 13 90Z" fill="url(#nrg2)"/><path d="M81 145Q78 146 73 137Q67 127 75 120Q82 112 88 116Q93 119 93 122Q93 125 89 134Q85 143 81 145Z" fill="url(#nrg)"/><path d="M4 100Q9 101 11 112Q14 124 13 124Q13 125 3 121Q-7 117 -4 108Q0 99 4 100Z" fill="url(#nrg)"/><path d="M-33 69Q-33 69 -31 69Q-30 68 -25 58Q-20 48 -22 41Q-25 35 -28 35Q-31 35 -34 41Q-36 46 -35 57Q-34 68 -33 69Z" fill="url(#nrg)"/><path d="M138 165Q141 170 146 170Q151 169 152 168Q153 167 155 156Q157 146 153 141Q150 137 143 146Q136 156 136 159Q135 161 138 165Z" fill="url(#nrg)"/><path d="M162 36Q168 29 168 23Q168 17 165 13Q162 9 156 17Q149 24 148 30Q147 35 152 39Q156 43 162 36Z" fill="url(#nrg2)"/><path d="M84 183Q87 184 90 182Q93 180 94 171Q95 163 90 155Q85 147 82 149Q78 151 76 157Q75 163 78 173Q81 182 84 183Z" fill="url(#nrg)"/><path d="M164 61Q170 63 171 68Q171 74 165 83Q160 92 154 89Q148 85 148 82Q149 78 153 69Q158 60 164 61Z" fill="url(#nrg)"/><path d="M35 87Q30 94 27 86Q24 79 26 72Q29 66 36 63Q42 61 43 61Q43 61 42 71Q41 81 35 87Z" fill="url(#nrg)"/><path d="M43 -5Q41 -8 37 -7Q33 -6 31 1Q29 8 33 13Q38 18 38 18Q38 18 41 8Q44 -2 43 -5Z" fill="url(#nrg2)"/><path d="M112 128Q118 123 118 134Q118 146 116 150Q114 154 110 153Q106 151 106 142Q106 133 112 128Z" fill="url(#nrg)"/><path d="M29 150Q24 156 25 165Q26 175 32 173Q38 171 41 165Q44 159 40 152Q35 145 29 150Z" fill="url(#nrg)"/><path d="M159 195Q168 193 171 188Q173 182 173 181Q173 180 164 175Q154 170 153 171Q152 172 151 185Q150 197 159 195Z" fill="url(#nrg2)"/><path d="M96 77Q97 70 104 67Q111 65 111 78Q110 91 107 94Q104 96 99 90Q95 84 96 77Z" fill="url(#nrg2)"/><path d="M37 -10Q40 -11 43 -22Q46 -32 46 -33Q46 -33 44 -34Q41 -34 35 -28Q29 -22 31 -15Q33 -9 37 -10Z" fill="url(#nrg2)"/><path d="M226 60Q232 58 234 61Q235 65 232 76Q229 88 227 88Q225 88 223 87Q222 87 221 75Q220 63 226 60Z" fill="url(#nrg2)"/><path d="M207 177Q212 168 210 161Q208 154 203 159Q198 163 199 176Q199 188 200 187Q201 187 207 177Z" fill="url(#nrg2)"/><path d="M219 168Q224 170 224 168Q225 167 225 151Q225 136 223 135Q220 135 217 136Q213 136 212 144Q210 153 212 159Q214 166 219 168Z" fill="url(#nrg2)"/><path d="M233 46Q232 55 226 57Q219 60 219 59Q219 58 220 50Q221 41 221 41Q222 40 228 39Q234 38 233 46Z" fill="url(#nrg2)"/><path d="M115 58Q115 60 122 62Q129 65 132 61Q135 58 136 52Q137 46 131 42Q125 38 120 46Q115 55 115 58Z" fill="url(#nrg2)"/><path d="M-32 193Q-29 198 -24 196Q-18 194 -15 187Q-12 179 -13 178Q-13 177 -21 175Q-28 172 -32 180Q-35 187 -32 193Z" fill="url(#nrg2)"/><path d="M52 97Q53 94 56 89Q59 84 63 89Q67 93 64 105Q61 117 61 117Q60 117 56 109Q52 100 52 97Z" fill="url(#nrg2)"/><path d="M167 -26Q173 -24 168 -13Q162 -1 158 -7Q154 -12 157 -20Q161 -28 167 -26Z" fill="url(#nrg)"/><path d="M11 8Q8 -1 6 -2Q4 -2 -2 3Q-9 8 -9 10Q-9 12 -6 23Q-2 33 5 25Q13 17 13 17Q13 16 11 8Z" fill="url(#nrg2)"/><path d="M110 48Q107 42 109 33Q111 23 117 21Q122 19 123 28Q124 36 119 45Q114 54 110 48Z" fill="url(#nrg)"/><path d="M232 226Q229 226 227 221Q226 217 230 208Q234 200 235 199Q236 199 240 207Q244 216 240 221Q236 226 232 226Z" fill="url(#nrg2)"/><path d="M-18 147Q-27 147 -20 134Q-13 121 -12 121Q-11 121 -10 133Q-8 145 -9 147Q-10 148 -18 147Z" fill="url(#nrg2)"/><path d="M186 8Q189 11 193 5Q197 -1 196 -8Q195 -15 190 -12Q184 -10 183 -3Q183 5 186 8Z" fill="url(#nrg2)"/><path d="M200 67Q200 67 199 80Q199 93 190 91Q182 89 181 84Q181 78 187 72Q193 65 196 66Q200 67 200 67Z" fill="url(#nrg2)"/><path d="M101 43Q97 44 96 38Q95 32 100 25Q106 19 108 21Q110 23 108 32Q105 42 101 43Z" fill="url(#nrg2)"/><path d="M242 88Q236 93 241 103Q245 114 247 114Q249 113 250 101Q251 89 250 86Q248 82 242 88Z" fill="url(#nrg2)"/><path d="M1 171Q8 164 10 175Q12 186 8 191Q4 196 -1 187Q-5 179 1 171Z" fill="url(#nrg)"/><path d="M147 202Q145 206 139 205Q134 205 133 202Q132 198 136 186Q140 173 146 173Q151 172 150 185Q149 197 147 202Z" fill="url(#nrg2)"/><path d="M157 -37Q159 -29 156 -21Q152 -13 146 -12Q141 -10 146 -28Q152 -45 153 -45Q154 -45 157 -37Z" fill="url(#nrg)"/><path d="M228 191Q223 184 219 191Q215 199 214 207Q213 216 218 215Q224 214 228 206Q232 198 228 191Z" fill="url(#nrg2)"/><path d="M126 167Q132 161 133 158Q133 156 130 151Q128 145 124 147Q120 149 118 152Q116 155 117 164Q118 172 119 172Q120 173 126 167Z" fill="url(#nrg2)"/><path d="M73 87Q76 84 77 75Q79 66 70 67Q62 68 61 75Q61 81 65 86Q69 91 73 87Z" fill="url(#nrg2)"/><path d="M122 95Q125 93 133 94Q141 95 139 106Q137 118 135 119Q133 121 126 120Q120 119 119 108Q119 98 122 95Z" fill="url(#nrg2)"/><path d="M32 112Q33 113 41 106Q48 100 49 96Q49 93 45 88Q42 83 36 89Q31 95 30 103Q30 112 32 112Z" fill="url(#nrg2)"/></g>
<path d="M22.7 79.4h0M20.8 97.9h0M19.5 86.1h0M24.8 78.3h0M28.8 93.4h0M30.1 86.7h0M47.3 59.3h0M12.9 88.2h0M2 31h0M17.6 72h0M5.5 70.1h0M7 63h0M96.6 31.8h0M104.1 76.3h0M73.6 39.2h0M14.1 32.3h0M6.5 93.3h0M4 81h0M9.9 21.4h0M7.4 8.6h0M-0.3 49h0M8.7 40.6h0M4.8 49.8h0M95.9 99.1h0M99.3 54.3h0M73.4 43.3h0M72.9 18.1h0M58.7 86.8h0M52.6 66.2h0M40.1 31.9h0M51.3 102.1h0M62.5 18.1h0M29.6 11.8h0M21.6 29.4h0M22.3 23.2h0M18.4 64.4h0M87.4 89.5h0M87.4 90.9h0M76.8 84.4h0M106.6 83.6h0M79.7 46.9h0M80.8 53.3h0M75.3 65.8h0M67.2 78.3h0M70.8 47h0M66.6 61.4h0M68.9 59.4h0M81.3 0.5h0M84.6 8.2h0M94.7 15.9h0M84.5 14.5h0M85.8 30.8h0M89.3 21.5h0M41.5 46.2h0M41.2 55.4h0M31 63.1h0M100.4 49.2h0M48.4 81.4h0M36.6 81.6h0M42.6 72.5h0M38.6 74.7h0M40.4 92h0M61.8 8.3h0M55.6 10.9h0M58.9 48.3h0M62 45.5h0M29.9 31.3h0M13.9 4.1h0M19.1 9.5h0M18.8 9.9h0M102.5 18h0M100.5 33h0M56.9 27.6h0M52.9 21.7h0M48.4 22.8h0M45.8 30.1h0M21 40.7h0M14.8 47.5h0M14.2 56.8h0M16.2 58h0M59.6 87.3h0M67 80.7h0M70.2 86h0M106.4 98.8h0M56.1 31.8h0M51.9 48.7h0M47.9 34.6h0M65.4 99.7h0M66.7 102.9h0M84.7 97.1h0M108.6 30h0M109.2 30.9h0" stroke="#2e2eac" stroke-width="1.9" stroke-linecap="round"/>
<path d="M90.8 13.6h0M57.5 1.7h0M73.3 27.5h0M60 39.4h0M78.7 103.5h0M67.1 12.9h0M101.9 -8.8h0M37.5 -11h0M99.6 7.1h0M17.9 2.7h0M63.8 27.3h0M94.6 -1.1h0M65.4 54h0" stroke="#a8a8e4" stroke-width="4.2" stroke-linecap="round" opacity="0.8"/>
<path d="M90.8 13.6h0M57.5 1.7h0M73.3 27.5h0M60 39.4h0M78.7 103.5h0M67.1 12.9h0M101.9 -8.8h0M37.5 -11h0M99.6 7.1h0M17.9 2.7h0M63.8 27.3h0M94.6 -1.1h0M65.4 54h0" stroke="#3a3ab4" stroke-width="1.2" stroke-linecap="round"/>
<rect width="108.70" height="102.00" fill="#000" filter="url(#drgn)"/>
<path d="M28.9 56.5h0M85.7 53.4h0M69.8 98.4h0M95.7 1.6h0M75.8 87.5h0M78.8 58.2h0M23 63.5h0M99 14.7h0M11.6 94.8h0M15.4 2.9h0M99.4 96.3h0M22.4 11.4h0M89.7 64.4h0M22.3 32.6h0M2.3 26.2h0M77.8 37.5h0M67.2 3.2h0M47.4 78.8h0M76.6 54.9h0M18.5 0.1h0M82.8 99.7h0M20.1 50.4h0M85.5 64h0M9.4 90.6h0M37.9 33.3h0M63 12.9h0M96.2 24.3h0M16.8 15.9h0M35.5 53.3h0M86.4 74.8h0M21.3 65.1h0M22.4 39.6h0M54.4 64.5h0M15.4 61.6h0M80.5 92.6h0M62.4 76.4h0M73.9 65.4h0M34 64.1h0M68.4 25.5h0M49.5 63.4h0M73.4 94.9h0M71.1 79.4h0M53.2 99.4h0M102.2 53h0M22.8 69.8h0M38.6 5.8h0M43.4 1.4h0M45.7 71.2h0M102.2 53.8h0M87.1 40h0M24.6 98.3h0M13.6 85h0M92.5 27.3h0M27.6 43.5h0M0.3 73.6h0M26.6 30.8h0M68.8 1.5h0M103.5 66.9h0M11 14.6h0M84.4 35.3h0M98.3 80.8h0M57.7 75.7h0M95.9 56.6h0M25.5 14.2h0M6.4 47.6h0M91.4 38.2h0M74.2 95h0M106.7 52.1h0M83.8 21.5h0M31.8 84.4h0M36 32.3h0M59.3 5.1h0" stroke="#3434b2" stroke-width="1.3" stroke-linecap="round"/>
<path d="M75.6 86.2h0M25.7 75.9h0M81.1 33.3h0M35.7 24.4h0M68.6 70.7h0M106.4 47.9h0M75.3 64.7h0M80.1 6.7h0M39.5 83.4h0M96.9 6.7h0M92.1 82.8h0M10.9 10h0M104.8 51.4h0M93.7 9.3h0M53.4 50.1h0M90.4 26.6h0M30.8 21.9h0M54.2 11.2h0M8.8 80.4h0M43.6 40.2h0M22.4 26.8h0M54.5 38.7h0M25.4 47h0M82 76.8h0M91.6 67.5h0M18.4 44.8h0M32.8 71.7h0M35.7 19.3h0M79.2 10.4h0M11 39.2h0M43.4 80.7h0M24.8 73.7h0M84.1 71.4h0M45.6 79.8h0M59.1 16.4h0M62.5 55.2h0M55.7 65.2h0M56.7 41.9h0M82.9 12.5h0M28.8 22.9h0M14.1 79.2h0M68.9 47.9h0M69.4 83.5h0M50.9 30h0M46.6 65h0M39.4 94.7h0M6.2 84.4h0M85.2 14.3h0M96.9 62.1h0M72.7 91.2h0M91.2 20.1h0M53.4 50.8h0M93.8 0.7h0M50.9 57.4h0M104.4 7.7h0M69.1 2.9h0M97.6 3.5h0M68 34.5h0M39.8 48.4h0M45.9 56.5h0M54.8 27.7h0M106 66.8h0M63.7 64.8h0M4.4 73.7h0M0.7 19.4h0M66.2 67.1h0M98.9 62.4h0M68.1 71h0" stroke="#3434b2" stroke-width="1.8" stroke-linecap="round"/>
</svg>
<svg x="463.6" y="636.6" width="109.30" height="102.00" overflow="hidden">
<rect width="109.30" height="102.00" fill="#cacaee"/>
<g transform="scale(0.5)" stroke="#3c3cbe" stroke-width="1"><path d="M74 35Q76 33 78 25Q79 17 75 10Q70 4 66 6Q62 8 60 15Q59 22 62 30Q65 37 68 37Q72 37 74 35Z" fill="url(#nrg)"/><path d="M97 128Q101 126 101 124Q102 122 99 110Q96 98 93 97Q90 96 87 97Q85 98 81 105Q77 113 78 117Q79 122 86 126Q93 130 97 128Z" fill="url(#nrg2)"/><path d="M38 154Q39 151 43 149Q47 147 57 152Q67 157 63 166Q59 176 53 177Q46 178 44 176Q42 174 39 166Q36 158 38 154Z" fill="url(#nrg)"/><path d="M173 153Q181 149 182 144Q183 139 178 134Q173 129 170 131Q168 132 164 141Q161 150 162 153Q164 156 173 153Z" fill="url(#nrg)"/><path d="M235 229Q226 230 224 225Q221 220 226 212Q231 203 234 204Q238 206 241 217Q243 228 243 228Q243 229 235 229Z" fill="url(#nrg)"/><path d="M62 103Q63 104 69 107Q75 110 79 103Q82 96 75 90Q67 83 65 85Q63 87 62 94Q62 101 62 103Z" fill="url(#nrg)"/><path d="M224 210Q219 219 219 218Q218 218 214 213Q211 207 211 198Q211 190 212 188Q213 186 217 184Q221 182 225 192Q229 202 224 210Z" fill="url(#nrg)"/><path d="M-12 83Q-15 73 -20 73Q-26 73 -29 80Q-32 87 -23 94Q-15 100 -12 96Q-10 92 -12 83Z" fill="url(#nrg)"/><path d="M130 -10Q129 -5 126 -4Q123 -2 118 -6Q113 -9 112 -14Q112 -20 115 -24Q117 -29 122 -28Q126 -26 129 -21Q131 -15 130 -10Z" fill="url(#nrg)"/><path d="M188 158Q185 150 185 145Q185 140 192 137Q199 134 202 138Q205 143 205 146Q205 149 199 157Q193 166 192 166Q191 166 188 158Z" fill="url(#nrg2)"/><path d="M167 -11Q160 -14 158 -4Q155 6 155 7Q155 8 162 14Q169 19 171 16Q174 13 174 2Q173 -8 167 -11Z" fill="url(#nrg)"/><path d="M123 60Q121 69 125 72Q128 75 134 73Q140 71 139 63Q137 56 131 54Q124 51 123 60Z" fill="url(#nrg2)"/><path d="M230 72Q236 67 242 74Q247 81 245 92Q243 102 235 101Q226 99 225 88Q224 76 230 72Z" fill="url(#nrg2)"/><path d="M167 27Q167 21 161 16Q154 10 151 22Q149 34 149 34Q149 35 158 33Q167 32 167 27Z" fill="url(#nrg2)"/><path d="M195 222Q194 214 195 213Q195 212 202 211Q208 210 212 215Q216 220 209 227Q201 233 199 231Q197 230 195 222Z" fill="url(#nrg2)"/><path d="M128 176Q129 174 125 162Q121 150 118 150Q114 149 110 156Q106 162 111 169Q116 176 121 177Q126 179 128 176Z" fill="url(#nrg)"/><path d="M6 -19Q6 -19 2 -8Q-1 4 1 7Q4 10 12 9Q20 8 21 5Q22 2 20 -6Q17 -14 12 -17Q7 -19 6 -19Z" fill="url(#nrg)"/><path d="M207 67Q203 68 199 59Q195 50 195 44Q196 38 204 41Q211 43 211 55Q211 67 207 67Z" fill="url(#nrg2)"/><path d="M-6 203Q-12 209 -16 202Q-19 196 -19 193Q-18 189 -14 187Q-9 184 -5 190Q0 197 -6 203Z" fill="url(#nrg)"/><path d="M47 -37Q41 -40 38 -39Q35 -38 34 -31Q33 -25 39 -17Q44 -9 45 -9Q45 -9 50 -18Q54 -26 55 -29Q55 -33 54 -33Q54 -34 47 -37Z" fill="url(#nrg)"/><path d="M201 159Q207 151 214 161Q222 172 221 175Q220 179 216 180Q212 182 203 175Q195 168 201 159Z" fill="url(#nrg2)"/><path d="M83 155Q78 157 75 155Q72 154 72 144Q72 134 75 129Q78 124 85 129Q92 133 90 143Q88 154 83 155Z" fill="url(#nrg)"/><path d="M208 71Q204 72 203 73Q202 74 201 81Q200 88 204 97Q208 106 214 104Q221 103 222 101Q223 99 222 88Q221 76 216 74Q211 71 208 71Z" fill="url(#nrg2)"/><path d="M6 245Q3 243 2 235Q1 228 5 224Q8 220 13 221Q18 223 18 230Q19 236 15 242Q10 247 6 245Z" fill="url(#nrg)"/><path d="M158 -15Q158 -16 154 -19Q151 -21 143 -17Q134 -13 133 -9Q132 -4 135 0Q139 4 146 5Q152 5 156 -5Q159 -14 158 -15Z" fill="url(#nrg2)"/><path d="M89 235Q84 234 82 228Q79 222 83 217Q88 213 93 216Q98 219 98 224Q99 229 96 232Q93 236 89 235Z" fill="url(#nrg)"/><path d="M149 211Q155 207 157 208Q160 210 161 222Q162 234 162 234Q162 235 153 237Q145 239 144 238Q143 237 143 226Q143 215 149 211Z" fill="url(#nrg)"/><path d="M148 208Q154 204 152 195Q150 186 143 181Q136 177 134 177Q132 177 130 180Q129 182 129 193Q128 204 135 208Q142 212 148 208Z" fill="url(#nrg)"/><path d="M115 206Q121 207 123 205Q125 203 125 193Q126 182 121 181Q116 181 110 186Q105 191 107 198Q110 204 115 206Z" fill="url(#nrg)"/><path d="M155 194Q157 203 159 205Q161 207 167 205Q173 203 175 193Q177 182 171 178Q165 173 159 179Q154 185 155 194Z" fill="url(#nrg2)"/><path d="M24 160Q14 161 15 174Q16 188 19 189Q22 191 30 183Q38 175 36 167Q33 159 24 160Z" fill="url(#nrg2)"/><path d="M68 40Q72 41 76 51Q80 62 74 65Q68 69 63 61Q57 53 61 47Q65 40 68 40Z" fill="url(#nrg)"/><path d="M215 -7Q211 -13 216 -20Q222 -26 227 -26Q232 -25 234 -23Q235 -20 233 -12Q231 -5 225 -3Q219 -1 215 -7Z" fill="url(#nrg)"/><path d="M126 141Q130 135 127 127Q124 118 114 121Q105 124 105 126Q104 128 109 136Q114 145 118 146Q122 147 126 141Z" fill="url(#nrg)"/><path d="M18 78Q19 70 21 67Q23 65 29 65Q36 65 37 71Q39 77 37 87Q35 98 30 96Q25 95 21 91Q18 86 18 78Z" fill="url(#nrg2)"/><path d="M229 32Q227 37 232 48Q236 59 243 52Q249 46 249 46Q249 45 245 33Q241 21 236 24Q230 28 229 32Z" fill="url(#nrg2)"/><path d="M172 121Q172 126 169 127Q167 129 160 123Q153 116 152 113Q152 110 158 106Q164 101 169 109Q173 116 172 121Z" fill="url(#nrg2)"/><path d="M21 229Q22 236 29 240Q35 244 38 239Q41 234 41 226Q41 217 35 216Q29 214 25 219Q20 223 21 229Z" fill="url(#nrg)"/><path d="M180 237Q181 238 188 234Q194 230 193 222Q192 214 185 212Q179 211 178 223Q178 236 180 237Z" fill="url(#nrg)"/><path d="M123 219Q123 226 127 232Q131 237 136 237Q141 237 141 226Q141 215 134 211Q127 207 125 209Q123 211 123 219Z" fill="url(#nrg)"/><path d="M-33 7Q-31 6 -24 9Q-16 13 -18 20Q-19 26 -21 30Q-24 34 -31 27Q-37 21 -36 14Q-34 7 -33 7Z" fill="url(#nrg)"/><path d="M124 111Q125 107 116 99Q107 91 103 94Q99 98 102 109Q105 121 114 118Q123 115 124 111Z" fill="url(#nrg2)"/><path d="M233 125Q240 134 245 124Q249 114 246 110Q243 106 234 104Q226 102 224 104Q223 106 225 111Q226 116 233 125Z" fill="url(#nrg)"/><path d="M77 8Q81 14 88 13Q95 12 96 7Q96 2 90 -8Q85 -18 79 -12Q74 -5 73 -2Q72 2 77 8Z" fill="url(#nrg)"/><path d="M61 241Q62 240 64 230Q66 220 64 217Q63 215 55 214Q48 213 46 215Q44 217 44 226Q45 234 52 238Q59 242 61 241Z" fill="url(#nrg)"/><path d="M200 -10Q205 -15 202 -23Q198 -31 192 -29Q185 -28 184 -21Q183 -14 189 -9Q195 -5 200 -10Z" fill="url(#nrg)"/><path d="M102 53Q100 61 95 61Q90 60 91 51Q92 42 96 39Q99 37 101 41Q103 44 102 53Z" fill="url(#nrg)"/><path d="M-15 183Q-10 181 -9 171Q-8 161 -17 161Q-26 160 -30 166Q-33 172 -26 179Q-20 185 -15 183Z" fill="url(#nrg)"/><path d="M-26 -4Q-30 4 -23 8Q-16 11 -12 8Q-8 4 -15 -4Q-22 -12 -26 -4Z" fill="url(#nrg2)"/><path d="M8 139Q9 124 9 123Q8 122 -2 121Q-12 120 -14 123Q-15 125 -10 140Q-5 156 1 155Q7 153 8 139Z" fill="url(#nrg)"/><path d="M168 37Q167 35 158 36Q150 37 150 41Q150 44 156 53Q162 63 166 60Q171 57 171 57Q171 57 170 48Q169 39 168 37Z" fill="url(#nrg2)"/><path d="M209 146Q209 143 214 141Q219 139 226 143Q233 146 232 156Q231 165 227 168Q224 170 217 159Q209 148 209 146Z" fill="url(#nrg)"/><path d="M146 36Q146 36 141 33Q137 30 132 31Q126 33 125 39Q124 45 124 47Q125 48 131 50Q138 52 142 48Q146 43 146 40Q146 37 146 36Z" fill="url(#nrg)"/><path d="M-17 120Q-15 117 -16 110Q-17 103 -25 96Q-33 90 -36 91Q-39 93 -39 97Q-40 100 -35 110Q-30 119 -26 121Q-21 123 -20 122Q-18 122 -17 120Z" fill="url(#nrg)"/><path d="M102 223Q101 219 105 214Q109 209 115 210Q121 211 120 218Q119 226 115 229Q110 233 106 230Q103 228 102 223Z" fill="url(#nrg)"/><path d="M235 157Q233 166 242 170Q251 175 255 168Q260 161 258 156Q257 151 249 146Q241 141 239 144Q236 147 235 157Z" fill="url(#nrg2)"/><path d="M144 50Q140 55 142 63Q143 70 145 72Q148 74 152 73Q157 73 159 68Q160 64 154 55Q148 45 144 50Z" fill="url(#nrg)"/><path d="M161 71Q163 66 168 64Q173 61 176 67Q179 73 179 80Q179 88 173 90Q167 91 163 83Q160 75 161 71Z" fill="url(#nrg2)"/><path d="M104 70Q109 75 107 81Q105 87 101 91Q97 95 94 93Q90 92 88 79Q86 66 88 64Q90 63 95 64Q100 65 104 70Z" fill="url(#nrg2)"/><path d="M3 221Q0 225 -6 222Q-12 219 -11 216Q-10 212 -4 205Q2 198 2 198Q2 198 4 208Q7 217 3 221Z" fill="url(#nrg)"/><path d="M59 31Q62 38 59 45Q55 51 48 53Q42 54 40 43Q38 31 40 28Q42 25 49 25Q56 24 59 31Z" fill="url(#nrg)"/><path d="M144 76Q141 74 135 76Q129 78 130 89Q132 101 137 101Q141 101 144 89Q146 78 144 76Z" fill="url(#nrg)"/><path d="M62 128Q55 125 59 116Q62 108 68 110Q74 113 75 118Q76 122 73 127Q70 132 62 128Z" fill="url(#nrg2)"/><path d="M181 37Q190 35 192 36Q193 38 193 38Q193 38 193 44Q192 49 183 53Q173 57 173 48Q172 38 181 37Z" fill="url(#nrg)"/><path d="M182 182Q180 183 178 193Q176 204 178 206Q179 207 186 209Q192 211 192 210Q193 209 193 202Q193 195 188 188Q183 181 182 182Z" fill="url(#nrg)"/><path d="M2 195Q3 195 8 191Q14 188 13 174Q12 161 10 159Q7 157 2 158Q-4 159 -5 160Q-6 161 -6 172Q-7 182 -2 188Q2 194 2 195Z" fill="url(#nrg2)"/><path d="M80 26Q78 34 84 36Q91 39 94 37Q98 34 99 28Q99 21 98 18Q96 15 89 16Q82 18 80 26Z" fill="url(#nrg2)"/><path d="M145 178Q152 182 157 176Q163 170 162 165Q161 159 160 155Q158 152 153 151Q149 150 143 162Q137 174 145 178Z" fill="url(#nrg2)"/><path d="M238 7Q242 17 248 14Q254 11 255 6Q256 1 253 -8Q251 -16 244 -18Q238 -19 236 -11Q234 -3 238 7Z" fill="url(#nrg)"/><path d="M137 134Q141 135 145 126Q149 117 148 114Q148 111 145 108Q141 105 137 105Q133 105 131 107Q129 109 128 113Q127 117 130 125Q133 133 137 134Z" fill="url(#nrg)"/><path d="M213 15Q217 11 222 18Q227 26 226 30Q224 34 221 34Q218 35 214 26Q210 18 213 15Z" fill="url(#nrg)"/><path d="M194 1Q194 -3 188 -7Q182 -11 178 -10Q175 -8 176 2Q177 12 181 14Q185 16 190 10Q194 5 194 1Z" fill="url(#nrg)"/><path d="M24 7Q25 4 32 3Q39 2 40 12Q40 22 38 26Q36 29 32 27Q28 25 25 17Q23 9 24 7Z" fill="url(#nrg)"/><path d="M117 -2Q121 1 120 10Q118 19 110 19Q102 19 100 16Q99 13 100 8Q100 3 106 -1Q112 -5 117 -2Z" fill="url(#nrg)"/><path d="M79 174Q82 188 76 189Q70 189 66 183Q62 177 66 168Q69 159 70 159Q71 158 74 159Q77 161 79 174Z" fill="url(#nrg)"/><path d="M188 175Q191 170 192 170Q193 170 202 177Q210 184 210 186Q209 187 202 190Q195 192 190 186Q185 180 188 175Z" fill="url(#nrg)"/><path d="M84 193Q83 192 76 193Q70 194 68 203Q65 212 67 214Q69 216 73 217Q77 218 81 214Q86 209 85 201Q85 193 84 193Z" fill="url(#nrg)"/><path d="M34 137Q30 126 34 119Q38 111 44 119Q50 126 48 135Q45 143 41 145Q38 148 34 137Z" fill="url(#nrg)"/><path d="M-15 20Q-14 14 -11 10Q-7 6 -5 6Q-3 6 -1 9Q1 13 1 16Q2 19 -2 25Q-5 30 -10 29Q-16 27 -15 20Z" fill="url(#nrg2)"/><path d="M91 191Q88 193 88 201Q89 209 94 213Q99 216 103 211Q107 206 104 199Q102 193 98 191Q95 189 91 191Z" fill="url(#nrg)"/><path d="M229 171Q232 169 241 173Q250 178 251 185Q252 193 246 198Q239 202 235 201Q232 200 227 190Q223 181 224 177Q225 174 229 171Z" fill="url(#nrg)"/><path d="M153 77Q148 78 146 90Q143 101 147 104Q150 108 157 103Q163 98 163 95Q164 93 161 84Q157 76 153 77Z" fill="url(#nrg2)"/><path d="M14 218Q9 216 7 207Q4 198 10 195Q15 191 18 193Q21 195 24 203Q27 211 23 215Q18 220 14 218Z" fill="url(#nrg)"/><path d="M114 71Q118 69 120 59Q121 50 121 49Q121 47 113 46Q106 45 104 53Q102 62 106 67Q110 73 114 71Z" fill="url(#nrg)"/><path d="M109 -14Q108 -19 103 -23Q98 -26 93 -24Q87 -21 87 -20Q87 -19 93 -10Q99 0 104 -4Q110 -9 109 -14Z" fill="url(#nrg)"/><path d="M65 -17Q58 -26 58 -29Q58 -33 68 -34Q77 -35 80 -29Q83 -22 83 -21Q83 -20 77 -14Q72 -9 65 -17Z" fill="url(#nrg2)"/><path d="M-1 65Q2 68 9 67Q17 67 19 65Q21 62 17 55Q12 47 6 47Q1 48 -2 52Q-4 55 -4 58Q-4 62 -1 65Z" fill="url(#nrg)"/><path d="M-2 118Q-12 117 -12 110Q-13 103 -10 99Q-7 95 -3 94Q2 94 2 94Q3 94 6 105Q8 115 8 117Q8 119 -2 118Z" fill="url(#nrg)"/><path d="M19 126Q27 128 31 138Q36 149 34 152Q33 156 23 157Q14 157 11 155Q9 154 10 139Q12 125 19 126Z" fill="url(#nrg2)"/><path d="M221 38Q225 38 230 49Q235 59 234 61Q234 63 228 68Q222 73 217 70Q212 67 213 55Q214 44 216 41Q218 39 221 38Z" fill="url(#nrg)"/><path d="M197 60Q202 69 201 70Q200 71 191 71Q182 70 178 65Q174 59 174 59Q174 59 183 55Q192 52 197 60Z" fill="url(#nrg)"/><path d="M-23 221Q-19 223 -20 233Q-21 243 -25 243Q-30 243 -34 237Q-38 230 -33 224Q-28 219 -23 221Z" fill="url(#nrg2)"/><path d="M45 117Q52 124 53 124Q53 124 57 115Q60 107 59 105Q59 103 48 103Q38 102 39 106Q39 109 45 117Z" fill="url(#nrg2)"/><path d="M191 134Q198 131 198 125Q198 120 192 115Q186 111 181 114Q176 118 175 122Q174 127 179 132Q184 137 191 134Z" fill="url(#nrg)"/><path d="M68 154Q68 155 58 149Q48 144 51 136Q53 128 54 128Q55 128 61 131Q68 135 69 144Q69 154 68 154Z" fill="url(#nrg)"/><path d="M65 3Q61 5 54 -1Q46 -8 51 -16Q56 -25 63 -16Q70 -7 70 -3Q69 1 65 3Z" fill="url(#nrg2)"/><path d="M65 75Q65 79 63 81Q61 83 51 79Q42 76 40 70Q39 64 41 61Q42 57 49 56Q56 55 61 63Q66 71 65 75Z" fill="url(#nrg)"/><path d="M5 15Q4 13 12 12Q20 11 23 18Q25 25 20 29Q15 32 10 25Q5 18 5 15Z" fill="url(#nrg)"/><path d="M27 202Q24 193 32 185Q40 177 42 179Q44 182 45 196Q46 210 44 212Q42 214 36 212Q30 210 27 202Z" fill="url(#nrg)"/><path d="M199 12Q196 7 191 12Q187 18 189 25Q191 32 193 33Q195 35 199 26Q203 18 199 12Z" fill="url(#nrg)"/><path d="M161 -17Q160 -18 165 -30Q170 -43 174 -41Q178 -40 180 -34Q183 -29 182 -21Q181 -14 177 -12Q174 -11 168 -13Q161 -16 161 -17Z" fill="url(#nrg)"/><path d="M94 157Q98 160 101 160Q103 160 108 154Q112 147 107 138Q102 129 98 132Q95 134 93 144Q91 154 94 157Z" fill="url(#nrg)"/><path d="M63 186Q60 179 53 180Q47 181 47 196Q48 210 55 211Q63 211 65 202Q67 192 63 186Z" fill="url(#nrg)"/><path d="M116 75Q119 73 123 76Q126 79 128 90Q130 101 128 103Q126 105 117 97Q109 89 110 83Q112 77 116 75Z" fill="url(#nrg2)"/><path d="M204 136Q207 140 213 138Q218 136 220 126Q223 116 222 111Q221 106 215 108Q208 109 205 115Q201 120 201 126Q201 131 204 136Z" fill="url(#nrg)"/><path d="M86 93Q89 93 86 79Q84 66 82 65Q81 65 75 68Q69 72 69 76Q68 80 76 87Q84 94 86 93Z" fill="url(#nrg2)"/><path d="M-14 214Q-15 218 -16 219Q-17 220 -22 218Q-26 215 -28 209Q-30 204 -25 200Q-21 197 -18 204Q-14 211 -14 214Z" fill="url(#nrg)"/><path d="M97 175Q96 186 99 187Q103 189 108 183Q114 178 109 171Q104 164 101 164Q98 164 97 175Z" fill="url(#nrg2)"/><path d="M1 26Q3 20 8 27Q13 34 12 39Q11 43 6 44Q0 45 -1 39Q-2 32 1 26Z" fill="url(#nrg)"/><path d="M134 173Q136 173 141 161Q147 148 144 144Q141 139 136 138Q132 137 128 143Q124 149 128 161Q131 174 134 173Z" fill="url(#nrg)"/><path d="M-5 -26Q3 -20 0 -9Q-4 2 -5 2Q-7 3 -14 -6Q-20 -14 -21 -17Q-21 -19 -18 -26Q-14 -32 -5 -26Z" fill="url(#nrg2)"/><path d="M185 159Q182 152 173 155Q165 158 166 164Q166 170 173 174Q179 179 181 178Q182 177 186 172Q189 167 185 159Z" fill="url(#nrg)"/><path d="M206 19Q207 19 212 28Q216 36 214 38Q212 41 204 38Q196 36 196 36Q196 36 201 28Q205 19 206 19Z" fill="url(#nrg2)"/><path d="M145 7Q152 8 152 9Q153 9 150 21Q147 33 143 30Q138 26 138 17Q139 7 145 7Z" fill="url(#nrg)"/><path d="M208 -12Q209 -12 213 -5Q217 1 216 5Q216 8 212 12Q208 16 206 16Q205 16 201 10Q197 5 197 1Q197 -3 202 -8Q206 -13 208 -12Z" fill="url(#nrg)"/><path d="M57 14Q56 20 49 21Q42 22 42 12Q41 2 43 -1Q45 -5 45 -5Q45 -5 52 1Q59 8 57 14Z" fill="url(#nrg)"/><path d="M-11 31Q-17 29 -19 32Q-22 35 -22 38Q-22 40 -14 46Q-6 52 -4 49Q-2 45 -4 39Q-5 33 -11 31Z" fill="url(#nrg)"/><path d="M191 73Q199 74 198 80Q196 87 191 89Q185 91 183 90Q182 88 182 81Q182 73 191 73Z" fill="url(#nrg)"/><path d="M134 2Q130 -2 127 -1Q124 1 122 10Q120 20 123 25Q125 30 131 28Q136 26 137 16Q137 6 134 2Z" fill="url(#nrg)"/><path d="M120 27Q118 22 110 22Q102 22 102 28Q102 35 104 38Q106 41 113 43Q121 44 122 38Q123 31 120 27Z" fill="url(#nrg2)"/><path d="M180 111Q184 108 184 102Q183 95 181 94Q180 92 174 93Q168 94 167 97Q167 100 171 107Q175 115 180 111Z" fill="url(#nrg)"/><path d="M22 -7Q24 2 31 1Q39 0 41 -4Q43 -7 37 -15Q31 -23 25 -19Q19 -15 22 -7Z" fill="url(#nrg)"/><path d="M154 147Q149 146 146 141Q144 137 148 128Q151 119 158 125Q165 131 162 140Q159 149 154 147Z" fill="url(#nrg2)"/><path d="M227 140Q234 144 236 141Q239 138 239 137Q239 135 231 126Q224 117 222 126Q220 136 227 140Z" fill="url(#nrg)"/><path d="M219 6Q218 9 224 17Q229 25 235 22Q240 19 240 18Q240 17 236 8Q232 -2 226 0Q219 2 219 6Z" fill="url(#nrg)"/><path d="M76 38Q78 36 84 39Q90 42 89 51Q88 60 87 61Q85 62 83 62Q81 61 78 50Q74 40 76 38Z" fill="url(#nrg)"/><path d="M187 26Q184 19 180 17Q176 15 173 18Q170 22 170 27Q169 32 170 35Q172 37 181 35Q189 33 187 26Z" fill="url(#nrg)"/><path d="M3 80Q2 71 10 70Q17 70 16 78Q14 85 10 88Q5 90 4 90Q4 90 3 80Z" fill="url(#nrg)"/><path d="M11 91Q5 93 8 104Q10 115 17 106Q23 97 19 93Q16 89 11 91Z" fill="url(#nrg)"/><path d="M-3 68Q0 71 1 80Q2 90 -3 90Q-8 91 -10 82Q-13 73 -9 69Q-6 65 -3 68Z" fill="url(#nrg)"/><path d="M19 123Q27 125 31 117Q36 109 36 105Q36 102 35 101Q35 100 30 99Q25 99 18 107Q11 116 11 118Q10 120 11 121Q12 122 19 123Z" fill="url(#nrg)"/><path d="M193 113Q199 118 203 112Q206 107 202 98Q197 90 192 92Q186 95 187 101Q187 108 193 113Z" fill="url(#nrg)"/><path d="M195 202Q195 209 202 208Q208 207 209 198Q210 189 203 192Q196 195 195 202Z" fill="url(#nrg2)"/><path d="M-12 141Q-17 125 -19 126Q-21 126 -24 138Q-28 150 -27 153Q-26 156 -17 158Q-8 159 -7 158Q-6 157 -12 141Z" fill="url(#nrg2)"/><path d="M85 188Q84 188 81 174Q78 160 84 159Q89 157 92 161Q96 164 95 175Q94 185 90 187Q87 189 85 188Z" fill="url(#nrg)"/><path d="M49 100Q59 101 59 93Q60 86 51 82Q41 78 40 88Q38 98 38 99Q39 100 49 100Z" fill="url(#nrg2)"/><path d="M177 223Q177 235 171 234Q165 233 163 222Q162 210 168 209Q174 208 175 209Q177 211 177 223Z" fill="url(#nrg)"/></g>
<path d="M92.4 46.8h0M98.9 44h0M30.7 42.6h0M17.9 15.2h0M27.7 26.5h0M44.5 30.8h0M49.1 1h0M48.4 7h0M45.5 20.2h0M50.2 10.1h0M106.2 92.2h0M40.5 31.4h0M33.9 35.4h0M38.6 61.3h0M42.3 48.2h0M48.5 48.3h0M44.9 47.1h0M82.3 49.5h0M75 54.8h0M75.5 58.3h0M83 46.4h0M90.1 44.8h0M90.3 35.8h0M86.3 29.3h0M97.3 18.5h0M63.6 38.3h0M70.9 51.2h0M65.9 51.3h0M79 37.1h0M73.9 38.1h0M71 36.1h0M61.5 24.6h0M52.5 21.5h0M55.2 37.3h0M68.6 13.8h0M62.4 15.6h0M59.5 10.4h0M74.2 18.1h0M73.9 17.5h0M87.1 102.6h0M105.3 93.9h0M13.5 13.1h0M11.4 31.5h0M18.5 50.4h0M29.9 51.1h0M83.5 65.2h0M51 63.5h0M65.7 67.5h0M70.9 68.7h0M106.5 21.1h0M105.8 34.4h0M61.6 -0.3h0M87.7 6.7h0M95.3 16.8h0M6.3 22.4h0M9.2 34.2h0M87.3 58.4h0M93 54.5h0M79.6 75.3h0M74.1 73.7h0M19.8 0.3h0M35.1 66.8h0M22.7 90h0M4.6 60.5h0M92 69.1h0M103.6 74.2h0M51.9 81h0M58.1 89.2h0M51.3 95.4h0M82.4 85.6h0M91.5 89.6h0M89.5 90.4h0M63.7 90.1h0M65.6 87.7h0M75.9 92.1h0M108.8 18.5h0M10.8 4.5h0M11.8 1.4h0M18.6 54.6h0M34.5 95.9h0M11 96.6h0M7.6 94.7h0M102.5 8.6h0M98 2.5h0M30.7 3.5h0M32.1 19.2h0M38.5 17.3h0M1.5 8.9h0M1.2 5.7h0M18.7 74.8h0M6.5 79.5h0M38.6 79.1h0M48.6 81.3h0M47.4 93.6h0M43.2 95.8h0M41.8 94.9h0M1 98.1h0" stroke="#2e2eac" stroke-width="1.9" stroke-linecap="round"/>
<path d="M33.6 11.2h0M24 81.4h0M117.1 109.9h0M-10.1 43.3h0M60.9 -6.7h0M97.6 75.2h0M83 1.2h0M117.6 43.1h0M101.7 109.3h0M59.4 83.4h0M4.4 -1.3h0M23.1 -13.9h0M74 -3.4h0M68.8 95.7h0M59.5 97.8h0M82 96.5h0M113.3 -8.2h0M119.8 19.5h0M82.3 58.1h0M16 113.1h0M41.4 0.5h0M27.6 112.3h0M48.1 25.3h0M-0.1 66.2h0M82.4 24.1h0M67.3 19.4h0M-13 54.3h0M74 32.6h0M49.3 39.6h0M23.9 17.9h0M69.3 43h0M34.2 60.4h0M92.7 21.7h0M92.6 99.3h0M0.9 87.3h0M123.7 0h0M91.7 1.7h0M48.6 100.4h0M57.5 28h0M49.5 -7.1h0M35.6 -12.7h0M94.5 31h0M-14 115h0M25.6 55.3h0M93.9 62.1h0M29.4 70.4h0M30.9 -2.8h0M7.4 9.5h0M19.4 98.8h0M97.4 9.9h0M60.8 43.8h0M-6.2 -6.2h0M103.1 14.8h0M103 1.7h0M-6.9 19.3h0M94.5 42.1h0M65.3 6.1h0M88.2 49.6h0M115.1 66.9h0M88.1 13.4h0M98.2 51.7h0M101.2 99.2h0M-9.6 72.4h0M85.6 109h0" stroke="#a8a8e4" stroke-width="4.2" stroke-linecap="round" opacity="0.8"/>
<path d="M33.6 11.2h0M24 81.4h0M117.1 109.9h0M-10.1 43.3h0M60.9 -6.7h0M97.6 75.2h0M83 1.2h0M117.6 43.1h0M101.7 109.3h0M59.4 83.4h0M4.4 -1.3h0M23.1 -13.9h0M74 -3.4h0M68.8 95.7h0M59.5 97.8h0M82 96.5h0M113.3 -8.2h0M119.8 19.5h0M82.3 58.1h0M16 113.1h0M41.4 0.5h0M27.6 112.3h0M48.1 25.3h0M-0.1 66.2h0M82.4 24.1h0M67.3 19.4h0M-13 54.3h0M74 32.6h0M49.3 39.6h0M23.9 17.9h0M69.3 43h0M34.2 60.4h0M92.7 21.7h0M92.6 99.3h0M0.9 87.3h0M123.7 0h0M91.7 1.7h0M48.6 100.4h0M57.5 28h0M49.5 -7.1h0M35.6 -12.7h0M94.5 31h0M-14 115h0M25.6 55.3h0M93.9 62.1h0M29.4 70.4h0M30.9 -2.8h0M7.4 9.5h0M19.4 98.8h0M97.4 9.9h0M60.8 43.8h0M-6.2 -6.2h0M103.1 14.8h0M103 1.7h0M-6.9 19.3h0M94.5 42.1h0M65.3 6.1h0M88.2 49.6h0M115.1 66.9h0M88.1 13.4h0M98.2 51.7h0M101.2 99.2h0M-9.6 72.4h0M85.6 109h0" stroke="#3a3ab4" stroke-width="1.2" stroke-linecap="round"/>
<rect width="109.30" height="102.00" fill="#000" filter="url(#drgn)"/>
<path d="M50 77.8h0M99.9 66.9h0M28.2 30.8h0M62.9 93.7h0M102.5 100h0M23.2 15.5h0M0.5 69.7h0M26.5 74.8h0M93.5 74.4h0M68.7 72.3h0M78.4 1.2h0M71.1 83.4h0M34 74.4h0M94.1 49.6h0M40.2 58.6h0M76.9 84.4h0M65.7 31.5h0M31 0.2h0M74.8 93.2h0M50.9 21.1h0M82.1 80.7h0M96.7 53.2h0M64.4 19.3h0M19.7 71.5h0M37.7 53h0M53.2 57.9h0M27.8 3.9h0M19.8 8.5h0M60.9 88.8h0M103.5 92.8h0M65.4 40.5h0M43 45.7h0M105.6 101.2h0M4.2 26.1h0M70.7 100.5h0M82.8 10.8h0M28.1 12.7h0M18.4 24.3h0M97.1 14.3h0M68.7 46.1h0M15.6 22.6h0M78 56.4h0M95.2 27.2h0M36.6 17.1h0M34.8 92.1h0M73 21.5h0M31.3 26.3h0M101.1 10h0M32.1 99.8h0M88.2 34.8h0M23.9 58.3h0M21.5 8.1h0M66.5 50.5h0M88.7 59.5h0M7.2 74.7h0M52.1 88.9h0M20.3 84.8h0M0.5 53h0M89.2 88.3h0M24.5 18.6h0M27.4 83.3h0M10.5 71.3h0M57.2 71.7h0M95 73.1h0" stroke="#3434b2" stroke-width="1.3" stroke-linecap="round"/>
<path d="M74.4 21.7h0M19.8 3.8h0M89.9 80.2h0M34.8 43.9h0M102.1 5.6h0M4.3 12.1h0M1.5 39.5h0M45.1 10.4h0M105.6 9h0M14.1 1.8h0M5.5 79h0M101.9 25.9h0M74 14.8h0M39.7 65.8h0M45.7 39.3h0M103.3 80h0M32 6.2h0M66.2 99.7h0M97.1 38.4h0M65.8 91.4h0M46.2 59.8h0M97 4.3h0M88.7 88.5h0M29.9 86.8h0M9.3 56.5h0M21.9 76.5h0M25.6 61.9h0M9.6 82.3h0M25.5 59.1h0M61.7 41.1h0M16.3 4.5h0M40.9 10.8h0M86.1 15.9h0M3.7 101h0M85.2 43.4h0M83.9 83.5h0M104.9 26.2h0M70 97.6h0M98.7 92.3h0M5.1 80.2h0M15.8 77h0M74 30.5h0M74.1 1.3h0M21.3 3.7h0M24.1 95.3h0M10.6 94.7h0M90 48.7h0M17 27.7h0M107 5.8h0M39.8 101.1h0M98 5.9h0M0.2 84.9h0M20.3 44.4h0M19.7 78.6h0M22.5 62.5h0M78.9 5.6h0M36.6 85.9h0M53.9 1.6h0M17.9 37.9h0M56.4 12.3h0M77.7 38.9h0M6.7 89h0M54.1 52.4h0M58.7 2.1h0M1.9 61.1h0M13.4 50.3h0" stroke="#3434b2" stroke-width="1.8" stroke-linecap="round"/>
</svg>
<svg x="576.4" y="636.6" width="108.60" height="102.00" overflow="hidden">
<rect width="108.60" height="102.00" fill="#cacaee"/>
<g transform="scale(0.5)" stroke="#3c3cbe" stroke-width="1"><path d="M223 17Q223 17 215 24Q208 31 206 35Q204 39 212 47Q220 54 222 51Q223 49 225 36Q227 24 225 21Q223 17 223 17Z" fill="url(#nrg)"/><path d="M228 8Q231 2 238 -4Q245 -9 249 -4Q254 1 252 9Q250 16 247 20Q243 23 236 22Q229 21 227 18Q225 15 228 8Z" fill="url(#nrg)"/><path d="M58 94Q52 96 50 102Q48 108 49 114Q50 119 55 122Q59 125 63 122Q67 120 68 109Q68 98 66 95Q64 93 58 94Z" fill="url(#nrg2)"/><path d="M85 -27Q78 -22 77 -21Q76 -19 78 -14Q79 -10 87 -11Q96 -12 96 -20Q96 -27 94 -29Q93 -31 85 -27Z" fill="url(#nrg2)"/><path d="M-4 -28Q1 -30 7 -20Q12 -9 9 -4Q5 1 0 3Q-6 5 -10 -8Q-13 -21 -11 -24Q-9 -27 -4 -28Z" fill="url(#nrg2)"/><path d="M-5 76Q-1 70 -4 62Q-6 54 -8 54Q-10 54 -17 60Q-24 67 -25 74Q-26 82 -26 83Q-25 83 -17 82Q-9 82 -5 76Z" fill="url(#nrg)"/><path d="M103 55Q107 58 111 54Q115 50 115 42Q115 33 112 31Q108 28 105 33Q101 38 100 46Q100 53 103 55Z" fill="url(#nrg2)"/><path d="M31 88Q31 89 30 98Q29 107 37 107Q45 107 47 101Q49 94 47 90Q44 86 38 86Q32 87 31 88Z" fill="url(#nrg)"/><path d="M160 122Q160 113 170 109Q179 105 181 114Q183 123 180 129Q177 135 174 137Q171 139 166 135Q160 131 160 122Z" fill="url(#nrg)"/><path d="M107 -11Q99 -9 99 1Q100 11 104 14Q107 17 116 5Q125 -7 125 -8Q125 -8 120 -11Q114 -13 107 -11Z" fill="url(#nrg)"/><path d="M245 117Q242 117 236 125Q231 132 231 134Q232 136 241 139Q249 141 253 134Q256 126 251 122Q247 117 245 117Z" fill="url(#nrg2)"/><path d="M126 215Q122 212 121 207Q120 202 124 198Q127 195 132 194Q137 192 143 197Q148 201 139 210Q129 218 126 215Z" fill="url(#nrg)"/><path d="M216 136Q223 132 225 133Q227 134 228 136Q229 138 226 152Q223 167 217 166Q210 166 207 158Q203 151 206 145Q209 139 216 136Z" fill="url(#nrg)"/><path d="M213 107Q216 107 219 118Q222 129 215 133Q208 136 205 129Q202 121 206 115Q209 108 213 107Z" fill="url(#nrg)"/><path d="M83 81Q83 92 77 93Q71 94 69 92Q67 90 70 79Q73 68 76 67Q79 65 80 66Q82 67 83 69Q84 71 83 81Z" fill="url(#nrg)"/><path d="M92 183Q98 178 97 169Q96 159 90 155Q85 150 84 151Q84 151 81 162Q78 174 82 180Q86 187 92 183Z" fill="url(#nrg)"/><path d="M149 108Q147 107 140 114Q133 120 133 127Q133 134 139 137Q145 140 151 136Q157 132 157 123Q157 113 154 111Q151 108 149 108Z" fill="url(#nrg2)"/><path d="M-9 148Q-10 154 3 154Q16 154 16 153Q17 152 17 144Q16 136 10 132Q3 128 1 129Q-2 129 -5 135Q-9 141 -9 148Z" fill="url(#nrg)"/><path d="M82 148Q82 148 72 149Q63 150 61 147Q59 144 60 136Q61 128 65 126Q68 124 74 125Q81 126 83 131Q85 136 84 142Q83 147 82 148Z" fill="url(#nrg)"/><path d="M161 8Q170 2 170 -1Q171 -5 170 -8Q168 -11 161 -8Q155 -6 153 3Q150 12 151 13Q152 14 161 8Z" fill="url(#nrg)"/><path d="M166 77Q167 76 173 66Q179 55 176 52Q173 50 164 51Q156 51 155 56Q153 61 156 67Q158 73 161 75Q164 77 166 77Z" fill="url(#nrg)"/><path d="M176 9Q178 16 181 16Q185 16 190 11Q195 6 197 4Q198 1 198 0Q198 -2 196 -5Q194 -7 184 -6Q174 -5 174 -1Q173 2 176 9Z" fill="url(#nrg)"/><path d="M226 182Q227 191 224 196Q220 201 214 200Q207 199 203 192Q200 184 205 177Q210 170 216 170Q222 170 223 171Q224 173 226 182Z" fill="url(#nrg)"/><path d="M95 102Q96 102 103 108Q109 115 106 121Q104 128 96 131Q88 133 86 129Q84 124 89 113Q94 102 95 102Z" fill="url(#nrg2)"/><path d="M173 20Q171 23 163 25Q156 26 155 21Q153 16 162 10Q170 4 173 11Q175 17 173 20Z" fill="url(#nrg)"/><path d="M8 35Q5 37 -3 26Q-10 16 -8 12Q-6 9 0 7Q6 5 10 15Q14 24 12 29Q10 34 8 35Z" fill="url(#nrg)"/><path d="M198 44Q202 42 210 49Q218 56 218 59Q218 61 216 64Q215 66 206 72Q198 78 192 66Q186 54 190 49Q194 45 198 44Z" fill="url(#nrg)"/><path d="M31 213Q32 217 38 218Q44 220 47 218Q50 216 52 208Q54 200 49 199Q43 197 36 204Q29 210 31 213Z" fill="url(#nrg)"/><path d="M138 111Q145 105 141 97Q138 89 133 86Q128 82 127 83Q126 84 124 97Q122 109 127 113Q131 117 138 111Z" fill="url(#nrg2)"/><path d="M37 140Q38 130 32 129Q26 128 23 132Q20 136 20 144Q20 152 27 151Q35 150 37 140Z" fill="url(#nrg)"/><path d="M26 53Q25 49 33 39Q40 29 46 36Q52 44 51 49Q51 54 39 56Q27 57 26 53Z" fill="url(#nrg2)"/><path d="M91 203Q95 212 103 206Q111 199 107 191Q103 182 101 182Q100 181 94 186Q87 190 87 192Q86 194 91 203Z" fill="url(#nrg)"/><path d="M150 -12Q154 -9 161 -11Q167 -14 168 -20Q169 -26 160 -27Q152 -28 149 -21Q146 -15 150 -12Z" fill="url(#nrg)"/><path d="M-14 214Q-21 216 -24 221Q-27 226 -27 227Q-27 229 -21 235Q-15 241 -15 241Q-14 241 -8 234Q-1 226 -1 224Q0 221 -4 217Q-7 212 -14 214Z" fill="url(#nrg)"/><path d="M132 4Q135 13 132 20Q128 26 123 28Q117 30 114 27Q110 25 110 22Q109 18 118 7Q127 -5 128 -5Q128 -5 132 4Z" fill="url(#nrg)"/><path d="M238 163Q227 169 226 168Q225 167 228 153Q231 139 240 141Q249 144 249 148Q250 152 249 155Q248 158 238 163Z" fill="url(#nrg)"/><path d="M36 154Q35 153 27 154Q19 155 19 156Q18 157 18 160Q18 163 23 171Q28 179 33 177Q38 176 39 174Q41 172 38 163Q36 154 36 154Z" fill="url(#nrg)"/><path d="M224 -8Q218 -15 219 -19Q220 -23 228 -25Q236 -27 240 -21Q244 -16 244 -14Q243 -11 236 -7Q229 -2 224 -8Z" fill="url(#nrg)"/><path d="M29 74Q25 65 26 63Q27 60 39 58Q50 57 51 58Q51 59 48 71Q44 82 38 83Q32 83 29 74Z" fill="url(#nrg)"/><path d="M21 92Q28 89 28 98Q27 107 26 108Q25 110 19 108Q14 106 12 102Q11 98 12 97Q13 95 21 92Z" fill="url(#nrg)"/><path d="M171 234Q178 242 180 241Q183 241 188 233Q193 226 192 223Q191 221 187 218Q183 215 173 221Q163 227 171 234Z" fill="url(#nrg)"/><path d="M233 195Q235 195 240 205Q245 214 242 220Q239 226 239 226Q238 226 230 224Q223 222 223 213Q223 204 227 199Q230 194 233 195Z" fill="url(#nrg)"/><path d="M155 201Q155 201 158 213Q162 225 162 225Q162 225 172 219Q181 212 182 200Q182 188 181 188Q181 188 168 194Q156 201 155 201Z" fill="url(#nrg)"/><path d="M184 113Q186 122 193 121Q199 119 203 113Q207 106 200 98Q194 91 189 94Q184 97 183 101Q182 104 184 113Z" fill="url(#nrg)"/><path d="M49 196Q43 194 42 186Q41 178 42 176Q43 174 50 173Q57 171 58 174Q60 176 58 186Q56 197 56 197Q55 198 49 196Z" fill="url(#nrg)"/><path d="M46 14Q51 9 58 11Q64 13 63 23Q62 32 58 37Q54 42 48 34Q43 27 42 23Q41 18 46 14Z" fill="url(#nrg2)"/><path d="M171 -20Q171 -13 172 -10Q173 -7 184 -8Q194 -9 194 -17Q193 -24 188 -28Q183 -32 177 -30Q172 -27 172 -27Q172 -27 171 -20Z" fill="url(#nrg)"/><path d="M66 -16Q73 -17 75 -13Q76 -8 74 -2Q72 5 69 7Q66 10 59 7Q52 5 52 -1Q53 -7 55 -11Q58 -15 66 -16Z" fill="url(#nrg)"/><path d="M138 140Q144 143 143 153Q143 162 141 164Q139 165 131 165Q123 165 123 165Q123 165 122 156Q121 147 126 142Q131 136 138 140Z" fill="url(#nrg2)"/><path d="M102 178Q100 177 100 168Q99 158 106 153Q114 147 116 148Q118 148 119 157Q120 166 112 172Q104 178 102 178Z" fill="url(#nrg2)"/><path d="M78 196Q82 193 83 191Q84 189 80 182Q75 176 69 176Q62 176 60 187Q58 197 65 199Q73 200 78 196Z" fill="url(#nrg2)"/><path d="M-23 209Q-24 205 -22 196Q-20 187 -12 191Q-5 194 -6 202Q-7 209 -15 211Q-22 213 -23 209Z" fill="url(#nrg)"/><path d="M207 -10Q200 -4 198 -7Q196 -10 196 -17Q196 -25 200 -28Q204 -32 210 -29Q216 -26 216 -25Q216 -25 215 -20Q214 -15 207 -10Z" fill="url(#nrg)"/><path d="M133 36Q137 42 132 49Q128 56 123 53Q119 50 118 41Q117 33 123 32Q129 30 133 36Z" fill="url(#nrg)"/><path d="M153 68Q155 74 148 80Q140 86 135 82Q130 79 131 76Q132 72 142 67Q151 62 153 68Z" fill="url(#nrg2)"/><path d="M221 117Q219 106 222 102Q225 98 229 98Q234 98 236 106Q239 115 234 123Q229 130 226 129Q224 129 221 117Z" fill="url(#nrg)"/><path d="M16 66Q11 69 6 68Q2 68 -1 60Q-3 53 1 47Q6 41 8 40Q11 39 16 45Q22 51 22 55Q23 58 22 61Q21 63 16 66Z" fill="url(#nrg)"/><path d="M79 51Q79 40 79 40Q79 39 72 37Q65 35 60 40Q56 44 55 49Q54 54 54 56Q55 57 63 61Q72 64 75 63Q78 61 79 51Z" fill="url(#nrg2)"/><path d="M152 139Q158 135 164 138Q170 142 167 152Q165 162 161 164Q158 166 152 164Q146 162 146 152Q147 143 152 139Z" fill="url(#nrg)"/><path d="M99 86Q99 95 109 88Q120 81 113 76Q107 71 103 74Q100 77 99 86Z" fill="url(#nrg)"/><path d="M4 224Q4 221 12 215Q21 209 24 210Q26 212 27 215Q29 219 26 227Q23 235 23 235Q23 235 16 234Q9 233 6 230Q3 226 4 224Z" fill="url(#nrg)"/><path d="M204 160Q207 167 202 174Q197 181 190 183Q184 185 184 184Q183 184 182 178Q181 173 187 163Q193 153 197 153Q200 153 204 160Z" fill="url(#nrg2)"/><path d="M222 58Q222 56 223 54Q225 51 234 48Q243 45 248 48Q253 51 253 55Q254 58 248 64Q242 69 232 65Q221 61 222 58Z" fill="url(#nrg2)"/><path d="M115 -25Q113 -34 115 -38Q116 -42 119 -43Q122 -44 126 -41Q130 -37 128 -24Q126 -11 121 -14Q116 -17 115 -25Z" fill="url(#nrg2)"/><path d="M145 194Q140 189 141 179Q141 169 143 167Q145 165 151 167Q157 169 155 184Q153 198 153 198Q152 199 151 199Q150 199 145 194Z" fill="url(#nrg)"/><path d="M233 191Q236 192 246 187Q257 181 253 171Q249 160 238 166Q228 171 229 181Q231 191 233 191Z" fill="url(#nrg)"/><path d="M49 0Q49 5 44 11Q39 16 36 15Q33 13 29 2Q26 -10 29 -14Q31 -17 40 -12Q49 -6 49 0Z" fill="url(#nrg2)"/><path d="M-3 202Q-2 195 1 191Q4 188 11 192Q18 196 19 201Q20 206 11 212Q2 218 -1 214Q-4 209 -3 202Z" fill="url(#nrg)"/><path d="M27 3Q24 -9 19 -8Q15 -7 12 -2Q8 4 12 13Q16 23 24 19Q31 14 27 3Z" fill="url(#nrg)"/><path d="M208 75Q199 81 198 85Q196 88 203 96Q209 103 213 103Q216 102 219 99Q223 95 219 82Q216 70 208 75Z" fill="url(#nrg)"/><path d="M156 108Q153 105 159 93Q165 81 166 80Q167 80 174 88Q181 96 180 99Q178 102 169 106Q159 110 156 108Z" fill="url(#nrg)"/><path d="M201 228Q207 232 212 229Q216 227 218 225Q219 223 220 214Q220 204 213 204Q206 203 200 211Q194 219 195 222Q196 224 201 228Z" fill="url(#nrg)"/><path d="M116 198Q118 199 121 196Q125 192 123 180Q122 169 121 169Q121 168 113 174Q106 181 110 189Q114 197 116 198Z" fill="url(#nrg2)"/><path d="M54 -25Q56 -17 53 -12Q50 -8 41 -13Q32 -19 33 -24Q35 -29 43 -32Q52 -34 52 -34Q53 -33 54 -25Z" fill="url(#nrg2)"/><path d="M105 -30Q100 -27 99 -20Q98 -12 99 -12Q99 -12 106 -14Q113 -16 112 -25Q110 -33 105 -30Z" fill="url(#nrg)"/><path d="M48 150Q56 146 58 150Q60 153 58 161Q57 169 50 170Q43 171 41 162Q39 153 48 150Z" fill="url(#nrg2)"/><path d="M-25 13Q-18 17 -16 15Q-13 13 -11 10Q-9 6 -12 -7Q-16 -21 -21 -19Q-26 -17 -29 -4Q-31 8 -25 13Z" fill="url(#nrg)"/><path d="M-7 92Q-9 86 -17 86Q-25 86 -23 98Q-22 110 -16 110Q-11 110 -8 104Q-5 98 -7 92Z" fill="url(#nrg)"/><path d="M3 100Q8 100 10 104Q11 108 7 117Q3 125 0 126Q-2 126 -5 119Q-9 112 -5 106Q-2 100 3 100Z" fill="url(#nrg)"/><path d="M88 98Q92 101 87 112Q82 123 75 122Q69 120 70 109Q70 97 77 96Q83 95 88 98Z" fill="url(#nrg)"/><path d="M138 -39Q133 -37 131 -24Q128 -10 128 -10Q128 -9 129 -9Q130 -9 136 -13Q143 -16 146 -23Q149 -29 147 -34Q145 -40 144 -40Q143 -41 138 -39Z" fill="url(#nrg)"/><path d="M130 127Q130 120 125 116Q120 113 116 114Q112 116 109 123Q106 129 111 136Q115 144 117 144Q119 145 124 139Q130 134 130 127Z" fill="url(#nrg)"/><path d="M111 221Q103 228 100 224Q96 220 96 217Q97 214 104 208Q112 202 114 202Q117 203 117 208Q118 214 111 221Z" fill="url(#nrg)"/><path d="M10 83Q10 73 6 73Q1 72 -3 78Q-6 84 -4 90Q-2 96 3 96Q8 96 9 94Q10 93 10 83Z" fill="url(#nrg)"/><path d="M90 37Q82 38 82 37Q82 37 84 27Q87 18 92 16Q98 14 102 17Q105 20 106 23Q106 26 102 31Q98 35 90 37Z" fill="url(#nrg)"/><path d="M37 109Q29 110 28 111Q27 112 26 119Q26 125 33 126Q39 127 43 124Q48 121 46 115Q45 109 37 109Z" fill="url(#nrg2)"/><path d="M192 13Q197 8 201 19Q205 30 203 34Q201 39 197 40Q194 42 190 30Q187 18 192 13Z" fill="url(#nrg)"/><path d="M176 22Q174 25 174 36Q175 47 178 50Q181 52 182 52Q184 52 188 47Q192 42 188 31Q185 19 181 19Q177 19 176 22Z" fill="url(#nrg)"/><path d="M30 -36Q28 -42 27 -42Q27 -42 15 -38Q4 -33 3 -32Q3 -32 9 -21Q15 -11 19 -12Q24 -13 26 -16Q29 -20 31 -25Q32 -30 30 -36Z" fill="url(#nrg2)"/><path d="M-19 171Q-17 165 -15 164Q-14 162 -6 173Q1 183 1 184Q1 185 -2 188Q-4 191 -11 188Q-18 185 -20 181Q-22 177 -19 171Z" fill="url(#nrg)"/><path d="M-11 159Q-9 157 3 157Q15 157 15 160Q14 164 9 173Q3 182 -5 171Q-12 161 -11 159Z" fill="url(#nrg)"/><path d="M164 28Q171 26 172 37Q173 47 165 48Q156 48 154 44Q152 40 154 34Q156 29 164 28Z" fill="url(#nrg2)"/><path d="M-30 40Q-36 45 -35 50Q-35 54 -30 59Q-26 65 -19 58Q-11 52 -17 44Q-23 35 -30 40Z" fill="url(#nrg)"/><path d="M152 55Q150 60 141 65Q131 70 131 64Q130 58 134 51Q139 43 144 43Q149 42 151 46Q153 50 152 55Z" fill="url(#nrg2)"/><path d="M191 187Q197 186 201 194Q204 202 198 209Q193 217 189 215Q184 212 184 200Q184 188 191 187Z" fill="url(#nrg)"/><path d="M6 184Q5 185 12 189Q19 193 22 187Q25 181 21 173Q16 165 11 174Q6 183 6 184Z" fill="url(#nrg)"/><path d="M202 -1Q202 1 212 7Q223 14 223 14Q223 14 225 7Q228 1 222 -6Q215 -12 209 -7Q202 -2 202 -1Z" fill="url(#nrg2)"/><path d="M-28 154Q-38 147 -32 140Q-26 133 -19 137Q-12 141 -12 148Q-12 154 -14 157Q-15 159 -17 160Q-18 161 -28 154Z" fill="url(#nrg2)"/><path d="M50 87Q52 92 58 90Q64 89 67 78Q70 67 62 64Q54 60 50 72Q47 83 50 87Z" fill="url(#nrg)"/><path d="M93 217Q92 221 86 225Q79 230 75 225Q72 221 73 212Q74 203 79 199Q84 195 88 204Q93 214 93 217Z" fill="url(#nrg)"/><path d="M70 11Q73 8 79 13Q85 17 82 27Q80 37 73 35Q65 32 66 23Q67 13 70 11Z" fill="url(#nrg)"/><path d="M79 162Q82 151 72 152Q63 153 61 161Q59 169 61 171Q62 173 69 173Q76 173 79 162Z" fill="url(#nrg)"/><path d="M73 -29Q74 -23 74 -21Q73 -19 66 -18Q58 -18 56 -26Q55 -34 60 -36Q66 -38 69 -36Q72 -34 73 -29Z" fill="url(#nrg2)"/><path d="M151 22Q150 17 149 16Q148 15 143 15Q138 14 135 21Q131 28 135 34Q139 40 144 39Q149 39 151 33Q152 28 151 22Z" fill="url(#nrg)"/><path d="M150 104Q147 104 144 96Q141 87 148 81Q156 76 160 78Q163 80 158 92Q152 105 150 104Z" fill="url(#nrg)"/><path d="M132 190Q127 191 125 180Q123 169 131 169Q139 169 138 179Q137 189 132 190Z" fill="url(#nrg2)"/><path d="M96 -9Q96 -9 87 -8Q79 -7 77 0Q75 6 81 10Q87 14 92 13Q98 11 97 1Q96 -8 96 -9Z" fill="url(#nrg)"/><path d="M-1 44Q3 38 -4 28Q-12 17 -14 19Q-17 20 -19 27Q-21 34 -15 42Q-10 50 -8 50Q-6 50 -1 44Z" fill="url(#nrg)"/><path d="M19 42Q13 36 16 31Q18 26 25 22Q32 17 35 18Q38 19 38 24Q38 28 31 38Q24 48 19 42Z" fill="url(#nrg2)"/><path d="M18 69Q12 73 12 83Q12 93 20 90Q28 87 29 86Q29 85 26 75Q23 66 18 69Z" fill="url(#nrg2)"/><path d="M29 228Q26 236 34 240Q41 245 42 243Q43 242 43 232Q43 223 37 221Q31 219 29 228Z" fill="url(#nrg)"/><path d="M211 9Q200 2 200 5Q199 7 202 18Q206 29 214 22Q222 15 211 9Z" fill="url(#nrg)"/><path d="M175 67Q169 78 176 86Q183 94 188 91Q193 87 194 83Q196 79 190 67Q184 55 182 55Q181 56 175 67Z" fill="url(#nrg)"/><path d="M109 64Q108 68 115 74Q121 80 123 80Q124 80 126 79Q127 78 128 75Q129 71 128 65Q127 59 122 56Q117 53 113 57Q109 60 109 64Z" fill="url(#nrg)"/><path d="M183 131Q180 137 187 143Q193 149 197 149Q201 149 203 143Q205 137 202 130Q199 123 193 124Q186 125 183 131Z" fill="url(#nrg)"/><path d="M219 65Q218 68 222 82Q225 95 229 95Q234 94 237 91Q239 87 240 79Q241 71 231 67Q221 62 219 65Z" fill="url(#nrg)"/><path d="M176 141Q173 143 170 153Q168 162 173 167Q179 172 185 162Q191 152 185 146Q179 140 176 141Z" fill="url(#nrg)"/><path d="M70 212Q69 220 65 222Q60 223 57 220Q53 216 55 209Q57 201 57 201Q58 200 65 202Q72 204 70 212Z" fill="url(#nrg)"/><path d="M45 127Q49 123 53 126Q58 128 57 136Q56 144 47 147Q38 151 37 151Q37 150 39 140Q41 130 45 127Z" fill="url(#nrg2)"/><path d="M-25 124Q-26 118 -24 116Q-22 114 -17 114Q-11 113 -8 120Q-4 128 -7 134Q-11 139 -18 135Q-25 131 -25 124Z" fill="url(#nrg2)"/><path d="M93 72Q99 74 102 72Q105 69 106 65Q106 60 102 58Q98 56 91 60Q84 65 85 67Q86 69 93 72Z" fill="url(#nrg2)"/><path d="M99 98Q98 99 105 106Q111 112 115 110Q119 109 121 96Q124 83 122 83Q120 83 110 90Q100 96 99 98Z" fill="url(#nrg)"/><path d="M18 111Q24 113 23 119Q23 125 20 129Q17 134 11 130Q5 126 9 118Q13 110 18 111Z" fill="url(#nrg2)"/><path d="M157 184Q155 199 167 192Q180 185 179 180Q177 175 172 170Q166 165 162 167Q159 169 157 184Z" fill="url(#nrg2)"/><path d="M25 207Q23 205 22 200Q22 195 25 189Q28 182 33 180Q39 179 40 187Q41 195 34 201Q28 208 25 207Z" fill="url(#nrg)"/><path d="M236 25Q229 24 227 37Q225 49 234 46Q242 42 242 34Q242 26 236 25Z" fill="url(#nrg2)"/><path d="M131 225Q131 229 143 231Q154 233 157 229Q159 226 156 214Q152 203 151 203Q149 203 140 212Q131 220 131 225Z" fill="url(#nrg2)"/><path d="M123 239Q124 239 126 235Q128 230 127 226Q127 222 123 219Q120 216 112 223Q105 230 105 232Q105 234 114 237Q122 240 123 239Z" fill="url(#nrg)"/><path d="M94 99Q95 98 96 96Q97 95 97 86Q98 77 92 74Q86 71 85 81Q85 92 89 96Q93 99 94 99Z" fill="url(#nrg)"/><path d="M50 239Q55 236 57 231Q59 226 55 222Q51 219 48 221Q45 223 45 232Q45 242 50 239Z" fill="url(#nrg)"/><path d="M144 12Q149 12 151 3Q153 -6 148 -9Q144 -13 137 -9Q130 -6 134 2Q139 11 144 12Z" fill="url(#nrg)"/><path d="M92 152Q86 148 87 142Q88 136 96 134Q104 131 108 138Q113 145 105 151Q97 156 92 152Z" fill="url(#nrg)"/><path d="M90 58Q84 63 82 62Q80 61 81 51Q83 41 90 40Q98 38 97 45Q97 53 90 58Z" fill="url(#nrg)"/></g>
<path d="M103.1 100.8h0M3.2 1.5h0M1.6 63.3h0M40.9 62.2h0M91.5 47.9h0M90.9 92.9h0M28.8 85.1h0M100.8 75.5h0M104.8 83.6h0M12.3 63.1h0M13.7 90.2h0M19.7 88.5h0M8.4 77.7h0M26.9 22h0M58.1 15.8h0M43.1 8.1h0M40.1 19h0M33 5.8h0M104.3 52.8h0M108.4 52.2h0M25.5 3.2h0M18.5 76.3h0M28.7 72.4h0M20 64.3h0M24.5 60.5h0M30.5 87.4h0M21.3 97.8h0M32.4 45.6h0M36 33h0M22.6 42.1h0M25.5 46.9h0M49.9 18.3h0M2.5 19.4h0M0.2 34.9h0M108.4 33.6h0M98.7 39.8h0M92.1 26.6h0M58.5 25.5h0M60.8 40.6h0M64.6 14.3h0M69.4 20.8h0M79.2 83.8h0M76.8 100.1h0M90 51.5h0M89.2 68.7h0M85.8 70.3h0M59.6 73.3h0M52.3 64.8h0M55.5 57.1h0M59.9 55.4h0M38.1 87.3h0M51.8 90h0M49.2 27h0M53.4 34.6h0M5.6 47.2h0M15.5 42.5h0M14.8 43.7h0M11.7 32.2h0M96.7 21.6h0M92.7 8.9h0M77.5 24.8h0M75.9 30.2h0M78.4 37.2h0M68.8 6.2h0M75.7 7.8h0M85.7 1h0M86.1 12.1h0M70 83.4h0M72.5 71h0M79.3 66.4h0M79.1 56.1h0M76 53h0M1.7 91.9h0M42.5 34.7h0M42 46.7h0M47.9 49.9h0M75 100.5h0M69.2 95.3h0M63 96.6h0M56.5 99.7h0" stroke="#2e2eac" stroke-width="1.9" stroke-linecap="round"/>
<path d="M108.1 16.3h0M29.5 55h0M42.8 -9.7h0M85.7 63h0M65.3 101.3h0M109.4 73.7h0M37.6 38.2h0M73.5 61.5h0M80.6 0.9h0M81.9 32.4h0M47.6 58.4h0M83.2 8.1h0M2.3 9.6h0M102.3 28.8h0M20.5 105.3h0M13.9 69.4h0M19 24h0M-7.8 113.4h0M19 34.2h0M91.8 114.9h0M117.1 106.8h0M26.3 92.3h0M89.5 -9h0M31.2 -2.3h0M65.8 78.1h0M54.6 81.1h0M-7.1 99.8h0M63.7 21h0M71.7 38.1h0M113.4 55.4h0M6.6 27h0M59.6 -15.4h0M73.3 91.4h0M10 2.6h0M104.1 110h0M25.3 79.5h0M0.7 56.1h0M39.6 53.3h0M69 -11.8h0M59.3 64h0M46.2 14.4h0M90.3 17.5h0M10.6 -13.4h0M0.5 83h0M70.3 27.6h0M97.1 99.9h0M6.2 90.7h0M40.4 106.6h0M37.5 10.9h0M34 82.8h0M32.2 -13.7h0M44 1.5h0M-6.1 18.2h0M103.4 7.5h0M60.8 35h0M98.1 68.9h0M114.4 39.2h0M89.2 76h0M30.2 104.9h0M-8.9 62.4h0M48.5 33.3h0M116.3 17.4h0M72.3 109.8h0M72.2 0h0M48.2 72.5h0M44.4 26.5h0" stroke="#a8a8e4" stroke-width="4.2" stroke-linecap="round" opacity="0.8"/>
<path d="M108.1 16.3h0M29.5 55h0M42.8 -9.7h0M85.7 63h0M65.3 101.3h0M109.4 73.7h0M37.6 38.2h0M73.5 61.5h0M80.6 0.9h0M81.9 32.4h0M47.6 58.4h0M83.2 8.1h0M2.3 9.6h0M102.3 28.8h0M20.5 105.3h0M13.9 69.4h0M19 24h0M-7.8 113.4h0M19 34.2h0M91.8 114.9h0M117.1 106.8h0M26.3 92.3h0M89.5 -9h0M31.2 -2.3h0M65.8 78.1h0M54.6 81.1h0M-7.1 99.8h0M63.7 21h0M71.7 38.1h0M113.4 55.4h0M6.6 27h0M59.6 -15.4h0M73.3 91.4h0M10 2.6h0M104.1 110h0M25.3 79.5h0M0.7 56.1h0M39.6 53.3h0M69 -11.8h0M59.3 64h0M46.2 14.4h0M90.3 17.5h0M10.6 -13.4h0M0.5 83h0M70.3 27.6h0M97.1 99.9h0M6.2 90.7h0M40.4 106.6h0M37.5 10.9h0M34 82.8h0M32.2 -13.7h0M44 1.5h0M-6.1 18.2h0M103.4 7.5h0M60.8 35h0M98.1 68.9h0M114.4 39.2h0M89.2 76h0M30.2 104.9h0M-8.9 62.4h0M48.5 33.3h0M116.3 17.4h0M72.3 109.8h0M72.2 0h0M48.2 72.5h0M44.4 26.5h0" stroke="#3a3ab4" stroke-width="1.2" stroke-linecap="round"/>
<rect width="108.60" height="102.00" fill="#000" filter="url(#drgn)"/>
<path d="M30.4 12.4h0M84.4 34.5h0M104 95.3h0M45.8 64.5h0M57.6 7.1h0M54.8 2.1h0M28.9 69.2h0M27.2 53.1h0M103.3 29.3h0M103.8 52.4h0M50.7 54.5h0M13.5 13.4h0M44.2 29.4h0M21.8 72.5h0M59.5 62.5h0M33.7 24.7h0M25.9 56.8h0M30.9 100.7h0M83.9 16.2h0M94.6 44.9h0M80.2 15.8h0M66 38.7h0M49.7 73.8h0M42.4 56.6h0M54.3 45.3h0M104.1 20.8h0M98.9 1.1h0M57 10.1h0M95.6 98.4h0M89.7 52.3h0M107.5 90.6h0M54.8 19.2h0M68.4 61.5h0M107.9 64.9h0M44.7 80.3h0M75 0.4h0M108.3 58.6h0M11.6 10.2h0M87.6 6.3h0M38.4 17.3h0M37.9 45.9h0M52.6 80.9h0M18.8 36.6h0M12.5 54.4h0M43.8 6.7h0M89.7 35.8h0M20.8 28.9h0M3.8 67.8h0M16.9 72h0M29.3 85.2h0M40.9 97.8h0M103.3 51.5h0M23.1 89h0M55.7 55.3h0M61.7 31.7h0M34.9 67.6h0M32.2 6.7h0M14.4 28.2h0M73.8 67.7h0M27 86.4h0" stroke="#3434b2" stroke-width="1.3" stroke-linecap="round"/>
<path d="M14.9 60.4h0M16 58.4h0M17.8 84.3h0M42.2 42.9h0M57.1 40.4h0M36.4 44.4h0M87.4 93.1h0M92.1 5.5h0M105.3 79.2h0M68.8 82.5h0M96.1 3.5h0M58.9 94.3h0M70.3 12.3h0M9.5 55.7h0M66.2 58.2h0M55.7 39.1h0M1.3 36h0M42.1 44.9h0M11.9 23h0M38.3 68.9h0M92.3 83.8h0M80.2 75.8h0M51.6 80.1h0M99.3 13h0M0.5 78.1h0M54.1 98.2h0M45.4 79.9h0M35 80.3h0M33 14.8h0M63.2 9h0M35.2 86h0M61.4 50.7h0M84 54.9h0M56.2 52.8h0M42.3 36.5h0M38.1 96.7h0M43.5 57.3h0M47.8 63.7h0M37.3 54.1h0M18.5 32.4h0M97.1 70.4h0M17 29.6h0M91.5 59.8h0M21.4 50.8h0M28.9 66h0M13.2 16h0M56.7 84h0M83.7 32.9h0M10.8 92.2h0M5.9 90.8h0M104.2 44.8h0M27.1 4.5h0M92.8 32.1h0M88.6 31h0M104.3 50.5h0M26.4 39.8h0M24 31.5h0M105.5 29.7h0M48.1 85.3h0M17.3 36h0M49.2 13.4h0M28.3 91.8h0M40 25.1h0M83.8 39.3h0M9.3 18.1h0M61 36.9h0M24.6 12.9h0M30.7 41.1h0M84.2 90h0M44.8 67.2h0" stroke="#3434b2" stroke-width="1.8" stroke-linecap="round"/>
</svg>
<line x1="149.50" y1="661.50" x2="156.20" y2="655.75" stroke="#f5ea10" stroke-width="1.8"/>
<path d="M160.00 652.50L158.09 657.96L154.32 653.55Z" fill="#f5ea10"/>
<line x1="177.50" y1="719.00" x2="184.80" y2="712.36" stroke="#ee1c25" stroke-width="1.8"/>
<path d="M188.50 709.00L186.75 714.51L182.85 710.22Z" fill="#ee1c25"/>
<line x1="271.00" y1="735.50" x2="277.34" y2="731.27" stroke="#f5ea10" stroke-width="1.8"/>
<path d="M281.50 728.50L278.95 733.69L275.73 728.86Z" fill="#f5ea10"/>
<line x1="302.00" y1="737.50" x2="308.24" y2="735.52" stroke="#ee1c25" stroke-width="1.8"/>
<path d="M313.00 734.00L309.11 738.28L307.36 732.75Z" fill="#ee1c25"/>
<rect x="22.1" y="627.1" width="30" height="1.6" fill="#d8d8d8" opacity="0.85"/>
<rect x="133.9" y="627.1" width="30" height="1.6" fill="#d8d8d8" opacity="0.85"/>
<rect x="245.3" y="627.1" width="30" height="1.6" fill="#d8d8d8" opacity="0.85"/>
<rect x="357.1" y="627.1" width="30" height="1.6" fill="#d8d8d8" opacity="0.85"/>
<rect x="468.6" y="627.1" width="30" height="1.6" fill="#d8d8d8" opacity="0.85"/>
<rect x="583.4" y="627.1" width="35" height="2.0" fill="#ffffff"/>
<path d="M159.00 740.00L157.81 744.75L154.25 741.19Z" fill="#e8141c"/>
<text x="161.2" y="745.6" font-size="6.64" fill="#e8141c" style="stroke:#e8141c" transform="translate(161.2 745.6) scale(1.07 1) translate(-161.2 -745.6)">Dark cytoplasm</text>
<path d="M277.00 740.00L275.97 744.79L272.29 741.34Z" fill="#f2ea0c"/>
<text x="278.9" y="745.6" font-size="6.73" fill="#e8141c" style="stroke:#e8141c" transform="translate(278.9 745.6) scale(1.07 1) translate(-278.9 -745.6)">Vacuolations</text>
<text x="0.8" y="764.8" font-size="12.50" fill="#000" style="stroke:#000;stroke-width:0.4px" font-weight="bold">i</text>
<text x="36.2" y="864.2" font-size="6.45" text-anchor="end" transform="translate(36.2 864.2) scale(1.07 1) translate(-36.2 -864.2)">0</text>
<text x="36.2" y="827.4" font-size="6.45" text-anchor="end" transform="translate(36.2 827.4) scale(1.07 1) translate(-36.2 -827.4)">1,000</text>
<text x="36.2" y="790.6" font-size="6.45" text-anchor="end" transform="translate(36.2 790.6) scale(1.07 1) translate(-36.2 -790.6)">2,000</text>
<text x="42.4" y="872.6" font-size="6.07" text-anchor="middle" transform="translate(42.4 872.6) scale(1.07 1) translate(-42.4 -872.6)">0</text>
<text x="78.3" y="872.6" font-size="6.07" text-anchor="middle" transform="translate(78.3 872.6) scale(1.07 1) translate(-78.3 -872.6)">10</text>
<text x="114.2" y="872.6" font-size="6.07" text-anchor="middle" transform="translate(114.2 872.6) scale(1.07 1) translate(-114.2 -872.6)">20</text>
<text x="150.1" y="872.6" font-size="6.07" text-anchor="middle" transform="translate(150.1 872.6) scale(1.07 1) translate(-150.1 -872.6)">30</text>
<text x="186" y="872.6" font-size="6.07" text-anchor="middle" transform="translate(186 872.6) scale(1.07 1) translate(-186 -872.6)">40</text>
<text x="117.6" y="882.6" font-size="6.86" text-anchor="middle" transform="translate(117.6 882.6) scale(1.05 1) translate(-117.6 -882.6)">Days after 4T1 cells inoculation</text>
<text x="14" y="814.8" font-size="6.80" text-anchor="middle" transform="rotate(-90 14 814.8)">Tumor size (mm<tspan font-size="4.2" dy="-2.6">3</tspan><tspan dy="2.6">)</tspan></text>
<polyline points="42.4,861.8 74.7,858.9 92.7,858.5 110.6,857.4 128.6,855.9 146.5,850.8 171.6,844.1 193.2,839" fill="none" stroke="#f7931e" stroke-width="1.0"/>
<polyline points="42.4,861.8 74.7,858.1 92.7,855.5 110.6,852.2 128.6,847.8 146.5,840.5 171.6,834.6 193.2,820.2" fill="none" stroke="#22c422" stroke-width="1.0"/>
<polyline points="42.4,861.8 74.7,858.1 92.7,856.3 110.6,853 128.6,847.8 146.5,841.2 171.6,829.4 193.2,817.6" fill="none" stroke="#a230ee" stroke-width="1.0"/>
<polyline points="42.4,861.8 74.7,858.1 92.7,856.3 110.6,852.6 128.6,847.1 146.5,841.2 171.6,830.2 193.2,819.5" fill="none" stroke="#3a3aee" stroke-width="1.0"/>
<polyline points="42.4,861.8 74.7,858.1 92.7,855.2 110.6,851.5 128.6,846.3 146.5,839.7 171.6,828.7 193.2,815.1" fill="none" stroke="#1a1a1a" stroke-width="1.0"/>
<polyline points="42.4,861.8 74.7,858.1 92.7,856.3 110.6,852.6 128.6,847.8 146.5,842.7 171.6,826.8 193.2,809.5" fill="none" stroke="#8a8a14" stroke-width="1.0"/>
<polyline points="42.4,861.8 74.7,858.1 92.7,854.4 110.6,848.9 128.6,843.4 146.5,832.4 171.6,815.8 193.2,792.6" fill="none" stroke="#ee1d23" stroke-width="1.0"/>
<rect x="73.50" y="839.80" width="2.0" height="5.0" fill="#ee1d23"/>
<path d="M71.60 845.20L77.40 845.20L74.50 852.00Z" fill="#fff" stroke="#ee1d23" stroke-width="0.7"/>
<rect x="109.70" y="832.10" width="2.0" height="5.0" fill="#ee1d23"/>
<path d="M107.80 837.50L113.60 837.50L110.70 844.30Z" fill="#fff" stroke="#ee1d23" stroke-width="0.7"/>
<text x="71.8" y="770.7" font-size="6.07" transform="translate(71.8 770.7) scale(1.07 1) translate(-71.8 -770.7)">5% Dextrose</text>
<text x="71.8" y="778.5" font-size="6.07" transform="translate(71.8 778.5) scale(1.07 1) translate(-71.8 -778.5)">Taxol</text>
<text x="71.8" y="786.2" font-size="6.07" transform="translate(71.8 786.2) scale(1.07 1) translate(-71.8 -786.2)">Abraxane</text>
<text x="71.8" y="794" font-size="6.07" transform="translate(71.8 794) scale(1.07 1) translate(-71.8 -794)">PTX/Lipo-SM</text>
<text x="71.8" y="801.8" font-size="6.07" transform="translate(71.8 801.8) scale(1.07 1) translate(-71.8 -801.8)">Paclitaxome-1</text>
<text x="71.8" y="809.5" font-size="6.07" transform="translate(71.8 809.5) scale(1.07 1) translate(-71.8 -809.5)">Paclitaxome-2</text>
<text x="71.8" y="817.2" font-size="6.07" transform="translate(71.8 817.2) scale(1.07 1) translate(-71.8 -817.2)">Paclitaxome-3</text>
<polyline points="101.6,778 103.2,778 103.2,784.6 101.6,784.6" fill="none" stroke="#666" stroke-width="0.5"/>
<text x="104.6" y="783.4" font-size="5.89" transform="translate(104.6 783.4) scale(1.07 1) translate(-104.6 -783.4)"><tspan font-style="italic">P</tspan> = 0.099</text>
<polyline points="114,785.2 116.7,785.2 116.7,808.2 114,808.2" fill="none" stroke="#666" stroke-width="0.5"/>
<text x="118.2" y="799" font-size="5.89" transform="translate(118.2 799) scale(1.07 1) translate(-118.2 -799)"><tspan font-style="italic">P</tspan> = 0.00001</text>
<polyline points="194.8,792.5 197.3,792.5 197.3,808.3 194.8,808.3" fill="none" stroke="#666" stroke-width="0.5"/>
<text x="199.2" y="804.8" font-size="5.89" transform="translate(199.2 804.8) scale(1.07 1) translate(-199.2 -804.8)"><tspan font-style="italic">P</tspan> = 0.0003</text>
<polyline points="194.8,809.3 197.3,809.3 197.3,817.3 194.8,817.3" fill="none" stroke="#666" stroke-width="0.5"/>
<text x="199.2" y="815.6" font-size="5.89" transform="translate(199.2 815.6) scale(1.07 1) translate(-199.2 -815.6)"><tspan font-style="italic">P</tspan> = 0.099</text>
<polyline points="194.8,818.8 197.3,818.8 197.3,838.8 194.8,838.8" fill="none" stroke="#666" stroke-width="0.5"/>
<text x="199.2" y="833.2" font-size="5.89" transform="translate(199.2 833.2) scale(1.07 1) translate(-199.2 -833.2)"><tspan font-style="italic">P</tspan> = 0.00001</text>
<path d="M151 748L156 743" stroke="#e8141c" stroke-width="1.6" fill="none"/>
<path d="M269.5 748L274.1 743.1" stroke="#f2ea0c" stroke-width="1.6" fill="none"/>
<path d="M42.5 766.6L42.5 862.1M42.1 861.5L192.9 861.5" stroke="#7a7a7a" stroke-width="0.85" fill="none"/>
<path d="M38.9 861.8L42.4 861.8M38.9 825L42.4 825M38.9 788.2L42.4 788.2" stroke="#7a7a7a" stroke-width="0.7" fill="none"/>
<path d="M42.4 861.8L42.4 863.6M78.3 861.8L78.3 863.6M114.2 861.8L114.2 863.6M150.1 861.8L150.1 863.6M186 861.8L186 863.6" stroke="#7a7a7a" stroke-width="0.6" fill="none"/>
<path d="M171.6 844.1L171.6 841.9M170.3 841.9L172.9 841.9M193.2 839L193.2 830.5M191.9 830.5L194.5 830.5" stroke="#f7931e" stroke-width="0.5" fill="none"/>
<path d="M92.7 854.4L92.7 852.2M91.4 852.2L94 852.2M128.6 843.4L128.6 839.7M127.3 839.7L129.9 839.7M146.5 832.4L146.5 823.2M145.2 823.2L147.8 823.2M171.6 815.8L171.6 803.7M170.3 803.7L172.9 803.7M193.2 792.6L193.2 775M191.9 775L194.5 775" stroke="#ee1d23" stroke-width="0.5" fill="none"/>
<path d="M59.2 768.4L68.7 768.4" stroke="#ee1d23" stroke-width="1.0" fill="none"/>
<path d="M59.2 776.2L68.7 776.2" stroke="#8a8a14" stroke-width="1.0" fill="none"/>
<path d="M59.2 783.9L68.7 783.9" stroke="#3a3aee" stroke-width="1.0" fill="none"/>
<path d="M59.2 791.7L68.7 791.7" stroke="#1a1a1a" stroke-width="1.0" fill="none"/>
<path d="M59.2 799.5L68.7 799.5" stroke="#22c422" stroke-width="1.0" fill="none"/>
<path d="M59.2 807.2L68.7 807.2" stroke="#f7931e" stroke-width="1.0" fill="none"/>
<path d="M59.2 814.9L68.7 814.9" stroke="#a230ee" stroke-width="1.0" fill="none"/>
<path d="M42.4 864.1L44.5 860.3L40.3 860.3Z" fill="#f7931e" stroke="#f7931e" stroke-width="0.6"/>
<path d="M74.7 861.1L76.8 857.3L72.6 857.3Z" fill="#f7931e" stroke="#f7931e" stroke-width="0.6"/>
<path d="M92.7 860.8L94.8 857L90.6 857Z" fill="#f7931e" stroke="#f7931e" stroke-width="0.6"/>
<path d="M110.6 859.7L112.7 855.9L108.5 855.9Z" fill="#f7931e" stroke="#f7931e" stroke-width="0.6"/>
<path d="M128.6 858.2L130.7 854.4L126.5 854.4Z" fill="#f7931e" stroke="#f7931e" stroke-width="0.6"/>
<path d="M146.5 853L148.6 849.2L144.4 849.2Z" fill="#f7931e" stroke="#f7931e" stroke-width="0.6"/>
<path d="M171.6 846.4L173.7 842.6L169.6 842.6Z" fill="#f7931e" stroke="#f7931e" stroke-width="0.6"/>
<path d="M193.2 841.3L195.3 837.5L191.1 837.5Z" fill="#f7931e" stroke="#f7931e" stroke-width="0.6"/>
<path d="M42.4 859.5L44.5 863.3L40.3 863.3Z" fill="#22c422" stroke="#22c422" stroke-width="0.6"/>
<path d="M74.7 855.8L76.8 859.6L72.6 859.6Z" fill="#22c422" stroke="#22c422" stroke-width="0.6"/>
<path d="M92.7 853.3L94.8 857.1L90.6 857.1Z" fill="#22c422" stroke="#22c422" stroke-width="0.6"/>
<path d="M110.6 850L112.7 853.8L108.5 853.8Z" fill="#22c422" stroke="#22c422" stroke-width="0.6"/>
<path d="M128.6 845.5L130.7 849.3L126.5 849.3Z" fill="#22c422" stroke="#22c422" stroke-width="0.6"/>
<path d="M146.5 838.2L148.6 842L144.4 842Z" fill="#22c422" stroke="#22c422" stroke-width="0.6"/>
<path d="M171.6 832.3L173.7 836.1L169.6 836.1Z" fill="#22c422" stroke="#22c422" stroke-width="0.6"/>
<path d="M193.2 817.9L195.3 821.7L191.1 821.7Z" fill="#22c422" stroke="#22c422" stroke-width="0.6"/>
<path d="M42.4 859.5L44.3 861.8L42.4 864.1L40.5 861.8Z" fill="#a230ee" stroke="#a230ee" stroke-width="0.6"/>
<path d="M74.7 855.8L76.6 858.1L74.7 860.4L72.8 858.1Z" fill="#a230ee" stroke="#a230ee" stroke-width="0.6"/>
<path d="M92.7 854L94.6 856.3L92.7 858.6L90.8 856.3Z" fill="#a230ee" stroke="#a230ee" stroke-width="0.6"/>
<path d="M110.6 850.7L112.5 853L110.6 855.2L108.7 853Z" fill="#a230ee" stroke="#a230ee" stroke-width="0.6"/>
<path d="M128.6 845.5L130.5 847.8L128.6 850.1L126.7 847.8Z" fill="#a230ee" stroke="#a230ee" stroke-width="0.6"/>
<path d="M146.5 838.9L148.4 841.2L146.5 843.5L144.6 841.2Z" fill="#a230ee" stroke="#a230ee" stroke-width="0.6"/>
<path d="M171.6 827.1L173.5 829.4L171.6 831.7L169.7 829.4Z" fill="#a230ee" stroke="#a230ee" stroke-width="0.6"/>
<path d="M193.2 815.4L195.1 817.6L193.2 819.9L191.3 817.6Z" fill="#a230ee" stroke="#a230ee" stroke-width="0.6"/>
<circle cx="42.4" cy="861.8" r="1.9" fill="#fff" stroke="#3a3aee" stroke-width="0.6"/>
<circle cx="74.7" cy="858.1" r="1.9" fill="#fff" stroke="#3a3aee" stroke-width="0.6"/>
<circle cx="92.7" cy="856.3" r="1.9" fill="#fff" stroke="#3a3aee" stroke-width="0.6"/>
<circle cx="110.6" cy="852.6" r="1.9" fill="#fff" stroke="#3a3aee" stroke-width="0.6"/>
<circle cx="128.6" cy="847.1" r="1.9" fill="#fff" stroke="#3a3aee" stroke-width="0.6"/>
<circle cx="146.5" cy="841.2" r="1.9" fill="#fff" stroke="#3a3aee" stroke-width="0.6"/>
<circle cx="171.6" cy="830.2" r="1.9" fill="#fff" stroke="#3a3aee" stroke-width="0.6"/>
<circle cx="193.2" cy="819.5" r="1.9" fill="#fff" stroke="#3a3aee" stroke-width="0.6"/>
<path d="M42.4 859.4L43 861L44.7 861.1L43.3 862.1L43.8 863.7L42.4 862.8L41 863.7L41.5 862.1L40.1 861.1L41.8 861Z" fill="#1a1a1a" stroke="#1a1a1a" stroke-width="0.6"/>
<path d="M74.7 855.7L75.3 857.4L77 857.4L75.6 858.4L76.1 860L74.7 859.1L73.3 860L73.8 858.4L72.5 857.4L74.2 857.4Z" fill="#1a1a1a" stroke="#1a1a1a" stroke-width="0.6"/>
<path d="M92.7 852.8L93.2 854.4L94.9 854.4L93.6 855.5L94.1 857.1L92.7 856.1L91.3 857.1L91.8 855.5L90.4 854.4L92.1 854.4Z" fill="#1a1a1a" stroke="#1a1a1a" stroke-width="0.6"/>
<path d="M110.6 849.1L111.2 850.7L112.9 850.8L111.5 851.8L112 853.4L110.6 852.4L109.2 853.4L109.7 851.8L108.4 850.8L110.1 850.7Z" fill="#1a1a1a" stroke="#1a1a1a" stroke-width="0.6"/>
<path d="M128.6 844L129.1 845.6L130.8 845.6L129.5 846.6L130 848.3L128.6 847.3L127.2 848.3L127.7 846.6L126.3 845.6L128 845.6Z" fill="#1a1a1a" stroke="#1a1a1a" stroke-width="0.6"/>
<path d="M146.5 837.3L147.1 839L148.8 839L147.4 840L147.9 841.6L146.5 840.7L145.1 841.6L145.6 840L144.3 839L146 839Z" fill="#1a1a1a" stroke="#1a1a1a" stroke-width="0.6"/>
<path d="M171.6 826.3L172.2 827.9L173.9 827.9L172.5 829L173 830.6L171.6 829.6L170.2 830.6L170.7 829L169.4 827.9L171.1 827.9Z" fill="#1a1a1a" stroke="#1a1a1a" stroke-width="0.6"/>
<path d="M193.2 812.7L193.7 814.3L195.4 814.3L194.1 815.4L194.6 817L193.2 816L191.8 817L192.3 815.4L190.9 814.3L192.6 814.3Z" fill="#1a1a1a" stroke="#1a1a1a" stroke-width="0.6"/>
<rect x="40.5" y="859.9" width="3.8" height="3.8" fill="#8a8a14" stroke="#8a8a14" stroke-width="0.6"/>
<rect x="72.8" y="856.2" width="3.8" height="3.8" fill="#8a8a14" stroke="#8a8a14" stroke-width="0.6"/>
<rect x="90.8" y="854.4" width="3.8" height="3.8" fill="#8a8a14" stroke="#8a8a14" stroke-width="0.6"/>
<rect x="108.7" y="850.7" width="3.8" height="3.8" fill="#8a8a14" stroke="#8a8a14" stroke-width="0.6"/>
<rect x="126.7" y="845.9" width="3.8" height="3.8" fill="#8a8a14" stroke="#8a8a14" stroke-width="0.6"/>
<rect x="144.6" y="840.8" width="3.8" height="3.8" fill="#8a8a14" stroke="#8a8a14" stroke-width="0.6"/>
<rect x="169.7" y="824.9" width="3.8" height="3.8" fill="#8a8a14" stroke="#8a8a14" stroke-width="0.6"/>
<rect x="191.3" y="807.6" width="3.8" height="3.8" fill="#8a8a14" stroke="#8a8a14" stroke-width="0.6"/>
<circle cx="42.4" cy="861.8" r="1.9" fill="#ee1d23" stroke="#ee1d23" stroke-width="0.6"/>
<circle cx="74.7" cy="858.1" r="1.9" fill="#ee1d23" stroke="#ee1d23" stroke-width="0.6"/>
<circle cx="92.7" cy="854.4" r="1.9" fill="#ee1d23" stroke="#ee1d23" stroke-width="0.6"/>
<circle cx="110.6" cy="848.9" r="1.9" fill="#ee1d23" stroke="#ee1d23" stroke-width="0.6"/>
<circle cx="128.6" cy="843.4" r="1.9" fill="#ee1d23" stroke="#ee1d23" stroke-width="0.6"/>
<circle cx="146.5" cy="832.4" r="1.9" fill="#ee1d23" stroke="#ee1d23" stroke-width="0.6"/>
<circle cx="171.6" cy="815.8" r="1.9" fill="#ee1d23" stroke="#ee1d23" stroke-width="0.6"/>
<circle cx="193.2" cy="792.6" r="1.9" fill="#ee1d23" stroke="#ee1d23" stroke-width="0.6"/>
<circle cx="64" cy="768.4" r="1.8" fill="#ee1d23" stroke="#ee1d23" stroke-width="0.6"/>
<rect x="62.2" y="774.4" width="3.6" height="3.6" fill="#8a8a14" stroke="#8a8a14" stroke-width="0.6"/>
<circle cx="64" cy="783.9" r="1.8" fill="#fff" stroke="#3a3aee" stroke-width="0.6"/>
<path d="M64 789.5L64.5 791L66.1 791L64.9 792L65.3 793.5L64 792.6L62.7 793.5L63.1 792L61.9 791L63.5 791Z" fill="#1a1a1a" stroke="#1a1a1a" stroke-width="0.6"/>
<path d="M64 797.3L66 800.9L62 800.9Z" fill="#22c422" stroke="#22c422" stroke-width="0.6"/>
<path d="M64 809.4L66 805.8L62 805.8Z" fill="#f7931e" stroke="#f7931e" stroke-width="0.6"/>
<path d="M64 812.7L65.8 814.9L64 817.1L62.2 814.9Z" fill="#a230ee" stroke="#a230ee" stroke-width="0.6"/>
<text x="242.6" y="765.8" font-size="12.50" fill="#000" style="stroke:#000;stroke-width:0.4px" font-weight="bold">j</text>
<text x="266" y="863.9" font-size="6.54" text-anchor="end" transform="translate(266 863.9) scale(1.07 1) translate(-266 -863.9)">0</text>
<text x="266" y="832.2" font-size="6.54" text-anchor="end" transform="translate(266 832.2) scale(1.07 1) translate(-266 -832.2)">10</text>
<text x="266" y="800.6" font-size="6.54" text-anchor="end" transform="translate(266 800.6) scale(1.07 1) translate(-266 -800.6)">20</text>
<text x="266" y="768.9" font-size="6.54" text-anchor="end" transform="translate(266 768.9) scale(1.07 1) translate(-266 -768.9)">30</text>
<text x="273" y="871.8" font-size="6.07" text-anchor="middle" transform="translate(273 871.8) scale(1.07 1) translate(-273 -871.8)">0</text>
<text x="287.6" y="871.8" font-size="6.07" text-anchor="middle" transform="translate(287.6 871.8) scale(1.07 1) translate(-287.6 -871.8)">5</text>
<text x="298.6" y="871.8" font-size="6.07" text-anchor="middle" transform="translate(298.6 871.8) scale(1.07 1) translate(-298.6 -871.8)">10</text>
<text x="338" y="871.8" font-size="6.07" text-anchor="middle" transform="translate(338 871.8) scale(1.07 1) translate(-338 -871.8)">20</text>
<text x="377.4" y="871.8" font-size="6.07" text-anchor="middle" transform="translate(377.4 871.8) scale(1.07 1) translate(-377.4 -871.8)">30</text>
<text x="416.8" y="871.8" font-size="6.07" text-anchor="middle" transform="translate(416.8 871.8) scale(1.07 1) translate(-416.8 -871.8)">40</text>
<text x="348.3" y="882.2" font-size="6.86" text-anchor="middle" transform="translate(348.3 882.2) scale(1.05 1) translate(-348.3 -882.2)">Days after 4T1 cells inoculation</text>
<text x="253" y="817" font-size="6.95" text-anchor="middle" transform="rotate(-90 253 817)">Body weight (g)</text>
<polyline points="294.7,799.8 314.4,798.2 334.1,795 353.8,795 373.5,795 401,793.5 424.7,791.9" fill="none" stroke="#f7931e" stroke-width="1.0"/>
<polyline points="294.7,798.2 314.4,796.6 334.1,796 353.8,796.3 373.5,796 401,796 424.7,795.4" fill="none" stroke="#1a1a1a" stroke-width="1.0"/>
<polyline points="294.7,796.6 314.4,795 334.1,793.5 353.8,794.4 373.5,793.5 401,792.8 424.7,790.3" fill="none" stroke="#a230ee" stroke-width="1.0"/>
<polyline points="294.7,798.8 314.4,795 334.1,792.5 353.8,794.4 373.5,791.9 401,791.9 424.7,789.3" fill="none" stroke="#3a3aee" stroke-width="1.0"/>
<polyline points="294.7,797.6 314.4,795 334.1,791.9 353.8,793.5 373.5,789.3 401,789.3 424.7,785.5" fill="none" stroke="#22c422" stroke-width="1.0"/>
<polyline points="294.7,796.6 314.4,793.5 334.1,790.9 353.8,792.5 373.5,790.3 401,789.3 424.7,787.1" fill="none" stroke="#8a8a14" stroke-width="1.0"/>
<polyline points="294.7,795.7 314.4,793.5 334.1,791.9 353.8,793.1 373.5,789.3 401,789.3 424.7,787.8" fill="none" stroke="#ee1d23" stroke-width="1.0"/>
<text x="340.7" y="810.1" font-size="6.07" transform="translate(340.7 810.1) scale(1.07 1) translate(-340.7 -810.1)">5% Dextrose</text>
<text x="340.7" y="818" font-size="6.07" transform="translate(340.7 818) scale(1.07 1) translate(-340.7 -818)">Taxol</text>
<text x="340.7" y="825.8" font-size="6.07" transform="translate(340.7 825.8) scale(1.07 1) translate(-340.7 -825.8)">Abraxane</text>
<text x="340.7" y="833.4" font-size="6.07" transform="translate(340.7 833.4) scale(1.07 1) translate(-340.7 -833.4)">PTX/Lipo-SM</text>
<text x="340.7" y="841" font-size="6.07" transform="translate(340.7 841) scale(1.07 1) translate(-340.7 -841)">Paclitaxome-1</text>
<text x="340.7" y="848.8" font-size="6.07" transform="translate(340.7 848.8) scale(1.07 1) translate(-340.7 -848.8)">Paclitaxome-2</text>
<text x="340.7" y="856.5" font-size="6.07" transform="translate(340.7 856.5) scale(1.07 1) translate(-340.7 -856.5)">Paclitaxome-3</text>
<path d="M273.5 766.6L273.5 861.8M272.7 861.5L288 861.5M294.2 861.5L422 861.5" stroke="#7a7a7a" stroke-width="0.85" fill="none"/>
<path d="M285.4 863.8L290.1 859M291.9 863.8L296.6 859M268.8 861.5L273 861.5M268.8 829.9L273 829.9M268.8 798.2L273 798.2M268.8 766.5L273 766.5" stroke="#7a7a7a" stroke-width="0.7" fill="none"/>
<path d="M273 861.5L273 863.3M287.6 861.5L287.6 863.3M298.6 861.5L298.6 863.3M338 861.5L338 863.3M377.4 861.5L377.4 863.3M416.8 861.5L416.8 863.3" stroke="#7a7a7a" stroke-width="0.6" fill="none"/>
<path d="M294.7 796.6L294.7 791.6M293.4 791.6L296 791.6M314.4 793.5L314.4 788.5M313.1 788.5L315.7 788.5M334.1 790.9L334.1 785.9M332.8 785.9L335.4 785.9M353.8 792.5L353.8 787.5M352.5 787.5L355.1 787.5M373.5 790.3L373.5 785.3M372.2 785.3L374.8 785.3M401 789.3L401 784.3M399.7 784.3L402.3 784.3M424.7 787.1L424.7 782.1M423.4 782.1L426 782.1" stroke="#8a8a14" stroke-width="0.45" fill="none"/>
<path d="M294.7 795.7L294.7 790.7M293.4 790.7L296 790.7M314.4 793.5L314.4 788.5M313.1 788.5L315.7 788.5M334.1 791.9L334.1 786.9M332.8 786.9L335.4 786.9M353.8 793.1L353.8 788.1M352.5 788.1L355.1 788.1M373.5 789.3L373.5 784.3M372.2 784.3L374.8 784.3M401 789.3L401 784.3M399.7 784.3L402.3 784.3M424.7 787.8L424.7 782.8M423.4 782.8L426 782.8" stroke="#ee1d23" stroke-width="0.45" fill="none"/>
<path d="M327.2 807.8L338.6 807.8" stroke="#ee1d23" stroke-width="1.0" fill="none"/>
<path d="M327.2 815.7L338.6 815.7" stroke="#8a8a14" stroke-width="1.0" fill="none"/>
<path d="M327.2 823.5L338.6 823.5" stroke="#3a3aee" stroke-width="1.0" fill="none"/>
<path d="M327.2 831.1L338.6 831.1" stroke="#1a1a1a" stroke-width="1.0" fill="none"/>
<path d="M327.2 838.7L338.6 838.7" stroke="#22c422" stroke-width="1.0" fill="none"/>
<path d="M327.2 846.5L338.6 846.5" stroke="#f7931e" stroke-width="1.0" fill="none"/>
<path d="M327.2 854.2L338.6 854.2" stroke="#a230ee" stroke-width="1.0" fill="none"/>
<path d="M294.7 801.9L296.6 798.3L292.7 798.3Z" fill="#f7931e" stroke="#f7931e" stroke-width="0.6"/>
<path d="M314.4 800.4L316.3 796.8L312.4 796.8Z" fill="#f7931e" stroke="#f7931e" stroke-width="0.6"/>
<path d="M334.1 797.2L336 793.6L332.1 793.6Z" fill="#f7931e" stroke="#f7931e" stroke-width="0.6"/>
<path d="M353.8 797.2L355.7 793.6L351.8 793.6Z" fill="#f7931e" stroke="#f7931e" stroke-width="0.6"/>
<path d="M373.5 797.2L375.4 793.6L371.5 793.6Z" fill="#f7931e" stroke="#f7931e" stroke-width="0.6"/>
<path d="M401 795.6L403 792L399.1 792Z" fill="#f7931e" stroke="#f7931e" stroke-width="0.6"/>
<path d="M424.7 794L426.7 790.4L422.7 790.4Z" fill="#f7931e" stroke="#f7931e" stroke-width="0.6"/>
<path d="M294.7 796L295.2 797.5L296.8 797.5L295.5 798.5L296 800L294.7 799.1L293.3 800L293.8 798.5L292.5 797.5L294.1 797.5Z" fill="#1a1a1a" stroke="#1a1a1a" stroke-width="0.6"/>
<path d="M314.4 794.4L314.9 795.9L316.5 795.9L315.2 796.9L315.7 798.4L314.4 797.5L313 798.4L313.5 796.9L312.2 795.9L313.8 795.9Z" fill="#1a1a1a" stroke="#1a1a1a" stroke-width="0.6"/>
<path d="M334.1 793.7L334.6 795.3L336.2 795.3L334.9 796.3L335.4 797.8L334.1 796.9L332.7 797.8L333.2 796.3L331.9 795.3L333.5 795.3Z" fill="#1a1a1a" stroke="#1a1a1a" stroke-width="0.6"/>
<path d="M353.8 794.1L354.3 795.6L355.9 795.6L354.6 796.6L355.1 798.1L353.8 797.2L352.4 798.1L352.9 796.6L351.6 795.6L353.2 795.6Z" fill="#1a1a1a" stroke="#1a1a1a" stroke-width="0.6"/>
<path d="M373.5 793.7L374 795.3L375.6 795.3L374.3 796.3L374.8 797.8L373.5 796.9L372.1 797.8L372.6 796.3L371.3 795.3L372.9 795.3Z" fill="#1a1a1a" stroke="#1a1a1a" stroke-width="0.6"/>
<path d="M401 793.7L401.6 795.3L403.2 795.3L401.9 796.3L402.4 797.8L401 796.9L399.7 797.8L400.2 796.3L398.9 795.3L400.5 795.3Z" fill="#1a1a1a" stroke="#1a1a1a" stroke-width="0.6"/>
<path d="M424.7 793.1L425.2 794.6L426.8 794.7L425.5 795.6L426 797.2L424.7 796.3L423.4 797.2L423.8 795.6L422.5 794.7L424.2 794.6Z" fill="#1a1a1a" stroke="#1a1a1a" stroke-width="0.6"/>
<path d="M294.7 794.5L296.5 796.6L294.7 798.8L292.9 796.6Z" fill="#a230ee" stroke="#a230ee" stroke-width="0.6"/>
<path d="M314.4 792.9L316.2 795L314.4 797.2L312.6 795Z" fill="#a230ee" stroke="#a230ee" stroke-width="0.6"/>
<path d="M334.1 791.3L335.9 793.5L334.1 795.6L332.3 793.5Z" fill="#a230ee" stroke="#a230ee" stroke-width="0.6"/>
<path d="M353.8 792.2L355.6 794.4L353.8 796.6L352 794.4Z" fill="#a230ee" stroke="#a230ee" stroke-width="0.6"/>
<path d="M373.5 791.3L375.3 793.5L373.5 795.6L371.7 793.5Z" fill="#a230ee" stroke="#a230ee" stroke-width="0.6"/>
<path d="M401 790.7L402.8 792.8L401 795L399.2 792.8Z" fill="#a230ee" stroke="#a230ee" stroke-width="0.6"/>
<path d="M424.7 788.1L426.5 790.3L424.7 792.4L422.9 790.3Z" fill="#a230ee" stroke="#a230ee" stroke-width="0.6"/>
<circle cx="294.7" cy="798.8" r="1.8" fill="#fff" stroke="#3a3aee" stroke-width="0.6"/>
<circle cx="314.4" cy="795" r="1.8" fill="#fff" stroke="#3a3aee" stroke-width="0.6"/>
<circle cx="334.1" cy="792.5" r="1.8" fill="#fff" stroke="#3a3aee" stroke-width="0.6"/>
<circle cx="353.8" cy="794.4" r="1.8" fill="#fff" stroke="#3a3aee" stroke-width="0.6"/>
<circle cx="373.5" cy="791.9" r="1.8" fill="#fff" stroke="#3a3aee" stroke-width="0.6"/>
<circle cx="401" cy="791.9" r="1.8" fill="#fff" stroke="#3a3aee" stroke-width="0.6"/>
<circle cx="424.7" cy="789.3" r="1.8" fill="#fff" stroke="#3a3aee" stroke-width="0.6"/>
<path d="M294.7 795.4L296.6 799L292.7 799Z" fill="#22c422" stroke="#22c422" stroke-width="0.6"/>
<path d="M314.4 792.9L316.3 796.5L312.4 796.5Z" fill="#22c422" stroke="#22c422" stroke-width="0.6"/>
<path d="M334.1 789.7L336 793.3L332.1 793.3Z" fill="#22c422" stroke="#22c422" stroke-width="0.6"/>
<path d="M353.8 791.3L355.7 794.9L351.8 794.9Z" fill="#22c422" stroke="#22c422" stroke-width="0.6"/>
<path d="M373.5 787.2L375.4 790.8L371.5 790.8Z" fill="#22c422" stroke="#22c422" stroke-width="0.6"/>
<path d="M401 787.2L403 790.8L399.1 790.8Z" fill="#22c422" stroke="#22c422" stroke-width="0.6"/>
<path d="M424.7 783.4L426.7 787L422.7 787Z" fill="#22c422" stroke="#22c422" stroke-width="0.6"/>
<rect x="292.9" y="794.8" width="3.6" height="3.6" fill="#8a8a14" stroke="#8a8a14" stroke-width="0.6"/>
<rect x="312.6" y="791.7" width="3.6" height="3.6" fill="#8a8a14" stroke="#8a8a14" stroke-width="0.6"/>
<rect x="332.3" y="789.1" width="3.6" height="3.6" fill="#8a8a14" stroke="#8a8a14" stroke-width="0.6"/>
<rect x="352" y="790.7" width="3.6" height="3.6" fill="#8a8a14" stroke="#8a8a14" stroke-width="0.6"/>
<rect x="371.7" y="788.5" width="3.6" height="3.6" fill="#8a8a14" stroke="#8a8a14" stroke-width="0.6"/>
<rect x="399.2" y="787.5" width="3.6" height="3.6" fill="#8a8a14" stroke="#8a8a14" stroke-width="0.6"/>
<rect x="422.9" y="785.3" width="3.6" height="3.6" fill="#8a8a14" stroke="#8a8a14" stroke-width="0.6"/>
<circle cx="294.7" cy="795.7" r="1.8" fill="#ee1d23" stroke="#ee1d23" stroke-width="0.6"/>
<circle cx="314.4" cy="793.5" r="1.8" fill="#ee1d23" stroke="#ee1d23" stroke-width="0.6"/>
<circle cx="334.1" cy="791.9" r="1.8" fill="#ee1d23" stroke="#ee1d23" stroke-width="0.6"/>
<circle cx="353.8" cy="793.1" r="1.8" fill="#ee1d23" stroke="#ee1d23" stroke-width="0.6"/>
<circle cx="373.5" cy="789.3" r="1.8" fill="#ee1d23" stroke="#ee1d23" stroke-width="0.6"/>
<circle cx="401" cy="789.3" r="1.8" fill="#ee1d23" stroke="#ee1d23" stroke-width="0.6"/>
<circle cx="424.7" cy="787.8" r="1.8" fill="#ee1d23" stroke="#ee1d23" stroke-width="0.6"/>
<circle cx="332.9" cy="807.8" r="1.8" fill="#ee1d23" stroke="#ee1d23" stroke-width="0.6"/>
<rect x="331.1" y="813.9" width="3.6" height="3.6" fill="#8a8a14" stroke="#8a8a14" stroke-width="0.6"/>
<circle cx="332.9" cy="823.5" r="1.8" fill="#fff" stroke="#3a3aee" stroke-width="0.6"/>
<path d="M332.9 828.9L333.4 830.4L335 830.4L333.8 831.4L334.2 832.9L332.9 832L331.6 832.9L332 831.4L330.8 830.4L332.4 830.4Z" fill="#1a1a1a" stroke="#1a1a1a" stroke-width="0.6"/>
<path d="M332.9 836.5L334.9 840.1L330.9 840.1Z" fill="#22c422" stroke="#22c422" stroke-width="0.6"/>
<path d="M332.9 848.7L334.9 845.1L330.9 845.1Z" fill="#f7931e" stroke="#f7931e" stroke-width="0.6"/>
<path d="M332.9 852L334.7 854.2L332.9 856.4L331.1 854.2Z" fill="#a230ee" stroke="#a230ee" stroke-width="0.6"/>
<text x="432.4" y="764.8" font-size="12.50" fill="#000" style="stroke:#000;stroke-width:0.4px" font-weight="bold">k</text>
<text x="452.8" y="864.3" font-size="6.07" text-anchor="end" transform="translate(452.8 864.3) scale(1.07 1) translate(-452.8 -864.3)">0</text>
<text x="452.8" y="845.3" font-size="6.07" text-anchor="end" transform="translate(452.8 845.3) scale(1.07 1) translate(-452.8 -845.3)">20</text>
<text x="452.8" y="826.2" font-size="6.07" text-anchor="end" transform="translate(452.8 826.2) scale(1.07 1) translate(-452.8 -826.2)">40</text>
<text x="452.8" y="807.2" font-size="6.07" text-anchor="end" transform="translate(452.8 807.2) scale(1.07 1) translate(-452.8 -807.2)">60</text>
<text x="452.8" y="788.1" font-size="6.07" text-anchor="end" transform="translate(452.8 788.1) scale(1.07 1) translate(-452.8 -788.1)">80</text>
<text x="452.8" y="769.1" font-size="6.07" text-anchor="end" transform="translate(452.8 769.1) scale(1.07 1) translate(-452.8 -769.1)">100</text>
<text x="459.5" y="872.4" font-size="6.07" text-anchor="middle" transform="translate(459.5 872.4) scale(1.07 1) translate(-459.5 -872.4)">0</text>
<text x="469.9" y="872.4" font-size="6.07" text-anchor="middle" transform="translate(469.9 872.4) scale(1.07 1) translate(-469.9 -872.4)">5</text>
<text x="480.2" y="872.4" font-size="6.07" text-anchor="middle" transform="translate(480.2 872.4) scale(1.07 1) translate(-480.2 -872.4)">10</text>
<text x="510" y="872.4" font-size="6.07" text-anchor="middle" transform="translate(510 872.4) scale(1.07 1) translate(-510 -872.4)">45</text>
<text x="556" y="872.4" font-size="6.07" text-anchor="middle" transform="translate(556 872.4) scale(1.07 1) translate(-556 -872.4)">55</text>
<text x="602" y="872.4" font-size="6.07" text-anchor="middle" transform="translate(602 872.4) scale(1.07 1) translate(-602 -872.4)">65</text>
<text x="531.6" y="882.4" font-size="6.86" text-anchor="middle" transform="translate(531.6 882.4) scale(1.05 1) translate(-531.6 -882.4)">Days after 4T1 cells inoculation</text>
<text x="438" y="813.5" font-size="6.95" text-anchor="middle" transform="rotate(-90 438 813.5)">Percentage mice survival rate</text>
<polyline points="459.5,766.8 570.3,766.8 570.3,785.8 575,785.8 575,804.9 579.8,804.9 579.8,823.9 589.3,823.9 589.3,843 598.8,843 598.8,862" fill="none" stroke="#f7931e" stroke-width="1.0"/>
<polyline points="459.5,766.8 524.1,766.8 524.1,785.8 538,785.8 538,804.9 542.7,804.9 542.7,823.9 547.2,823.9 547.2,843 552.1,843 552.1,862" fill="none" stroke="#22c422" stroke-width="1.0"/>
<polyline points="459.5,766.8 524.1,766.8 524.1,785.8 528.9,785.8 528.9,804.9 533.4,804.9 533.4,823.9 542.7,823.9 542.7,843 542.7,843 542.7,862" fill="none" stroke="#a230ee" stroke-width="1.0"/>
<polyline points="459.5,766.8 523.5,766.8 523.5,785.8 533.4,785.8 533.4,804.9 542.7,804.9 542.7,823.9 545,823.9 545,843 547.2,843 547.2,862" fill="none" stroke="#1a1a1a" stroke-width="1.0"/>
<polyline points="459.5,766.8 528.9,766.8 528.9,785.8 538,785.8 538,804.9 542.7,804.9 542.7,823.9 552.1,823.9 552.1,843 556.7,843 556.7,862" fill="none" stroke="#3a3aee" stroke-width="1.0"/>
<polyline points="459.5,766.8 500.5,766.8 500.5,785.8 524.1,785.8 524.1,804.9 528.9,804.9 528.9,823.9 538,823.9 538,843 542.7,843 542.7,862" fill="none" stroke="#8a8a14" stroke-width="1.0"/>
<polyline points="459.5,766.8 491,766.8 491,785.8 509.7,785.8 509.7,804.9 514.7,804.9 514.7,823.9 519.2,823.9 519.2,843 524,843 524,862" fill="none" stroke="#ee1d23" stroke-width="1.0"/>
<text x="495" y="773.6" font-size="5.89" transform="translate(495 773.6) scale(1.07 1) translate(-495 -773.6)"><tspan font-style="italic">P</tspan> = 0.0044</text>
<polyline points="494.4,775 494.4,778.2" fill="none" stroke="#444" stroke-width="0.5"/>
<polyline points="522.6,775 522.6,778.2" fill="none" stroke="#444" stroke-width="0.5"/>
<text x="521" y="833.8" font-size="5.89" transform="translate(521 833.8) scale(1.07 1) translate(-521 -833.8)"><tspan font-style="italic">P</tspan> = 0.0471</text>
<polyline points="521,837.1 521,840.3" fill="none" stroke="#444" stroke-width="0.5"/>
<polyline points="536.4,837.1 536.4,840.3" fill="none" stroke="#444" stroke-width="0.5"/>
<text x="556" y="831.2" font-size="5.89" transform="translate(556 831.2) scale(1.07 1) translate(-556 -831.2)"><tspan font-style="italic">P</tspan> = 0.0018</text>
<polyline points="556,831.4 556,834.6" fill="none" stroke="#444" stroke-width="0.5"/>
<polyline points="584.4,831.4 584.4,834.6" fill="none" stroke="#444" stroke-width="0.5"/>
<text x="587.4" y="763.8" font-size="6.17" fill="#e8242b" style="stroke:#e8242b" transform="translate(587.4 763.8) scale(1.07 1) translate(-587.4 -763.8)">Median survival</text>
<text x="587.4" y="771" font-size="6.17" fill="#e8242b" style="stroke:#e8242b" transform="translate(587.4 771) scale(1.07 1) translate(-587.4 -771)">time (MST, day)</text>
<text x="606" y="782.3" font-size="6.07" text-anchor="end" fill="#ee1d23" style="stroke:#ee1d23" transform="translate(606 782.3) scale(1.07 1) translate(-606 -782.3)">46</text>
<text x="626.2" y="782.3" font-size="6.07" transform="translate(626.2 782.3) scale(1.07 1) translate(-626.2 -782.3)">5% Dextrose</text>
<text x="606" y="794.3" font-size="6.07" text-anchor="end" fill="#8a8a14" style="stroke:#8a8a14" transform="translate(606 794.3) scale(1.07 1) translate(-606 -794.3)">49</text>
<text x="626.2" y="794.3" font-size="6.07" transform="translate(626.2 794.3) scale(1.07 1) translate(-626.2 -794.3)">Taxol</text>
<text x="606" y="806.5" font-size="6.07" text-anchor="end" fill="#3a3aee" style="stroke:#3a3aee" transform="translate(606 806.5) scale(1.07 1) translate(-606 -806.5)">52</text>
<text x="626.2" y="806.5" font-size="6.07" transform="translate(626.2 806.5) scale(1.07 1) translate(-626.2 -806.5)">Abraxane</text>
<text x="606" y="818.3" font-size="6.07" text-anchor="end" transform="translate(606 818.3) scale(1.07 1) translate(-606 -818.3)">51</text>
<text x="626.2" y="818.3" font-size="6.07" transform="translate(626.2 818.3) scale(1.07 1) translate(-626.2 -818.3)">PTX/Lipo-SM</text>
<text x="606" y="829.7" font-size="6.07" text-anchor="end" fill="#22c422" style="stroke:#22c422" transform="translate(606 829.7) scale(1.07 1) translate(-606 -829.7)">52</text>
<text x="626.2" y="829.7" font-size="6.07" transform="translate(626.2 829.7) scale(1.07 1) translate(-626.2 -829.7)">Paclitaxome-1</text>
<text x="606" y="841.4" font-size="6.07" text-anchor="end" fill="#f7931e" style="stroke:#f7931e" transform="translate(606 841.4) scale(1.07 1) translate(-606 -841.4)">60</text>
<text x="626.2" y="841.4" font-size="6.07" transform="translate(626.2 841.4) scale(1.07 1) translate(-626.2 -841.4)">Paclitaxome-2</text>
<text x="606" y="853.6" font-size="6.07" text-anchor="end" fill="#a230ee" style="stroke:#a230ee" transform="translate(606 853.6) scale(1.07 1) translate(-606 -853.6)">50</text>
<text x="626.2" y="853.6" font-size="6.07" transform="translate(626.2 853.6) scale(1.07 1) translate(-626.2 -853.6)">Paclitaxome-3</text>
<path d="M459.5 766.8L459.5 862.3M459.2 861.5L481 861.5M486.5 861.5L603 861.5" stroke="#7a7a7a" stroke-width="0.85" fill="none"/>
<path d="M478 864L482.7 859.2M483.9 864L488.6 859.2M455.8 862L459.5 862M455.8 843L459.5 843M455.8 823.9L459.5 823.9M455.8 804.9L459.5 804.9M455.8 785.8L459.5 785.8M455.8 766.8L459.5 766.8" stroke="#7a7a7a" stroke-width="0.7" fill="none"/>
<path d="M459.5 862L459.5 863.8M469.9 862L469.9 863.8M480.2 862L480.2 863.8M510 862L510 863.8M556 862L556 863.8M602 862L602 863.8" stroke="#7a7a7a" stroke-width="0.6" fill="none"/>
<path d="M444.7 813.7L594 813.7" stroke="#ee2a2a" stroke-width="0.9" fill="none" stroke-dasharray="2.2,1.6"/>
<path d="M494.4 776.6L522.6 776.6M521 838.7L536.4 838.7M556 833L584.4 833" stroke="#444" stroke-width="0.5" fill="none"/>
<path d="M614.4 780L624 780" stroke="#ee1d23" stroke-width="1.0" fill="none"/>
<path d="M614.4 792L624 792" stroke="#8a8a14" stroke-width="1.0" fill="none"/>
<path d="M614.4 804.2L624 804.2" stroke="#3a3aee" stroke-width="1.0" fill="none"/>
<path d="M614.4 816L624 816" stroke="#1a1a1a" stroke-width="1.0" fill="none"/>
<path d="M614.4 827.4L624 827.4" stroke="#22c422" stroke-width="1.0" fill="none"/>
<path d="M614.4 839.1L624 839.1" stroke="#f7931e" stroke-width="1.0" fill="none"/>
<path d="M614.4 851.3L624 851.3" stroke="#a230ee" stroke-width="1.0" fill="none"/>
<path d="M570.3 788L572.3 784.4L568.3 784.4Z" fill="#f7931e" stroke="#f7931e" stroke-width="0.6"/>
<path d="M575 807L577 803.4L573 803.4Z" fill="#f7931e" stroke="#f7931e" stroke-width="0.6"/>
<path d="M579.8 826.1L581.8 822.5L577.8 822.5Z" fill="#f7931e" stroke="#f7931e" stroke-width="0.6"/>
<path d="M589.3 845.1L591.3 841.5L587.3 841.5Z" fill="#f7931e" stroke="#f7931e" stroke-width="0.6"/>
<path d="M598.8 864.2L600.8 860.6L596.8 860.6Z" fill="#f7931e" stroke="#f7931e" stroke-width="0.6"/>
<path d="M524.1 783.7L526.1 787.3L522.1 787.3Z" fill="#22c422" stroke="#22c422" stroke-width="0.6"/>
<path d="M538 802.7L540 806.3L536 806.3Z" fill="#22c422" stroke="#22c422" stroke-width="0.6"/>
<path d="M542.7 821.8L544.7 825.4L540.7 825.4Z" fill="#22c422" stroke="#22c422" stroke-width="0.6"/>
<path d="M547.2 840.8L549.2 844.4L545.2 844.4Z" fill="#22c422" stroke="#22c422" stroke-width="0.6"/>
<path d="M552.1 859.8L554.1 863.4L550.1 863.4Z" fill="#22c422" stroke="#22c422" stroke-width="0.6"/>
<path d="M524.1 783.7L525.9 785.8L524.1 788L522.3 785.8Z" fill="#a230ee" stroke="#a230ee" stroke-width="0.6"/>
<path d="M528.9 802.7L530.7 804.9L528.9 807L527.1 804.9Z" fill="#a230ee" stroke="#a230ee" stroke-width="0.6"/>
<path d="M533.4 821.8L535.2 823.9L533.4 826.1L531.6 823.9Z" fill="#a230ee" stroke="#a230ee" stroke-width="0.6"/>
<path d="M542.7 840.8L544.5 843L542.7 845.1L540.9 843Z" fill="#a230ee" stroke="#a230ee" stroke-width="0.6"/>
<path d="M542.7 859.8L544.5 862L542.7 864.2L540.9 862Z" fill="#a230ee" stroke="#a230ee" stroke-width="0.6"/>
<path d="M523.5 783.6L524 785.1L525.6 785.1L524.4 786.1L524.8 787.7L523.5 786.7L522.2 787.7L522.6 786.1L521.4 785.1L523 785.1Z" fill="#1a1a1a" stroke="#1a1a1a" stroke-width="0.6"/>
<path d="M533.4 802.6L533.9 804.2L535.5 804.2L534.3 805.2L534.7 806.7L533.4 805.8L532.1 806.7L532.5 805.2L531.3 804.2L532.9 804.2Z" fill="#1a1a1a" stroke="#1a1a1a" stroke-width="0.6"/>
<path d="M542.7 821.7L543.2 823.2L544.8 823.2L543.6 824.2L544 825.7L542.7 824.8L541.4 825.7L541.8 824.2L540.6 823.2L542.2 823.2Z" fill="#1a1a1a" stroke="#1a1a1a" stroke-width="0.6"/>
<path d="M545 840.7L545.5 842.2L547.1 842.3L545.9 843.2L546.3 844.8L545 843.9L543.7 844.8L544.1 843.2L542.9 842.3L544.5 842.2Z" fill="#1a1a1a" stroke="#1a1a1a" stroke-width="0.6"/>
<path d="M547.2 859.8L547.7 861.3L549.3 861.3L548.1 862.3L548.5 863.8L547.2 862.9L545.9 863.8L546.3 862.3L545.1 861.3L546.7 861.3Z" fill="#1a1a1a" stroke="#1a1a1a" stroke-width="0.6"/>
<circle cx="528.9" cy="785.8" r="1.8" fill="#fff" stroke="#3a3aee" stroke-width="0.6"/>
<circle cx="538" cy="804.9" r="1.8" fill="#fff" stroke="#3a3aee" stroke-width="0.6"/>
<circle cx="542.7" cy="823.9" r="1.8" fill="#fff" stroke="#3a3aee" stroke-width="0.6"/>
<circle cx="552.1" cy="843" r="1.8" fill="#fff" stroke="#3a3aee" stroke-width="0.6"/>
<circle cx="556.7" cy="862" r="1.8" fill="#fff" stroke="#3a3aee" stroke-width="0.6"/>
<rect x="498.7" y="784" width="3.6" height="3.6" fill="#8a8a14" stroke="#8a8a14" stroke-width="0.6"/>
<rect x="522.3" y="803.1" width="3.6" height="3.6" fill="#8a8a14" stroke="#8a8a14" stroke-width="0.6"/>
<rect x="527.1" y="822.1" width="3.6" height="3.6" fill="#8a8a14" stroke="#8a8a14" stroke-width="0.6"/>
<rect x="536.2" y="841.2" width="3.6" height="3.6" fill="#8a8a14" stroke="#8a8a14" stroke-width="0.6"/>
<rect x="540.9" y="860.2" width="3.6" height="3.6" fill="#8a8a14" stroke="#8a8a14" stroke-width="0.6"/>
<circle cx="491" cy="785.8" r="1.8" fill="#ee1d23" stroke="#ee1d23" stroke-width="0.6"/>
<circle cx="509.7" cy="804.9" r="1.8" fill="#ee1d23" stroke="#ee1d23" stroke-width="0.6"/>
<circle cx="514.7" cy="823.9" r="1.8" fill="#ee1d23" stroke="#ee1d23" stroke-width="0.6"/>
<circle cx="519.2" cy="843" r="1.8" fill="#ee1d23" stroke="#ee1d23" stroke-width="0.6"/>
<circle cx="524" cy="862" r="1.8" fill="#ee1d23" stroke="#ee1d23" stroke-width="0.6"/>
<circle cx="619.3" cy="780" r="1.8" fill="#ee1d23" stroke="#ee1d23" stroke-width="0.6"/>
<rect x="617.5" y="790.2" width="3.6" height="3.6" fill="#8a8a14" stroke="#8a8a14" stroke-width="0.6"/>
<circle cx="619.3" cy="804.2" r="1.8" fill="#fff" stroke="#3a3aee" stroke-width="0.6"/>
<path d="M619.3 813.8L619.8 815.3L621.4 815.3L620.2 816.3L620.6 817.8L619.3 816.9L618 817.8L618.4 816.3L617.2 815.3L618.8 815.3Z" fill="#1a1a1a" stroke="#1a1a1a" stroke-width="0.6"/>
<path d="M619.3 825.2L621.3 828.8L617.3 828.8Z" fill="#22c422" stroke="#22c422" stroke-width="0.6"/>
<path d="M619.3 841.3L621.3 837.7L617.3 837.7Z" fill="#f7931e" stroke="#f7931e" stroke-width="0.6"/>
<path d="M619.3 849.1L621.1 851.3L619.3 853.5L617.5 851.3Z" fill="#a230ee" stroke="#a230ee" stroke-width="0.6"/>
</g>
</svg>
</body></html>
